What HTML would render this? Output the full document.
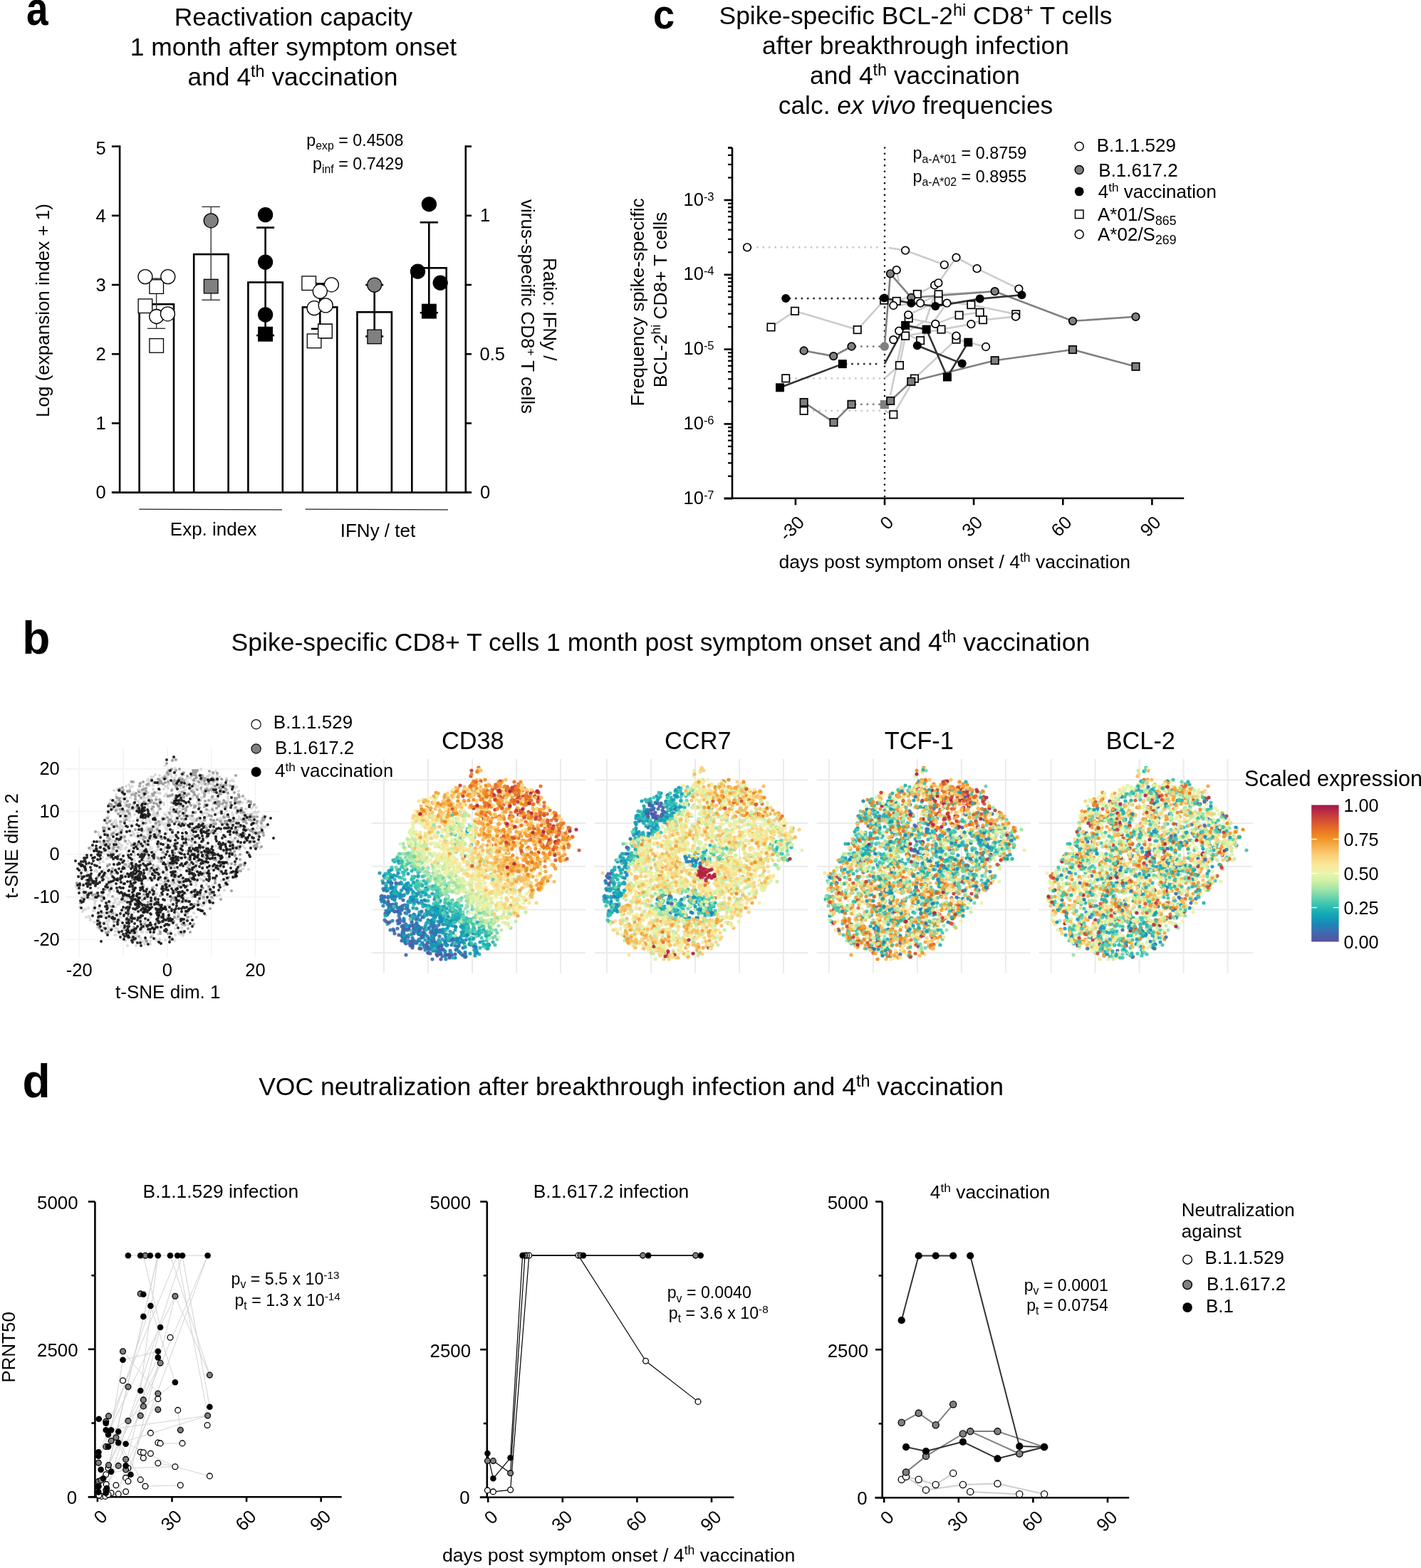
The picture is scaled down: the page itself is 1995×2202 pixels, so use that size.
<!DOCTYPE html>
<html><head><meta charset="utf-8"><title>Figure</title>
<style>
html,body{margin:0;padding:0;background:#fff;}
body{width:1995px;height:2202px;overflow:hidden;}
svg{display:block;}
text{font-family:"Liberation Sans", Arial, Helvetica, sans-serif;fill:#000;}
</style></head><body>
<svg width="1995" height="2202" viewBox="0 0 1995 2202">
<rect width="1995" height="2202" fill="#fff"/>
<text transform="translate(37 34.5) scale(0.86 1.03)" x="0" y="0" font-size="64" font-weight="bold">a</text>
<text transform="translate(31.2 917.8) scale(1.0 1.0)" x="0" y="0" font-size="64" font-weight="bold">b</text>
<text transform="translate(917 39.8) scale(0.85 0.9)" x="0" y="0" font-size="64" font-weight="bold">c</text>
<text transform="translate(31.5 1541.2) scale(1.0 1.03)" x="0" y="0" font-size="64" font-weight="bold">d</text>
<text x="412" y="35.5" font-size="35.4" text-anchor="middle">Reactivation capacity</text>
<text x="412" y="77.6" font-size="35.4" text-anchor="middle">1 month after symptom onset</text>
<text x="411" y="120.4" font-size="35.4" text-anchor="middle"><tspan>and 4</tspan><tspan font-size="23.4" dy="-12">th</tspan><tspan dy="12"> vaccination</tspan></text>
<text x="566.5" y="204.6" font-size="23.3" text-anchor="end"><tspan>p</tspan><tspan font-size="15.8" dy="5.1">exp</tspan><tspan dy="-5.1"> = 0.4508</tspan></text>
<text x="566.5" y="237.5" font-size="23.3" text-anchor="end"><tspan>p</tspan><tspan font-size="15.8" dy="5.1">inf</tspan><tspan dy="-5.1"> = 0.7429</tspan></text>
<line x1="168.1" y1="204.2" x2="168.1" y2="692.9" stroke="#000" stroke-width="2.6"/>
<line x1="156.9" y1="691.6" x2="168.1" y2="691.6" stroke="#000" stroke-width="2.6"/>
<text x="148.8" y="700.4" font-size="25.5" text-anchor="end">0</text>
<line x1="156.9" y1="594.4" x2="168.1" y2="594.4" stroke="#000" stroke-width="2.6"/>
<text x="148.8" y="603.2" font-size="25.5" text-anchor="end">1</text>
<line x1="156.9" y1="497.2" x2="168.1" y2="497.2" stroke="#000" stroke-width="2.6"/>
<text x="148.8" y="506" font-size="25.5" text-anchor="end">2</text>
<line x1="156.9" y1="400" x2="168.1" y2="400" stroke="#000" stroke-width="2.6"/>
<text x="148.8" y="408.8" font-size="25.5" text-anchor="end">3</text>
<line x1="156.9" y1="302.8" x2="168.1" y2="302.8" stroke="#000" stroke-width="2.6"/>
<text x="148.8" y="311.6" font-size="25.5" text-anchor="end">4</text>
<line x1="156.9" y1="205.6" x2="168.1" y2="205.6" stroke="#000" stroke-width="2.6"/>
<text x="148.8" y="217.1" font-size="25.5" text-anchor="end">5</text>
<line x1="156.9" y1="691.6" x2="662" y2="691.6" stroke="#000" stroke-width="2.6"/>
<line x1="653.8" y1="204.2" x2="653.8" y2="691.6" stroke="#000" stroke-width="2.6"/>
<line x1="653.8" y1="691.6" x2="662" y2="691.6" stroke="#000" stroke-width="2.6"/>
<line x1="653.8" y1="594.4" x2="662" y2="594.4" stroke="#000" stroke-width="2.6"/>
<line x1="653.8" y1="497.2" x2="662" y2="497.2" stroke="#000" stroke-width="2.6"/>
<line x1="653.8" y1="400" x2="662" y2="400" stroke="#000" stroke-width="2.6"/>
<line x1="653.8" y1="302.8" x2="662" y2="302.8" stroke="#000" stroke-width="2.6"/>
<line x1="653.8" y1="205.6" x2="662" y2="205.6" stroke="#000" stroke-width="2.6"/>
<text x="674" y="311.1" font-size="25.5">1</text>
<text x="673.5" y="506" font-size="25.5">0.5</text>
<text x="674" y="700.4" font-size="25.5">0</text>
<text transform="translate(69 436) rotate(-90)" x="0" y="0" font-size="26" text-anchor="middle">Log (expansion index + 1)</text>
<text transform="translate(762.5 434.3) rotate(90)" x="0" y="0" font-size="26" text-anchor="middle">Ratio: IFNy /</text>
<text transform="translate(731.5 430.5) rotate(90)" x="0" y="0" font-size="26" text-anchor="middle"><tspan>virus-specific CD8</tspan><tspan font-size="17.2" dy="-8.8">+</tspan><tspan dy="8.8"> T cells</tspan></text>
<rect x="195.6" y="427.2" width="48.4" height="264.4" fill="#fff" stroke="#000" stroke-width="2.6"/>
<rect x="272.2" y="357.1" width="48.4" height="334.5" fill="#fff" stroke="#000" stroke-width="2.6"/>
<rect x="348.4" y="396.5" width="48.4" height="295.1" fill="#fff" stroke="#000" stroke-width="2.6"/>
<rect x="424.9" y="431.4" width="48.4" height="260.2" fill="#fff" stroke="#000" stroke-width="2.6"/>
<rect x="501.5" y="438.3" width="48.4" height="253.3" fill="#fff" stroke="#000" stroke-width="2.6"/>
<rect x="578.3" y="376.3" width="48.4" height="315.3" fill="#fff" stroke="#000" stroke-width="2.6"/>
<line x1="219.6" y1="391.1" x2="219.6" y2="461.3" stroke="#333" stroke-width="1.4"/>
<line x1="207.1" y1="391.1" x2="232.1" y2="391.1" stroke="#333" stroke-width="1.4"/>
<line x1="207.1" y1="461.3" x2="232.1" y2="461.3" stroke="#333" stroke-width="1.4"/>
<line x1="296.2" y1="290.4" x2="296.2" y2="421.3" stroke="#333" stroke-width="1.4"/>
<line x1="283.4" y1="290.4" x2="308.9" y2="290.4" stroke="#333" stroke-width="1.4"/>
<line x1="283.4" y1="421.3" x2="308.9" y2="421.3" stroke="#333" stroke-width="1.4"/>
<line x1="372.6" y1="319.6" x2="372.6" y2="471" stroke="#000" stroke-width="2.6"/>
<line x1="360.1" y1="319.6" x2="385.1" y2="319.6" stroke="#000" stroke-width="2.6"/>
<line x1="360.1" y1="471" x2="385.1" y2="471" stroke="#000" stroke-width="2.6"/>
<line x1="449.3" y1="398.5" x2="449.3" y2="461.8" stroke="#000" stroke-width="2.6"/>
<line x1="436.8" y1="398.5" x2="461.8" y2="398.5" stroke="#000" stroke-width="2.6"/>
<line x1="436.8" y1="461.8" x2="461.8" y2="461.8" stroke="#000" stroke-width="2.6"/>
<line x1="525.7" y1="400.1" x2="525.7" y2="472.4" stroke="#000" stroke-width="2.6"/>
<line x1="513.2" y1="400.1" x2="538.2" y2="400.1" stroke="#000" stroke-width="2.6"/>
<line x1="513.2" y1="472.4" x2="538.2" y2="472.4" stroke="#000" stroke-width="2.6"/>
<line x1="602.3" y1="312.3" x2="602.3" y2="439.2" stroke="#000" stroke-width="2.6"/>
<line x1="589.7" y1="312.3" x2="614.9" y2="312.3" stroke="#000" stroke-width="2.6"/>
<line x1="589.7" y1="439.2" x2="614.9" y2="439.2" stroke="#000" stroke-width="2.6"/>
<rect x="209.9" y="392.8" width="19.6" height="19.6" fill="#fff" stroke="#000" stroke-width="1.3"/>
<rect x="194.1" y="419.9" width="19.6" height="19.6" fill="#fff" stroke="#000" stroke-width="1.3"/>
<rect x="209.9" y="475.6" width="19.6" height="19.6" fill="#fff" stroke="#000" stroke-width="1.3"/>
<circle cx="203.9" cy="388.6" r="10" fill="#fff" stroke="#000" stroke-width="1.3"/>
<circle cx="235.8" cy="388.6" r="10" fill="#fff" stroke="#000" stroke-width="1.3"/>
<circle cx="219.7" cy="444.5" r="10" fill="#fff" stroke="#000" stroke-width="1.3"/>
<circle cx="235.4" cy="440.8" r="10" fill="#fff" stroke="#000" stroke-width="1.3"/>
<circle cx="296.2" cy="309.8" r="10" fill="#808080" stroke="#000" stroke-width="1.3"/>
<rect x="286.4" y="392.3" width="19.6" height="19.6" fill="#808080" stroke="#000" stroke-width="1.3"/>
<circle cx="372.6" cy="301.6" r="10" fill="#000" stroke="#000" stroke-width="1.3"/>
<circle cx="372.6" cy="368.1" r="10" fill="#000" stroke="#000" stroke-width="1.3"/>
<circle cx="372.6" cy="441.9" r="10" fill="#000" stroke="#000" stroke-width="1.3"/>
<rect x="362.8" y="459.4" width="19.6" height="19.6" fill="#000" stroke="#000" stroke-width="1.3"/>
<rect x="423.9" y="387.9" width="19.6" height="19.6" fill="#fff" stroke="#000" stroke-width="1.3"/>
<rect x="446.7" y="455.2" width="19.6" height="19.6" fill="#fff" stroke="#000" stroke-width="1.3"/>
<rect x="431.3" y="469" width="19.6" height="19.6" fill="#fff" stroke="#000" stroke-width="1.3"/>
<circle cx="465.4" cy="399.8" r="10" fill="#fff" stroke="#000" stroke-width="1.3"/>
<circle cx="449.3" cy="409.2" r="10" fill="#fff" stroke="#000" stroke-width="1.3"/>
<circle cx="441.1" cy="432.7" r="10" fill="#fff" stroke="#000" stroke-width="1.3"/>
<circle cx="457.2" cy="428.9" r="10" fill="#fff" stroke="#000" stroke-width="1.3"/>
<rect x="446.7" y="455.2" width="19.6" height="19.6" fill="#fff" stroke="#000" stroke-width="1.3"/>
<circle cx="525.7" cy="400.1" r="10" fill="#808080" stroke="#000" stroke-width="1.3"/>
<rect x="515.9" y="463.1" width="19.6" height="19.6" fill="#808080" stroke="#000" stroke-width="1.3"/>
<circle cx="602.4" cy="286.8" r="10" fill="#000" stroke="#000" stroke-width="1.3"/>
<circle cx="586.5" cy="381.2" r="10" fill="#000" stroke="#000" stroke-width="1.3"/>
<circle cx="618.2" cy="397.2" r="10" fill="#000" stroke="#000" stroke-width="1.3"/>
<rect x="592.6" y="427.3" width="19.6" height="19.6" fill="#000" stroke="#000" stroke-width="1.3"/>
<line x1="195.2" y1="715.2" x2="396" y2="715.8" stroke="#222" stroke-width="1.3"/>
<line x1="428.6" y1="715.2" x2="629" y2="715.8" stroke="#222" stroke-width="1.3"/>
<text x="299.5" y="752.3" font-size="26" text-anchor="middle">Exp. index</text>
<text x="530.5" y="754.3" font-size="26" text-anchor="middle">IFNy / tet</text>
<text x="1285.5" y="34.2" font-size="35.4" text-anchor="middle"><tspan>Spike-specific BCL-2</tspan><tspan font-size="23.4" dy="-12">hi</tspan><tspan dy="12"> CD8</tspan><tspan font-size="23.4" dy="-12">+</tspan><tspan dy="12"> T cells</tspan></text>
<text x="1285.5" y="75.8" font-size="35.4" text-anchor="middle">after breakthrough infection</text>
<text x="1284.5" y="118.3" font-size="35.4" text-anchor="middle"><tspan>and 4</tspan><tspan font-size="23.4" dy="-12">th</tspan><tspan dy="12"> vaccination</tspan></text>
<text x="1285.5" y="159.9" font-size="35.4" text-anchor="middle"><tspan>calc. </tspan><tspan font-style="italic">ex vivo</tspan><tspan> frequencies</tspan></text>
<line x1="1028" y1="207.4" x2="1028" y2="701.1" stroke="#000" stroke-width="2.6"/>
<line x1="1022" y1="207.4" x2="1028" y2="207.4" stroke="#000" stroke-width="2.6"/>
<line x1="1016.6" y1="281" x2="1028" y2="281" stroke="#000" stroke-width="2.6"/>
<text x="959.5" y="288.6" font-size="25.5">10<tspan font-size="16.5" dy="-7">-3</tspan></text>
<line x1="1016.6" y1="385.8" x2="1028" y2="385.8" stroke="#000" stroke-width="2.6"/>
<text x="959.5" y="393.4" font-size="25.5">10<tspan font-size="16.5" dy="-7">-4</tspan></text>
<line x1="1016.6" y1="490.6" x2="1028" y2="490.6" stroke="#000" stroke-width="2.6"/>
<text x="959.5" y="498.2" font-size="25.5">10<tspan font-size="16.5" dy="-7">-5</tspan></text>
<line x1="1016.6" y1="595.4" x2="1028" y2="595.4" stroke="#000" stroke-width="2.6"/>
<text x="959.5" y="603" font-size="25.5">10<tspan font-size="16.5" dy="-7">-6</tspan></text>
<line x1="1016.6" y1="700.2" x2="1028" y2="700.2" stroke="#000" stroke-width="2.6"/>
<text x="959.5" y="707.8" font-size="25.5">10<tspan font-size="16.5" dy="-7">-7</tspan></text>
<line x1="1022" y1="249.5" x2="1028" y2="249.5" stroke="#000" stroke-width="2.2"/>
<line x1="1022" y1="231" x2="1028" y2="231" stroke="#000" stroke-width="2.2"/>
<line x1="1022" y1="217.9" x2="1028" y2="217.9" stroke="#000" stroke-width="2.2"/>
<line x1="1022" y1="207.7" x2="1028" y2="207.7" stroke="#000" stroke-width="2.2"/>
<line x1="1022" y1="354.3" x2="1028" y2="354.3" stroke="#000" stroke-width="2.2"/>
<line x1="1022" y1="335.8" x2="1028" y2="335.8" stroke="#000" stroke-width="2.2"/>
<line x1="1022" y1="322.7" x2="1028" y2="322.7" stroke="#000" stroke-width="2.2"/>
<line x1="1022" y1="312.5" x2="1028" y2="312.5" stroke="#000" stroke-width="2.2"/>
<line x1="1022" y1="304.2" x2="1028" y2="304.2" stroke="#000" stroke-width="2.2"/>
<line x1="1022" y1="297.2" x2="1028" y2="297.2" stroke="#000" stroke-width="2.2"/>
<line x1="1022" y1="291.2" x2="1028" y2="291.2" stroke="#000" stroke-width="2.2"/>
<line x1="1022" y1="285.8" x2="1028" y2="285.8" stroke="#000" stroke-width="2.2"/>
<line x1="1022" y1="459.1" x2="1028" y2="459.1" stroke="#000" stroke-width="2.2"/>
<line x1="1022" y1="440.6" x2="1028" y2="440.6" stroke="#000" stroke-width="2.2"/>
<line x1="1022" y1="427.5" x2="1028" y2="427.5" stroke="#000" stroke-width="2.2"/>
<line x1="1022" y1="417.3" x2="1028" y2="417.3" stroke="#000" stroke-width="2.2"/>
<line x1="1022" y1="409" x2="1028" y2="409" stroke="#000" stroke-width="2.2"/>
<line x1="1022" y1="402" x2="1028" y2="402" stroke="#000" stroke-width="2.2"/>
<line x1="1022" y1="396" x2="1028" y2="396" stroke="#000" stroke-width="2.2"/>
<line x1="1022" y1="390.6" x2="1028" y2="390.6" stroke="#000" stroke-width="2.2"/>
<line x1="1022" y1="563.9" x2="1028" y2="563.9" stroke="#000" stroke-width="2.2"/>
<line x1="1022" y1="545.4" x2="1028" y2="545.4" stroke="#000" stroke-width="2.2"/>
<line x1="1022" y1="532.3" x2="1028" y2="532.3" stroke="#000" stroke-width="2.2"/>
<line x1="1022" y1="522.1" x2="1028" y2="522.1" stroke="#000" stroke-width="2.2"/>
<line x1="1022" y1="513.8" x2="1028" y2="513.8" stroke="#000" stroke-width="2.2"/>
<line x1="1022" y1="506.8" x2="1028" y2="506.8" stroke="#000" stroke-width="2.2"/>
<line x1="1022" y1="500.8" x2="1028" y2="500.8" stroke="#000" stroke-width="2.2"/>
<line x1="1022" y1="495.4" x2="1028" y2="495.4" stroke="#000" stroke-width="2.2"/>
<line x1="1022" y1="668.7" x2="1028" y2="668.7" stroke="#000" stroke-width="2.2"/>
<line x1="1022" y1="650.2" x2="1028" y2="650.2" stroke="#000" stroke-width="2.2"/>
<line x1="1022" y1="637.1" x2="1028" y2="637.1" stroke="#000" stroke-width="2.2"/>
<line x1="1022" y1="626.9" x2="1028" y2="626.9" stroke="#000" stroke-width="2.2"/>
<line x1="1022" y1="618.6" x2="1028" y2="618.6" stroke="#000" stroke-width="2.2"/>
<line x1="1022" y1="611.6" x2="1028" y2="611.6" stroke="#000" stroke-width="2.2"/>
<line x1="1022" y1="605.6" x2="1028" y2="605.6" stroke="#000" stroke-width="2.2"/>
<line x1="1022" y1="600.2" x2="1028" y2="600.2" stroke="#000" stroke-width="2.2"/>
<line x1="1016.8" y1="699.8" x2="1662.2" y2="699.8" stroke="#000" stroke-width="2.6"/>
<line x1="1116.9" y1="699.8" x2="1116.9" y2="709.3" stroke="#000" stroke-width="2.6"/>
<text transform="translate(1130.9 735.3) rotate(-45)" x="0" y="0" font-size="25.5" text-anchor="end">-30</text>
<line x1="1242" y1="699.8" x2="1242" y2="709.3" stroke="#000" stroke-width="2.6"/>
<text transform="translate(1256 735.3) rotate(-45)" x="0" y="0" font-size="25.5" text-anchor="end">0</text>
<line x1="1367.1" y1="699.8" x2="1367.1" y2="709.3" stroke="#000" stroke-width="2.6"/>
<text transform="translate(1381.1 735.3) rotate(-45)" x="0" y="0" font-size="25.5" text-anchor="end">30</text>
<line x1="1492.3" y1="699.8" x2="1492.3" y2="709.3" stroke="#000" stroke-width="2.6"/>
<text transform="translate(1506.3 735.3) rotate(-45)" x="0" y="0" font-size="25.5" text-anchor="end">60</text>
<line x1="1617.4" y1="699.8" x2="1617.4" y2="709.3" stroke="#000" stroke-width="2.6"/>
<text transform="translate(1631.4 735.3) rotate(-45)" x="0" y="0" font-size="25.5" text-anchor="end">90</text>
<text x="1340.3" y="797.9" font-size="26.6" text-anchor="middle"><tspan>days post symptom onset / 4</tspan><tspan font-size="17.6" dy="-9">th</tspan><tspan dy="9"> vaccination</tspan></text>
<text transform="translate(903.5 424.3) rotate(-90)" x="0" y="0" font-size="26.5" text-anchor="middle" textLength="292.4" lengthAdjust="spacingAndGlyphs">Frequency spike-specific</text>
<text transform="translate(935.6 421) rotate(-90)" x="0" y="0" font-size="26.5" text-anchor="middle" textLength="246.4" lengthAdjust="spacingAndGlyphs"><tspan>BCL-2</tspan><tspan font-size="17.5" dy="-9">hi</tspan><tspan dy="9"> CD8+ T cells</tspan></text>
<line x1="1242" y1="207.5" x2="1242" y2="699" stroke="#000" stroke-width="2.6" stroke-dasharray="0 8.3" stroke-linecap="round"/>
<polyline points="1082.5,459.4 1116,436.8 1203.7,463.1 1241.2,421.6" fill="none" stroke="#cccccc" stroke-width="2.6" stroke-linejoin="round"/>
<polyline points="1241.2,421.6 1258.7,422.9 1287.8,413 1312.1,400.5" fill="none" stroke="#cccccc" stroke-width="2.6" stroke-linejoin="round"/>
<polyline points="1248,348 1271.1,351.7 1325.8,371.8" fill="none" stroke="#cccccc" stroke-width="2.6" stroke-linejoin="round"/>
<polyline points="1317.4,397.3 1342.5,361.6 1371.6,377.2 1430.4,405.6" fill="none" stroke="#cccccc" stroke-width="2.6" stroke-linejoin="round"/>
<polyline points="1254.3,429 1292.1,425.7 1317.6,413.4 1396,409" fill="none" stroke="#cccccc" stroke-width="2.6" stroke-linejoin="round"/>
<polyline points="1275.2,442.1 1317.6,422.4 1363.4,428.1 1426.3,441.3" fill="none" stroke="#cccccc" stroke-width="2.6" stroke-linejoin="round"/>
<polyline points="1275.7,447 1313.3,454.9 1346.6,442.6 1375.7,438.8" fill="none" stroke="#cccccc" stroke-width="2.6" stroke-linejoin="round"/>
<polyline points="1271.1,471.7 1321.5,462.6 1363.4,455.2 1380,449.2 1426,444.6" fill="none" stroke="#cccccc" stroke-width="2.6" stroke-linejoin="round"/>
<polyline points="1262.2,464.6 1292.1,478.2 1329.4,425.7" fill="none" stroke="#cccccc" stroke-width="2.6" stroke-linejoin="round"/>
<polyline points="1254.3,477.1 1300,450 1317.4,397.3" fill="none" stroke="#cccccc" stroke-width="2.6" stroke-linejoin="round"/>
<polyline points="1242,531.3 1262.9,513.1 1271.1,471.7" fill="none" stroke="#cccccc" stroke-width="2.6" stroke-linejoin="round"/>
<polyline points="1242,576.8 1254.3,582.2 1283.9,531.6 1342.5,476.6 1384.1,487" fill="none" stroke="#cccccc" stroke-width="2.6" stroke-linejoin="round"/>
<polyline points="1250,555 1266,480 1275.2,442.1" fill="none" stroke="#cccccc" stroke-width="2.6" stroke-linejoin="round"/>
<polyline points="1321.5,462.6 1342.5,471.7 1342.5,476.6" fill="none" stroke="#cccccc" stroke-width="2.6" stroke-linejoin="round"/>
<polyline points="1258.4,379.2 1262,395" fill="none" stroke="#cccccc" stroke-width="2.6" stroke-linejoin="round"/>
<line x1="1055" y1="347.3" x2="1238" y2="347.3" stroke="#cccccc" stroke-width="3" stroke-dasharray="0 8.4" stroke-linecap="round"/>
<line x1="1109" y1="531.3" x2="1238" y2="531.3" stroke="#cccccc" stroke-width="3" stroke-dasharray="0 8.4" stroke-linecap="round"/>
<line x1="1134" y1="576.8" x2="1238" y2="576.8" stroke="#cccccc" stroke-width="3" stroke-dasharray="0 8.4" stroke-linecap="round"/>
<line x1="1109" y1="418.9" x2="1236" y2="418.9" stroke="#333333" stroke-width="3" stroke-dasharray="0 8.4" stroke-linecap="round"/>
<line x1="1188" y1="511.1" x2="1236" y2="511.1" stroke="#333333" stroke-width="3" stroke-dasharray="0 8.4" stroke-linecap="round"/>
<line x1="1201" y1="486.5" x2="1236" y2="486.5" stroke="#808080" stroke-width="3" stroke-dasharray="0 8.4" stroke-linecap="round"/>
<line x1="1201" y1="567.8" x2="1236" y2="567.8" stroke="#808080" stroke-width="3" stroke-dasharray="0 8.4" stroke-linecap="round"/>
<polyline points="1128.6,492.5 1170.2,500.1 1195.5,486.5" fill="none" stroke="#808080" stroke-width="2.6" stroke-linejoin="round"/>
<polyline points="1241.8,486.5 1250,384.3 1279.3,418 1396.7,409.2 1506,450.8 1594.5,444.8" fill="none" stroke="#808080" stroke-width="2.6" stroke-linejoin="round"/>
<polyline points="1128.6,565 1170.5,593.2 1195.5,567.8" fill="none" stroke="#808080" stroke-width="2.6" stroke-linejoin="round"/>
<polyline points="1241.8,568.1 1250.2,562.9 1279.3,535.8 1396.7,506.2 1506,491 1594.5,514.8" fill="none" stroke="#808080" stroke-width="2.6" stroke-linejoin="round"/>
<polyline points="1241.5,418.6 1279.3,425.7 1313.3,430.1 1375.7,419.6 1434.5,414.2" fill="none" stroke="#333333" stroke-width="2.6" stroke-linejoin="round"/>
<polyline points="1287.8,485.3 1350.7,510.6" fill="none" stroke="#333333" stroke-width="2.6" stroke-linejoin="round"/>
<polyline points="1095,544.3 1182.8,511.1" fill="none" stroke="#333333" stroke-width="2.6" stroke-linejoin="round"/>
<polyline points="1241.8,511.1 1271.1,456.9 1300.6,462.6 1329.9,529.5 1359.3,480.7" fill="none" stroke="#333333" stroke-width="2.6" stroke-linejoin="round"/>
<rect x="1077.3" y="454.2" width="10.4" height="10.4" fill="#fff" stroke="#000" stroke-width="1.7"/>
<rect x="1110.8" y="431.6" width="10.4" height="10.4" fill="#fff" stroke="#000" stroke-width="1.7"/>
<rect x="1198.5" y="457.9" width="10.4" height="10.4" fill="#fff" stroke="#000" stroke-width="1.7"/>
<rect x="1098" y="526.1" width="10.4" height="10.4" fill="#fff" stroke="#000" stroke-width="1.7"/>
<rect x="1123.4" y="571.6" width="10.4" height="10.4" fill="#fff" stroke="#000" stroke-width="1.7"/>
<rect x="1236" y="416.4" width="10.4" height="10.4" fill="#fff" stroke="#000" stroke-width="1.7"/>
<rect x="1253.5" y="417.7" width="10.4" height="10.4" fill="#fff" stroke="#000" stroke-width="1.7"/>
<rect x="1282.6" y="407.8" width="10.4" height="10.4" fill="#fff" stroke="#000" stroke-width="1.7"/>
<rect x="1312.4" y="408.2" width="10.4" height="10.4" fill="#fff" stroke="#000" stroke-width="1.7"/>
<rect x="1312.4" y="417.2" width="10.4" height="10.4" fill="#fff" stroke="#000" stroke-width="1.7"/>
<rect x="1358.2" y="422.9" width="10.4" height="10.4" fill="#fff" stroke="#000" stroke-width="1.7"/>
<rect x="1370.5" y="433.6" width="10.4" height="10.4" fill="#fff" stroke="#000" stroke-width="1.7"/>
<rect x="1341.4" y="437.4" width="10.4" height="10.4" fill="#fff" stroke="#000" stroke-width="1.7"/>
<rect x="1421.1" y="436.1" width="10.4" height="10.4" fill="#fff" stroke="#000" stroke-width="1.7"/>
<rect x="1374.8" y="444" width="10.4" height="10.4" fill="#fff" stroke="#000" stroke-width="1.7"/>
<rect x="1270.5" y="441.8" width="10.4" height="10.4" fill="#fff" stroke="#000" stroke-width="1.7"/>
<rect x="1265.9" y="466.5" width="10.4" height="10.4" fill="#fff" stroke="#000" stroke-width="1.7"/>
<rect x="1316.3" y="457.4" width="10.4" height="10.4" fill="#fff" stroke="#000" stroke-width="1.7"/>
<rect x="1286.9" y="473" width="10.4" height="10.4" fill="#fff" stroke="#000" stroke-width="1.7"/>
<rect x="1337.3" y="471.4" width="10.4" height="10.4" fill="#fff" stroke="#000" stroke-width="1.7"/>
<rect x="1257.7" y="507.9" width="10.4" height="10.4" fill="#fff" stroke="#000" stroke-width="1.7"/>
<rect x="1278.7" y="526.4" width="10.4" height="10.4" fill="#fff" stroke="#000" stroke-width="1.7"/>
<rect x="1249.1" y="577" width="10.4" height="10.4" fill="#fff" stroke="#000" stroke-width="1.7"/>
<circle cx="1049" cy="347.3" r="5.3" fill="#fff" stroke="#000" stroke-width="1.7"/>
<circle cx="1271.1" cy="351.7" r="5.3" fill="#fff" stroke="#000" stroke-width="1.7"/>
<circle cx="1325.8" cy="371.8" r="5.3" fill="#fff" stroke="#000" stroke-width="1.7"/>
<circle cx="1342.5" cy="361.6" r="5.3" fill="#fff" stroke="#000" stroke-width="1.7"/>
<circle cx="1371.6" cy="377.2" r="5.3" fill="#fff" stroke="#000" stroke-width="1.7"/>
<circle cx="1430.4" cy="405.6" r="5.3" fill="#fff" stroke="#000" stroke-width="1.7"/>
<circle cx="1258.7" cy="379.2" r="5.3" fill="#fff" stroke="#000" stroke-width="1.7"/>
<circle cx="1312.1" cy="400.5" r="5.3" fill="#fff" stroke="#000" stroke-width="1.7"/>
<circle cx="1317.4" cy="397.3" r="5.3" fill="#fff" stroke="#000" stroke-width="1.7"/>
<circle cx="1254.3" cy="429" r="5.3" fill="#fff" stroke="#000" stroke-width="1.7"/>
<circle cx="1292.1" cy="425.7" r="5.3" fill="#fff" stroke="#000" stroke-width="1.7"/>
<circle cx="1329.4" cy="425.7" r="5.3" fill="#fff" stroke="#000" stroke-width="1.7"/>
<circle cx="1275.2" cy="442.1" r="5.3" fill="#fff" stroke="#000" stroke-width="1.7"/>
<circle cx="1313.3" cy="454.9" r="5.3" fill="#fff" stroke="#000" stroke-width="1.7"/>
<circle cx="1363.4" cy="455.2" r="5.3" fill="#fff" stroke="#000" stroke-width="1.7"/>
<circle cx="1426" cy="444.6" r="5.3" fill="#fff" stroke="#000" stroke-width="1.7"/>
<circle cx="1262.2" cy="464.6" r="5.3" fill="#fff" stroke="#000" stroke-width="1.7"/>
<circle cx="1254.3" cy="477.1" r="5.3" fill="#fff" stroke="#000" stroke-width="1.7"/>
<circle cx="1342.5" cy="471.7" r="5.3" fill="#fff" stroke="#000" stroke-width="1.7"/>
<circle cx="1384.1" cy="487" r="5.3" fill="#fff" stroke="#000" stroke-width="1.7"/>
<circle cx="1241.8" cy="486.5" r="6.2" fill="#808080"/>
<rect x="1235.7" y="562" width="12.2" height="12.2" fill="#808080"/>
<circle cx="1128.6" cy="492.5" r="5.3" fill="#808080" stroke="#000" stroke-width="1.7"/>
<circle cx="1170.2" cy="500.1" r="5.3" fill="#808080" stroke="#000" stroke-width="1.7"/>
<circle cx="1195.5" cy="486.5" r="5.3" fill="#808080" stroke="#000" stroke-width="1.7"/>
<circle cx="1250" cy="384.3" r="5.3" fill="#808080" stroke="#000" stroke-width="1.7"/>
<circle cx="1279.3" cy="418" r="5.3" fill="#808080" stroke="#000" stroke-width="1.7"/>
<circle cx="1396.7" cy="409.2" r="5.3" fill="#808080" stroke="#000" stroke-width="1.7"/>
<circle cx="1506" cy="450.8" r="5.3" fill="#808080" stroke="#000" stroke-width="1.7"/>
<circle cx="1594.5" cy="444.8" r="5.3" fill="#808080" stroke="#000" stroke-width="1.7"/>
<rect x="1123.4" y="559.8" width="10.4" height="10.4" fill="#808080" stroke="#000" stroke-width="1.7"/>
<rect x="1165.3" y="588" width="10.4" height="10.4" fill="#808080" stroke="#000" stroke-width="1.7"/>
<rect x="1190.3" y="562.6" width="10.4" height="10.4" fill="#808080" stroke="#000" stroke-width="1.7"/>
<rect x="1245" y="557.7" width="10.4" height="10.4" fill="#808080" stroke="#000" stroke-width="1.7"/>
<rect x="1274.1" y="530.6" width="10.4" height="10.4" fill="#808080" stroke="#000" stroke-width="1.7"/>
<rect x="1391.5" y="501" width="10.4" height="10.4" fill="#808080" stroke="#000" stroke-width="1.7"/>
<rect x="1500.8" y="485.8" width="10.4" height="10.4" fill="#808080" stroke="#000" stroke-width="1.7"/>
<rect x="1589.3" y="509.6" width="10.4" height="10.4" fill="#808080" stroke="#000" stroke-width="1.7"/>
<circle cx="1103.2" cy="418.9" r="6.0" fill="#000"/>
<circle cx="1241.5" cy="418.6" r="6.0" fill="#000"/>
<circle cx="1279.3" cy="425.7" r="6.0" fill="#000"/>
<circle cx="1313.3" cy="430.1" r="6.0" fill="#000"/>
<circle cx="1375.7" cy="419.6" r="6.0" fill="#000"/>
<circle cx="1434.5" cy="414.2" r="6.0" fill="#000"/>
<circle cx="1287.8" cy="485.3" r="6.0" fill="#000"/>
<circle cx="1350.7" cy="510.6" r="6.0" fill="#000"/>
<rect x="1089" y="538.3" width="12" height="12" fill="#000"/>
<rect x="1176.8" y="505.1" width="12" height="12" fill="#000"/>
<rect x="1265.1" y="450.9" width="12" height="12" fill="#000"/>
<rect x="1294.6" y="456.6" width="12" height="12" fill="#000"/>
<rect x="1323.9" y="523.5" width="12" height="12" fill="#000"/>
<rect x="1353.3" y="474.7" width="12" height="12" fill="#000"/>
<text x="1281.5" y="223.4" font-size="23.4"><tspan>p</tspan><tspan font-size="15.9" dy="5.1">a-A*01</tspan><tspan dy="-5.1"> = 0.8759</tspan></text>
<text x="1281.5" y="256.2" font-size="23.4"><tspan>p</tspan><tspan font-size="15.9" dy="5.1">a-A*02</tspan><tspan dy="-5.1"> = 0.8955</tspan></text>
<circle cx="1515.2" cy="205.5" r="6.0" fill="#fff" stroke="#000" stroke-width="1.5"/>
<circle cx="1515.2" cy="238.6" r="6.0" fill="#808080" stroke="#000" stroke-width="1.5"/>
<circle cx="1515.2" cy="268.9" r="6.4" fill="#000"/>
<rect x="1509.5" y="295.1" width="11.5" height="11.5" fill="#fff" stroke="#000" stroke-width="1.5"/>
<circle cx="1515.2" cy="329.1" r="6.0" fill="#fff" stroke="#000" stroke-width="1.5"/>
<text x="1539.7" y="213.4" font-size="26">B.1.1.529</text>
<text x="1542.3" y="247.8" font-size="26">B.1.617.2</text>
<text x="1541.8" y="277.8" font-size="26"><tspan>4</tspan><tspan font-size="17.2" dy="-8.8">th</tspan><tspan dy="8.8"> vaccination</tspan></text>
<text x="1541" y="310.1" font-size="26"><tspan>A*01/S</tspan><tspan font-size="17.7" dy="5.7">865</tspan></text>
<text x="1541" y="337.7" font-size="26"><tspan>A*02/S</tspan><tspan font-size="17.7" dy="5.7">269</tspan></text>
<text x="324.5" y="913.8" font-size="35.6"><tspan>Spike-specific CD8+ T cells 1 month post symptom onset and 4</tspan><tspan font-size="23.5" dy="-12.1">th</tspan><tspan dy="12.1"> vaccination</tspan></text>
<path d="M111.3 1049.7V1344.3M92.2 1319.5H392.1M173.1 1049.7V1344.3M92.2 1259.6H392.1M234.9 1049.7V1344.3M92.2 1199.7H392.1M296.7 1049.7V1344.3M92.2 1139.8H392.1M358.5 1049.7V1344.3M92.2 1079.9H392.1" stroke="#f3f3f3" stroke-width="1.6" fill="none"/>
<defs><filter id="bl" x="-5%" y="-5%" width="110%" height="110%"><feGaussianBlur stdDeviation="0.5"/></filter><filter id="bl2" x="-5%" y="-5%" width="110%" height="110%"><feGaussianBlur stdDeviation="0.4"/></filter></defs>
<g filter="url(#bl)">
<path d="M187 1133h0M329 1135h0M201 1227h0M133 1272h0M189 1213h0M155 1133h0M210 1096h0M288 1232h0M296 1265h0M150 1271h0M146 1167h0M213 1133h0M193 1232h0M240 1083h0M168 1312h0M235 1156h0M176 1182h0M328 1180h0M336 1215h0M320 1119h0M160 1268h0M326 1150h0M314 1186h0M228 1148h0M150 1206h0M213 1314h0M171 1111h0M260 1095h0M235 1233h0M150 1232h0M197 1165h0M249 1096h0M219 1283h0M309 1227h0M290 1264h0M265 1226h0M192 1308h0M345 1164h0M196 1274h0M156 1191h0M159 1293h0M182 1112h0M217 1161h0M196 1189h0M189 1209h0M153 1237h0M278 1184h0M229 1223h0M199 1272h0M366 1162h0M212 1118h0M270 1230h0M151 1214h0M170 1288h0M293 1113h0M194 1125h0M209 1102h0M173 1138h0M225 1210h0M265 1100h0M337 1185h0M235 1217h0M228 1094h0M273 1215h0M131 1257h0M254 1268h0M229 1284h0M218 1144h0M223 1206h0M244 1085h0M216 1207h0M358 1167h0M286 1151h0M168 1192h0M278 1104h0M191 1316h0M158 1289h0M213 1176h0M317 1232h0M313 1219h0M241 1238h0M214 1303h0M213 1161h0M270 1227h0M152 1193h0M221 1205h0M275 1220h0M241 1146h0M161 1294h0M304 1171h0M264 1161h0M209 1226h0M323 1097h0M256 1251h0M283 1225h0M304 1122h0M118 1231h0M207 1262h0M161 1182h0M294 1095h0M245 1215h0M203 1326h0M147 1226h0M336 1129h0M286 1196h0M218 1113h0M228 1283h0M169 1173h0M361 1174h0M230 1185h0M162 1287h0M170 1171h0M229 1282h0M320 1153h0M215 1302h0M171 1175h0M332 1105h0M176 1321h0M282 1210h0M236 1156h0M285 1217h0M284 1188h0M219 1157h0M202 1127h0M235 1259h0M303 1083h0M162 1166h0M298 1206h0M188 1133h0M354 1179h0M298 1106h0M292 1092h0M276 1270h0M204 1115h0M251 1207h0M141 1190h0M189 1241h0M237 1280h0M283 1090h0M181 1181h0M255 1241h0M233 1117h0M107 1242h0M213 1268h0M138 1241h0M212 1179h0M327 1231h0M156 1227h0M370 1148h0M145 1229h0M291 1103h0M236 1246h0M166 1255h0M245 1138h0M221 1322h0M243 1226h0M326 1110h0M187 1310h0M198 1245h0M203 1295h0M228 1243h0M153 1286h0M254 1234h0M341 1144h0M171 1207h0M219 1221h0M189 1183h0M198 1136h0M205 1151h0M280 1095h0M182 1307h0M266 1228h0M203 1194h0M235 1163h0M219 1161h0M192 1232h0M292 1146h0M297 1095h0M195 1159h0M214 1175h0M139 1283h0M134 1275h0M135 1222h0M152 1268h0M230 1203h0M207 1213h0M257 1106h0M254 1245h0M294 1199h0M330 1170h0M366 1163h0M311 1106h0M190 1315h0M286 1257h0M269 1260h0M309 1225h0M138 1285h0M277 1191h0M269 1168h0M318 1134h0M297 1156h0M224 1094h0M204 1126h0M209 1213h0M137 1283h0M230 1108h0M116 1233h0M272 1150h0M222 1145h0M165 1307h0M147 1184h0M232 1243h0M344 1122h0M328 1103h0M227 1247h0M298 1109h0M216 1133h0M224 1279h0M174 1254h0M267 1216h0M348 1146h0M260 1109h0M170 1193h0M208 1222h0M221 1163h0M275 1257h0M355 1133h0M254 1099h0M211 1121h0M319 1194h0M216 1141h0M317 1199h0M202 1322h0M164 1121h0M185 1290h0M140 1212h0M251 1253h0M112 1231h0M269 1104h0M352 1165h0M316 1212h0M252 1194h0M196 1194h0M242 1201h0M276 1250h0M117 1221h0M133 1264h0M234 1086h0M185 1267h0M155 1185h0M230 1128h0M183 1106h0M259 1266h0M191 1124h0M201 1110h0M179 1328h0M251 1285h0M171 1260h0M300 1097h0M248 1290h0M225 1241h0M301 1105h0M206 1165h0M344 1163h0M318 1139h0M319 1103h0M190 1288h0M178 1228h0M267 1232h0M270 1095h0M203 1322h0M173 1319h0M290 1224h0M267 1175h0M224 1207h0M180 1289h0M177 1120h0M247 1261h0M236 1210h0M191 1213h0M262 1114h0M268 1271h0M238 1157h0M280 1254h0M162 1159h0M220 1176h0M298 1153h0M153 1130h0M252 1135h0M277 1234h0M240 1266h0M270 1271h0M152 1147h0M293 1220h0M233 1242h0M251 1283h0M184 1255h0M116 1264h0M254 1096h0M163 1125h0M222 1174h0M259 1115h0M280 1098h0M131 1238h0M163 1221h0M252 1097h0M224 1095h0M273 1180h0M196 1302h0M176 1132h0M178 1277h0M360 1190h0M256 1308h0M235 1300h0M279 1148h0M175 1260h0M162 1189h0M283 1105h0M192 1223h0M291 1175h0M210 1098h0M153 1284h0M120 1253h0M265 1161h0M300 1138h0M349 1221h0M149 1154h0M165 1227h0M284 1272h0M201 1242h0M165 1187h0M199 1308h0M153 1129h0M201 1174h0M259 1202h0M313 1112h0M352 1146h0M184 1259h0M139 1229h0M235 1288h0M168 1185h0M205 1297h0M320 1233h0M204 1194h0M257 1154h0M183 1193h0M193 1170h0M267 1122h0M142 1264h0M133 1182h0M219 1149h0M168 1266h0M126 1262h0M347 1127h0M142 1306h0M195 1271h0M322 1157h0M283 1099h0M179 1138h0M214 1138h0M221 1186h0M196 1112h0M250 1243h0M251 1311h0M115 1231h0M200 1157h0M328 1228h0M250 1094h0M154 1197h0M215 1108h0M318 1131h0M288 1214h0M178 1129h0M369 1169h0M270 1186h0M292 1110h0M206 1309h0M219 1248h0M308 1141h0M299 1261h0M259 1283h0M246 1225h0M163 1178h0M289 1167h0M163 1140h0M179 1132h0M277 1191h0M301 1153h0M268 1287h0M158 1156h0M288 1190h0M262 1288h0M224 1321h0M310 1168h0M255 1303h0M300 1112h0M245 1228h0M236 1161h0M240 1297h0M250 1153h0M211 1178h0M302 1239h0M298 1091h0M162 1225h0M150 1218h0M297 1255h0M193 1267h0M222 1167h0M355 1142h0M245 1284h0M121 1288h0M245 1289h0M114 1223h0M332 1152h0M291 1107h0M151 1298h0M226 1209h0M209 1121h0M299 1244h0M125 1253h0M217 1127h0M183 1245h0M161 1226h0M164 1183h0M233 1229h0M305 1171h0M303 1188h0M224 1221h0M220 1122h0M306 1125h0M196 1128h0M190 1272h0M198 1293h0M239 1136h0M274 1223h0M242 1117h0M337 1214h0M285 1120h0M346 1176h0M195 1259h0M210 1153h0M315 1143h0M201 1121h0M344 1191h0M274 1105h0M340 1127h0M167 1270h0M351 1126h0M201 1175h0M318 1239h0M237 1141h0M272 1135h0M222 1276h0M211 1306h0M313 1156h0M237 1119h0M359 1191h0M256 1310h0M240 1179h0M166 1298h0M271 1165h0M197 1159h0M209 1175h0M331 1166h0M153 1293h0M270 1153h0M280 1100h0M183 1255h0M274 1116h0M134 1265h0M208 1118h0M138 1282h0M224 1097h0M286 1206h0M294 1098h0M224 1307h0M207 1209h0M232 1089h0M169 1177h0M272 1083h0M291 1091h0M333 1127h0M332 1142h0M204 1195h0M374 1159h0M241 1134h0M217 1276h0M195 1315h0M194 1110h0M177 1278h0M352 1149h0M166 1136h0M326 1095h0M297 1167h0M207 1199h0M284 1188h0M308 1215h0M212 1091h0M268 1107h0M215 1137h0M193 1137h0M216 1167h0M253 1238h0M318 1096h0M270 1271h0M256 1313h0M307 1242h0M246 1193h0M152 1245h0M137 1291h0M162 1293h0M213 1232h0M244 1260h0M246 1241h0M199 1309h0M219 1150h0M221 1143h0M224 1226h0M370 1170h0M333 1121h0M233 1288h0M130 1262h0M235 1104h0M222 1139h0M155 1133h0M264 1210h0M329 1130h0M155 1304h0M273 1202h0M162 1266h0M271 1109h0M166 1132h0M224 1287h0M180 1113h0M232 1104h0M334 1152h0M170 1280h0M152 1257h0M213 1232h0M237 1081h0M264 1264h0M155 1286h0M270 1238h0M321 1148h0M305 1182h0M314 1133h0M173 1115h0M112 1250h0M294 1235h0M322 1197h0M245 1253h0M344 1142h0M210 1260h0M232 1075h0M318 1205h0M270 1121h0M223 1220h0M175 1127h0M295 1170h0M153 1291h0M200 1322h0M190 1247h0M207 1300h0M248 1190h0M289 1285h0M180 1309h0M217 1318h0M291 1172h0M288 1096h0M205 1126h0M305 1090h0M293 1258h0M285 1262h0M195 1182h0M214 1195h0M112 1249h0M185 1188h0M258 1148h0M303 1176h0M351 1184h0M239 1271h0M192 1311h0M273 1096h0M314 1244h0M251 1236h0M303 1125h0M267 1092h0M223 1129h0M239 1144h0M155 1163h0M182 1148h0M199 1139h0M197 1177h0M167 1269h0M312 1150h0M251 1275h0M326 1142h0M223 1114h0M253 1112h0M272 1191h0M169 1293h0M199 1114h0M230 1193h0M224 1097h0M269 1109h0M201 1155h0M227 1150h0M145 1210h0M161 1263h0M240 1118h0M284 1113h0M159 1213h0M163 1117h0M306 1183h0M227 1296h0M210 1210h0M170 1135h0M217 1173h0M165 1190h0M358 1140h0M244 1254h0M165 1126h0M154 1253h0M172 1161h0M267 1174h0M334 1179h0M217 1178h0M220 1154h0M150 1189h0M337 1175h0M216 1310h0M186 1104h0M231 1224h0M204 1294h0M176 1127h0M266 1273h0M214 1177h0M208 1103h0M294 1219h0M214 1237h0M333 1220h0M149 1166h0M237 1101h0M213 1175h0M223 1135h0M201 1104h0M151 1139h0M352 1190h0M311 1156h0M170 1189h0M181 1271h0M208 1133h0M217 1178h0M176 1141h0M153 1155h0M248 1152h0M211 1146h0M330 1193h0M145 1197h0M189 1198h0M290 1266h0M172 1313h0M225 1129h0M272 1141h0M298 1135h0M241 1091h0M162 1160h0M199 1209h0M220 1255h0M247 1273h0M267 1270h0M138 1169h0M309 1149h0M318 1222h0M227 1288h0M255 1241h0M153 1240h0M200 1196h0M272 1272h0M216 1272h0M160 1251h0M216 1116h0M141 1300h0M214 1173h0M274 1131h0M162 1206h0M299 1217h0M180 1134h0M314 1157h0M196 1149h0M118 1256h0M145 1167h0M161 1194h0M287 1269h0M181 1138h0M216 1219h0M141 1201h0M107 1245h0M270 1201h0M200 1251h0M174 1278h0M283 1120h0M180 1214h0M169 1126h0M162 1152h0M282 1156h0M161 1223h0M116 1253h0M233 1228h0M186 1235h0M172 1143h0M224 1286h0M203 1190h0M169 1158h0M348 1144h0M185 1312h0M197 1142h0M171 1137h0M258 1159h0M308 1188h0M150 1170h0M272 1282h0M169 1141h0M156 1228h0M248 1172h0M346 1178h0M357 1165h0M255 1281h0M222 1186h0M272 1130h0M240 1087h0M180 1314h0M231 1118h0M312 1175h0M140 1302h0M306 1243h0M256 1144h0M325 1120h0M271 1140h0M206 1256h0M297 1220h0M213 1262h0M293 1111h0M360 1134h0M133 1278h0M178 1147h0M151 1311h0M111 1232h0M152 1184h0M139 1282h0M144 1204h0M120 1261h0M306 1107h0M129 1252h0M276 1119h0M371 1162h0M374 1160h0M284 1203h0M248 1247h0M232 1162h0M305 1218h0M189 1144h0M254 1275h0M196 1101h0M307 1191h0M154 1174h0M320 1121h0M250 1102h0M214 1315h0M141 1282h0M131 1279h0M188 1207h0M160 1169h0M203 1274h0M284 1101h0M160 1226h0M193 1228h0M293 1138h0M183 1136h0M193 1315h0M335 1139h0M310 1203h0M331 1233h0M203 1121h0M211 1251h0M202 1114h0M245 1262h0M241 1154h0M184 1305h0M242 1238h0M183 1158h0M127 1292h0M339 1173h0M294 1246h0M197 1121h0M123 1214h0M267 1166h0M208 1094h0M207 1247h0M250 1220h0M360 1173h0M264 1174h0M299 1262h0M234 1199h0M267 1146h0M266 1266h0M206 1181h0M147 1282h0M355 1166h0M219 1146h0M199 1290h0M132 1263h0M243 1188h0M133 1223h0M360 1168h0M232 1320h0M221 1229h0M167 1163h0M269 1256h0M240 1139h0M353 1135h0M141 1296h0M251 1308h0M286 1142h0M229 1101h0M126 1262h0M139 1173h0M202 1195h0M338 1150h0M156 1152h0M164 1294h0M304 1092h0M235 1233h0M191 1213h0M257 1307h0M155 1123h0M274 1090h0M164 1297h0M162 1196h0M174 1214h0M185 1309h0M281 1234h0M194 1170h0M203 1140h0M341 1220h0M246 1234h0M258 1088h0M223 1177h0M282 1166h0M211 1155h0M227 1155h0M160 1110h0M195 1185h0M191 1328h0M219 1119h0M284 1154h0M352 1129h0M181 1306h0M145 1288h0M273 1200h0M137 1302h0M241 1316h0M198 1274h0M289 1187h0M233 1273h0M255 1189h0M188 1173h0M265 1209h0M218 1172h0M194 1131h0M300 1122h0M151 1310h0M367 1166h0M224 1285h0M152 1270h0M289 1147h0M120 1217h0M225 1324h0M296 1251h0M231 1149h0M270 1275h0M203 1323h0M231 1234h0M151 1247h0M213 1165h0M149 1191h0M290 1142h0M196 1131h0M309 1203h0M130 1186h0M257 1238h0M176 1266h0M313 1211h0M244 1231h0M189 1238h0M184 1271h0M249 1290h0M244 1254h0M168 1169h0M302 1154h0M209 1195h0M207 1179h0M250 1253h0M158 1303h0M184 1097h0M288 1151h0M169 1180h0M264 1299h0M241 1260h0M170 1301h0M145 1287h0M213 1227h0M246 1104h0M232 1292h0M249 1212h0M149 1227h0M177 1129h0M109 1248h0M206 1322h0M214 1096h0M305 1092h0M294 1172h0M212 1125h0M165 1262h0M249 1261h0M216 1147h0M261 1138h0M212 1206h0M285 1201h0M168 1287h0M335 1111h0M165 1270h0M285 1182h0M180 1228h0M183 1217h0M188 1248h0M171 1267h0M268 1150h0M199 1159h0M300 1214h0M282 1124h0M207 1121h0M281 1153h0M163 1292h0M342 1145h0M145 1161h0M215 1091h0M161 1161h0M191 1321h0M201 1150h0M160 1186h0M162 1303h0M291 1093h0M312 1095h0M138 1293h0M133 1268h0M253 1261h0M269 1087h0M117 1241h0M140 1284h0M216 1267h0M277 1127h0M167 1126h0M328 1157h0M133 1264h0M340 1213h0M284 1163h0M220 1216h0M152 1305h0M314 1104h0M244 1185h0M254 1114h0M183 1263h0M249 1289h0M252 1263h0M187 1194h0M207 1168h0M163 1155h0M344 1152h0M259 1164h0M152 1243h0M330 1125h0M281 1157h0M294 1108h0M282 1080h0M223 1210h0M145 1222h0M258 1165h0M213 1191h0M221 1221h0M155 1203h0M211 1122h0M219 1320h0M207 1096h0M208 1260h0M353 1173h0M153 1271h0M197 1307h0M210 1210h0M226 1098h0M252 1243h0M187 1153h0M155 1165h0M122 1215h0M183 1146h0M167 1291h0M167 1190h0M208 1113h0M161 1293h0M155 1189h0M286 1168h0M120 1253h0M247 1107h0M207 1235h0M215 1134h0M327 1096h0M213 1209h0M266 1162h0M274 1134h0M285 1258h0M248 1226h0M127 1193h0M153 1244h0M147 1186h0M274 1102h0M232 1157h0M211 1288h0M229 1239h0M150 1181h0M307 1115h0M123 1253h0M220 1169h0M262 1214h0M361 1154h0M226 1292h0M201 1269h0M157 1239h0M215 1173h0M215 1311h0M329 1191h0M184 1184h0M286 1230h0M141 1174h0M299 1118h0M192 1264h0M183 1120h0M205 1325h0M187 1113h0M152 1302h0M194 1287h0M183 1215h0M251 1134h0M190 1321h0M211 1322h0M162 1127h0M258 1251h0M233 1145h0M292 1249h0M246 1246h0M195 1204h0M175 1257h0M321 1163h0M239 1083h0M196 1177h0M127 1190h0M253 1243h0M140 1254h0M305 1198h0M273 1112h0M186 1246h0M274 1256h0M120 1277h0M155 1133h0M146 1169h0M236 1271h0M160 1232h0M236 1089h0M211 1326h0M252 1290h0M160 1286h0M214 1136h0M199 1170h0M345 1179h0M125 1287h0M169 1199h0M225 1325h0M316 1157h0M276 1288h0M264 1217h0M146 1227h0M300 1087h0M289 1254h0M233 1115h0M296 1101h0M291 1219h0M293 1253h0M276 1097h0M164 1187h0M243 1066h0M263 1098h0M275 1108h0M185 1249h0M222 1193h0M261 1173h0M318 1192h0M339 1186h0M311 1100h0M187 1188h0M282 1097h0M255 1289h0M283 1158h0M303 1198h0M174 1177h0M306 1092h0M218 1088h0M218 1172h0M297 1121h0M138 1247h0M189 1267h0M122 1223h0M259 1158h0M362 1160h0M211 1167h0M220 1113h0M282 1270h0M309 1257h0M279 1208h0M234 1184h0M192 1266h0M235 1213h0M251 1287h0M200 1113h0M266 1273h0M245 1065h0M273 1154h0M347 1151h0M330 1151h0M186 1224h0M317 1200h0M183 1282h0M231 1178h0M279 1209h0M152 1194h0M152 1142h0M311 1151h0M299 1099h0M144 1256h0M190 1268h0M240 1134h0M334 1158h0M227 1156h0M345 1145h0M227 1093h0M279 1115h0M311 1237h0M173 1319h0M331 1192h0M323 1127h0M259 1297h0M280 1207h0M222 1102h0M287 1256h0M172 1141h0M166 1130h0M195 1187h0M236 1234h0M169 1125h0M316 1108h0M178 1147h0M174 1219h0M282 1190h0M308 1102h0M237 1285h0M156 1305h0M117 1278h0M122 1225h0M116 1280h0M299 1108h0M158 1195h0M163 1158h0M210 1306h0M118 1263h0M295 1254h0M157 1180h0M200 1112h0M168 1239h0M219 1159h0M160 1291h0M292 1100h0M257 1314h0M142 1225h0M294 1245h0M333 1124h0M197 1197h0M239 1175h0M162 1308h0M174 1143h0M253 1222h0M258 1254h0M163 1136h0M189 1201h0M187 1130h0M276 1097h0M236 1280h0M305 1258h0M250 1162h0M300 1154h0M201 1189h0M240 1311h0M164 1134h0M276 1082h0M146 1295h0M315 1103h0M250 1235h0M228 1152h0M159 1161h0M124 1275h0M242 1108h0M305 1096h0M218 1157h0M233 1090h0M324 1176h0M222 1304h0M200 1196h0M221 1154h0M178 1296h0M158 1283h0M263 1262h0M173 1212h0M297 1122h0M250 1248h0M184 1230h0M335 1136h0M239 1308h0M291 1159h0M252 1275h0M231 1177h0M275 1239h0M248 1180h0M238 1238h0M235 1223h0M219 1164h0M295 1193h0M165 1135h0M252 1157h0M188 1192h0M199 1194h0M296 1124h0M175 1140h0M215 1228h0M208 1121h0M159 1208h0M221 1271h0M177 1168h0M181 1305h0M217 1142h0M189 1264h0M249 1282h0M117 1249h0M271 1185h0M194 1109h0M328 1097h0M275 1271h0M245 1321h0M243 1260h0M241 1167h0M317 1126h0M245 1093h0M246 1079h0M172 1121h0M151 1243h0M208 1174h0M285 1227h0M317 1196h0M336 1147h0M145 1187h0M209 1234h0M328 1168h0M360 1142h0M193 1238h0M269 1145h0M277 1214h0M139 1274h0M225 1206h0M224 1127h0M237 1290h0M236 1107h0M271 1236h0M299 1100h0M364 1183h0M234 1219h0M209 1149h0M235 1117h0M275 1243h0M152 1238h0M214 1233h0M287 1204h0M195 1131h0M159 1270h0M188 1136h0M281 1192h0M197 1137h0M260 1299h0M210 1103h0M303 1106h0M261 1292h0M282 1098h0M188 1185h0M250 1095h0M169 1146h0M222 1160h0M193 1266h0M228 1247h0M365 1154h0M151 1171h0M122 1256h0M186 1168h0M167 1176h0M274 1151h0M212 1178h0M157 1245h0M293 1202h0M275 1196h0M188 1255h0M201 1187h0M285 1220h0M136 1224h0M142 1183h0M132 1261h0M176 1192h0M288 1266h0M147 1307h0M201 1130h0M193 1233h0M136 1295h0M172 1174h0M131 1192h0M243 1175h0M193 1236h0M223 1135h0M225 1114h0M162 1158h0M283 1235h0M230 1150h0M264 1207h0M249 1192h0M255 1291h0M204 1325h0M146 1286h0M257 1267h0M292 1131h0M198 1111h0M186 1309h0M197 1280h0M207 1206h0M156 1241h0M246 1235h0M180 1209h0M210 1188h0M363 1140h0M294 1098h0M316 1161h0M344 1181h0M148 1185h0M226 1236h0M150 1199h0M291 1191h0M286 1222h0M222 1189h0M222 1282h0M324 1181h0M242 1209h0M207 1162h0M255 1212h0M186 1158h0M345 1154h0M178 1151h0M345 1136h0M169 1161h0M222 1216h0M217 1175h0M329 1107h0M254 1295h0M323 1103h0M221 1292h0M237 1096h0M195 1216h0M163 1313h0M207 1102h0M187 1188h0M193 1188h0M204 1195h0M368 1159h0M310 1138h0M267 1187h0M185 1233h0M318 1093h0M256 1236h0M250 1262h0M253 1107h0M299 1102h0M266 1277h0M259 1099h0M241 1258h0M166 1182h0M160 1184h0M207 1258h0M200 1194h0M174 1149h0M169 1169h0M243 1232h0M154 1129h0M241 1208h0M215 1264h0M335 1150h0M334 1220h0M142 1226h0M274 1104h0M335 1119h0M306 1094h0M252 1112h0M150 1185h0M164 1125h0M162 1138h0M181 1140h0M292 1090h0M246 1272h0M254 1242h0M157 1247h0M151 1161h0M334 1161h0M189 1187h0M167 1170h0M159 1190h0M294 1109h0M225 1169h0M243 1123h0M216 1143h0M257 1144h0M346 1136h0M161 1154h0M188 1281h0M227 1154h0M240 1187h0M234 1228h0M283 1172h0M242 1200h0M207 1166h0M171 1187h0M237 1150h0M159 1197h0M192 1175h0M200 1309h0M234 1165h0M255 1103h0M213 1126h0M286 1166h0M194 1223h0M188 1314h0M304 1199h0M181 1102h0M166 1135h0M243 1133h0M294 1267h0M193 1149h0M341 1188h0M222 1312h0M159 1184h0M283 1155h0M208 1235h0M318 1181h0M222 1233h0M270 1169h0M315 1250h0M304 1143h0M262 1195h0M282 1260h0M240 1150h0M210 1192h0M152 1234h0M215 1144h0M233 1191h0M361 1163h0M284 1144h0M263 1093h0M211 1302h0M149 1242h0M292 1092h0M243 1096h0M185 1316h0M142 1187h0M314 1196h0M206 1214h0M231 1198h0M153 1203h0M336 1127h0M177 1190h0M225 1128h0M198 1110h0M309 1218h0M223 1286h0M179 1197h0M190 1129h0M121 1229h0M246 1313h0M169 1232h0M321 1237h0M327 1145h0M197 1322h0M241 1253h0M293 1264h0M142 1237h0M183 1105h0M202 1110h0M131 1275h0M230 1240h0M226 1207h0M251 1205h0M235 1118h0M150 1294h0M251 1205h0M156 1181h0M228 1197h0M290 1242h0M199 1153h0M215 1103h0M253 1192h0M179 1262h0M232 1190h0M171 1165h0M212 1264h0M238 1289h0M259 1110h0M329 1151h0M230 1130h0M268 1170h0M280 1196h0M254 1291h0M167 1297h0M195 1127h0M218 1196h0M257 1180h0M165 1108h0M203 1209h0M169 1108h0M306 1120h0M220 1304h0M156 1197h0M177 1217h0M161 1285h0M223 1186h0M247 1279h0M203 1129h0M339 1177h0M351 1183h0M126 1289h0M137 1192h0M255 1191h0M169 1166h0M214 1301h0M214 1300h0M312 1194h0M223 1274h0M340 1136h0M321 1153h0M190 1271h0M197 1318h0M285 1100h0M132 1295h0M262 1214h0M243 1187h0M186 1246h0M224 1089h0M149 1282h0M233 1251h0M199 1259h0M176 1131h0M241 1242h0M176 1121h0M255 1090h0M205 1156h0M204 1280h0M125 1236h0M191 1262h0M202 1167h0M213 1167h0M216 1235h0M173 1313h0M157 1170h0M201 1135h0M192 1311h0M169 1173h0M155 1267h0M151 1309h0M279 1175h0M294 1088h0M248 1148h0M174 1227h0M303 1096h0M170 1169h0M283 1110h0M306 1244h0M337 1185h0M208 1227h0M206 1187h0M166 1294h0M150 1303h0M173 1161h0M131 1263h0M140 1300h0M292 1143h0M320 1113h0M162 1224h0M226 1127h0M278 1126h0M243 1166h0M145 1181h0M172 1115h0M194 1262h0M264 1204h0M245 1226h0M153 1249h0M125 1262h0M177 1104h0M186 1242h0M281 1208h0M161 1289h0M267 1128h0M149 1149h0M120 1256h0M174 1276h0M198 1122h0M208 1171h0M220 1183h0M112 1274h0M261 1255h0M301 1104h0M254 1087h0M221 1168h0M179 1151h0M234 1170h0M239 1176h0M247 1089h0M284 1247h0M148 1249h0M272 1113h0M230 1158h0M218 1202h0M288 1116h0M216 1245h0M356 1188h0M144 1296h0M333 1222h0M238 1215h0M278 1131h0M188 1171h0M179 1185h0M254 1232h0M305 1098h0M204 1190h0M165 1305h0M199 1131h0M180 1214h0M263 1289h0M189 1230h0M320 1207h0M292 1160h0M282 1279h0M207 1166h0M252 1102h0M231 1143h0M257 1204h0M151 1187h0M152 1306h0M206 1155h0M308 1091h0M178 1277h0M139 1276h0M197 1224h0M122 1260h0M156 1191h0M161 1283h0M329 1233h0M254 1139h0M269 1198h0M195 1268h0M370 1146h0M264 1276h0M253 1101h0M187 1243h0M317 1236h0M165 1161h0M231 1192h0M172 1306h0M201 1121h0M308 1132h0M203 1303h0M201 1167h0M330 1121h0M172 1154h0M210 1170h0M149 1248h0M213 1254h0M246 1304h0M261 1104h0M157 1130h0M273 1085h0M279 1257h0M283 1141h0M153 1215h0M218 1156h0M265 1197h0M162 1171h0M119 1259h0M211 1234h0M271 1118h0M191 1255h0M307 1204h0M155 1285h0M243 1242h0M182 1153h0M162 1274h0M294 1158h0M216 1202h0M136 1257h0M268 1086h0M139 1289h0M197 1165h0M215 1109h0M207 1255h0M192 1268h0M322 1102h0M247 1150h0M159 1202h0M161 1313h0M234 1198h0M348 1148h0M213 1162h0M221 1182h0M186 1243h0M365 1191h0M224 1319h0M233 1089h0M186 1324h0M298 1111h0M187 1307h0M286 1263h0M254 1312h0M208 1172h0M271 1167h0M322 1131h0M164 1132h0M280 1227h0M224 1099h0M324 1157h0M163 1204h0M215 1103h0M271 1257h0M230 1249h0M286 1271h0M239 1087h0M269 1242h0M197 1233h0M342 1144h0M320 1125h0M258 1181h0M243 1232h0M182 1195h0M216 1197h0M306 1199h0M221 1204h0M182 1109h0M207 1300h0M273 1205h0M237 1281h0" stroke="#cdcdcd" stroke-width="4.2" stroke-linecap="round" fill="none" opacity="0.75"/>
<path d="M158 1136h0M341 1118h0M285 1247h0M332 1169h0M314 1147h0M320 1114h0M190 1118h0M261 1213h0M205 1111h0M323 1226h0M162 1127h0M195 1315h0M187 1257h0M158 1282h0M277 1256h0M343 1162h0M238 1142h0M267 1309h0M345 1181h0M280 1193h0M260 1157h0M277 1082h0M367 1189h0M326 1188h0M320 1213h0M322 1168h0M278 1164h0M225 1136h0M290 1163h0M210 1164h0M197 1136h0M258 1120h0M171 1166h0M178 1131h0M276 1092h0M194 1234h0M136 1192h0M242 1166h0M196 1290h0M252 1098h0M247 1082h0M343 1161h0M200 1136h0M293 1197h0M329 1113h0M308 1126h0M249 1130h0M227 1274h0M272 1096h0M297 1108h0M361 1153h0M311 1094h0M180 1309h0M195 1134h0M186 1136h0M169 1137h0M237 1213h0M205 1185h0M154 1153h0M358 1190h0M355 1156h0M139 1208h0M247 1252h0M235 1148h0M121 1236h0M207 1129h0M273 1235h0M344 1152h0M268 1131h0M250 1142h0M285 1280h0M254 1119h0M337 1200h0M241 1153h0M245 1193h0M299 1205h0M371 1150h0M280 1134h0M272 1101h0M273 1094h0M221 1142h0M241 1080h0M339 1174h0M159 1124h0M319 1146h0M237 1083h0M201 1179h0M177 1151h0M156 1227h0M297 1109h0M258 1310h0M209 1205h0M321 1232h0M269 1189h0M216 1304h0M241 1293h0M167 1201h0M200 1198h0M278 1266h0M215 1151h0M184 1173h0M290 1176h0M234 1233h0M222 1189h0M324 1154h0M186 1235h0M321 1147h0M277 1163h0M176 1214h0M146 1184h0M224 1158h0M227 1210h0M225 1258h0M187 1135h0M222 1173h0M287 1118h0M184 1293h0M271 1082h0M178 1146h0M353 1152h0M301 1095h0M324 1186h0M204 1176h0M192 1226h0M300 1128h0M219 1156h0M202 1196h0M287 1097h0M308 1129h0M227 1209h0M232 1235h0M277 1120h0M325 1213h0M361 1147h0M243 1208h0M319 1153h0M263 1133h0M211 1223h0M277 1150h0M324 1127h0M198 1120h0M197 1138h0M248 1299h0M333 1138h0M267 1233h0M309 1153h0M252 1093h0M364 1169h0M252 1155h0M292 1226h0M273 1270h0M316 1112h0M305 1086h0M131 1205h0M303 1220h0M185 1187h0M191 1114h0M257 1117h0M159 1192h0M330 1123h0M336 1119h0M183 1213h0M168 1207h0M190 1269h0M330 1226h0M175 1265h0M192 1134h0M263 1244h0M295 1276h0M334 1189h0M113 1268h0M303 1208h0M179 1139h0M244 1239h0M194 1269h0M220 1129h0M324 1104h0M330 1121h0M214 1115h0M181 1217h0M225 1311h0M325 1164h0M245 1219h0M352 1144h0M326 1192h0M269 1089h0M263 1090h0M223 1285h0M242 1215h0M159 1170h0M139 1301h0M280 1129h0M330 1214h0M332 1224h0M295 1255h0M361 1185h0M331 1089h0M222 1094h0M239 1320h0M261 1138h0M248 1264h0M125 1191h0M230 1211h0M252 1103h0M141 1287h0M350 1151h0M293 1100h0M191 1258h0M330 1201h0M333 1172h0M226 1126h0M211 1126h0M202 1126h0M337 1216h0M310 1115h0M346 1156h0M137 1232h0M203 1129h0M259 1151h0M243 1098h0M369 1169h0M293 1110h0M158 1220h0M288 1109h0M263 1223h0M204 1233h0M306 1201h0M290 1137h0M195 1112h0M233 1093h0M323 1200h0M133 1195h0M294 1145h0M263 1102h0M324 1196h0M272 1199h0M254 1191h0M272 1088h0M114 1230h0M185 1098h0M153 1281h0M200 1264h0M156 1132h0M205 1114h0M302 1104h0M186 1309h0M261 1177h0M151 1181h0M342 1141h0M163 1138h0M320 1159h0M175 1175h0M211 1220h0M215 1215h0M367 1168h0M344 1167h0M236 1098h0M287 1152h0M187 1098h0M223 1154h0M202 1114h0M286 1203h0M219 1123h0M295 1200h0M282 1166h0M242 1068h0M286 1260h0M342 1154h0M362 1170h0M268 1253h0M338 1161h0M264 1288h0M265 1206h0M146 1230h0M172 1106h0M258 1085h0M308 1115h0M265 1179h0M298 1119h0M294 1267h0M273 1257h0M333 1141h0M308 1106h0M300 1152h0M245 1096h0M352 1166h0M305 1095h0M223 1184h0M271 1251h0M146 1184h0M263 1282h0M337 1207h0M225 1097h0M235 1085h0M285 1092h0M314 1124h0M314 1103h0M313 1112h0M247 1067h0M328 1149h0M145 1163h0M227 1100h0M257 1259h0M248 1126h0M293 1124h0M223 1100h0M343 1183h0M211 1127h0M180 1231h0M315 1126h0M261 1135h0M334 1127h0M267 1106h0M282 1089h0M269 1181h0M310 1103h0M216 1099h0M258 1105h0M201 1098h0M298 1197h0M224 1170h0M182 1111h0M155 1204h0M206 1102h0M288 1101h0M193 1186h0M335 1223h0M335 1161h0M307 1132h0M280 1089h0M179 1111h0M154 1186h0M296 1151h0M248 1118h0M303 1128h0M253 1131h0M232 1246h0M130 1257h0M265 1115h0M256 1298h0M217 1113h0M231 1150h0M294 1083h0M236 1311h0M147 1249h0M269 1198h0M277 1164h0M224 1109h0M336 1192h0M361 1189h0M174 1304h0M188 1308h0M258 1119h0M200 1109h0M202 1256h0M239 1117h0M185 1318h0M223 1132h0M358 1187h0M140 1182h0M357 1130h0M310 1154h0M276 1210h0M287 1150h0M194 1265h0M139 1293h0M316 1107h0M256 1094h0M272 1206h0M115 1261h0M134 1256h0M224 1123h0M134 1168h0M157 1305h0M348 1165h0M338 1223h0M191 1271h0M220 1295h0M306 1126h0M154 1178h0M205 1107h0M229 1197h0M288 1093h0M176 1257h0M308 1191h0M274 1132h0M174 1122h0M269 1111h0M344 1162h0M296 1254h0M325 1186h0M205 1320h0M297 1146h0M196 1104h0M165 1129h0M299 1085h0M367 1156h0M320 1193h0M240 1264h0M246 1120h0M302 1240h0M182 1130h0M158 1259h0M349 1125h0M329 1196h0M357 1147h0M202 1227h0M326 1162h0M328 1224h0M302 1128h0M143 1282h0M244 1101h0M254 1095h0M206 1218h0M185 1116h0M248 1105h0M261 1266h0M370 1152h0M333 1166h0M190 1308h0M350 1172h0M245 1203h0M258 1264h0M321 1164h0M282 1169h0M317 1102h0M197 1138h0M143 1265h0M314 1213h0M119 1219h0M108 1240h0M184 1309h0M248 1137h0M230 1092h0M181 1142h0M317 1242h0M334 1181h0M273 1133h0M283 1095h0M339 1135h0M238 1216h0M188 1247h0M147 1163h0M229 1101h0M360 1189h0M281 1257h0M352 1129h0M332 1121h0M207 1199h0M202 1282h0M338 1215h0M311 1111h0M334 1171h0M287 1112h0M202 1175h0M206 1322h0M237 1156h0M291 1130h0M299 1166h0M333 1138h0M264 1304h0M157 1158h0M236 1118h0M271 1173h0M245 1198h0M367 1164h0M213 1234h0M141 1190h0M282 1188h0M292 1096h0M175 1153h0M286 1237h0M175 1220h0M152 1181h0M165 1236h0M257 1256h0M368 1152h0M148 1172h0M363 1171h0M318 1155h0M180 1286h0M213 1165h0M257 1136h0M242 1116h0M227 1178h0M194 1184h0M357 1189h0M179 1259h0M353 1167h0M190 1232h0M271 1232h0M236 1192h0M285 1201h0M349 1198h0M248 1189h0M262 1186h0M300 1157h0M284 1094h0M215 1133h0M302 1236h0M338 1141h0M241 1110h0M350 1183h0M278 1204h0M242 1154h0M245 1264h0M166 1171h0M204 1195h0M275 1085h0M325 1153h0M231 1273h0M330 1202h0M276 1152h0M174 1116h0M303 1157h0M275 1089h0M252 1080h0M318 1096h0M242 1261h0M152 1309h0M175 1153h0M189 1249h0M308 1222h0M241 1127h0M312 1129h0M293 1245h0M222 1132h0M270 1146h0M222 1205h0M244 1140h0M259 1145h0M180 1317h0M154 1214h0M288 1160h0M151 1149h0M337 1126h0M244 1254h0M330 1125h0M239 1151h0M208 1259h0M315 1148h0M336 1174h0M154 1129h0M344 1166h0M288 1198h0M173 1110h0M142 1259h0M156 1247h0M200 1208h0M221 1165h0M234 1242h0M360 1156h0M201 1146h0M190 1122h0M284 1089h0M298 1137h0M297 1260h0M195 1117h0M340 1151h0M253 1116h0M140 1304h0M176 1306h0M226 1098h0M225 1309h0M269 1222h0M279 1270h0M287 1133h0M258 1098h0M201 1246h0M174 1241h0M231 1091h0M330 1165h0M319 1145h0M325 1251h0M346 1156h0M336 1216h0M200 1136h0M270 1163h0M310 1263h0M164 1120h0M326 1184h0M288 1130h0M188 1302h0M234 1072h0M189 1116h0M179 1125h0M259 1299h0M310 1203h0M272 1113h0M273 1116h0M348 1177h0M213 1095h0M216 1173h0M279 1199h0M169 1126h0M252 1125h0M182 1295h0M279 1098h0M218 1260h0M271 1085h0M247 1154h0M317 1133h0M248 1098h0M202 1117h0M313 1128h0M266 1128h0M243 1205h0M115 1216h0M255 1239h0M369 1149h0M244 1294h0M288 1125h0M247 1231h0M262 1117h0M329 1224h0M176 1181h0M247 1117h0M354 1147h0M261 1128h0M264 1146h0M318 1109h0M344 1149h0M277 1118h0M168 1121h0M343 1215h0M316 1153h0M233 1190h0M215 1117h0M237 1152h0M156 1199h0M280 1192h0M203 1298h0M246 1102h0M226 1205h0M343 1171h0M249 1101h0M352 1126h0M332 1231h0M162 1181h0M303 1175h0M173 1138h0M310 1205h0M213 1136h0M145 1260h0M257 1244h0M290 1108h0M275 1256h0M212 1168h0M264 1219h0M324 1197h0M330 1190h0M282 1107h0M272 1298h0M266 1214h0M283 1141h0M211 1276h0M274 1141h0M304 1129h0M151 1216h0M168 1108h0M288 1095h0M166 1143h0M197 1100h0M140 1190h0M370 1173h0M245 1288h0M188 1128h0M304 1135h0M216 1223h0M305 1151h0M214 1247h0M156 1273h0M310 1108h0M247 1125h0M160 1189h0M300 1097h0M210 1166h0M213 1124h0M203 1198h0M340 1139h0M202 1108h0M330 1177h0M149 1310h0M280 1124h0M230 1276h0M356 1169h0M151 1176h0M251 1245h0M317 1185h0M195 1267h0M300 1207h0M212 1316h0M254 1187h0M296 1250h0M326 1183h0M177 1292h0M210 1210h0M318 1128h0M277 1109h0M287 1115h0M284 1091h0M208 1147h0M144 1254h0M236 1087h0M222 1219h0M164 1160h0M154 1250h0M236 1280h0M297 1095h0M342 1168h0M259 1142h0M225 1206h0M200 1145h0M204 1156h0M272 1259h0M160 1294h0M163 1131h0M352 1167h0M331 1134h0M199 1240h0M332 1171h0M289 1211h0M202 1280h0M242 1068h0M250 1238h0M198 1148h0M146 1185h0M258 1096h0M355 1182h0M250 1287h0M335 1116h0M297 1169h0M201 1198h0M274 1082h0M256 1112h0M313 1105h0M183 1242h0M232 1238h0M223 1095h0M190 1165h0M249 1247h0M299 1093h0M208 1267h0M204 1260h0M172 1232h0M203 1277h0M209 1165h0M201 1244h0M146 1303h0M254 1102h0M255 1150h0M246 1260h0M166 1190h0M345 1146h0M252 1116h0M167 1123h0M208 1101h0M150 1156h0M241 1230h0M157 1172h0M232 1099h0M181 1133h0M328 1153h0M182 1143h0M287 1226h0M156 1130h0M252 1140h0M316 1156h0M352 1167h0M252 1146h0M216 1128h0M193 1135h0M251 1197h0M170 1111h0M301 1112h0M169 1154h0M261 1279h0" stroke="#8c8c8c" stroke-width="4.2" stroke-linecap="round" fill="none" opacity="0.8"/>
<path d="M241 1226h0M248 1129h0M239 1165h0M265 1195h0M266 1227h0M279 1208h0M146 1228h0M272 1218h0M157 1224h0M165 1251h0M135 1188h0M320 1168h0M156 1306h0M242 1212h0M110 1231h0M194 1280h0M229 1251h0M192 1265h0M205 1145h0M199 1241h0M118 1205h0M255 1276h0M185 1265h0M197 1247h0M188 1240h0M282 1250h0M214 1303h0M164 1195h0M248 1124h0M179 1309h0M247 1130h0M181 1301h0M273 1193h0M209 1201h0M162 1222h0M275 1216h0M186 1232h0M184 1261h0M118 1231h0M181 1292h0M312 1204h0M150 1242h0M141 1201h0M233 1200h0M153 1164h0M240 1212h0M181 1276h0M196 1219h0M212 1265h0M254 1205h0M332 1191h0M190 1247h0M296 1095h0M318 1227h0M198 1298h0M322 1203h0M236 1237h0M263 1293h0M131 1240h0M296 1197h0M266 1107h0M279 1123h0M211 1233h0M345 1177h0M215 1256h0M229 1284h0M259 1308h0M159 1273h0M181 1258h0M203 1138h0M256 1175h0M221 1099h0M218 1151h0M326 1200h0M299 1216h0M239 1082h0M214 1202h0M330 1128h0M147 1152h0M327 1224h0M122 1201h0M227 1288h0M286 1268h0M185 1307h0M231 1204h0M292 1172h0M316 1175h0M125 1212h0M311 1142h0M332 1221h0M128 1254h0M238 1244h0M127 1231h0M207 1281h0M300 1246h0M186 1134h0M220 1278h0M141 1301h0M266 1192h0M181 1316h0M251 1096h0M248 1249h0M299 1233h0M159 1200h0M211 1174h0M270 1292h0M151 1275h0M233 1305h0M282 1140h0M181 1251h0M174 1285h0M344 1212h0M351 1203h0M202 1226h0M314 1112h0M122 1230h0M165 1236h0M222 1235h0M310 1203h0M159 1175h0M330 1231h0M236 1290h0M273 1202h0M246 1224h0M147 1172h0M327 1187h0M324 1134h0M280 1207h0M245 1157h0M274 1194h0M318 1194h0M204 1129h0M364 1175h0M211 1305h0M182 1274h0M306 1220h0M141 1176h0M218 1298h0M224 1277h0M215 1161h0M216 1255h0M148 1187h0M292 1174h0M138 1288h0M164 1247h0M229 1213h0M261 1235h0M182 1167h0M199 1166h0M150 1277h0M312 1158h0M193 1235h0M309 1202h0M198 1278h0M274 1257h0M186 1253h0M190 1227h0M188 1227h0M140 1239h0M127 1247h0M294 1265h0M196 1210h0M243 1296h0M193 1265h0M260 1213h0M179 1267h0M197 1250h0M148 1304h0M250 1118h0M271 1192h0M284 1227h0M303 1218h0M290 1131h0M204 1233h0M128 1227h0M315 1163h0M283 1208h0M266 1191h0M193 1152h0M216 1205h0M126 1232h0M302 1127h0M153 1222h0M202 1202h0M284 1219h0M197 1268h0M266 1161h0M165 1234h0M198 1140h0M191 1214h0M117 1243h0M212 1261h0M220 1243h0M231 1094h0M156 1248h0M171 1230h0M160 1186h0M140 1272h0M146 1262h0M173 1202h0M251 1255h0M142 1280h0M318 1163h0M252 1253h0M199 1138h0M304 1181h0M267 1207h0M183 1238h0M314 1194h0M158 1124h0M206 1249h0M140 1239h0M257 1178h0M293 1223h0M277 1236h0M200 1248h0M185 1285h0M223 1233h0M243 1254h0M245 1231h0M196 1228h0M327 1191h0M162 1204h0M245 1085h0M170 1253h0M165 1298h0M310 1192h0M190 1318h0M172 1296h0M195 1236h0M231 1307h0M137 1241h0M134 1260h0M248 1100h0M132 1182h0M255 1199h0M136 1182h0M198 1185h0M168 1246h0M198 1225h0M217 1172h0M258 1159h0M338 1159h0M353 1158h0M310 1164h0M210 1177h0M186 1259h0M363 1179h0M223 1323h0M158 1288h0M180 1278h0M177 1275h0M237 1286h0M203 1200h0M257 1132h0M271 1228h0M198 1146h0M239 1290h0M226 1175h0M116 1232h0M175 1255h0M122 1204h0M245 1229h0M180 1295h0M190 1270h0M254 1160h0M136 1195h0M204 1290h0M195 1182h0M181 1195h0M219 1276h0M173 1258h0M213 1096h0M293 1196h0M280 1161h0M294 1227h0M317 1099h0M193 1324h0M204 1277h0M153 1287h0M227 1278h0M177 1282h0M260 1285h0M220 1267h0M280 1253h0M309 1185h0M211 1213h0M205 1274h0M249 1218h0M280 1226h0M165 1226h0M194 1264h0M181 1204h0M303 1109h0M251 1265h0M295 1267h0M196 1261h0M262 1211h0M194 1216h0M357 1151h0M136 1216h0M236 1180h0M136 1260h0M221 1302h0M175 1115h0M277 1253h0M205 1252h0M302 1167h0M261 1169h0M256 1170h0M250 1253h0M281 1149h0M253 1198h0M220 1282h0M165 1252h0M237 1299h0M166 1292h0M208 1139h0M343 1161h0M226 1302h0M356 1156h0M320 1144h0M195 1266h0M309 1246h0M323 1167h0M142 1287h0M236 1187h0M149 1289h0M221 1185h0M254 1309h0M218 1175h0M328 1169h0M137 1293h0M342 1160h0M256 1252h0M217 1270h0M270 1221h0M268 1270h0M174 1209h0M302 1205h0M291 1167h0M204 1278h0M201 1281h0M248 1268h0M106 1209h0M135 1237h0M159 1290h0M140 1202h0M292 1192h0M152 1132h0M311 1140h0M153 1191h0M150 1282h0M141 1206h0M354 1157h0M226 1193h0M160 1233h0M250 1258h0M314 1217h0M279 1229h0M280 1187h0M201 1204h0M200 1144h0M198 1173h0M187 1196h0M186 1323h0M272 1273h0M158 1231h0M250 1208h0M201 1301h0M368 1166h0M199 1207h0M197 1236h0M282 1167h0M229 1294h0M248 1118h0M298 1205h0M204 1148h0M173 1247h0M251 1124h0M213 1219h0M254 1121h0M281 1089h0M292 1095h0M187 1259h0M240 1219h0M315 1211h0M216 1305h0M171 1308h0M242 1207h0M194 1232h0M113 1265h0M334 1139h0M207 1259h0M307 1163h0M146 1167h0M193 1235h0M130 1237h0M228 1276h0M319 1193h0M189 1185h0M117 1210h0M148 1273h0M207 1137h0M285 1178h0M297 1192h0M146 1297h0M299 1194h0M223 1108h0M191 1189h0M326 1108h0M225 1281h0M198 1201h0M114 1226h0M111 1213h0M343 1183h0M254 1293h0M341 1170h0M323 1183h0M307 1185h0M293 1194h0M299 1095h0M184 1289h0M152 1223h0M193 1255h0M255 1205h0M125 1235h0M334 1218h0M272 1227h0M179 1305h0M228 1287h0M274 1183h0M184 1288h0M211 1305h0M118 1253h0M270 1227h0M112 1214h0M140 1296h0M202 1251h0M247 1140h0M230 1212h0M222 1293h0M241 1277h0M208 1274h0M189 1290h0M198 1147h0M291 1174h0M217 1305h0M210 1253h0M300 1253h0M303 1175h0M174 1319h0M225 1232h0M269 1253h0M245 1281h0M247 1192h0M216 1204h0M151 1173h0M187 1226h0M262 1237h0M256 1188h0M321 1162h0M256 1157h0M380 1149h0M156 1201h0M197 1228h0M208 1186h0M180 1283h0M242 1195h0M219 1302h0M126 1234h0M334 1182h0M257 1262h0M191 1304h0M199 1164h0M178 1307h0M190 1217h0M299 1201h0M111 1222h0M285 1212h0M183 1270h0M324 1219h0M233 1292h0M212 1270h0M351 1147h0M213 1197h0M252 1117h0M248 1206h0M202 1222h0M199 1131h0M261 1127h0M270 1219h0M283 1169h0M164 1285h0M323 1172h0M300 1222h0M199 1302h0M206 1221h0M224 1295h0M239 1291h0M308 1210h0M237 1293h0M167 1212h0M158 1231h0M119 1217h0M300 1109h0M209 1144h0M166 1131h0M225 1127h0M254 1229h0M221 1268h0M256 1194h0M298 1198h0M276 1191h0M200 1276h0M309 1216h0M289 1196h0M301 1257h0M123 1240h0M238 1190h0M323 1168h0M279 1136h0M232 1214h0M305 1216h0M322 1199h0M233 1218h0M304 1230h0M254 1192h0M291 1171h0M190 1263h0M330 1210h0M217 1233h0M137 1254h0M200 1140h0M232 1177h0M163 1241h0M257 1216h0M182 1245h0M199 1143h0M323 1193h0M251 1128h0M169 1316h0M342 1174h0M319 1158h0M192 1158h0M123 1257h0M319 1242h0M281 1252h0M138 1282h0M117 1266h0M319 1233h0M267 1157h0M209 1299h0M218 1099h0M290 1206h0M123 1244h0M219 1276h0M187 1316h0M261 1245h0M128 1222h0M242 1319h0M200 1204h0M200 1134h0M172 1113h0M210 1275h0M149 1268h0M186 1289h0M314 1235h0M125 1237h0M300 1170h0M259 1275h0M211 1283h0M208 1181h0M350 1133h0M325 1120h0M266 1224h0M218 1262h0M242 1169h0M167 1220h0M258 1184h0M189 1310h0M249 1119h0M250 1097h0M188 1319h0M259 1114h0M251 1231h0M137 1207h0M241 1279h0M238 1202h0M243 1270h0M184 1226h0M266 1221h0M228 1256h0M201 1275h0M265 1236h0M308 1183h0M174 1219h0M262 1170h0M316 1226h0M294 1233h0M129 1213h0M200 1136h0M265 1278h0M224 1271h0M139 1287h0M187 1306h0M135 1234h0M238 1323h0M124 1242h0M258 1243h0M243 1251h0M226 1274h0M246 1185h0M233 1242h0M178 1290h0M338 1183h0M292 1211h0M184 1220h0M243 1208h0M313 1211h0M185 1264h0M234 1306h0M202 1281h0M273 1200h0M150 1272h0M332 1206h0M205 1216h0M235 1196h0M209 1278h0M303 1218h0M214 1227h0M142 1197h0M131 1209h0M134 1244h0M199 1204h0M307 1211h0M138 1258h0M127 1242h0M127 1218h0M261 1265h0M271 1213h0M168 1129h0M120 1210h0M217 1149h0M277 1191h0M200 1188h0M111 1247h0M235 1298h0M216 1200h0M246 1128h0M201 1234h0M285 1157h0M226 1325h0M138 1199h0M278 1201h0M124 1257h0M162 1235h0M109 1220h0M195 1141h0M253 1215h0M178 1313h0M294 1235h0M165 1206h0M125 1255h0M247 1173h0M125 1255h0M215 1150h0M255 1280h0M323 1152h0M289 1252h0M277 1224h0M226 1185h0M310 1206h0M244 1210h0M180 1302h0M167 1110h0M165 1203h0M240 1206h0M357 1182h0M247 1208h0M252 1258h0M255 1259h0M229 1288h0M114 1210h0M193 1231h0M201 1156h0M183 1205h0M246 1189h0M294 1216h0M203 1231h0M250 1177h0M243 1236h0M163 1186h0M318 1198h0M191 1276h0M296 1159h0M140 1218h0M248 1175h0M241 1205h0M260 1204h0M313 1227h0M211 1276h0M268 1087h0M137 1200h0M302 1144h0M196 1255h0M309 1111h0M333 1225h0M350 1201h0M274 1250h0M350 1131h0M254 1129h0M145 1253h0M179 1161h0M124 1229h0M244 1137h0M315 1212h0M255 1260h0M195 1273h0M277 1194h0M211 1296h0M247 1249h0M112 1243h0M181 1276h0M302 1200h0M285 1190h0M283 1182h0M269 1211h0M203 1115h0M192 1224h0M189 1221h0M160 1161h0M359 1170h0M195 1255h0M376 1158h0M221 1285h0M255 1280h0M194 1230h0M236 1159h0M327 1159h0M372 1147h0M310 1189h0M284 1174h0M189 1297h0M340 1173h0M189 1235h0M192 1258h0M272 1168h0M197 1203h0M172 1262h0M291 1196h0M174 1286h0M350 1173h0M316 1136h0M285 1180h0M309 1211h0M208 1142h0M183 1260h0M257 1142h0M291 1226h0M280 1217h0M163 1241h0M255 1124h0M180 1201h0M222 1182h0M258 1274h0M384 1177h0M267 1204h0M248 1272h0M217 1230h0M254 1192h0M326 1199h0M197 1305h0M233 1308h0M148 1194h0M229 1286h0M355 1164h0M265 1126h0M258 1125h0M247 1203h0M181 1257h0M274 1229h0M332 1169h0M196 1261h0M223 1286h0M223 1228h0M184 1200h0M309 1189h0M282 1093h0M246 1210h0M199 1237h0M300 1198h0M195 1223h0M189 1222h0M200 1146h0M151 1313h0M314 1217h0M342 1165h0M193 1273h0M185 1207h0M270 1178h0M185 1160h0M278 1277h0M283 1228h0M197 1324h0M195 1160h0M293 1097h0M187 1225h0M311 1202h0M295 1206h0M283 1170h0M249 1184h0M318 1192h0M112 1241h0M248 1264h0M175 1315h0M172 1220h0M259 1200h0M259 1100h0M222 1269h0M185 1294h0M126 1242h0M272 1232h0M164 1225h0M256 1178h0M164 1178h0M267 1297h0M247 1261h0M335 1156h0M189 1305h0M244 1212h0M269 1226h0M273 1206h0M132 1195h0M291 1202h0M169 1178h0M233 1277h0M152 1189h0M212 1284h0M273 1235h0M327 1232h0M337 1189h0M278 1271h0M234 1067h0M180 1307h0M133 1215h0M274 1183h0M280 1262h0M210 1144h0M238 1159h0M121 1213h0M128 1234h0M312 1186h0M301 1214h0M317 1189h0M171 1278h0M194 1266h0M195 1232h0M282 1279h0M191 1221h0M187 1263h0M275 1191h0M199 1270h0M208 1326h0M293 1237h0M197 1294h0M321 1182h0M209 1124h0M286 1210h0M245 1188h0M160 1300h0M286 1168h0M186 1290h0M249 1248h0M342 1150h0M161 1290h0M120 1253h0M262 1274h0M338 1138h0M116 1215h0M222 1263h0M134 1242h0M201 1138h0M217 1175h0M198 1227h0M201 1148h0M243 1226h0M177 1257h0M304 1164h0M221 1226h0M220 1269h0M347 1148h0M170 1169h0M305 1094h0M188 1251h0M186 1244h0M196 1235h0M172 1136h0M260 1237h0M187 1276h0M203 1182h0M259 1254h0M226 1275h0M169 1235h0M171 1254h0M194 1174h0M292 1198h0M218 1269h0M204 1317h0M203 1278h0M232 1274h0M216 1318h0M307 1250h0M222 1281h0M179 1315h0M167 1309h0M177 1160h0M220 1267h0M156 1280h0M240 1225h0M286 1162h0M203 1134h0M178 1168h0M139 1196h0M168 1254h0M219 1176h0M206 1278h0M308 1243h0M338 1172h0M169 1283h0M287 1148h0M242 1197h0M283 1197h0M299 1268h0M298 1253h0M325 1131h0M256 1257h0M175 1241h0M171 1263h0M243 1201h0M144 1231h0M302 1233h0M235 1190h0M331 1224h0M170 1247h0M290 1201h0M173 1312h0M157 1289h0M348 1176h0M190 1277h0M236 1179h0M290 1235h0M273 1252h0M152 1201h0M276 1193h0M287 1195h0M176 1231h0M218 1263h0M306 1118h0M236 1250h0M175 1122h0M284 1202h0M197 1234h0M281 1278h0M254 1291h0M115 1234h0M280 1188h0M280 1189h0M146 1192h0M289 1111h0M203 1262h0M168 1213h0M281 1254h0M273 1163h0M239 1259h0M200 1246h0M322 1152h0M181 1231h0M218 1225h0M164 1172h0M294 1195h0M197 1215h0M169 1146h0M208 1146h0M347 1197h0M173 1218h0M152 1140h0M289 1210h0M123 1245h0M264 1159h0M213 1274h0M331 1162h0M345 1166h0M145 1235h0M197 1288h0M234 1221h0M114 1216h0M186 1245h0M176 1146h0M169 1233h0M208 1214h0M109 1243h0M261 1280h0M228 1245h0M261 1150h0M156 1137h0M244 1205h0M316 1186h0M227 1271h0M295 1249h0M174 1241h0M251 1158h0M219 1276h0M224 1167h0M327 1105h0M198 1328h0M257 1274h0M192 1139h0M216 1222h0M263 1250h0M267 1238h0M130 1187h0M250 1169h0M241 1248h0M264 1235h0M235 1256h0M190 1232h0M271 1192h0M255 1213h0M286 1162h0M270 1166h0M281 1190h0M256 1266h0M213 1236h0M269 1270h0M187 1257h0M249 1108h0M277 1174h0M251 1276h0M248 1212h0M146 1181h0M211 1309h0M207 1271h0M262 1146h0M200 1286h0M185 1213h0M312 1177h0M194 1261h0M157 1203h0M196 1227h0M206 1278h0M227 1248h0M267 1122h0M313 1212h0M220 1221h0M270 1234h0M193 1256h0M201 1230h0M275 1168h0M180 1295h0M197 1250h0M229 1263h0M227 1205h0M132 1238h0M243 1210h0M195 1135h0M284 1201h0M193 1301h0M283 1245h0M114 1275h0M153 1266h0M313 1105h0M352 1191h0M185 1230h0M158 1231h0M141 1190h0M148 1245h0M260 1246h0M146 1167h0M274 1175h0M232 1233h0M267 1276h0M233 1249h0M206 1220h0M143 1232h0M317 1223h0M231 1300h0M205 1193h0M244 1128h0M201 1213h0M293 1171h0M179 1227h0M262 1223h0M229 1186h0M186 1218h0M175 1156h0M191 1234h0M239 1181h0M179 1274h0M275 1203h0M290 1210h0M249 1149h0M179 1301h0M120 1205h0M145 1249h0M209 1143h0M123 1260h0M135 1192h0M238 1274h0M234 1246h0M304 1216h0M140 1297h0M212 1299h0M229 1248h0M187 1249h0M118 1217h0M208 1292h0M283 1212h0M190 1219h0M230 1291h0M160 1133h0M313 1184h0M143 1224h0M170 1207h0M351 1182h0M261 1179h0M268 1195h0M325 1225h0M323 1188h0M193 1192h0M151 1246h0M119 1207h0M312 1211h0M230 1276h0M281 1227h0M267 1202h0M156 1238h0M135 1240h0M229 1225h0M222 1267h0M129 1237h0M130 1286h0M211 1169h0M200 1136h0M194 1289h0M175 1302h0M182 1310h0M242 1291h0M177 1311h0M223 1296h0M178 1296h0M243 1224h0M265 1277h0M203 1215h0M216 1201h0M281 1225h0M183 1267h0M276 1174h0M216 1252h0M217 1151h0M279 1158h0M232 1171h0M303 1178h0M207 1301h0M274 1259h0M211 1275h0M111 1254h0M165 1295h0M228 1294h0M206 1256h0M120 1222h0M186 1216h0M240 1311h0M173 1257h0M242 1208h0M252 1239h0M298 1198h0M144 1236h0M149 1186h0M255 1099h0M170 1239h0M214 1250h0M256 1291h0M186 1229h0M170 1224h0M193 1292h0M130 1205h0M130 1239h0M133 1204h0M232 1274h0M208 1305h0M261 1183h0M264 1199h0M167 1179h0M279 1228h0M186 1289h0M188 1307h0M232 1243h0M306 1200h0M146 1261h0M271 1141h0M180 1279h0M211 1270h0M205 1280h0M184 1241h0M182 1267h0M195 1270h0M297 1094h0M233 1298h0M206 1196h0M193 1269h0M354 1176h0M240 1293h0M127 1229h0M238 1316h0M293 1166h0M325 1163h0M331 1228h0M247 1276h0M257 1233h0M114 1214h0M332 1156h0M171 1232h0M193 1275h0M227 1254h0M180 1307h0M198 1286h0M139 1229h0M200 1129h0M291 1260h0M248 1206h0M267 1207h0M250 1303h0M241 1211h0M278 1173h0M196 1231h0M199 1200h0M283 1159h0M310 1215h0M246 1229h0M181 1297h0M191 1219h0M270 1200h0M283 1165h0M344 1145h0M340 1175h0M223 1285h0M208 1256h0M293 1230h0M291 1218h0M195 1138h0M140 1227h0M126 1241h0M200 1271h0M203 1271h0M270 1157h0M153 1239h0M245 1278h0M245 1125h0M246 1180h0M356 1177h0M314 1173h0M270 1104h0M292 1184h0M123 1236h0M266 1102h0M203 1144h0M264 1279h0M194 1200h0M311 1205h0M170 1176h0M258 1291h0M292 1205h0M244 1063h0M347 1180h0M178 1257h0M137 1298h0M250 1204h0M222 1289h0M284 1279h0M240 1096h0M214 1228h0M270 1275h0M295 1161h0M270 1301h0M175 1300h0M268 1242h0M245 1126h0M118 1263h0M328 1149h0M231 1176h0M231 1264h0M254 1246h0M305 1102h0M157 1279h0M179 1238h0M143 1253h0M298 1189h0M304 1113h0M185 1212h0M311 1224h0M182 1228h0M266 1266h0M277 1204h0M286 1161h0M138 1201h0M229 1150h0M282 1213h0M280 1177h0M232 1306h0M189 1127h0M115 1267h0M317 1240h0M277 1256h0M258 1296h0M276 1161h0M278 1196h0M143 1307h0M216 1309h0M278 1161h0M332 1230h0M190 1239h0M222 1277h0M247 1122h0M165 1214h0M256 1087h0M193 1131h0M283 1244h0M170 1230h0M237 1285h0M198 1304h0M195 1165h0M265 1266h0M147 1226h0M258 1238h0M120 1220h0M287 1283h0M294 1231h0M188 1191h0M188 1250h0M157 1278h0M288 1169h0M206 1300h0M220 1291h0M147 1194h0M173 1274h0M318 1211h0M239 1212h0M142 1322h0M133 1275h0M179 1291h0M291 1203h0M359 1192h0M172 1211h0M290 1192h0M159 1206h0M253 1253h0M300 1161h0M160 1214h0M241 1229h0M121 1241h0M145 1235h0M185 1321h0M159 1237h0M128 1201h0M224 1281h0M169 1131h0M180 1314h0M188 1186h0M203 1195h0" stroke="#000" stroke-width="4" stroke-linecap="round" fill="none" opacity="0.85"/>
</g>
<text x="83.8" y="1088.2" font-size="25.5" text-anchor="end">20</text>
<text x="83.8" y="1148.1" font-size="25.5" text-anchor="end">10</text>
<text x="83.8" y="1208" font-size="25.5" text-anchor="end">0</text>
<text x="83.8" y="1267.9" font-size="25.5" text-anchor="end">-10</text>
<text x="83.8" y="1327.8" font-size="25.5" text-anchor="end">-20</text>
<text x="111.3" y="1371.4" font-size="25.5" text-anchor="middle">-20</text>
<text x="234.9" y="1371.4" font-size="25.5" text-anchor="middle">0</text>
<text x="358.5" y="1371.4" font-size="25.5" text-anchor="middle">20</text>
<text x="235.8" y="1402.1" font-size="26" text-anchor="middle">t-SNE dim. 1</text>
<text transform="translate(24.5 1188) rotate(-90)" x="0" y="0" font-size="26" text-anchor="middle">t-SNE dim. 2</text>
<rect x="528" y="1064" width="34" height="29" fill="#fff"/>
<circle cx="359.6" cy="1017.2" r="6.6" fill="#fff" stroke="#000" stroke-width="1.2"/>
<circle cx="359.6" cy="1051.5" r="6.6" fill="#808080" stroke="#000" stroke-width="1.2"/>
<circle cx="359.6" cy="1084" r="7.0" fill="#000"/>
<text x="383.8" y="1023.4" font-size="26">B.1.1.529</text>
<text x="386" y="1058.8" font-size="26">B.1.617.2</text>
<text x="386" y="1091.3" font-size="26"><tspan>4</tspan><tspan font-size="17.2" dy="-8.8">th</tspan><tspan dy="8.8"> vaccination</tspan></text>
<path d="M539 1066V1366.6M521.7 1338.1H821.9M601 1066V1366.6M521.7 1277.4H821.9M663 1066V1366.6M521.7 1216.7H821.9M725 1066V1366.6M521.7 1156H821.9M787 1066V1366.6M521.7 1095.3H821.9" stroke="#ebebeb" stroke-width="2.0" fill="none"/>
<text x="663.8" y="1052.4" font-size="34.3" text-anchor="middle">CD38</text>
<g filter="url(#bl2)">
<path d="M561 1290h0M608 1310h0M556 1272h0M581 1304h0M578 1295h0M618 1334h0M593 1326h0M570 1298h0M585 1306h0M554 1280h0M566 1300h0M587 1308h0M612 1306h0M602 1338h0M611 1287h0M613 1330h0M579 1329h0M560 1281h0M619 1347h0M564 1321h0M579 1328h0M606 1331h0M540 1260h0M625 1324h0M639 1340h0M551 1262h0M575 1325h0M642 1318h0M553 1254h0M601 1332h0M605 1310h0M565 1316h0M602 1318h0M588 1301h0M583 1304h0M567 1307h0M589 1332h0M560 1293h0M613 1340h0" stroke="#5059a6" stroke-width="5.2" stroke-linecap="round" fill="none" opacity="0.92"/>
<path d="M596 1330h0M623 1334h0M578 1293h0M649 1341h0M644 1323h0M592 1317h0M562 1278h0M569 1282h0M543 1249h0M581 1305h0M594 1316h0M562 1283h0M623 1334h0M589 1311h0M636 1292h0M592 1303h0M607 1332h0M592 1313h0M613 1327h0M654 1343h0M552 1275h0M585 1324h0M653 1343h0M578 1265h0M586 1322h0M573 1305h0M634 1341h0M619 1339h0M647 1339h0M617 1315h0M600 1280h0M602 1304h0M609 1275h0M579 1331h0M552 1305h0M634 1296h0M608 1335h0M571 1249h0M601 1330h0M639 1328h0M542 1294h0M568 1316h0M616 1299h0M546 1224h0M583 1255h0M558 1304h0M668 1330h0M636 1323h0M576 1300h0M576 1328h0M628 1289h0M631 1321h0M590 1292h0M620 1285h0" stroke="#3c6daf" stroke-width="5.2" stroke-linecap="round" fill="none" opacity="0.92"/>
<path d="M620 1283h0M642 1322h0M577 1249h0M626 1316h0M559 1275h0M545 1249h0M643 1320h0M602 1303h0M631 1313h0M630 1341h0M540 1248h0M601 1338h0M600 1315h0M606 1296h0M627 1327h0M656 1296h0M626 1311h0M562 1255h0M580 1263h0M614 1327h0M645 1337h0M639 1323h0M595 1287h0M608 1301h0M573 1247h0M550 1257h0M588 1268h0M544 1270h0M652 1304h0M551 1261h0M615 1335h0M559 1297h0M631 1292h0M551 1232h0M575 1300h0M575 1266h0M616 1327h0M569 1315h0M578 1290h0M559 1226h0M555 1260h0M542 1279h0M599 1285h0M589 1321h0M560 1286h0M611 1281h0M549 1232h0M593 1253h0M620 1284h0M556 1252h0M599 1296h0M572 1274h0M588 1319h0M589 1308h0M595 1327h0M617 1267h0M551 1293h0M584 1264h0M567 1292h0M564 1314h0M608 1313h0M643 1282h0M548 1222h0M603 1320h0M635 1319h0M547 1239h0M621 1287h0M640 1334h0M576 1267h0M593 1324h0M548 1238h0M585 1296h0M634 1318h0M601 1292h0M573 1252h0" stroke="#1b86b7" stroke-width="5.2" stroke-linecap="round" fill="none" opacity="0.92"/>
<path d="M593 1269h0M647 1301h0M559 1258h0M586 1307h0M587 1291h0M655 1306h0M575 1244h0M635 1300h0M590 1305h0M550 1248h0M549 1254h0M563 1239h0M581 1239h0M611 1311h0M612 1273h0M624 1321h0M603 1278h0M614 1276h0M603 1273h0M648 1285h0M618 1287h0M623 1277h0M639 1324h0M684 1328h0M667 1338h0M605 1296h0M588 1251h0M580 1275h0M628 1282h0M618 1265h0M589 1281h0M640 1288h0M652 1313h0M584 1246h0M614 1307h0M612 1323h0M629 1293h0M557 1230h0M552 1260h0M654 1292h0M660 1339h0M604 1275h0M585 1276h0M618 1327h0M571 1283h0M581 1262h0M633 1344h0M622 1305h0M640 1302h0M617 1284h0M618 1285h0M625 1313h0M584 1324h0M615 1294h0M569 1243h0M598 1265h0M585 1308h0M572 1253h0M597 1251h0M549 1274h0M564 1241h0M576 1262h0M601 1275h0M666 1307h0M595 1315h0M648 1322h0M642 1320h0M618 1289h0M666 1334h0M626 1305h0M567 1246h0M609 1315h0M602 1294h0M606 1274h0M607 1255h0M652 1299h0" stroke="#139db7" stroke-width="5.2" stroke-linecap="round" fill="none" opacity="0.92"/>
<path d="M574 1245h0M546 1223h0M578 1223h0M640 1283h0M618 1265h0M648 1296h0M641 1286h0M640 1196h0M664 1306h0M623 1289h0M632 1308h0M578 1235h0M673 1303h0M618 1290h0M595 1288h0M552 1208h0M657 1312h0M590 1284h0M560 1212h0M598 1298h0M581 1270h0M667 1309h0M569 1218h0M638 1293h0M583 1221h0M571 1221h0M588 1244h0M537 1237h0M677 1309h0M541 1227h0M644 1285h0M623 1273h0M649 1303h0M547 1271h0M554 1210h0M603 1275h0M651 1304h0M613 1267h0M560 1212h0M561 1232h0M615 1281h0M604 1275h0M648 1287h0M646 1287h0M685 1332h0M582 1231h0M603 1259h0M667 1326h0M587 1225h0M677 1300h0M673 1340h0M636 1191h0M602 1259h0M613 1250h0M670 1309h0M579 1234h0M640 1282h0M660 1292h0M614 1308h0M651 1292h0M636 1274h0M568 1244h0M630 1298h0M611 1259h0M576 1266h0M631 1295h0" stroke="#1db2b4" stroke-width="5.2" stroke-linecap="round" fill="none" opacity="0.92"/>
<path d="M564 1209h0M586 1217h0M665 1298h0M621 1252h0M616 1244h0M583 1244h0M686 1328h0M567 1229h0M614 1252h0M611 1256h0M628 1266h0M663 1319h0M666 1304h0M676 1317h0M683 1321h0M621 1285h0M577 1307h0M650 1294h0M621 1253h0M682 1311h0M647 1321h0M662 1310h0M574 1201h0M614 1253h0M634 1274h0M641 1280h0M635 1264h0M639 1172h0M663 1317h0M657 1306h0M568 1235h0M622 1247h0M617 1252h0M614 1264h0M600 1238h0M591 1242h0M661 1295h0M687 1315h0M544 1298h0M648 1285h0M664 1298h0M542 1233h0M656 1265h0M602 1258h0M634 1296h0M611 1285h0M612 1259h0M624 1248h0M651 1303h0M627 1257h0M581 1233h0" stroke="#3dc4af" stroke-width="5.2" stroke-linecap="round" fill="none" opacity="0.92"/>
<path d="M645 1177h0M698 1310h0M663 1277h0M644 1272h0M632 1251h0M583 1202h0M574 1200h0M634 1266h0M606 1246h0M668 1284h0M629 1259h0M687 1301h0M589 1243h0M667 1289h0M647 1139h0M629 1172h0M573 1213h0M651 1201h0M656 1273h0M602 1237h0M652 1289h0M654 1202h0M692 1317h0M660 1310h0M676 1282h0M603 1237h0M695 1315h0M575 1188h0M618 1249h0M690 1292h0M602 1236h0M624 1252h0M596 1257h0M651 1299h0M667 1167h0M602 1156h0M646 1280h0M631 1280h0M601 1235h0M629 1264h0M684 1309h0M576 1202h0M621 1279h0M613 1247h0M695 1294h0M607 1244h0M563 1209h0M618 1236h0M622 1241h0M570 1204h0M684 1309h0M638 1183h0M661 1316h0M675 1294h0M636 1164h0M662 1186h0M617 1247h0M578 1204h0M625 1241h0M629 1261h0M556 1218h0M689 1297h0" stroke="#6ad3ad" stroke-width="5.2" stroke-linecap="round" fill="none" opacity="0.92"/>
<path d="M657 1268h0M615 1274h0M584 1208h0M624 1236h0M628 1215h0M653 1259h0M671 1272h0M624 1245h0M699 1246h0M647 1265h0M602 1226h0M641 1236h0M622 1250h0M579 1198h0M717 1303h0M698 1245h0M679 1293h0M658 1210h0M579 1190h0M659 1242h0M630 1240h0M595 1230h0M566 1185h0M589 1211h0M669 1297h0M612 1238h0M629 1251h0M677 1307h0M617 1238h0M608 1218h0M645 1247h0M576 1211h0M661 1161h0M617 1240h0M568 1206h0M684 1307h0M659 1195h0M585 1197h0M616 1208h0M647 1242h0M711 1252h0M608 1226h0M574 1198h0M613 1230h0M694 1295h0M582 1145h0M613 1235h0M598 1224h0M594 1151h0M570 1254h0M576 1203h0M660 1261h0M690 1231h0M654 1143h0M613 1229h0M666 1299h0" stroke="#9ae2a8" stroke-width="5.2" stroke-linecap="round" fill="none" opacity="0.92"/>
<path d="M641 1149h0M580 1210h0M677 1267h0M618 1245h0M713 1298h0M588 1203h0M708 1271h0M560 1199h0M626 1242h0M645 1189h0M757 1246h0M705 1271h0M698 1239h0M644 1183h0M692 1282h0M651 1237h0M619 1206h0M656 1305h0M618 1234h0M683 1259h0M700 1290h0M573 1179h0M734 1260h0M694 1284h0M650 1247h0M642 1244h0M582 1195h0M558 1202h0M644 1164h0M671 1254h0M728 1231h0M583 1182h0M575 1180h0M569 1191h0M674 1263h0M641 1181h0M594 1146h0M664 1252h0M679 1253h0M601 1229h0M673 1271h0M709 1296h0M573 1204h0M672 1222h0M685 1285h0M738 1281h0M697 1288h0M645 1192h0M670 1276h0M588 1201h0M629 1230h0M579 1177h0M670 1217h0M599 1204h0M650 1250h0M634 1231h0M641 1152h0M658 1258h0M595 1196h0M642 1265h0M661 1269h0M674 1246h0M692 1221h0M622 1217h0M713 1297h0M686 1256h0" stroke="#c0eca7" stroke-width="5.2" stroke-linecap="round" fill="none" opacity="0.92"/>
<path d="M618 1134h0M719 1282h0M657 1240h0M691 1311h0M641 1177h0M637 1243h0M597 1190h0M713 1234h0M630 1143h0M684 1259h0M671 1243h0M629 1196h0M695 1234h0M649 1180h0M680 1211h0M611 1189h0M673 1249h0M619 1230h0M696 1289h0M580 1163h0M631 1217h0M596 1202h0M607 1154h0M720 1243h0M611 1230h0M670 1233h0M684 1270h0M669 1150h0M652 1243h0M650 1155h0M691 1241h0M613 1114h0M626 1218h0M610 1165h0M593 1207h0M627 1181h0M614 1119h0M651 1151h0M723 1285h0M718 1284h0M653 1146h0M624 1165h0M652 1186h0M661 1178h0M686 1201h0M677 1135h0M673 1280h0M595 1179h0M702 1217h0M760 1223h0M633 1234h0M689 1283h0M645 1165h0M658 1214h0M672 1227h0M614 1211h0M683 1277h0M625 1220h0M641 1226h0M695 1222h0M612 1217h0M574 1186h0M602 1169h0M707 1225h0M703 1256h0M627 1211h0M703 1289h0M636 1162h0M597 1162h0M652 1183h0M693 1225h0M614 1174h0M623 1233h0M590 1154h0M682 1259h0M657 1203h0M668 1204h0M657 1242h0M639 1186h0M601 1154h0M749 1254h0M593 1123h0M631 1215h0M676 1223h0M598 1185h0M689 1273h0M646 1219h0M598 1192h0M642 1245h0M629 1136h0M705 1274h0M590 1188h0M644 1219h0M585 1189h0M681 1270h0" stroke="#def3a8" stroke-width="5.2" stroke-linecap="round" fill="none" opacity="0.92"/>
<path d="M671 1229h0M653 1227h0M684 1192h0M711 1243h0M659 1221h0M665 1230h0M633 1201h0M569 1193h0M643 1177h0M682 1251h0M631 1211h0M747 1211h0M624 1210h0M704 1267h0M658 1144h0M652 1225h0M666 1173h0M630 1213h0M676 1116h0M604 1148h0M673 1246h0M678 1260h0M643 1124h0M678 1235h0M691 1261h0M607 1155h0M665 1157h0M742 1234h0M635 1216h0M736 1233h0M626 1190h0M700 1291h0M673 1278h0M676 1134h0M692 1227h0M635 1153h0M725 1209h0M602 1143h0M591 1154h0M735 1202h0M603 1192h0M642 1212h0M639 1237h0M651 1145h0M627 1155h0M658 1230h0M763 1196h0M685 1280h0M728 1240h0M660 1231h0M746 1239h0M702 1147h0M698 1218h0M627 1159h0M695 1173h0M694 1241h0M679 1248h0M670 1256h0M727 1280h0M766 1240h0M640 1142h0M640 1223h0M747 1215h0M675 1267h0M666 1233h0M635 1216h0M624 1194h0M682 1260h0M677 1200h0M639 1184h0M738 1275h0M710 1297h0M632 1212h0M629 1155h0M670 1279h0M704 1210h0M645 1158h0M710 1272h0M718 1227h0M722 1219h0M685 1292h0M604 1209h0M644 1189h0M597 1186h0M595 1187h0M603 1198h0M644 1159h0M620 1192h0M732 1216h0M665 1168h0M654 1222h0M703 1276h0M646 1213h0M630 1184h0M682 1204h0M720 1278h0M601 1177h0M648 1200h0M631 1160h0M748 1224h0M616 1207h0M641 1178h0M669 1247h0M746 1229h0M714 1289h0M598 1127h0" stroke="#f1f0a4" stroke-width="5.2" stroke-linecap="round" fill="none" opacity="0.92"/>
<path d="M694 1212h0M599 1126h0M693 1244h0M709 1210h0M669 1229h0M622 1141h0M606 1148h0M650 1252h0M689 1252h0M709 1110h0M635 1230h0M705 1208h0M632 1142h0M626 1156h0M682 1112h0M686 1170h0M695 1251h0M591 1194h0M607 1148h0M705 1208h0M709 1244h0M731 1225h0M645 1143h0M709 1166h0M629 1192h0M597 1194h0M735 1260h0M751 1217h0M668 1134h0M712 1129h0M714 1278h0M598 1151h0M682 1246h0M737 1234h0M699 1268h0M661 1236h0M682 1209h0M751 1210h0M590 1169h0M710 1270h0M650 1203h0M726 1214h0M721 1154h0M611 1152h0M631 1137h0M731 1235h0M652 1139h0M717 1270h0M672 1248h0M637 1212h0M675 1225h0M753 1203h0M674 1136h0M670 1222h0M762 1182h0M705 1210h0M687 1181h0M711 1186h0M762 1198h0M760 1137h0M714 1248h0M674 1227h0M613 1176h0M711 1245h0M708 1280h0M606 1164h0M622 1190h0M602 1159h0M736 1240h0M727 1271h0M663 1240h0M673 1109h0M692 1175h0M678 1110h0M595 1192h0M671 1192h0M651 1152h0M695 1255h0M710 1207h0M635 1223h0M751 1119h0M615 1205h0M700 1129h0M681 1123h0M634 1237h0M633 1210h0M711 1230h0M638 1209h0M643 1161h0M771 1188h0M760 1248h0M694 1231h0M712 1157h0M604 1137h0M629 1152h0M698 1217h0M719 1235h0M590 1147h0M725 1185h0M714 1177h0M681 1117h0M675 1138h0M685 1102h0M623 1182h0M694 1283h0M609 1159h0M597 1170h0" stroke="#fbe394" stroke-width="5.2" stroke-linecap="round" fill="none" opacity="0.92"/>
<path d="M614 1149h0M676 1145h0M761 1186h0M677 1112h0M707 1139h0M686 1136h0M646 1167h0M628 1152h0M695 1209h0M616 1149h0M680 1224h0M663 1180h0M623 1176h0M688 1230h0M737 1242h0M711 1225h0M694 1207h0M655 1265h0M752 1203h0M638 1114h0M638 1194h0M748 1251h0M585 1172h0M730 1257h0M648 1145h0M681 1215h0M629 1221h0M744 1228h0M682 1208h0M684 1222h0M702 1199h0M682 1128h0M719 1190h0M675 1209h0M684 1205h0M686 1101h0M761 1157h0M726 1215h0M736 1205h0M717 1116h0M624 1117h0M647 1162h0M651 1194h0M700 1223h0M706 1218h0M734 1142h0M718 1158h0M722 1188h0M741 1244h0M672 1154h0M658 1107h0M737 1228h0M699 1190h0M623 1176h0M711 1112h0M662 1200h0M628 1128h0M690 1203h0M730 1254h0M669 1126h0M704 1169h0M703 1104h0M704 1098h0M674 1095h0M580 1156h0M659 1106h0M692 1252h0M720 1207h0M617 1132h0M597 1142h0M671 1222h0M667 1198h0M689 1144h0M672 1150h0M744 1170h0M618 1145h0M660 1188h0M640 1184h0M630 1126h0M663 1134h0M670 1225h0M702 1157h0M658 1146h0M707 1245h0M784 1186h0M641 1184h0M721 1247h0M688 1158h0M674 1197h0M653 1223h0M659 1193h0M686 1112h0M694 1284h0M697 1215h0M617 1143h0M706 1213h0M700 1134h0M684 1167h0M716 1243h0M749 1141h0" stroke="#fad27a" stroke-width="5.2" stroke-linecap="round" fill="none" opacity="0.92"/>
<path d="M724 1283h0M701 1210h0M661 1217h0M682 1222h0M721 1214h0M677 1146h0M773 1230h0M701 1219h0M627 1183h0M625 1152h0M673 1210h0M794 1180h0M700 1209h0M731 1236h0M783 1149h0M749 1250h0M705 1179h0M773 1179h0M652 1111h0M698 1203h0M738 1184h0M764 1135h0M678 1169h0M642 1131h0M738 1264h0M714 1136h0M744 1159h0M702 1121h0M719 1183h0M680 1119h0M686 1164h0M701 1208h0M666 1116h0M711 1185h0M675 1082h0M625 1159h0M697 1197h0M647 1115h0M686 1121h0M712 1220h0M582 1191h0M788 1190h0M668 1155h0M714 1158h0M736 1228h0M785 1146h0M596 1145h0M648 1134h0M675 1190h0M698 1127h0M726 1162h0M613 1132h0M757 1173h0M730 1217h0M639 1138h0M713 1190h0M657 1116h0M767 1232h0M733 1215h0M721 1112h0M747 1209h0M719 1219h0M730 1231h0M623 1204h0M754 1170h0M733 1110h0M741 1145h0M678 1179h0M723 1210h0M622 1125h0M715 1221h0M710 1113h0M629 1204h0M700 1209h0M705 1190h0M691 1162h0M675 1171h0M702 1119h0M735 1109h0M592 1141h0M757 1241h0M596 1137h0M771 1232h0M690 1212h0M628 1153h0M709 1242h0M704 1191h0M623 1143h0M732 1152h0M745 1202h0M711 1126h0M765 1201h0M711 1175h0M626 1165h0M585 1146h0M693 1214h0M675 1166h0M709 1245h0M745 1173h0M621 1151h0" stroke="#f7bb5c" stroke-width="5.2" stroke-linecap="round" fill="none" opacity="0.92"/>
<path d="M743 1203h0M703 1233h0M705 1097h0M748 1231h0M706 1180h0M718 1179h0M625 1152h0M740 1158h0M749 1170h0M780 1220h0M632 1145h0M719 1119h0M673 1154h0M727 1222h0M723 1216h0M697 1185h0M731 1143h0M629 1126h0M729 1111h0M788 1207h0M693 1178h0M682 1176h0M624 1128h0M733 1187h0M790 1202h0M740 1156h0M758 1218h0M679 1140h0M608 1128h0M747 1210h0M771 1158h0M680 1133h0M758 1227h0M728 1234h0M711 1136h0M771 1200h0M740 1191h0M610 1127h0M678 1118h0M704 1227h0M622 1147h0M722 1253h0M595 1126h0M642 1111h0M714 1198h0M756 1241h0M779 1188h0M672 1201h0M711 1198h0M686 1181h0M702 1150h0M673 1215h0M740 1219h0M724 1117h0M685 1152h0M758 1167h0M759 1209h0M747 1112h0M669 1143h0M705 1113h0M672 1156h0M764 1152h0M680 1173h0M756 1185h0M722 1212h0M793 1200h0M715 1182h0M699 1185h0M713 1116h0M720 1160h0M726 1205h0M746 1254h0M745 1258h0M793 1208h0M660 1115h0M750 1147h0M680 1162h0" stroke="#f4a33c" stroke-width="5.2" stroke-linecap="round" fill="none" opacity="0.92"/>
<path d="M754 1166h0M672 1100h0M721 1108h0M720 1163h0M765 1217h0M742 1211h0M729 1121h0M687 1175h0M708 1177h0M744 1128h0M619 1130h0M758 1139h0M727 1106h0M783 1158h0M730 1184h0M761 1168h0M763 1206h0M759 1137h0M667 1152h0M748 1160h0M689 1155h0M761 1143h0M782 1174h0M630 1142h0M739 1130h0M709 1104h0M699 1125h0M661 1109h0M601 1131h0M762 1235h0M766 1177h0M636 1119h0M739 1172h0M758 1210h0M733 1110h0M680 1144h0M771 1191h0M744 1142h0M775 1195h0M754 1136h0M768 1190h0M652 1125h0M787 1204h0M769 1237h0M716 1168h0M682 1111h0M712 1180h0M781 1190h0M654 1114h0M664 1134h0M717 1272h0M777 1215h0M728 1173h0M773 1162h0M715 1184h0M681 1095h0M698 1162h0M661 1106h0M665 1123h0M726 1153h0M759 1179h0M774 1182h0M748 1161h0M720 1147h0M677 1123h0M757 1123h0M678 1165h0M783 1164h0M773 1166h0M712 1171h0M755 1161h0M733 1145h0M798 1190h0M746 1144h0M720 1222h0M770 1160h0" stroke="#ef8920" stroke-width="5.2" stroke-linecap="round" fill="none" opacity="0.92"/>
<path d="M757 1151h0M786 1184h0M706 1120h0M754 1217h0M799 1164h0M740 1122h0M700 1167h0M756 1119h0M662 1102h0M737 1145h0M784 1172h0M747 1111h0M796 1183h0M671 1113h0M728 1101h0M764 1127h0M755 1179h0M740 1111h0M677 1120h0M697 1103h0M800 1163h0M736 1131h0M719 1146h0M763 1172h0M797 1168h0M736 1118h0M733 1111h0M788 1159h0M722 1114h0M738 1154h0M776 1194h0M687 1115h0M742 1121h0M763 1167h0M780 1142h0M700 1157h0M754 1180h0M770 1184h0M742 1190h0M759 1150h0M673 1142h0M736 1107h0M651 1111h0M704 1177h0M780 1184h0" stroke="#e56f27" stroke-width="5.2" stroke-linecap="round" fill="none" opacity="0.92"/>
<path d="M675 1097h0M772 1177h0M722 1111h0M699 1110h0M781 1175h0M781 1161h0M709 1116h0M697 1123h0M721 1111h0M772 1158h0M770 1170h0M751 1185h0M742 1140h0M778 1149h0M781 1152h0M702 1118h0M683 1140h0M687 1116h0M791 1187h0M637 1140h0M728 1171h0M603 1137h0M797 1175h0M716 1110h0M725 1110h0M729 1120h0M672 1078h0" stroke="#d75530" stroke-width="5.2" stroke-linecap="round" fill="none" opacity="0.92"/>
<path d="M668 1098h0M726 1122h0M750 1164h0M700 1104h0M791 1186h0M764 1155h0M690 1187h0M789 1170h0M762 1187h0M646 1103h0M753 1147h0M629 1162h0M731 1122h0M716 1146h0M691 1109h0M734 1118h0M702 1097h0" stroke="#c63b3d" stroke-width="5.2" stroke-linecap="round" fill="none" opacity="0.92"/>
<path d="M756 1197h0M726 1124h0M728 1144h0M745 1114h0M665 1135h0M742 1119h0M771 1161h0M679 1150h0M744 1173h0M746 1142h0M712 1105h0M651 1203h0M702 1100h0" stroke="#ad2347" stroke-width="5.2" stroke-linecap="round" fill="none" opacity="0.92"/>
<path d="M589 1312h0M609 1334h0M608 1327h0M576 1322h0M631 1340h0M559 1256h0M594 1310h0M614 1342h0M541 1283h0M580 1299h0M608 1327h0M612 1307h0M546 1270h0M650 1311h0M535 1263h0M576 1286h0M561 1296h0M621 1333h0M566 1306h0M553 1273h0M536 1258h0M618 1340h0M634 1341h0M601 1338h0M545 1296h0M545 1266h0M591 1332h0M573 1278h0M593 1314h0M553 1307h0M560 1313h0M578 1328h0M589 1307h0M606 1295h0M570 1325h0M614 1342h0" stroke="#5059a6" stroke-width="5.2" stroke-linecap="round" fill="none" opacity="0.92"/>
<path d="M584 1324h0M607 1328h0M609 1319h0M566 1306h0M607 1347h0M544 1282h0M581 1302h0M608 1313h0M605 1300h0M564 1278h0M565 1311h0M581 1311h0M542 1247h0M645 1324h0M606 1326h0M581 1258h0M565 1272h0M551 1275h0M566 1300h0M544 1284h0M566 1300h0M665 1329h0M560 1241h0M592 1316h0M562 1274h0M609 1324h0M604 1284h0M608 1320h0M593 1288h0M566 1311h0M560 1281h0M588 1304h0M540 1259h0M603 1333h0M574 1245h0M550 1240h0M632 1335h0M614 1328h0M585 1265h0M607 1319h0M615 1332h0M650 1331h0M563 1258h0M622 1308h0M625 1340h0M558 1293h0M594 1312h0M568 1318h0M540 1292h0M551 1253h0M572 1314h0M546 1277h0M570 1341h0" stroke="#3c6daf" stroke-width="5.2" stroke-linecap="round" fill="none" opacity="0.92"/>
<path d="M578 1289h0M612 1279h0M627 1290h0M624 1308h0M569 1319h0M615 1328h0M554 1264h0M621 1283h0M607 1285h0M554 1250h0M584 1266h0M567 1290h0M567 1257h0M608 1296h0M612 1277h0M618 1288h0M624 1279h0M629 1300h0M565 1309h0M583 1322h0M553 1252h0M620 1329h0M597 1312h0M586 1248h0M569 1318h0M546 1274h0M637 1318h0M568 1320h0M556 1269h0M558 1275h0M567 1311h0M619 1289h0M572 1271h0M609 1294h0M551 1270h0M549 1230h0M546 1281h0M644 1336h0M584 1298h0M650 1323h0M570 1276h0M586 1288h0M560 1279h0M650 1300h0M610 1313h0M571 1249h0M607 1292h0M640 1317h0M571 1241h0M639 1321h0M549 1246h0M589 1303h0M610 1285h0M621 1293h0M620 1329h0M559 1280h0M548 1274h0M550 1278h0M543 1285h0" stroke="#1b86b7" stroke-width="5.2" stroke-linecap="round" fill="none" opacity="0.92"/>
<path d="M538 1248h0M577 1260h0M609 1294h0M580 1254h0M687 1327h0M609 1276h0M613 1325h0M610 1326h0M685 1326h0M550 1221h0M633 1292h0M603 1282h0M611 1262h0M648 1301h0M623 1284h0M611 1272h0M533 1226h0M652 1325h0M586 1248h0M615 1277h0M542 1244h0M567 1314h0M587 1230h0M554 1252h0M627 1320h0M547 1234h0M644 1290h0M613 1281h0M602 1322h0M669 1334h0M566 1216h0M633 1338h0M619 1294h0M639 1294h0M623 1291h0M579 1261h0M625 1326h0M630 1300h0M625 1343h0M553 1260h0M607 1277h0M622 1284h0M548 1271h0M631 1296h0M597 1301h0M604 1324h0M641 1292h0M621 1284h0M632 1343h0M628 1304h0M649 1311h0M621 1319h0M573 1266h0M615 1266h0M613 1335h0M605 1329h0M606 1315h0M634 1274h0M572 1254h0M598 1256h0M574 1279h0M623 1288h0M627 1276h0M555 1247h0M553 1279h0M580 1325h0M660 1324h0M573 1321h0M653 1337h0M648 1309h0M635 1318h0" stroke="#139db7" stroke-width="5.2" stroke-linecap="round" fill="none" opacity="0.92"/>
<path d="M613 1283h0M590 1240h0M639 1324h0M567 1225h0M671 1314h0M556 1244h0M652 1297h0M593 1244h0M593 1243h0M541 1286h0M593 1269h0M645 1288h0M647 1166h0M586 1237h0M620 1273h0M655 1315h0M632 1313h0M649 1286h0M590 1223h0M591 1258h0M548 1278h0M679 1326h0M686 1326h0M554 1235h0M684 1298h0M608 1245h0M620 1276h0M591 1259h0M657 1304h0M692 1323h0M597 1253h0M599 1272h0M590 1327h0M596 1272h0M689 1310h0M585 1263h0M635 1276h0M646 1277h0M546 1234h0M607 1280h0M565 1209h0M639 1288h0M658 1294h0M678 1322h0M641 1272h0M686 1314h0M632 1278h0M665 1303h0M587 1231h0" stroke="#1db2b4" stroke-width="5.2" stroke-linecap="round" fill="none" opacity="0.92"/>
<path d="M625 1264h0M614 1249h0M579 1231h0M643 1274h0M657 1302h0M550 1218h0M661 1324h0M652 1295h0M625 1285h0M640 1279h0M669 1312h0M599 1247h0M679 1301h0M679 1329h0M564 1233h0M633 1269h0M568 1219h0M656 1294h0M638 1271h0M648 1272h0M646 1280h0M642 1333h0M639 1269h0M684 1316h0M563 1251h0M630 1273h0M570 1214h0M622 1283h0M617 1255h0M621 1248h0M654 1310h0M638 1324h0M621 1256h0M655 1289h0M558 1204h0M625 1267h0M675 1290h0M658 1309h0M650 1285h0M581 1220h0M614 1246h0M558 1222h0M619 1280h0M590 1242h0M582 1268h0M664 1298h0M644 1328h0M575 1244h0M590 1221h0" stroke="#3dc4af" stroke-width="5.2" stroke-linecap="round" fill="none" opacity="0.92"/>
<path d="M562 1205h0M656 1164h0M592 1212h0M568 1207h0M580 1286h0M679 1303h0M620 1243h0M642 1155h0M639 1230h0M587 1209h0M690 1228h0M649 1202h0M645 1294h0M661 1306h0M656 1166h0M615 1243h0M625 1245h0M588 1240h0M579 1201h0M653 1304h0M591 1203h0M683 1298h0M665 1289h0M650 1287h0M646 1189h0M650 1281h0M649 1288h0M596 1230h0M637 1252h0M653 1328h0M570 1199h0M621 1254h0M685 1284h0M679 1294h0M657 1281h0M569 1207h0M636 1252h0M679 1222h0M673 1306h0M631 1289h0M673 1296h0M628 1161h0M687 1309h0M698 1319h0M678 1306h0M682 1331h0M587 1223h0" stroke="#6ad3ad" stroke-width="5.2" stroke-linecap="round" fill="none" opacity="0.92"/>
<path d="M629 1245h0M617 1230h0M638 1180h0M630 1243h0M704 1288h0M647 1177h0M593 1251h0M601 1219h0M653 1276h0M564 1199h0M590 1206h0M582 1214h0M596 1224h0M646 1192h0M676 1282h0M615 1213h0M699 1289h0M625 1254h0M674 1259h0M676 1207h0M634 1238h0M628 1269h0M700 1300h0M616 1224h0M627 1308h0M567 1190h0M690 1284h0M639 1314h0M595 1207h0M627 1254h0M623 1240h0M614 1241h0M580 1211h0M619 1238h0M627 1288h0M586 1212h0M643 1245h0M628 1264h0M652 1143h0M663 1273h0M683 1230h0M585 1220h0M655 1265h0M629 1248h0M609 1156h0M590 1198h0M607 1214h0M614 1233h0M655 1272h0M614 1260h0M644 1263h0M608 1231h0M619 1273h0M714 1281h0" stroke="#9ae2a8" stroke-width="5.2" stroke-linecap="round" fill="none" opacity="0.92"/>
<path d="M633 1161h0M682 1285h0M639 1250h0M646 1160h0M623 1150h0M674 1241h0M581 1169h0M664 1264h0M697 1278h0M637 1230h0M630 1219h0M619 1231h0M688 1284h0M606 1162h0M721 1238h0M647 1172h0M650 1191h0M660 1253h0M628 1173h0M606 1145h0M609 1221h0M724 1294h0M592 1200h0M641 1250h0M667 1161h0M583 1218h0M598 1206h0M691 1300h0M685 1277h0M664 1212h0M590 1213h0M698 1293h0M593 1223h0M641 1182h0M601 1138h0M722 1234h0M630 1245h0M657 1257h0M611 1233h0M651 1245h0M613 1224h0M716 1274h0M625 1214h0M567 1213h0M649 1170h0M684 1275h0M691 1279h0M605 1185h0M637 1165h0M688 1317h0M689 1298h0M677 1209h0M674 1252h0M654 1253h0M670 1226h0M631 1226h0M584 1214h0M588 1206h0M725 1267h0M619 1237h0M667 1192h0M692 1297h0M632 1172h0M607 1202h0M574 1202h0M682 1264h0M657 1167h0M660 1256h0M639 1252h0M649 1199h0M616 1268h0M658 1267h0" stroke="#c0eca7" stroke-width="5.2" stroke-linecap="round" fill="none" opacity="0.92"/>
<path d="M586 1152h0M705 1274h0M644 1224h0M745 1249h0M666 1261h0M729 1264h0M675 1270h0M702 1275h0M624 1227h0M621 1168h0M703 1274h0M680 1271h0M650 1190h0M655 1227h0M576 1170h0M593 1204h0M687 1219h0M623 1199h0M609 1212h0M609 1235h0M702 1241h0M696 1288h0M681 1256h0M723 1252h0M714 1280h0M643 1232h0M696 1271h0M694 1291h0M637 1160h0M594 1147h0M631 1207h0M693 1254h0M659 1166h0M661 1260h0M709 1251h0M633 1123h0M674 1119h0M730 1257h0M676 1192h0M681 1279h0M607 1177h0M680 1261h0M583 1206h0M713 1276h0M720 1267h0M680 1308h0M687 1217h0M685 1274h0M592 1204h0M597 1195h0M614 1205h0M701 1252h0M601 1194h0M600 1152h0M681 1240h0M686 1272h0M721 1262h0M678 1265h0M663 1207h0M666 1256h0M712 1219h0M628 1225h0M625 1232h0M704 1261h0M616 1202h0M662 1238h0M636 1231h0M644 1239h0M669 1265h0M638 1205h0M621 1205h0M628 1211h0M617 1204h0M662 1264h0M621 1165h0M740 1228h0M644 1218h0M703 1274h0M611 1121h0M636 1244h0M706 1189h0M627 1217h0M673 1243h0M577 1165h0M700 1277h0M696 1259h0M632 1207h0M711 1297h0M659 1209h0M599 1171h0M584 1146h0M669 1246h0" stroke="#def3a8" stroke-width="5.2" stroke-linecap="round" fill="none" opacity="0.92"/>
<path d="M689 1230h0M664 1172h0M710 1268h0M617 1226h0M642 1219h0M598 1188h0M663 1164h0M610 1184h0M648 1238h0M695 1245h0M669 1169h0M644 1222h0M637 1222h0M745 1216h0M670 1218h0M662 1251h0M695 1249h0M664 1227h0M590 1176h0M672 1225h0M620 1240h0M626 1163h0M654 1192h0M695 1138h0M701 1288h0M674 1243h0M664 1178h0M654 1226h0M672 1257h0M648 1138h0M754 1209h0M638 1170h0M708 1145h0M760 1241h0M713 1204h0M627 1225h0M617 1202h0M679 1253h0M626 1163h0M729 1271h0M644 1221h0M672 1271h0M600 1178h0M645 1194h0M648 1171h0M600 1122h0M676 1223h0M627 1147h0M604 1157h0M627 1226h0M609 1154h0M597 1158h0M660 1264h0M678 1237h0M686 1135h0M674 1251h0M655 1172h0M628 1205h0M693 1227h0M685 1255h0M635 1196h0M669 1277h0M629 1173h0M668 1282h0M713 1218h0M648 1233h0M697 1228h0M587 1178h0M677 1243h0M643 1190h0M727 1182h0M702 1273h0M706 1295h0M700 1250h0M719 1237h0M689 1189h0M721 1255h0M739 1255h0M594 1187h0M645 1192h0M687 1271h0M617 1218h0M631 1150h0M670 1214h0M712 1214h0M579 1165h0M659 1194h0M676 1197h0M647 1181h0M725 1278h0M662 1236h0M599 1191h0M698 1180h0M635 1179h0M684 1253h0M655 1222h0M669 1226h0M676 1113h0M675 1249h0M589 1170h0M655 1171h0M665 1167h0M662 1181h0M723 1285h0M710 1278h0M605 1207h0M693 1296h0M645 1168h0M685 1262h0M722 1282h0M654 1224h0M594 1160h0M631 1145h0M634 1213h0M685 1250h0M629 1215h0M629 1183h0M707 1275h0M671 1260h0M715 1301h0M644 1214h0M649 1221h0M616 1203h0" stroke="#f1f0a4" stroke-width="5.2" stroke-linecap="round" fill="none" opacity="0.92"/>
<path d="M752 1243h0M737 1245h0M741 1221h0M704 1108h0M698 1244h0M714 1286h0M597 1153h0M590 1182h0M587 1192h0M702 1210h0M701 1253h0M686 1122h0M660 1261h0M673 1100h0M726 1170h0M632 1192h0M754 1230h0M705 1166h0M729 1154h0M580 1146h0M632 1211h0M647 1165h0M775 1143h0M737 1158h0M717 1184h0M728 1128h0M689 1185h0M727 1262h0M732 1205h0M673 1236h0M654 1210h0M709 1204h0M583 1149h0M594 1148h0M699 1256h0M721 1276h0M700 1244h0M694 1223h0M693 1196h0M737 1227h0M707 1152h0M645 1250h0M721 1140h0M689 1262h0M753 1136h0M743 1252h0M728 1187h0M759 1250h0M681 1147h0M610 1174h0M783 1182h0M671 1205h0M697 1274h0M663 1250h0M626 1221h0M588 1125h0M644 1217h0M683 1206h0M724 1272h0M627 1175h0M702 1268h0M635 1185h0M641 1207h0M650 1199h0M690 1231h0M683 1209h0M728 1134h0M703 1246h0M742 1234h0M627 1187h0M651 1210h0M767 1203h0M648 1128h0M638 1161h0M622 1200h0M740 1202h0M701 1171h0M668 1150h0M597 1141h0M775 1165h0M724 1272h0M723 1263h0M629 1206h0M736 1261h0M664 1196h0M718 1253h0M636 1137h0M746 1213h0M604 1163h0M676 1229h0M774 1170h0M740 1194h0M698 1252h0M602 1165h0M689 1264h0M660 1250h0M690 1240h0M662 1245h0M587 1149h0M751 1205h0M661 1206h0M710 1244h0M743 1268h0M661 1208h0M710 1123h0M660 1207h0M687 1126h0M633 1173h0M679 1263h0M773 1162h0M607 1167h0M678 1221h0M698 1293h0M736 1221h0M594 1207h0M663 1215h0M592 1148h0M652 1114h0" stroke="#fbe394" stroke-width="5.2" stroke-linecap="round" fill="none" opacity="0.92"/>
<path d="M583 1149h0M700 1235h0M637 1118h0M741 1236h0M649 1222h0M669 1163h0M614 1150h0M757 1129h0M790 1170h0M614 1152h0M727 1223h0M783 1195h0M755 1204h0M708 1224h0M725 1110h0M714 1275h0M747 1151h0M718 1193h0M611 1122h0M586 1140h0M721 1240h0M705 1253h0M748 1119h0M591 1141h0M792 1195h0M762 1154h0M733 1102h0M708 1270h0M759 1244h0M664 1197h0M700 1151h0M787 1208h0M714 1223h0M580 1149h0M622 1126h0M683 1137h0M584 1148h0M720 1189h0M633 1142h0M721 1211h0M796 1184h0M664 1114h0M697 1271h0M779 1163h0M736 1121h0M726 1151h0M695 1288h0M750 1216h0M608 1150h0M661 1245h0M599 1153h0M628 1150h0M621 1203h0M763 1241h0M666 1220h0M722 1250h0M671 1225h0M766 1166h0M623 1157h0M777 1182h0M718 1163h0M725 1268h0M677 1229h0M674 1206h0M730 1145h0M688 1221h0M730 1160h0M762 1243h0M673 1221h0M631 1131h0M788 1187h0M676 1154h0M611 1162h0M636 1129h0M767 1151h0M745 1153h0M719 1243h0M660 1173h0M675 1220h0M664 1105h0M688 1174h0M663 1230h0M699 1250h0M745 1217h0M708 1226h0M711 1207h0M598 1186h0M605 1177h0M650 1222h0M735 1133h0M716 1214h0M708 1206h0M600 1137h0M689 1166h0M753 1268h0M715 1239h0M671 1227h0M745 1240h0M686 1160h0M659 1215h0M656 1214h0M680 1257h0M689 1200h0M692 1216h0M733 1167h0M671 1204h0M698 1120h0M784 1205h0M756 1165h0M740 1241h0M758 1250h0M711 1261h0M699 1184h0M679 1214h0M729 1127h0M702 1222h0" stroke="#fad27a" stroke-width="5.2" stroke-linecap="round" fill="none" opacity="0.92"/>
<path d="M717 1249h0M633 1127h0M748 1135h0M640 1134h0M670 1182h0M720 1189h0M744 1192h0M789 1191h0M710 1227h0M661 1133h0M787 1207h0M669 1095h0M747 1162h0M592 1137h0M781 1182h0M619 1140h0M719 1241h0M615 1152h0M680 1151h0M739 1209h0M778 1238h0M678 1110h0M731 1125h0M620 1150h0M691 1105h0M699 1182h0M731 1222h0M636 1133h0M803 1175h0M781 1166h0M631 1145h0M762 1137h0M763 1155h0M689 1193h0M755 1159h0M750 1178h0M723 1236h0M629 1120h0M752 1188h0M677 1168h0M705 1208h0M719 1188h0M644 1131h0M686 1175h0M676 1189h0M659 1134h0M634 1117h0M607 1127h0M678 1112h0M731 1144h0M745 1123h0M702 1217h0M624 1147h0M593 1145h0M795 1173h0M678 1194h0M705 1143h0M682 1130h0M710 1095h0M742 1230h0M635 1111h0M611 1136h0M761 1154h0M773 1196h0M765 1206h0M703 1208h0M766 1157h0M766 1154h0M670 1171h0M687 1161h0M671 1218h0M601 1126h0M669 1184h0M789 1173h0M617 1138h0M750 1169h0M623 1133h0M704 1213h0M679 1174h0M653 1130h0M698 1182h0M607 1141h0M701 1132h0M702 1192h0M719 1227h0M738 1235h0M692 1236h0M726 1215h0M709 1213h0M597 1182h0M604 1147h0M683 1105h0M676 1164h0M731 1112h0M738 1232h0M680 1118h0M705 1221h0M708 1193h0M689 1120h0M621 1147h0M636 1117h0" stroke="#f7bb5c" stroke-width="5.2" stroke-linecap="round" fill="none" opacity="0.92"/>
<path d="M638 1112h0M689 1111h0M688 1173h0M766 1202h0M656 1110h0M724 1214h0M758 1144h0M756 1241h0M725 1124h0M599 1192h0M738 1219h0M726 1125h0M688 1125h0M697 1206h0M685 1148h0M720 1126h0M729 1169h0M629 1137h0M720 1209h0M779 1168h0M639 1142h0M726 1222h0M718 1153h0M735 1180h0M751 1214h0M730 1119h0M651 1124h0M755 1124h0M676 1156h0M615 1114h0M714 1220h0M723 1217h0M765 1191h0M761 1238h0M689 1143h0M673 1111h0M742 1174h0M597 1142h0M748 1174h0M786 1182h0M725 1238h0M799 1178h0M764 1177h0M735 1208h0M712 1117h0M725 1168h0M745 1244h0M628 1153h0M695 1163h0M766 1200h0M702 1105h0M715 1166h0M717 1204h0M738 1223h0M612 1113h0M736 1208h0M710 1140h0M643 1107h0M672 1117h0M779 1218h0M743 1230h0M723 1223h0M685 1195h0M746 1171h0M746 1206h0M749 1199h0M714 1227h0M752 1143h0M703 1100h0M733 1180h0M720 1215h0M715 1165h0M717 1176h0M718 1218h0M717 1127h0M681 1131h0M709 1209h0M703 1167h0M744 1203h0M629 1146h0M745 1178h0M742 1229h0M680 1141h0M764 1135h0M742 1144h0M672 1144h0M797 1166h0M609 1118h0M696 1212h0M708 1209h0M738 1222h0M625 1116h0M597 1124h0M675 1141h0M628 1145h0M671 1183h0M599 1131h0M626 1138h0M668 1111h0M761 1188h0M627 1147h0M681 1156h0M686 1197h0" stroke="#f4a33c" stroke-width="5.2" stroke-linecap="round" fill="none" opacity="0.92"/>
<path d="M748 1130h0M755 1205h0M725 1110h0M752 1113h0M760 1239h0M700 1112h0M712 1106h0M756 1248h0M740 1174h0M696 1147h0M658 1124h0M715 1134h0M700 1098h0M701 1196h0M707 1165h0M691 1149h0M680 1171h0M719 1123h0M671 1133h0M774 1193h0M780 1142h0M700 1099h0M799 1187h0M721 1126h0M702 1219h0M723 1187h0M740 1166h0M670 1084h0M593 1142h0M669 1107h0M653 1113h0M655 1115h0M639 1143h0M710 1105h0M701 1146h0M721 1126h0M708 1105h0M739 1220h0M765 1209h0M657 1117h0M702 1148h0M778 1141h0M709 1169h0M710 1174h0M713 1207h0M738 1206h0M768 1189h0M675 1123h0M788 1205h0M615 1128h0M589 1143h0M716 1128h0M661 1131h0M711 1175h0M791 1176h0M763 1174h0M770 1166h0M727 1124h0M767 1189h0M752 1192h0M769 1168h0M715 1149h0M592 1136h0M690 1133h0M790 1179h0M696 1186h0M728 1224h0M754 1200h0M682 1103h0M732 1129h0M643 1125h0M787 1209h0M667 1103h0" stroke="#ef8920" stroke-width="5.2" stroke-linecap="round" fill="none" opacity="0.92"/>
<path d="M750 1185h0M722 1129h0M710 1156h0M792 1191h0M784 1172h0M770 1160h0M758 1186h0M682 1115h0M728 1112h0M746 1147h0M685 1133h0M772 1178h0M759 1104h0M762 1189h0M753 1213h0M733 1199h0M633 1130h0M769 1186h0M733 1107h0M684 1110h0M730 1170h0M716 1109h0M696 1102h0M778 1190h0M755 1111h0M758 1208h0M668 1098h0M711 1109h0M704 1112h0M691 1113h0M602 1132h0M719 1176h0M764 1191h0M794 1170h0M774 1152h0M680 1127h0M774 1152h0M746 1124h0M674 1118h0M738 1123h0M783 1192h0M749 1129h0M764 1132h0M741 1121h0M798 1162h0M727 1109h0M723 1175h0M774 1163h0M728 1177h0" stroke="#e56f27" stroke-width="5.2" stroke-linecap="round" fill="none" opacity="0.92"/>
<path d="M796 1206h0M733 1198h0M768 1143h0M774 1172h0M758 1146h0M661 1090h0M713 1229h0M736 1148h0M663 1216h0M728 1138h0M813 1194h0M721 1111h0M724 1140h0M769 1152h0M769 1155h0M761 1173h0M780 1183h0" stroke="#d75530" stroke-width="5.2" stroke-linecap="round" fill="none" opacity="0.92"/>
<path d="M693 1116h0M768 1190h0M665 1098h0M746 1179h0M701 1112h0M662 1082h0M756 1113h0M695 1137h0M728 1118h0M722 1124h0M751 1118h0M776 1164h0" stroke="#c63b3d" stroke-width="5.2" stroke-linecap="round" fill="none" opacity="0.92"/>
<path d="M773 1197h0M701 1110h0M751 1174h0M754 1111h0M721 1116h0M763 1168h0M723 1161h0M780 1182h0M777 1160h0M712 1111h0M695 1179h0M771 1182h0M755 1121h0" stroke="#ad2347" stroke-width="5.2" stroke-linecap="round" fill="none" opacity="0.92"/>
<path d="M618 1335h0M631 1345h0M567 1301h0M566 1303h0M569 1305h0M558 1280h0M599 1327h0M627 1341h0M644 1328h0M556 1240h0M617 1329h0M631 1342h0M595 1309h0M588 1311h0M580 1320h0M547 1295h0M566 1264h0M588 1309h0M579 1327h0M574 1304h0M578 1322h0" stroke="#5059a6" stroke-width="5.2" stroke-linecap="round" fill="none" opacity="0.92"/>
<path d="M586 1300h0M641 1333h0M620 1327h0M604 1339h0M562 1293h0M564 1301h0M613 1309h0M574 1280h0M561 1282h0M618 1306h0M548 1271h0M651 1342h0M621 1343h0M653 1339h0M553 1271h0M570 1305h0M578 1300h0M573 1316h0M581 1309h0M635 1319h0M540 1267h0M607 1323h0M538 1240h0M600 1332h0M539 1250h0M569 1300h0M616 1337h0M554 1311h0M614 1325h0M605 1308h0M554 1280h0M565 1276h0M539 1265h0M572 1306h0M592 1280h0M596 1305h0M545 1259h0M568 1302h0M580 1324h0M547 1237h0M581 1289h0M568 1271h0M653 1344h0M612 1312h0M608 1304h0M611 1300h0M562 1260h0M543 1251h0M568 1322h0M537 1261h0M579 1264h0M610 1328h0M578 1312h0M584 1291h0M632 1298h0M608 1325h0M571 1272h0M622 1279h0M554 1258h0M546 1281h0M585 1297h0M567 1294h0M600 1324h0M564 1275h0M615 1326h0M607 1309h0" stroke="#3c6daf" stroke-width="5.2" stroke-linecap="round" fill="none" opacity="0.92"/>
<path d="M622 1298h0M588 1285h0M587 1311h0M642 1321h0M535 1259h0M565 1258h0M646 1317h0M592 1265h0M544 1250h0M545 1261h0M545 1238h0M599 1278h0M613 1303h0M608 1307h0M618 1336h0M659 1326h0M596 1264h0M605 1293h0M567 1247h0M543 1249h0M569 1324h0M632 1295h0M634 1327h0M548 1306h0M579 1317h0M654 1320h0M567 1319h0M583 1304h0M540 1267h0M539 1230h0M617 1309h0M665 1311h0M597 1334h0M670 1338h0M639 1301h0M613 1337h0M626 1292h0M536 1266h0M551 1246h0M643 1329h0M621 1291h0M639 1345h0M614 1308h0M549 1242h0M668 1330h0M586 1301h0M618 1295h0M609 1323h0M626 1347h0M584 1258h0M615 1275h0M581 1284h0M550 1278h0M628 1327h0M538 1272h0M656 1313h0M558 1256h0M608 1297h0M625 1336h0M582 1285h0M588 1312h0M598 1247h0M626 1322h0M549 1259h0M587 1255h0" stroke="#1b86b7" stroke-width="5.2" stroke-linecap="round" fill="none" opacity="0.92"/>
<path d="M616 1258h0M635 1280h0M553 1229h0M593 1253h0M573 1247h0M567 1257h0M613 1285h0M597 1271h0M565 1258h0M649 1320h0M622 1287h0M665 1318h0M653 1330h0M651 1303h0M632 1296h0M564 1250h0M627 1328h0M644 1324h0M558 1254h0M540 1232h0M573 1227h0M609 1289h0M610 1263h0M647 1294h0M667 1342h0M630 1299h0M562 1261h0M648 1314h0M611 1288h0M597 1320h0M591 1310h0M571 1300h0M573 1240h0M612 1328h0M616 1265h0M611 1278h0M639 1306h0M629 1287h0M585 1257h0M661 1327h0M617 1323h0M608 1326h0M607 1334h0M574 1313h0M656 1168h0M606 1314h0M599 1281h0M617 1282h0M579 1260h0M580 1255h0M559 1209h0M625 1298h0M616 1320h0M621 1274h0M559 1256h0M570 1243h0M659 1319h0M636 1310h0M580 1252h0M577 1260h0M651 1304h0M639 1293h0M621 1310h0M615 1325h0M581 1267h0M651 1307h0M571 1271h0M674 1323h0M600 1249h0" stroke="#139db7" stroke-width="5.2" stroke-linecap="round" fill="none" opacity="0.92"/>
<path d="M545 1248h0M624 1292h0M598 1306h0M657 1303h0M555 1249h0M657 1300h0M617 1258h0M594 1273h0M610 1292h0M626 1296h0M614 1271h0M602 1272h0M596 1284h0M647 1294h0M673 1307h0M542 1241h0M682 1327h0M629 1320h0M684 1332h0M601 1265h0M652 1305h0M545 1227h0M653 1299h0M580 1240h0M630 1269h0M670 1295h0M618 1323h0M628 1294h0M618 1281h0M602 1296h0M553 1254h0M595 1237h0M548 1228h0M590 1253h0M580 1288h0M547 1235h0M577 1244h0M624 1273h0M636 1278h0M620 1282h0M679 1306h0M636 1345h0M659 1291h0M636 1277h0M625 1306h0M614 1263h0M616 1273h0M635 1289h0M682 1314h0M673 1312h0M631 1316h0M556 1255h0M651 1314h0M674 1331h0M682 1309h0M598 1241h0M561 1221h0M633 1298h0M668 1311h0M541 1232h0M566 1218h0M623 1286h0M615 1261h0M636 1285h0M608 1333h0" stroke="#1db2b4" stroke-width="5.2" stroke-linecap="round" fill="none" opacity="0.92"/>
<path d="M585 1241h0M620 1250h0M695 1327h0M655 1292h0M656 1301h0M609 1269h0M664 1308h0M584 1245h0M626 1262h0M635 1145h0M625 1268h0M604 1231h0M676 1308h0M633 1315h0M564 1212h0M558 1222h0M589 1242h0M569 1223h0M619 1275h0M638 1278h0M655 1306h0M565 1225h0M612 1243h0M662 1325h0M637 1296h0M661 1291h0M553 1273h0M616 1266h0M564 1217h0M583 1220h0M624 1278h0M555 1207h0M623 1249h0M543 1232h0M626 1244h0M665 1303h0M615 1268h0M614 1262h0M654 1293h0M682 1310h0M665 1308h0M609 1248h0M586 1248h0M597 1249h0M639 1295h0M642 1268h0M598 1250h0M623 1285h0M581 1256h0M610 1245h0M593 1231h0M613 1261h0M575 1211h0" stroke="#3dc4af" stroke-width="5.2" stroke-linecap="round" fill="none" opacity="0.92"/>
<path d="M620 1250h0M575 1201h0M648 1261h0M595 1218h0M667 1308h0M561 1199h0M601 1276h0M688 1303h0M696 1306h0M690 1306h0M622 1282h0M668 1315h0M622 1233h0M632 1165h0M635 1277h0M576 1291h0M608 1249h0M687 1293h0M582 1203h0M593 1220h0M611 1234h0M588 1249h0M692 1235h0M675 1279h0M580 1206h0M666 1176h0M673 1282h0M647 1176h0M660 1292h0M651 1148h0M646 1173h0M612 1247h0M580 1218h0M604 1248h0M573 1209h0M618 1250h0M578 1216h0M678 1280h0M543 1233h0M619 1252h0M658 1294h0M644 1270h0M602 1245h0M573 1198h0M635 1182h0M634 1171h0M638 1186h0M618 1257h0M650 1295h0M635 1273h0" stroke="#6ad3ad" stroke-width="5.2" stroke-linecap="round" fill="none" opacity="0.92"/>
<path d="M663 1250h0M625 1181h0M569 1218h0M647 1173h0M575 1188h0M576 1204h0M599 1224h0M636 1239h0M650 1205h0M675 1279h0M590 1221h0M698 1289h0M623 1254h0M591 1238h0M639 1240h0M680 1283h0M678 1276h0M641 1249h0M632 1250h0M673 1299h0M692 1306h0M578 1206h0M653 1143h0M676 1291h0M620 1174h0M693 1296h0M619 1230h0M567 1199h0M646 1188h0M641 1244h0M677 1279h0M680 1281h0M649 1238h0M620 1241h0M615 1169h0M609 1159h0M635 1252h0M575 1203h0M578 1198h0M655 1172h0M680 1294h0M625 1251h0M656 1262h0M716 1284h0M621 1250h0M577 1201h0M637 1159h0M657 1266h0M584 1216h0M631 1232h0M681 1209h0M604 1235h0M675 1297h0M614 1264h0M584 1186h0M691 1307h0M659 1159h0M583 1208h0M587 1219h0M600 1228h0M625 1251h0" stroke="#9ae2a8" stroke-width="5.2" stroke-linecap="round" fill="none" opacity="0.92"/>
<path d="M627 1259h0M604 1199h0M683 1294h0M581 1180h0M596 1209h0M622 1251h0M669 1256h0M589 1199h0M656 1261h0M682 1263h0M650 1161h0M645 1157h0M707 1284h0M661 1260h0M639 1195h0M679 1271h0M635 1227h0M632 1212h0M581 1208h0M654 1142h0M649 1159h0M574 1183h0M583 1179h0M642 1254h0M641 1191h0M644 1236h0M608 1231h0M578 1186h0M682 1293h0M588 1186h0M634 1198h0M671 1269h0M602 1231h0M616 1189h0M659 1165h0M576 1208h0M595 1186h0M684 1277h0M631 1249h0M572 1178h0M588 1203h0M634 1236h0M676 1290h0M630 1192h0M622 1221h0M628 1162h0M580 1198h0M704 1306h0M694 1291h0M673 1205h0M678 1266h0M649 1244h0M664 1267h0M671 1278h0M649 1182h0M667 1277h0M592 1189h0M642 1250h0M647 1294h0M691 1268h0M641 1254h0M624 1245h0M687 1318h0M574 1184h0M653 1185h0M666 1292h0M689 1196h0M586 1201h0M653 1144h0M568 1207h0M579 1193h0M644 1253h0M597 1189h0M693 1294h0M722 1248h0M636 1188h0" stroke="#c0eca7" stroke-width="5.2" stroke-linecap="round" fill="none" opacity="0.92"/>
<path d="M574 1183h0M637 1218h0M666 1158h0M624 1206h0M651 1223h0M599 1183h0M684 1269h0M575 1168h0M598 1210h0M679 1273h0M643 1167h0M634 1181h0M651 1251h0M716 1231h0M591 1156h0M673 1246h0M650 1183h0M652 1238h0M624 1144h0M587 1186h0M625 1176h0M637 1191h0M677 1286h0M628 1160h0M643 1153h0M678 1225h0M668 1236h0M673 1271h0M613 1205h0M653 1249h0M638 1227h0M636 1203h0M670 1212h0M576 1182h0M581 1171h0M640 1162h0M617 1215h0M628 1213h0M642 1190h0M660 1194h0M715 1287h0M636 1198h0M671 1288h0M692 1191h0M686 1260h0M697 1215h0M630 1212h0M562 1185h0M659 1251h0M672 1272h0M605 1146h0M611 1222h0M687 1282h0M638 1227h0M636 1158h0M687 1292h0M612 1200h0M686 1268h0M665 1172h0M641 1251h0M615 1242h0M591 1195h0M706 1289h0M580 1158h0M629 1164h0M668 1242h0M591 1152h0M587 1177h0M628 1213h0M713 1245h0M662 1260h0M653 1223h0M699 1253h0M623 1147h0M616 1152h0M638 1119h0M707 1288h0M614 1185h0M650 1234h0M648 1239h0M623 1151h0M594 1199h0M683 1257h0M732 1233h0M635 1182h0M669 1270h0M700 1316h0M644 1240h0M669 1260h0M735 1262h0M638 1227h0M650 1236h0M712 1181h0M658 1174h0M659 1282h0M667 1229h0M700 1275h0M631 1212h0" stroke="#def3a8" stroke-width="5.2" stroke-linecap="round" fill="none" opacity="0.92"/>
<path d="M669 1244h0M713 1265h0M708 1225h0M653 1152h0M761 1207h0M641 1193h0M673 1232h0M658 1202h0M664 1172h0M609 1198h0M617 1199h0M658 1220h0M650 1159h0M726 1173h0M644 1149h0M679 1271h0M652 1175h0M648 1192h0M626 1201h0M626 1136h0M712 1290h0M629 1190h0M621 1186h0M649 1203h0M722 1245h0M727 1278h0M613 1204h0M723 1285h0M725 1273h0M603 1131h0M759 1231h0M723 1273h0M756 1186h0M770 1176h0M670 1224h0M623 1198h0M742 1262h0M625 1194h0M651 1170h0M642 1214h0M579 1155h0M781 1207h0M698 1236h0M636 1149h0M645 1195h0M701 1274h0M573 1184h0M683 1299h0M628 1221h0M676 1265h0M621 1246h0M625 1137h0M636 1109h0M584 1168h0M651 1149h0M583 1139h0M631 1156h0M623 1202h0M751 1168h0M705 1242h0M678 1271h0M668 1223h0M597 1197h0M680 1276h0M589 1178h0M629 1166h0M768 1230h0M664 1176h0M643 1151h0M713 1196h0M693 1142h0M584 1175h0M583 1149h0M642 1152h0M597 1216h0M714 1255h0M703 1200h0M643 1149h0M709 1224h0M759 1219h0M591 1175h0M735 1268h0M606 1184h0M593 1151h0M701 1270h0M579 1188h0M723 1267h0M658 1166h0M596 1178h0M632 1212h0M671 1249h0M661 1267h0M603 1172h0M587 1214h0M621 1209h0M671 1111h0M584 1198h0M627 1169h0M599 1181h0M767 1194h0M735 1217h0M669 1228h0M634 1204h0M592 1177h0M605 1120h0M623 1155h0M636 1188h0M666 1232h0M616 1187h0M678 1256h0M593 1177h0M618 1181h0M677 1264h0M646 1172h0M637 1182h0M610 1170h0M675 1278h0M577 1173h0M697 1260h0M671 1249h0M610 1124h0M597 1147h0" stroke="#f1f0a4" stroke-width="5.2" stroke-linecap="round" fill="none" opacity="0.92"/>
<path d="M667 1182h0M695 1244h0M749 1184h0M610 1128h0M698 1248h0M601 1155h0M664 1254h0M663 1234h0M631 1154h0M727 1251h0M720 1190h0M642 1192h0M652 1110h0M605 1167h0M659 1110h0M627 1154h0M695 1192h0M706 1251h0M661 1246h0M636 1155h0M772 1208h0M658 1228h0M717 1124h0M651 1130h0M645 1190h0M696 1191h0M666 1206h0M628 1156h0M600 1159h0M599 1129h0M694 1239h0M693 1131h0M722 1264h0M645 1129h0M788 1185h0M789 1206h0M622 1186h0M643 1167h0M738 1220h0M772 1179h0M610 1146h0M595 1142h0M590 1172h0M651 1227h0M700 1185h0M708 1235h0M648 1186h0M722 1271h0M711 1288h0M655 1194h0M671 1244h0M720 1116h0M734 1275h0M647 1193h0M591 1150h0M582 1145h0M697 1161h0M705 1232h0M597 1162h0M697 1239h0M650 1176h0M640 1195h0M764 1233h0M628 1152h0M626 1127h0M683 1229h0M707 1113h0M586 1207h0M671 1139h0M705 1134h0M695 1219h0M671 1241h0M679 1222h0M641 1140h0M706 1142h0M649 1185h0M785 1193h0M718 1228h0M686 1221h0M682 1155h0M609 1149h0M610 1212h0" stroke="#fbe394" stroke-width="5.2" stroke-linecap="round" fill="none" opacity="0.92"/>
<path d="M769 1134h0M706 1201h0M701 1232h0M703 1237h0M714 1213h0M639 1190h0M740 1109h0M657 1230h0M633 1167h0M712 1245h0M695 1178h0M698 1119h0M745 1229h0M655 1227h0M690 1130h0M581 1146h0M709 1114h0M790 1163h0M683 1216h0M780 1162h0M611 1210h0M792 1185h0M637 1137h0M754 1180h0M766 1231h0M664 1204h0M668 1196h0M759 1183h0M652 1112h0M650 1110h0M725 1184h0M798 1186h0M663 1119h0M727 1211h0M733 1106h0M690 1254h0M603 1143h0M642 1193h0M728 1125h0M730 1274h0M738 1165h0M686 1233h0M651 1115h0M747 1260h0M597 1174h0M684 1160h0M700 1157h0M628 1114h0M788 1151h0M606 1163h0M734 1123h0M669 1171h0M696 1182h0M674 1202h0M720 1228h0M738 1170h0M699 1230h0M705 1208h0M712 1170h0M795 1182h0M733 1108h0M798 1168h0M773 1168h0M701 1149h0M709 1275h0M749 1179h0M795 1180h0M671 1081h0M672 1230h0M697 1243h0M731 1215h0M735 1108h0M726 1137h0M673 1080h0M664 1209h0M739 1167h0M656 1109h0M600 1157h0M688 1254h0M628 1128h0M761 1140h0M670 1124h0M699 1202h0M701 1179h0M654 1114h0M686 1114h0M584 1153h0M713 1237h0M774 1172h0M620 1155h0M590 1175h0M678 1186h0M606 1168h0M738 1221h0M746 1109h0M711 1262h0M630 1133h0M694 1144h0M703 1220h0M693 1163h0M643 1133h0M668 1166h0M677 1117h0M626 1125h0M758 1207h0M718 1260h0M685 1197h0M683 1208h0M749 1169h0M758 1193h0M707 1191h0M709 1225h0M673 1141h0M712 1264h0M775 1197h0M733 1114h0M710 1230h0M761 1247h0M625 1182h0M753 1174h0M644 1144h0" stroke="#fad27a" stroke-width="5.2" stroke-linecap="round" fill="none" opacity="0.92"/>
<path d="M774 1194h0M714 1167h0M728 1233h0M646 1129h0M760 1120h0M758 1248h0M734 1237h0M722 1282h0M682 1134h0M679 1134h0M587 1140h0M713 1236h0M639 1137h0M695 1224h0M685 1195h0M746 1156h0M711 1120h0M732 1237h0M716 1207h0M752 1120h0M751 1183h0M747 1257h0M698 1169h0M594 1152h0M707 1247h0M640 1106h0M766 1233h0M711 1184h0M735 1218h0M660 1119h0M748 1175h0M716 1168h0M630 1130h0M627 1130h0M591 1132h0M734 1200h0M727 1218h0M753 1236h0M729 1169h0M685 1211h0M733 1233h0M733 1247h0M741 1128h0M711 1173h0M689 1151h0M644 1115h0M704 1135h0M733 1235h0M617 1161h0M670 1186h0M749 1137h0M737 1200h0M681 1232h0M748 1210h0M724 1175h0M743 1120h0M756 1175h0M746 1259h0M719 1213h0M711 1205h0M701 1223h0M676 1206h0M778 1200h0M706 1221h0M667 1191h0M603 1169h0M765 1142h0M772 1183h0M716 1212h0M708 1204h0M775 1214h0M625 1154h0M650 1206h0M752 1198h0M754 1200h0M665 1111h0M635 1117h0M695 1204h0M596 1124h0M758 1167h0M616 1144h0M652 1105h0M695 1224h0M695 1144h0M675 1105h0M682 1250h0M706 1178h0M716 1186h0M643 1119h0M718 1209h0" stroke="#f7bb5c" stroke-width="5.2" stroke-linecap="round" fill="none" opacity="0.92"/>
<path d="M764 1233h0M675 1146h0M746 1245h0M649 1115h0M680 1114h0M692 1178h0M736 1142h0M679 1111h0M712 1205h0M673 1173h0M678 1158h0M718 1147h0M605 1135h0M755 1207h0M781 1169h0M739 1181h0M625 1154h0M737 1170h0M680 1109h0M712 1114h0M738 1202h0M684 1187h0M741 1173h0M621 1153h0M674 1210h0M687 1168h0M623 1128h0M700 1216h0M713 1194h0M751 1200h0M731 1193h0M726 1135h0M700 1157h0M718 1213h0M590 1176h0M766 1224h0M663 1100h0M714 1107h0M668 1103h0M803 1176h0M687 1130h0M676 1134h0M630 1130h0M706 1181h0M628 1125h0M687 1103h0M710 1182h0M781 1145h0M674 1144h0M785 1199h0M624 1120h0M758 1213h0M696 1166h0M749 1181h0M745 1118h0M754 1216h0M739 1127h0M760 1185h0M737 1206h0M728 1215h0M698 1195h0M746 1209h0M703 1124h0M713 1109h0M732 1174h0M631 1199h0M714 1178h0M615 1146h0M727 1286h0M730 1250h0M744 1164h0M714 1178h0M707 1216h0M700 1101h0M762 1237h0M721 1188h0M763 1178h0M675 1133h0M711 1188h0M754 1243h0M769 1205h0M742 1213h0M731 1192h0M753 1214h0M643 1119h0M728 1113h0M708 1140h0M759 1246h0M705 1125h0M761 1239h0M707 1147h0M784 1199h0M758 1137h0M720 1220h0" stroke="#f4a33c" stroke-width="5.2" stroke-linecap="round" fill="none" opacity="0.92"/>
<path d="M743 1163h0M676 1140h0M773 1180h0M795 1179h0M750 1220h0M733 1188h0M731 1098h0M739 1220h0M632 1131h0M708 1150h0M700 1117h0M743 1180h0M752 1171h0M716 1113h0M680 1113h0M753 1143h0M719 1192h0M767 1175h0M641 1111h0M734 1141h0M697 1105h0M723 1113h0M660 1104h0M691 1118h0M665 1097h0M742 1149h0M746 1222h0M698 1136h0M772 1200h0M772 1184h0M697 1124h0M731 1191h0M684 1173h0M787 1156h0M763 1198h0M736 1130h0M756 1165h0M747 1250h0M695 1122h0M718 1223h0M741 1228h0M713 1173h0M741 1228h0M689 1154h0M738 1127h0M779 1147h0M625 1154h0M685 1158h0M687 1141h0M702 1128h0M711 1186h0M728 1103h0M756 1249h0M786 1206h0M775 1168h0M713 1218h0M760 1241h0M759 1141h0M765 1163h0M663 1133h0M772 1198h0M662 1087h0M703 1184h0M641 1111h0M745 1149h0M717 1141h0M641 1142h0M741 1200h0M779 1199h0M720 1107h0M765 1143h0M683 1115h0M779 1199h0M740 1211h0M630 1124h0M715 1131h0M664 1103h0M768 1191h0M698 1174h0M720 1201h0M700 1129h0M739 1222h0M723 1177h0M670 1083h0M682 1117h0M595 1139h0M757 1169h0" stroke="#ef8920" stroke-width="5.2" stroke-linecap="round" fill="none" opacity="0.92"/>
<path d="M668 1098h0M747 1211h0M773 1168h0M772 1138h0M749 1163h0M741 1128h0M798 1186h0M702 1132h0M760 1159h0M728 1110h0M695 1107h0M652 1112h0M676 1142h0M763 1143h0M738 1119h0M722 1098h0M667 1133h0M786 1163h0M682 1145h0M758 1141h0M722 1124h0M804 1175h0M714 1185h0M739 1115h0M782 1184h0M728 1115h0M707 1130h0M744 1124h0M743 1119h0M727 1116h0M791 1156h0M720 1106h0M683 1119h0M746 1197h0M732 1159h0M712 1160h0M718 1124h0M725 1109h0M721 1183h0M713 1107h0M684 1128h0M696 1102h0M681 1132h0M661 1104h0M735 1216h0" stroke="#e56f27" stroke-width="5.2" stroke-linecap="round" fill="none" opacity="0.92"/>
<path d="M732 1138h0M764 1145h0M755 1126h0M777 1162h0M687 1131h0M705 1135h0M785 1167h0M731 1141h0M635 1136h0M719 1109h0M780 1145h0M784 1180h0M777 1193h0M758 1182h0M780 1208h0M707 1174h0M732 1195h0M723 1104h0M721 1177h0M736 1148h0" stroke="#d75530" stroke-width="5.2" stroke-linecap="round" fill="none" opacity="0.92"/>
<path d="M771 1179h0M695 1123h0M752 1150h0M719 1106h0M779 1201h0M711 1183h0M650 1118h0M725 1138h0M694 1117h0M727 1126h0" stroke="#c63b3d" stroke-width="5.2" stroke-linecap="round" fill="none" opacity="0.92"/>
<path d="M590 1143h0M743 1128h0M800 1167h0M748 1169h0M722 1213h0M716 1111h0M809 1165h0M670 1131h0M712 1218h0M734 1136h0M716 1132h0M712 1157h0" stroke="#ad2347" stroke-width="5.2" stroke-linecap="round" fill="none" opacity="0.92"/>
</g>
<path d="M852 1066V1366.6M834.7 1338.1H1134.9M914 1066V1366.6M834.7 1277.4H1134.9M976 1066V1366.6M834.7 1216.7H1134.9M1038 1066V1366.6M834.7 1156H1134.9M1100 1066V1366.6M834.7 1095.3H1134.9" stroke="#ebebeb" stroke-width="2.0" fill="none"/>
<text x="979.8" y="1052.4" font-size="34.3" text-anchor="middle">CCR7</text>
<g filter="url(#bl2)">
<path d="M931 1134h0M921 1128h0M915 1143h0M909 1145h0M926 1132h0M855 1233h0M910 1142h0M905 1141h0" stroke="#5059a6" stroke-width="5.2" stroke-linecap="round" fill="none" opacity="0.92"/>
<path d="M927 1149h0M928 1274h0M935 1141h0M919 1148h0M917 1148h0M920 1148h0M914 1131h0M941 1282h0M850 1237h0M854 1227h0M882 1191h0M916 1137h0M930 1132h0M983 1276h0M909 1137h0M931 1145h0M917 1137h0M930 1143h0" stroke="#3c6daf" stroke-width="5.2" stroke-linecap="round" fill="none" opacity="0.92"/>
<path d="M872 1258h0M877 1209h0M869 1272h0M954 1286h0M862 1254h0M938 1152h0M880 1229h0M966 1259h0M925 1273h0M927 1276h0M920 1154h0M920 1155h0M997 1270h0M980 1289h0M971 1210h0M998 1280h0M887 1201h0M963 1203h0M937 1117h0M924 1152h0M855 1279h0M860 1271h0M867 1210h0M893 1156h0M970 1203h0M861 1222h0M859 1224h0M883 1204h0M889 1203h0M964 1203h0M940 1257h0M942 1261h0M934 1151h0M911 1127h0M869 1218h0" stroke="#1b86b7" stroke-width="5.2" stroke-linecap="round" fill="none" opacity="0.92"/>
<path d="M912 1126h0M943 1143h0M863 1248h0M929 1149h0M945 1145h0M876 1239h0M945 1142h0M968 1265h0M853 1248h0M887 1200h0M893 1163h0M856 1249h0M1011 1203h0M943 1142h0M873 1212h0M904 1154h0M949 1119h0M960 1115h0M954 1280h0M865 1260h0M872 1226h0M868 1260h0M1002 1283h0M865 1275h0M967 1202h0M955 1111h0M987 1263h0M941 1128h0M907 1146h0M919 1164h0M986 1271h0M935 1125h0M942 1264h0M877 1241h0M998 1285h0M887 1198h0M903 1154h0M936 1143h0M973 1261h0M866 1254h0M942 1136h0M922 1159h0" stroke="#139db7" stroke-width="5.2" stroke-linecap="round" fill="none" opacity="0.92"/>
<path d="M859 1223h0M953 1283h0M938 1152h0M858 1249h0M990 1267h0M882 1193h0M942 1126h0M984 1272h0M942 1259h0M937 1128h0M956 1124h0M898 1172h0M875 1255h0M926 1114h0M931 1265h0M923 1165h0M911 1151h0M927 1119h0M857 1270h0M864 1232h0M948 1264h0M961 1134h0M971 1214h0M871 1202h0M908 1126h0M853 1260h0M862 1232h0M915 1169h0M874 1232h0M942 1155h0M961 1287h0M961 1285h0M915 1159h0M930 1267h0M862 1274h0M889 1202h0M892 1177h0M980 1198h0M876 1209h0M907 1151h0M943 1126h0M860 1239h0M953 1282h0M1111 1190h0M906 1123h0M1002 1273h0M903 1147h0M861 1238h0M1106 1208h0M910 1170h0" stroke="#1db2b4" stroke-width="5.2" stroke-linecap="round" fill="none" opacity="0.92"/>
<path d="M970 1268h0M941 1152h0M1008 1209h0M873 1199h0M867 1280h0M961 1285h0M1018 1208h0M955 1131h0M1097 1172h0M865 1208h0M986 1278h0M1015 1199h0M992 1293h0M892 1190h0M953 1288h0M863 1257h0M903 1169h0M927 1253h0M864 1261h0M947 1274h0M944 1137h0M986 1280h0M870 1230h0M965 1289h0M935 1147h0M957 1285h0M936 1273h0M1104 1187h0M869 1252h0M959 1287h0M983 1279h0M959 1280h0M886 1204h0M934 1279h0M855 1294h0M971 1258h0M974 1269h0M937 1248h0M941 1289h0M987 1197h0M898 1146h0" stroke="#3dc4af" stroke-width="5.2" stroke-linecap="round" fill="none" opacity="0.92"/>
<path d="M933 1283h0M931 1265h0M963 1252h0M943 1213h0M951 1114h0M916 1273h0M969 1296h0M932 1130h0M964 1237h0M940 1155h0M940 1159h0M1084 1191h0M938 1159h0M923 1127h0M944 1292h0M969 1273h0M1003 1187h0M967 1292h0M967 1114h0M896 1182h0M888 1180h0M916 1275h0M887 1186h0M881 1206h0M989 1282h0M888 1188h0M873 1212h0M975 1200h0M915 1156h0M944 1280h0M1087 1182h0M910 1162h0M969 1265h0M1010 1288h0M895 1145h0M956 1282h0M995 1259h0M963 1250h0M1084 1188h0M914 1154h0M955 1265h0M934 1287h0M964 1111h0M1093 1184h0" stroke="#6ad3ad" stroke-width="5.2" stroke-linecap="round" fill="none" opacity="0.92"/>
<path d="M957 1272h0M947 1266h0M1086 1179h0M981 1284h0M939 1242h0M991 1260h0M934 1285h0M1018 1271h0M948 1153h0M960 1139h0M988 1209h0M997 1205h0M1088 1195h0M889 1211h0M927 1264h0M990 1200h0M1090 1215h0M928 1281h0M950 1140h0M916 1259h0M1106 1200h0M864 1262h0M1013 1209h0M1018 1190h0M1089 1194h0M970 1242h0M971 1146h0M964 1292h0M988 1294h0M949 1274h0M919 1274h0M920 1255h0M1007 1284h0" stroke="#9ae2a8" stroke-width="5.2" stroke-linecap="round" fill="none" opacity="0.92"/>
<path d="M906 1269h0M1006 1244h0M958 1177h0M1099 1184h0M972 1221h0M1053 1158h0M990 1146h0M1062 1170h0M1093 1220h0M976 1277h0M1014 1219h0M1032 1119h0M1022 1110h0M976 1180h0M948 1230h0M1036 1216h0M1018 1208h0M1010 1185h0M1044 1143h0M1008 1234h0M943 1341h0M941 1215h0M924 1189h0M1009 1289h0M979 1304h0M944 1217h0M936 1289h0M945 1308h0M1021 1177h0M1000 1301h0M1022 1244h0M924 1230h0M1043 1257h0M1040 1106h0M1043 1184h0M1022 1166h0M980 1152h0M1061 1160h0M890 1307h0M952 1324h0M907 1316h0M1103 1202h0M980 1338h0M993 1119h0M1095 1174h0M1010 1123h0M957 1183h0M970 1312h0M935 1250h0M1005 1282h0M995 1208h0M939 1218h0M1075 1235h0M1011 1245h0M908 1287h0M995 1128h0M1014 1208h0M1032 1190h0M1027 1278h0M975 1310h0M993 1133h0M943 1240h0M980 1309h0M886 1213h0M964 1201h0M973 1231h0M879 1185h0M995 1209h0M1071 1227h0M1055 1140h0M1015 1147h0M993 1144h0M1023 1270h0M1049 1205h0M927 1307h0M896 1221h0M942 1293h0M915 1237h0M1101 1190h0M958 1165h0M877 1321h0M985 1248h0M1005 1317h0M970 1306h0M947 1341h0M1039 1162h0M1054 1244h0M990 1120h0M988 1267h0M1024 1198h0M1094 1190h0M930 1315h0M1049 1131h0M921 1218h0M958 1247h0M1053 1219h0M913 1238h0M1057 1173h0M904 1242h0M998 1152h0M1021 1280h0M933 1284h0M885 1274h0M982 1126h0M945 1212h0M937 1252h0M898 1197h0M909 1257h0M908 1327h0M977 1298h0M985 1156h0M974 1106h0M993 1173h0M929 1208h0M987 1095h0M1069 1185h0M1035 1212h0M1005 1175h0M1044 1122h0M1023 1113h0M972 1106h0M1023 1207h0M936 1233h0M1013 1129h0M926 1250h0M957 1189h0M1000 1115h0M908 1187h0M1024 1230h0M1028 1182h0M941 1153h0M1062 1254h0M948 1319h0M914 1275h0M959 1213h0M1045 1152h0M1020 1245h0M995 1204h0M880 1246h0M1034 1247h0M1001 1158h0M878 1316h0M955 1245h0M1072 1150h0M1027 1177h0M924 1259h0M901 1301h0M1019 1213h0M936 1182h0M933 1285h0" stroke="#c0eca7" stroke-width="5.2" stroke-linecap="round" fill="none" opacity="0.92"/>
<path d="M1070 1151h0M1074 1186h0M891 1223h0M960 1301h0M1018 1097h0M1020 1139h0M985 1100h0M997 1192h0M959 1167h0M968 1306h0M934 1252h0M894 1239h0M939 1156h0M962 1180h0M993 1211h0M927 1252h0M1018 1179h0M914 1338h0M932 1230h0M1021 1271h0M989 1116h0M965 1111h0M919 1296h0M976 1319h0M916 1278h0M1094 1175h0M1033 1243h0M960 1265h0M1071 1139h0M1051 1184h0M1077 1135h0M1044 1225h0M931 1290h0M936 1277h0M915 1226h0M900 1308h0M1071 1218h0M1048 1260h0M1052 1130h0M974 1109h0M1064 1217h0M1013 1104h0M1038 1209h0M932 1206h0M894 1270h0M964 1151h0M905 1303h0M1074 1157h0M908 1230h0M995 1246h0M996 1259h0M1013 1290h0M937 1165h0M882 1218h0M1010 1197h0M951 1293h0M892 1329h0M965 1186h0M999 1201h0M1034 1154h0M1077 1155h0M983 1256h0M925 1238h0M1015 1217h0M1082 1237h0M1079 1240h0M1031 1158h0M899 1322h0M917 1275h0M1035 1188h0M987 1136h0M1077 1127h0M1027 1198h0M984 1254h0M881 1235h0M1069 1241h0M1025 1180h0M1092 1188h0M985 1201h0M924 1281h0M927 1211h0M996 1277h0M1018 1210h0M930 1238h0M971 1107h0M930 1252h0M938 1220h0M913 1280h0M1050 1228h0M948 1216h0M935 1305h0M952 1340h0M1075 1187h0M1046 1215h0M977 1134h0M865 1305h0M916 1237h0M906 1253h0M1008 1315h0M1076 1172h0M1110 1168h0M953 1302h0M1020 1225h0M1071 1167h0M972 1195h0M1043 1254h0M1072 1209h0M915 1236h0M935 1190h0M982 1143h0M1041 1171h0M992 1253h0M914 1229h0M1077 1152h0M1016 1256h0M1017 1210h0M880 1292h0M915 1258h0M965 1183h0M888 1325h0M997 1309h0M948 1223h0M927 1174h0M1004 1162h0M1110 1175h0M1055 1121h0M988 1171h0M1015 1119h0M1048 1109h0M947 1237h0M946 1210h0M942 1230h0M881 1316h0M1012 1185h0M956 1161h0M871 1304h0M976 1134h0M1007 1231h0M981 1330h0M892 1234h0M997 1309h0M1029 1110h0M949 1323h0M927 1308h0M955 1320h0M942 1152h0M1033 1160h0M967 1143h0M1083 1184h0M961 1200h0M944 1160h0M1033 1222h0M939 1165h0M926 1229h0M891 1204h0M1049 1107h0M1059 1254h0M1006 1214h0M997 1167h0M999 1256h0M929 1207h0M954 1178h0M1059 1229h0M1029 1243h0M886 1252h0M1002 1297h0" stroke="#def3a8" stroke-width="5.2" stroke-linecap="round" fill="none" opacity="0.92"/>
<path d="M874 1290h0M989 1145h0M887 1245h0M1037 1283h0M954 1149h0M936 1334h0M1056 1203h0M890 1249h0M990 1112h0M1022 1210h0M921 1310h0M1061 1231h0M970 1240h0M872 1275h0M999 1136h0M893 1210h0M1085 1177h0M1024 1243h0M1035 1111h0M948 1300h0M899 1217h0M891 1293h0M915 1303h0M946 1201h0M997 1259h0M953 1196h0M986 1154h0M962 1341h0M944 1313h0M894 1304h0M1002 1252h0M940 1183h0M931 1245h0M1026 1298h0M1033 1163h0M936 1176h0M1040 1222h0M1107 1180h0M1053 1122h0M1050 1242h0M942 1196h0M896 1244h0M1062 1250h0M957 1323h0M901 1203h0M937 1210h0M971 1144h0M924 1256h0M1042 1121h0M919 1246h0M986 1249h0M937 1245h0M924 1311h0M995 1112h0M1050 1145h0M940 1327h0M1012 1246h0M999 1170h0M904 1194h0M991 1169h0M931 1287h0M1096 1158h0M1074 1168h0M958 1143h0M1046 1187h0M961 1145h0M994 1215h0M1094 1161h0M908 1288h0M1002 1155h0M1074 1143h0M1053 1156h0M982 1150h0M901 1251h0M1055 1234h0M942 1221h0M939 1190h0M1109 1183h0M965 1243h0M954 1236h0M1022 1104h0M963 1155h0M903 1284h0M911 1298h0M892 1198h0M995 1311h0M1084 1158h0M1048 1202h0M916 1192h0M952 1237h0M971 1230h0M942 1172h0M902 1281h0M1079 1177h0M1076 1196h0M940 1181h0M972 1242h0M1024 1185h0M1031 1284h0M1039 1215h0M1064 1185h0M1041 1234h0M902 1211h0M886 1179h0M1057 1142h0M928 1335h0M897 1246h0M991 1118h0M990 1135h0M901 1244h0M992 1248h0M888 1266h0M963 1247h0M965 1125h0M929 1327h0M1027 1158h0M946 1234h0M955 1244h0M1100 1204h0M1049 1228h0M964 1194h0M952 1172h0M1013 1223h0M942 1251h0M965 1139h0M919 1331h0M966 1343h0M990 1309h0M950 1212h0M1029 1168h0M973 1310h0M953 1142h0M953 1223h0M995 1111h0M873 1286h0M1070 1173h0M931 1327h0M985 1154h0M1043 1217h0M952 1138h0M1075 1198h0M979 1233h0M954 1226h0M970 1116h0M1102 1170h0M1008 1222h0M938 1324h0M946 1344h0M922 1275h0M964 1304h0M930 1240h0M1000 1116h0M1060 1209h0M959 1103h0M952 1184h0M1051 1275h0M931 1285h0M1086 1162h0M902 1308h0M1003 1292h0M936 1204h0M977 1252h0M917 1275h0M857 1298h0M994 1095h0M882 1243h0M1049 1240h0M914 1330h0M898 1308h0M976 1240h0M1036 1210h0M958 1158h0M1059 1142h0M986 1109h0M949 1191h0M910 1251h0M917 1209h0M984 1192h0M1008 1255h0M1006 1225h0M921 1226h0M990 1123h0M1029 1146h0M952 1328h0M958 1192h0M1070 1123h0M928 1205h0M1051 1154h0M921 1313h0M994 1123h0M1007 1295h0M889 1262h0M1076 1167h0M926 1235h0M991 1165h0M916 1198h0M1096 1164h0M929 1299h0M981 1204h0M912 1204h0M933 1192h0M935 1241h0M985 1150h0M1084 1232h0M952 1186h0M947 1231h0M1073 1248h0M1022 1242h0M1017 1191h0M883 1254h0M1015 1157h0M955 1318h0M931 1289h0M944 1215h0M889 1328h0M943 1184h0M954 1184h0M1058 1202h0M949 1164h0M964 1303h0M1005 1221h0M1032 1235h0M1055 1190h0M975 1186h0M986 1142h0M930 1247h0M1061 1224h0M889 1266h0M1018 1274h0M903 1188h0M998 1102h0M902 1332h0M898 1189h0M914 1292h0M994 1270h0M979 1299h0" stroke="#f1f0a4" stroke-width="5.2" stroke-linecap="round" fill="none" opacity="0.92"/>
<path d="M1007 1212h0M909 1330h0M1067 1166h0M1014 1210h0M1016 1233h0M1019 1180h0M1004 1311h0M900 1291h0M954 1177h0M988 1097h0M950 1243h0M910 1190h0M956 1320h0M1086 1230h0M1034 1108h0M995 1251h0M944 1211h0M1044 1236h0M1024 1225h0M1060 1211h0M975 1102h0M979 1173h0M958 1189h0M1000 1175h0M951 1194h0M882 1282h0M1070 1246h0M986 1303h0M1057 1159h0M978 1157h0M978 1135h0M1032 1183h0M1022 1116h0M910 1194h0M1049 1233h0M984 1113h0M992 1140h0M1057 1228h0M1005 1227h0M893 1275h0M1060 1210h0M999 1164h0M969 1305h0M952 1323h0M981 1134h0M1104 1186h0M960 1321h0M999 1101h0M1052 1172h0M1041 1240h0M1050 1234h0M1012 1268h0M1059 1239h0M1011 1218h0M999 1121h0M884 1221h0M1030 1116h0M1007 1241h0M1081 1190h0M1007 1284h0M888 1300h0M873 1281h0M882 1315h0M1044 1235h0M926 1327h0M967 1343h0M892 1328h0M988 1190h0M891 1265h0M1030 1270h0M886 1305h0M957 1164h0M1060 1215h0M912 1285h0M1041 1231h0M1000 1181h0M884 1283h0M962 1303h0M935 1247h0M894 1262h0M1080 1232h0M925 1217h0M986 1215h0M926 1176h0M1024 1245h0M926 1267h0M1032 1219h0M931 1249h0M1003 1203h0M1041 1173h0M1023 1297h0M897 1324h0M964 1299h0M864 1293h0M1046 1111h0M990 1300h0M897 1264h0M1023 1272h0M978 1123h0M960 1242h0M991 1110h0M908 1192h0M1035 1219h0M942 1204h0M1024 1252h0M1005 1252h0M1035 1114h0M1033 1207h0M926 1247h0M931 1236h0M911 1224h0M1025 1171h0M1003 1212h0M916 1320h0M983 1309h0M967 1222h0M924 1285h0M954 1152h0M953 1184h0M1025 1157h0M908 1196h0M1013 1157h0M889 1300h0M974 1316h0M911 1185h0M918 1310h0M1024 1175h0M914 1177h0M915 1294h0M1042 1120h0M889 1267h0M972 1193h0M1038 1185h0M1039 1205h0M938 1241h0M1010 1215h0M994 1117h0M944 1321h0M1058 1258h0M1017 1177h0M944 1295h0M988 1138h0M903 1292h0M988 1166h0M982 1247h0M1022 1245h0M1058 1173h0" stroke="#fbe394" stroke-width="5.2" stroke-linecap="round" fill="none" opacity="0.92"/>
<path d="M1069 1197h0M974 1217h0M1031 1179h0M966 1227h0M1019 1120h0M899 1307h0M1034 1214h0M961 1296h0M1011 1310h0M956 1177h0M1078 1217h0M931 1334h0M1013 1209h0M945 1251h0M1007 1207h0M1013 1167h0M1017 1267h0M896 1202h0M1055 1211h0M1012 1110h0M1042 1111h0M937 1321h0M898 1306h0M989 1317h0M977 1306h0M1008 1251h0M986 1246h0M1057 1128h0M894 1305h0M891 1235h0M902 1243h0M939 1311h0M1051 1264h0M942 1192h0M997 1328h0M879 1300h0M989 1134h0M1004 1241h0M934 1253h0M1063 1164h0M1085 1158h0M925 1306h0M964 1145h0M1083 1170h0M906 1207h0M886 1247h0M924 1287h0M1036 1285h0M1046 1110h0M974 1236h0M901 1268h0M988 1082h0M1064 1210h0M1084 1200h0M965 1304h0M1053 1191h0M1039 1214h0M895 1191h0M925 1323h0M1040 1280h0M1017 1227h0M932 1347h0M898 1324h0M1035 1253h0M895 1195h0M1041 1101h0M898 1276h0M1068 1179h0M1084 1161h0M902 1321h0M1010 1103h0M1075 1182h0M990 1307h0M1024 1186h0M1026 1190h0M996 1140h0M937 1194h0M995 1260h0M1012 1190h0M1030 1272h0M954 1181h0M912 1296h0M901 1319h0M1017 1169h0M1046 1110h0M991 1179h0M1011 1162h0M921 1335h0M895 1231h0M1040 1271h0M940 1211h0M900 1225h0M1016 1289h0M986 1340h0M942 1162h0M1025 1105h0M1039 1153h0M949 1162h0M914 1235h0M1031 1227h0M1072 1179h0M1061 1161h0M1051 1281h0M901 1201h0M910 1186h0M957 1159h0M1086 1166h0M978 1168h0M973 1188h0M1068 1161h0M908 1315h0M1026 1116h0M925 1259h0M1067 1180h0M953 1334h0M1033 1278h0M1078 1201h0M922 1315h0M881 1244h0M966 1223h0M911 1192h0M985 1078h0M1026 1297h0M999 1112h0M957 1219h0M1007 1283h0M880 1307h0M947 1318h0M973 1115h0M873 1293h0M1083 1160h0M926 1340h0" stroke="#fad27a" stroke-width="5.2" stroke-linecap="round" fill="none" opacity="0.92"/>
<path d="M955 1322h0M1032 1282h0M897 1208h0M937 1236h0M1067 1217h0M981 1098h0M888 1244h0M1026 1234h0M978 1230h0M1112 1164h0M984 1243h0M1069 1119h0M1039 1124h0M999 1328h0M941 1266h0M1065 1203h0M913 1315h0M1041 1144h0M1101 1207h0M1006 1178h0M909 1202h0M1061 1251h0M995 1176h0M1076 1206h0M1011 1239h0M936 1334h0M948 1216h0M1060 1111h0M893 1263h0M1012 1125h0M1030 1303h0M958 1337h0M949 1292h0M1025 1129h0M921 1301h0M931 1234h0M979 1116h0M965 1313h0M1071 1210h0M1055 1119h0M1008 1173h0M1047 1260h0M1091 1149h0M1025 1220h0M872 1297h0M982 1297h0M960 1162h0M908 1179h0M1094 1152h0M891 1290h0M1073 1223h0M976 1317h0M1066 1203h0M999 1181h0M960 1339h0M915 1304h0M1015 1150h0M1073 1137h0M974 1161h0M892 1331h0M936 1176h0M1034 1112h0M974 1295h0M1043 1231h0M938 1313h0M1028 1184h0M1067 1170h0M998 1332h0M1018 1113h0M947 1296h0M1066 1147h0M884 1249h0M980 1326h0M911 1265h0M980 1167h0M885 1253h0M915 1259h0M964 1152h0M1033 1147h0M920 1244h0M1070 1241h0M1002 1144h0M1045 1216h0M1057 1170h0M1093 1142h0M1016 1276h0M973 1292h0M961 1322h0M1097 1186h0M939 1305h0M987 1246h0M1038 1110h0M935 1217h0M959 1219h0M943 1298h0M915 1318h0M906 1324h0M1047 1118h0M894 1233h0M898 1296h0M1063 1147h0M1027 1289h0M1062 1141h0" stroke="#f7bb5c" stroke-width="5.2" stroke-linecap="round" fill="none" opacity="0.92"/>
<path d="M978 1298h0M891 1295h0M929 1244h0M986 1210h0M906 1326h0M883 1298h0M965 1225h0M905 1317h0M996 1321h0M1027 1136h0M1015 1121h0M963 1294h0M875 1283h0M918 1296h0M1013 1291h0M902 1311h0M927 1327h0M955 1212h0M915 1338h0M1024 1136h0M974 1178h0M1067 1136h0M981 1155h0M905 1313h0M1019 1218h0M1053 1111h0M1113 1163h0M1027 1248h0M992 1150h0M1032 1146h0M1037 1117h0M1024 1112h0M997 1307h0M930 1284h0M1000 1315h0M928 1294h0M1060 1112h0M1017 1098h0M1022 1296h0M1028 1221h0M998 1292h0M947 1296h0M1064 1119h0M1008 1294h0M951 1209h0M1004 1109h0M951 1183h0M979 1334h0M914 1332h0M1024 1126h0M1059 1144h0M1011 1217h0M1013 1134h0M993 1162h0M965 1299h0" stroke="#f4a33c" stroke-width="5.2" stroke-linecap="round" fill="none" opacity="0.92"/>
<path d="M939 1316h0M903 1305h0M1096 1149h0M875 1278h0M1058 1114h0M1072 1137h0M1034 1111h0M966 1146h0M926 1330h0M932 1339h0M1054 1145h0M926 1230h0M896 1255h0M1046 1145h0M979 1307h0M1015 1100h0M896 1304h0" stroke="#ef8920" stroke-width="5.2" stroke-linecap="round" fill="none" opacity="0.92"/>
<path d="M1004 1261h0M1098 1146h0M1011 1127h0M1015 1118h0M1049 1118h0M1016 1104h0M1101 1159h0M877 1314h0M1015 1097h0" stroke="#e56f27" stroke-width="5.2" stroke-linecap="round" fill="none" opacity="0.92"/>
<path d="M1039 1122h0M1047 1142h0" stroke="#d75530" stroke-width="5.2" stroke-linecap="round" fill="none" opacity="0.92"/>
<path d="M984 1229h0M993 1224h0M1001 1230h0M997 1222h0M987 1227h0M985 1222h0M984 1222h0M983 1217h0" stroke="#c63b3d" stroke-width="5.2" stroke-linecap="round" fill="none" opacity="0.92"/>
<path d="M982 1229h0M995 1222h0M991 1235h0M983 1233h0M920 1332h0M973 1339h0M985 1227h0M988 1225h0M983 1222h0M983 1225h0M1003 1231h0M989 1223h0" stroke="#ad2347" stroke-width="5.2" stroke-linecap="round" fill="none" opacity="0.92"/>
<path d="M919 1145h0M906 1142h0M921 1150h0M880 1190h0M914 1138h0M928 1128h0M910 1141h0M930 1138h0M920 1141h0" stroke="#5059a6" stroke-width="5.2" stroke-linecap="round" fill="none" opacity="0.92"/>
<path d="M905 1137h0M932 1140h0M967 1210h0M910 1142h0M924 1136h0M915 1132h0M976 1207h0M913 1137h0M928 1266h0M859 1234h0M917 1147h0M912 1131h0M866 1279h0M912 1171h0" stroke="#3c6daf" stroke-width="5.2" stroke-linecap="round" fill="none" opacity="0.92"/>
<path d="M899 1152h0M950 1118h0M1001 1284h0M899 1140h0M919 1162h0M904 1141h0M877 1233h0M893 1149h0M944 1145h0M896 1149h0M946 1130h0M866 1252h0M920 1127h0M976 1216h0M977 1212h0M994 1279h0M849 1258h0M933 1276h0M978 1289h0M866 1260h0M998 1274h0M964 1210h0M861 1271h0M880 1213h0M983 1214h0M892 1165h0M962 1288h0M858 1266h0M934 1256h0M968 1289h0M998 1284h0M970 1281h0M948 1276h0M974 1206h0M974 1208h0M972 1215h0M924 1121h0M973 1207h0M910 1124h0M932 1280h0M939 1138h0M957 1263h0M972 1209h0" stroke="#1b86b7" stroke-width="5.2" stroke-linecap="round" fill="none" opacity="0.92"/>
<path d="M875 1205h0M851 1248h0M953 1134h0M927 1152h0M910 1153h0M894 1169h0M880 1225h0M869 1244h0M867 1250h0M928 1152h0M942 1137h0M949 1133h0M881 1219h0M989 1282h0M935 1126h0M855 1244h0M946 1142h0M933 1273h0M928 1114h0M940 1147h0M907 1147h0M859 1274h0M864 1275h0M912 1153h0M973 1264h0M901 1125h0M879 1216h0M946 1123h0M906 1145h0M991 1194h0M944 1131h0M991 1265h0M936 1133h0M917 1163h0M883 1199h0M871 1204h0M976 1273h0M915 1165h0M922 1118h0M907 1160h0M938 1116h0M878 1209h0M992 1263h0M941 1145h0M940 1147h0M984 1260h0M905 1148h0" stroke="#139db7" stroke-width="5.2" stroke-linecap="round" fill="none" opacity="0.92"/>
<path d="M951 1112h0M863 1218h0M979 1261h0M927 1150h0M977 1264h0M867 1264h0M1094 1182h0M924 1122h0M903 1176h0M857 1282h0M872 1256h0M877 1199h0M889 1170h0M863 1221h0M933 1150h0M854 1286h0M928 1277h0M854 1283h0M897 1148h0M859 1270h0M913 1122h0M942 1120h0M917 1157h0M998 1277h0M947 1117h0M873 1241h0M974 1260h0M867 1235h0M1090 1182h0M866 1273h0M937 1147h0M948 1111h0M864 1270h0M996 1209h0M902 1143h0M853 1259h0M989 1197h0M949 1137h0M914 1126h0M942 1146h0M966 1130h0M905 1136h0M938 1267h0M959 1277h0M902 1170h0M900 1149h0M963 1285h0M862 1246h0M947 1274h0M944 1145h0M920 1167h0M864 1253h0M863 1278h0M856 1285h0M954 1272h0M934 1147h0M956 1125h0M949 1117h0M976 1215h0M897 1146h0" stroke="#1db2b4" stroke-width="5.2" stroke-linecap="round" fill="none" opacity="0.92"/>
<path d="M946 1127h0M956 1274h0M936 1150h0M881 1207h0M988 1270h0M973 1261h0M1010 1206h0M893 1146h0M924 1262h0M958 1288h0M987 1259h0M907 1148h0M989 1207h0M1082 1186h0M951 1271h0M985 1271h0M867 1252h0M1078 1191h0M860 1234h0M961 1272h0M966 1113h0M922 1154h0M848 1263h0M968 1115h0M952 1143h0M857 1284h0M869 1269h0M952 1269h0M876 1251h0M1096 1182h0M925 1113h0M982 1277h0M981 1282h0M956 1107h0M952 1294h0M924 1162h0M949 1129h0M1091 1190h0M963 1287h0M863 1240h0M862 1230h0M1016 1208h0M859 1281h0M913 1152h0M999 1272h0M997 1275h0M1004 1279h0M982 1265h0M968 1265h0M882 1207h0M922 1156h0M871 1222h0M1002 1200h0M868 1247h0M890 1165h0M861 1274h0M853 1292h0M887 1202h0M859 1277h0M932 1273h0M971 1267h0M999 1197h0" stroke="#3dc4af" stroke-width="5.2" stroke-linecap="round" fill="none" opacity="0.92"/>
<path d="M896 1149h0M938 1264h0M927 1249h0M1079 1202h0M969 1110h0M995 1285h0M922 1276h0M965 1295h0M1081 1190h0M1031 1193h0M966 1276h0M1105 1195h0M925 1277h0M936 1284h0M924 1272h0M969 1294h0M855 1247h0M964 1124h0M957 1131h0M941 1269h0M910 1158h0M941 1150h0M861 1278h0M941 1153h0M926 1281h0M999 1135h0M976 1250h0M996 1206h0M987 1206h0M1003 1284h0M896 1206h0M1101 1205h0M1002 1189h0M940 1288h0M1000 1271h0M944 1150h0M1080 1189h0M990 1209h0M1015 1192h0M927 1260h0M986 1296h0M973 1256h0M945 1278h0M929 1268h0" stroke="#6ad3ad" stroke-width="5.2" stroke-linecap="round" fill="none" opacity="0.92"/>
<path d="M926 1283h0M940 1290h0M952 1250h0M1105 1191h0M1100 1207h0M953 1279h0M993 1271h0M973 1253h0M937 1279h0M1040 1262h0M1085 1178h0M940 1225h0M938 1254h0M1009 1271h0M1006 1196h0M1093 1182h0M1018 1208h0M1020 1152h0M958 1250h0M1002 1262h0M984 1205h0M943 1273h0M1010 1228h0M1086 1196h0M920 1277h0M912 1272h0M962 1170h0M979 1256h0M982 1184h0M941 1264h0M918 1207h0M993 1257h0M1000 1126h0M984 1204h0M980 1192h0M1021 1193h0M965 1114h0" stroke="#9ae2a8" stroke-width="5.2" stroke-linecap="round" fill="none" opacity="0.92"/>
<path d="M1018 1274h0M922 1319h0M1050 1245h0M925 1279h0M1001 1173h0M1033 1189h0M1038 1124h0M911 1188h0M1040 1223h0M1021 1224h0M1083 1160h0M1015 1275h0M1009 1147h0M934 1283h0M1010 1278h0M957 1222h0M932 1231h0M1028 1134h0M1014 1196h0M1020 1165h0M1018 1166h0M903 1206h0M894 1302h0M1091 1238h0M998 1148h0M1075 1154h0M931 1288h0M955 1155h0M1014 1288h0M1050 1158h0M900 1209h0M922 1221h0M1041 1128h0M906 1269h0M1087 1193h0M1067 1209h0M1112 1187h0M996 1137h0M1064 1214h0M1068 1124h0M977 1114h0M880 1314h0M1036 1217h0M1002 1143h0M899 1248h0M986 1111h0M950 1160h0M1039 1151h0M1008 1288h0M1004 1300h0M904 1258h0M1014 1146h0M972 1134h0M1112 1178h0M979 1220h0M940 1308h0M970 1117h0M1079 1166h0M883 1214h0M948 1196h0M989 1192h0M1009 1102h0M1092 1218h0M1015 1268h0M920 1177h0M1056 1230h0M1023 1174h0M1051 1206h0M1080 1151h0M1068 1111h0M1032 1243h0M904 1259h0M1071 1208h0M1041 1134h0M1033 1267h0M1055 1234h0M901 1304h0M940 1187h0M887 1245h0M1032 1237h0M910 1195h0M935 1284h0M981 1150h0M1062 1199h0M1052 1255h0M907 1187h0M1024 1207h0M1088 1165h0M945 1335h0M1031 1218h0M1031 1253h0M1038 1278h0M975 1236h0M950 1165h0M929 1202h0M1028 1149h0M934 1284h0M1057 1203h0M912 1191h0M1087 1152h0M1055 1229h0M1011 1252h0M1055 1144h0M886 1266h0M953 1317h0M884 1241h0M876 1258h0M1021 1209h0M894 1220h0M1035 1282h0M923 1285h0M1082 1155h0M936 1288h0M971 1294h0M933 1329h0M1044 1112h0M977 1298h0M986 1243h0M902 1307h0M1013 1277h0M921 1231h0M993 1118h0M1018 1221h0M1071 1250h0M1020 1275h0M978 1303h0M907 1207h0M961 1309h0M900 1231h0" stroke="#c0eca7" stroke-width="5.2" stroke-linecap="round" fill="none" opacity="0.92"/>
<path d="M1030 1249h0M946 1161h0M969 1164h0M920 1328h0M903 1240h0M930 1226h0M1006 1116h0M1017 1108h0M983 1182h0M955 1219h0M1027 1286h0M926 1325h0M921 1327h0M943 1243h0M900 1192h0M1096 1195h0M1068 1204h0M974 1133h0M1015 1210h0M879 1306h0M893 1286h0M1071 1186h0M1027 1275h0M1060 1162h0M934 1168h0M920 1347h0M1018 1253h0M1008 1249h0M963 1190h0M1013 1098h0M1039 1170h0M933 1243h0M963 1191h0M906 1204h0M1008 1138h0M941 1173h0M991 1110h0M1059 1147h0M1046 1102h0M952 1230h0M998 1133h0M906 1243h0M977 1178h0M909 1224h0M1037 1294h0M1002 1185h0M961 1138h0M907 1310h0M986 1236h0M1073 1241h0M1012 1182h0M894 1311h0M958 1294h0M1094 1166h0M1092 1168h0M1012 1289h0M1087 1172h0M960 1166h0M896 1322h0M1031 1153h0M974 1090h0M921 1327h0M1027 1280h0M925 1307h0M933 1329h0M989 1156h0M963 1311h0M958 1324h0M1027 1220h0M1063 1178h0M968 1315h0M938 1245h0M1036 1236h0M1090 1160h0M999 1175h0M989 1189h0M1038 1238h0M1056 1252h0M1076 1241h0M959 1280h0M1058 1244h0M1035 1250h0M1010 1274h0M1058 1123h0M957 1217h0M954 1182h0M930 1255h0M921 1320h0M1022 1169h0M873 1281h0M948 1185h0M954 1207h0M1055 1230h0M938 1326h0M1081 1189h0M1026 1276h0M1126 1194h0M956 1190h0M931 1340h0M1024 1109h0M1074 1154h0M926 1224h0M977 1105h0M1019 1295h0M993 1308h0M916 1333h0M905 1204h0M1080 1203h0M1024 1175h0M975 1082h0M1104 1176h0M976 1230h0M927 1241h0M893 1211h0M983 1171h0M963 1281h0M858 1296h0M911 1186h0M944 1296h0M918 1177h0M942 1206h0M1000 1161h0M1077 1191h0M956 1245h0M941 1225h0M1063 1169h0M938 1232h0M1002 1298h0M1017 1213h0M1011 1182h0M987 1252h0M967 1253h0M942 1248h0M997 1253h0M989 1113h0M975 1181h0M1036 1285h0M934 1165h0M1053 1228h0M1023 1278h0M1006 1296h0M1051 1222h0M1005 1236h0M911 1256h0M873 1313h0M901 1206h0M1019 1189h0M1051 1232h0M872 1280h0M984 1183h0M1011 1120h0M885 1314h0M1093 1183h0M1069 1165h0M991 1306h0M1077 1132h0M1024 1297h0M942 1215h0M942 1183h0M1049 1221h0M1087 1163h0M900 1223h0M1041 1177h0M957 1214h0M962 1221h0" stroke="#def3a8" stroke-width="5.2" stroke-linecap="round" fill="none" opacity="0.92"/>
<path d="M1054 1221h0M893 1254h0M951 1180h0M1037 1214h0M959 1160h0M1054 1236h0M1073 1239h0M1102 1191h0M1023 1156h0M912 1192h0M1017 1288h0M1053 1174h0M1008 1245h0M937 1227h0M984 1314h0M999 1122h0M920 1285h0M982 1095h0M938 1285h0M906 1251h0M995 1115h0M1058 1216h0M912 1247h0M1046 1198h0M880 1257h0M986 1100h0M1034 1238h0M992 1301h0M1004 1149h0M939 1163h0M967 1192h0M960 1165h0M936 1199h0M1042 1169h0M946 1269h0M967 1226h0M985 1257h0M962 1202h0M959 1192h0M1044 1222h0M942 1300h0M1027 1223h0M1013 1099h0M1033 1209h0M899 1248h0M1075 1189h0M994 1256h0M952 1142h0M899 1237h0M1076 1155h0M1048 1180h0M1033 1189h0M1013 1244h0M980 1161h0M1068 1159h0M910 1312h0M957 1221h0M928 1243h0M896 1218h0M961 1171h0M919 1326h0M1007 1223h0M945 1313h0M1026 1229h0M940 1320h0M1063 1216h0M957 1290h0M882 1318h0M901 1240h0M944 1207h0M950 1318h0M1099 1182h0M889 1286h0M1041 1187h0M879 1300h0M934 1203h0M1048 1208h0M955 1333h0M1021 1105h0M991 1112h0M934 1333h0M1072 1250h0M923 1174h0M1006 1254h0M1008 1163h0M939 1221h0M982 1334h0M1030 1204h0M966 1304h0M1031 1163h0M997 1298h0M917 1284h0M1043 1170h0M1029 1109h0M1015 1148h0M987 1119h0M1091 1141h0M906 1288h0M932 1294h0M943 1245h0M1043 1160h0M1018 1143h0M961 1233h0M1101 1187h0M996 1298h0M1058 1153h0M963 1199h0M970 1304h0M1029 1128h0M1016 1246h0M936 1240h0M1084 1182h0M1013 1250h0M1017 1112h0M1059 1171h0M927 1205h0M1001 1174h0M961 1128h0M1058 1217h0M1021 1226h0M932 1238h0M1083 1166h0M1029 1274h0M1016 1100h0M899 1212h0M951 1324h0M910 1253h0M957 1336h0M1034 1262h0M909 1272h0M963 1222h0M910 1301h0M1030 1176h0M977 1196h0M1069 1113h0M1025 1219h0M1059 1213h0M909 1230h0M950 1252h0M954 1292h0M1002 1310h0M1107 1170h0M949 1231h0M1002 1166h0M1066 1268h0M957 1239h0M1058 1178h0M1028 1239h0M963 1300h0M992 1294h0M1087 1170h0M934 1205h0M1041 1118h0M993 1141h0M941 1211h0M923 1313h0M1002 1264h0M898 1265h0M1110 1166h0M930 1204h0M988 1249h0M975 1245h0M1059 1124h0M1009 1212h0M987 1118h0M957 1218h0M998 1262h0M1016 1274h0M885 1254h0M920 1280h0M1009 1186h0M986 1306h0M902 1303h0M1046 1167h0M866 1307h0M910 1182h0M952 1288h0M940 1276h0M1096 1192h0M996 1105h0M946 1173h0M998 1250h0M1041 1224h0M968 1272h0M1038 1267h0M1067 1200h0M895 1268h0M1086 1162h0M1005 1297h0M981 1111h0M1074 1188h0M893 1325h0M1111 1162h0M1036 1175h0M888 1244h0M1028 1301h0M1089 1164h0M962 1199h0M927 1342h0M903 1221h0M1100 1209h0M1042 1127h0" stroke="#f1f0a4" stroke-width="5.2" stroke-linecap="round" fill="none" opacity="0.92"/>
<path d="M942 1245h0M1065 1243h0M1002 1111h0M1086 1197h0M1063 1185h0M970 1302h0M1058 1249h0M1011 1244h0M1057 1192h0M1042 1264h0M1013 1112h0M1103 1170h0M1023 1227h0M987 1241h0M1069 1248h0M923 1326h0M960 1177h0M982 1169h0M1060 1151h0M1059 1179h0M975 1251h0M1034 1240h0M944 1340h0M1032 1241h0M993 1151h0M1052 1209h0M960 1172h0M998 1326h0M906 1244h0M921 1296h0M1000 1219h0M921 1313h0M1064 1174h0M895 1214h0M1021 1270h0M987 1243h0M1072 1244h0M916 1282h0M984 1133h0M878 1311h0M1009 1288h0M1116 1175h0M1034 1116h0M928 1213h0M1075 1137h0M1015 1219h0M1076 1168h0M930 1202h0M1036 1252h0M1109 1184h0M992 1253h0M1053 1166h0M1042 1271h0M913 1178h0M958 1194h0M962 1286h0M982 1107h0M940 1226h0M894 1258h0M1055 1174h0M974 1245h0M1061 1174h0M874 1296h0M892 1201h0M1025 1117h0M1052 1220h0M972 1166h0M1079 1200h0M992 1326h0M1015 1105h0M935 1283h0M968 1172h0M997 1110h0M1006 1227h0M932 1289h0M1038 1268h0M1011 1293h0M1037 1272h0M942 1173h0M1108 1173h0M921 1245h0M904 1203h0M1001 1221h0M1075 1243h0M995 1130h0M885 1271h0M952 1314h0M1026 1207h0M993 1261h0M989 1154h0M1025 1111h0M970 1257h0M964 1245h0M1040 1182h0M981 1098h0M1015 1273h0M1036 1223h0M1078 1206h0M959 1189h0M951 1161h0M1059 1206h0M1076 1174h0M1027 1227h0M1079 1157h0M958 1192h0M1046 1180h0M903 1327h0M1049 1261h0M1028 1165h0M1025 1214h0M1065 1192h0M965 1143h0M1017 1261h0M994 1131h0M899 1288h0M1016 1167h0M898 1263h0M934 1254h0M948 1179h0M941 1304h0M1053 1194h0M1008 1137h0M962 1311h0M968 1222h0M985 1144h0M1003 1240h0M1032 1227h0M999 1160h0M975 1264h0M968 1171h0M1064 1205h0M1023 1244h0M935 1308h0M958 1168h0M927 1233h0M1022 1213h0M927 1246h0M1005 1216h0M887 1279h0M1082 1152h0M988 1141h0M1074 1173h0M940 1217h0M932 1237h0M1000 1309h0M995 1264h0M1053 1241h0M957 1328h0M883 1341h0M1015 1222h0M929 1203h0" stroke="#fbe394" stroke-width="5.2" stroke-linecap="round" fill="none" opacity="0.92"/>
<path d="M897 1324h0M1061 1135h0M1023 1268h0M905 1212h0M1068 1205h0M890 1260h0M1000 1327h0M962 1222h0M982 1163h0M1065 1113h0M1071 1144h0M974 1324h0M1025 1106h0M952 1324h0M1097 1172h0M976 1164h0M1014 1253h0M1038 1110h0M1014 1110h0M889 1322h0M978 1098h0M943 1219h0M1039 1125h0M965 1297h0M1016 1274h0M950 1222h0M982 1312h0M945 1192h0M1067 1230h0M1042 1154h0M945 1211h0M922 1212h0M993 1171h0M1033 1126h0M1044 1125h0M905 1200h0M1045 1205h0M922 1235h0M1015 1241h0M1013 1151h0M1100 1208h0M846 1226h0M927 1342h0M1036 1161h0M1066 1213h0M1012 1256h0M1046 1199h0M893 1299h0M1036 1187h0M1034 1211h0M956 1232h0M939 1163h0M969 1166h0M1010 1271h0M983 1084h0M900 1230h0M947 1238h0M1050 1227h0M1049 1121h0M878 1272h0M903 1223h0M1066 1136h0M1077 1177h0M1038 1168h0M871 1275h0M997 1316h0M1078 1209h0M915 1322h0M999 1326h0M905 1316h0M903 1213h0M1028 1166h0M987 1251h0M941 1205h0M1015 1217h0M906 1223h0M1051 1223h0M934 1248h0M1035 1234h0M1026 1218h0M940 1175h0M1023 1140h0M985 1117h0M879 1311h0M892 1261h0M900 1178h0M908 1207h0M1005 1323h0M1034 1111h0M1000 1217h0M998 1195h0M974 1131h0M935 1200h0M1012 1250h0M914 1338h0M1033 1215h0M1036 1263h0M938 1214h0M918 1185h0M883 1276h0M1082 1168h0M1001 1317h0M992 1174h0M873 1279h0M945 1343h0M927 1328h0M951 1205h0M973 1250h0M1058 1240h0M1003 1133h0M920 1292h0M920 1319h0M1087 1152h0M978 1167h0M928 1332h0M949 1252h0M1103 1179h0M926 1335h0M919 1315h0M886 1278h0M871 1293h0M967 1224h0M969 1214h0M1039 1215h0M944 1226h0M934 1293h0M989 1164h0M949 1244h0M903 1242h0M1097 1205h0M1011 1319h0M1009 1259h0M945 1207h0M919 1295h0M999 1314h0M883 1325h0M1024 1261h0M966 1337h0M1027 1281h0M982 1246h0" stroke="#fad27a" stroke-width="5.2" stroke-linecap="round" fill="none" opacity="0.92"/>
<path d="M891 1289h0M977 1172h0M922 1294h0M892 1231h0M957 1224h0M1069 1241h0M922 1334h0M903 1182h0M928 1328h0M923 1184h0M1051 1219h0M950 1230h0M971 1124h0M897 1266h0M880 1290h0M914 1219h0M992 1303h0M1061 1119h0M977 1227h0M933 1240h0M1088 1143h0M992 1329h0M1030 1184h0M1032 1123h0M951 1170h0M1072 1104h0M965 1325h0M1026 1204h0M1022 1204h0M878 1309h0M974 1306h0M1043 1119h0M1002 1193h0M1034 1276h0M1007 1291h0M1074 1238h0M911 1206h0M1065 1188h0M1032 1188h0M1034 1140h0M879 1300h0M1013 1300h0M929 1224h0M994 1147h0M978 1329h0M1022 1251h0M880 1311h0M922 1324h0M936 1157h0M1049 1208h0M946 1338h0M1043 1257h0M936 1291h0M922 1294h0M988 1123h0M973 1173h0M967 1310h0M943 1300h0M924 1233h0M1014 1252h0M914 1194h0M1014 1171h0M1079 1154h0M1040 1124h0M1037 1272h0M897 1298h0M963 1323h0M1032 1176h0M972 1194h0M960 1181h0M1048 1133h0M1029 1214h0M1102 1173h0M1022 1209h0M1068 1121h0M1011 1180h0M898 1220h0M904 1332h0M1014 1132h0M884 1249h0M988 1290h0M1035 1124h0M971 1309h0M952 1321h0M903 1198h0M920 1214h0M1023 1123h0M906 1314h0M891 1328h0M991 1322h0M944 1289h0M995 1103h0M941 1161h0M1011 1293h0M970 1167h0M952 1252h0M886 1321h0M1064 1118h0M994 1156h0M992 1214h0" stroke="#f7bb5c" stroke-width="5.2" stroke-linecap="round" fill="none" opacity="0.92"/>
<path d="M930 1230h0M1013 1235h0M1035 1129h0M1038 1110h0M937 1308h0M882 1319h0M961 1238h0M946 1292h0M977 1197h0M877 1278h0M961 1301h0M1081 1143h0M1093 1142h0M1067 1111h0M1039 1222h0M1034 1126h0M1014 1112h0M1092 1163h0M990 1168h0M1023 1105h0M881 1320h0M1034 1126h0M1049 1148h0M1044 1144h0M879 1306h0M1046 1107h0M875 1274h0M1041 1138h0M998 1255h0M1043 1145h0M940 1254h0M938 1343h0M1004 1113h0M1053 1202h0M994 1240h0M930 1218h0M1021 1206h0M966 1328h0M975 1238h0M934 1319h0M993 1127h0M963 1331h0M1056 1268h0M1051 1235h0M897 1214h0M947 1213h0M907 1312h0M881 1318h0M945 1172h0M920 1202h0M1045 1129h0M1054 1121h0M973 1324h0M1002 1120h0M1040 1109h0M1012 1184h0M980 1103h0M948 1318h0" stroke="#f4a33c" stroke-width="5.2" stroke-linecap="round" fill="none" opacity="0.92"/>
<path d="M968 1227h0M918 1300h0M1004 1105h0M1021 1145h0M1071 1146h0M1023 1095h0M1034 1255h0M1037 1140h0M917 1324h0M1062 1129h0" stroke="#ef8920" stroke-width="5.2" stroke-linecap="round" fill="none" opacity="0.92"/>
<path d="M902 1312h0M1070 1129h0M954 1250h0M1008 1179h0M990 1243h0M1077 1135h0M1051 1123h0" stroke="#e56f27" stroke-width="5.2" stroke-linecap="round" fill="none" opacity="0.92"/>
<path d="M1061 1130h0M1001 1125h0M1030 1127h0" stroke="#d75530" stroke-width="5.2" stroke-linecap="round" fill="none" opacity="0.92"/>
<path d="M1041 1112h0M989 1223h0M991 1237h0M990 1229h0M986 1221h0M1065 1143h0M996 1230h0M984 1227h0M982 1226h0" stroke="#c63b3d" stroke-width="5.2" stroke-linecap="round" fill="none" opacity="0.92"/>
<path d="M1002 1230h0M1109 1206h0M983 1218h0M985 1225h0M1003 1228h0M984 1225h0M1003 1231h0M988 1220h0M947 1341h0M984 1218h0M989 1229h0M983 1226h0M918 1329h0M938 1340h0M992 1222h0M991 1221h0M995 1331h0" stroke="#ad2347" stroke-width="5.2" stroke-linecap="round" fill="none" opacity="0.92"/>
<path d="M923 1128h0M858 1238h0M855 1241h0M858 1227h0M853 1232h0M943 1269h0M916 1143h0M912 1129h0M918 1146h0M923 1146h0M948 1136h0M908 1142h0M856 1232h0M922 1149h0M910 1147h0" stroke="#5059a6" stroke-width="5.2" stroke-linecap="round" fill="none" opacity="0.92"/>
<path d="M940 1259h0M888 1201h0M918 1135h0M916 1131h0M866 1271h0M852 1230h0M880 1199h0M885 1178h0M928 1146h0M850 1261h0M856 1233h0M929 1144h0M854 1232h0M862 1259h0" stroke="#3c6daf" stroke-width="5.2" stroke-linecap="round" fill="none" opacity="0.92"/>
<path d="M938 1268h0M992 1273h0M963 1205h0M974 1260h0M856 1249h0M962 1203h0M948 1277h0M983 1212h0M851 1240h0M955 1254h0M894 1171h0M979 1206h0M923 1263h0M913 1159h0M852 1250h0M991 1271h0M1000 1282h0M977 1209h0M989 1206h0M904 1152h0M984 1278h0M910 1162h0M936 1147h0M897 1153h0M872 1209h0M963 1206h0M869 1255h0M936 1155h0M972 1282h0M879 1218h0M949 1285h0M908 1139h0" stroke="#1b86b7" stroke-width="5.2" stroke-linecap="round" fill="none" opacity="0.92"/>
<path d="M868 1249h0M945 1131h0M848 1259h0M857 1250h0M858 1261h0M894 1146h0M877 1212h0M950 1137h0M907 1152h0M953 1106h0M934 1153h0M871 1254h0M951 1278h0M904 1132h0M892 1155h0M910 1174h0M957 1115h0M919 1163h0M895 1203h0M878 1225h0M949 1109h0M867 1280h0M897 1168h0M866 1273h0M993 1276h0M877 1217h0M858 1259h0M949 1278h0M922 1159h0M893 1158h0M875 1260h0M862 1242h0M904 1175h0M941 1128h0M895 1145h0M977 1267h0M886 1209h0M975 1260h0M980 1277h0M929 1152h0M951 1119h0M903 1175h0M928 1275h0M948 1117h0M934 1274h0M872 1256h0M863 1278h0M956 1133h0M957 1270h0M982 1270h0M871 1256h0M874 1221h0M943 1124h0M867 1258h0M928 1261h0M890 1173h0M923 1124h0" stroke="#139db7" stroke-width="5.2" stroke-linecap="round" fill="none" opacity="0.92"/>
<path d="M903 1143h0M929 1258h0M858 1248h0M914 1155h0M997 1269h0M948 1280h0M866 1229h0M939 1262h0M889 1204h0M918 1167h0M939 1136h0M874 1199h0M954 1111h0M871 1222h0M904 1156h0M997 1187h0M937 1144h0M990 1286h0M932 1275h0M877 1250h0M936 1128h0M853 1267h0M986 1271h0M853 1267h0M940 1130h0M866 1254h0M943 1130h0M941 1125h0M896 1139h0M861 1228h0M852 1265h0M849 1266h0M902 1178h0M903 1172h0M860 1237h0M897 1175h0M896 1149h0M916 1169h0M1090 1193h0M906 1151h0M856 1251h0M933 1155h0M1004 1268h0M991 1280h0M936 1151h0M890 1201h0M943 1133h0M955 1268h0M881 1207h0M927 1264h0M892 1193h0M859 1281h0" stroke="#1db2b4" stroke-width="5.2" stroke-linecap="round" fill="none" opacity="0.92"/>
<path d="M887 1183h0M930 1258h0M969 1261h0M900 1140h0M952 1137h0M940 1154h0M988 1279h0M943 1130h0M965 1112h0M966 1249h0M964 1115h0M869 1240h0M941 1114h0M938 1137h0M987 1202h0M860 1235h0M889 1208h0M1098 1199h0M1085 1179h0M997 1277h0M937 1120h0M990 1279h0M928 1169h0M888 1203h0M986 1205h0M963 1118h0M913 1157h0M986 1282h0M904 1150h0M949 1277h0M938 1251h0M967 1114h0M929 1273h0M939 1127h0M919 1168h0M954 1111h0M916 1172h0M939 1125h0M851 1272h0M956 1119h0M909 1124h0M998 1197h0M996 1208h0M982 1260h0M936 1285h0M1020 1191h0M886 1198h0M918 1120h0M1097 1199h0M990 1264h0M931 1257h0M956 1119h0" stroke="#3dc4af" stroke-width="5.2" stroke-linecap="round" fill="none" opacity="0.92"/>
<path d="M976 1250h0M882 1218h0M1087 1194h0M888 1168h0M959 1129h0M968 1292h0M922 1269h0M888 1188h0M995 1263h0M915 1272h0M961 1261h0M972 1110h0M861 1271h0M1105 1185h0M1111 1186h0M993 1283h0M1026 1194h0M1009 1191h0M999 1260h0M875 1185h0M1108 1182h0M864 1246h0M1097 1180h0M893 1198h0M1099 1206h0M927 1262h0M938 1154h0M941 1152h0M948 1289h0M1008 1204h0M950 1159h0M970 1266h0M1092 1199h0M954 1140h0M965 1105h0M957 1253h0M897 1186h0M1088 1197h0" stroke="#6ad3ad" stroke-width="5.2" stroke-linecap="round" fill="none" opacity="0.92"/>
<path d="M933 1250h0M894 1180h0M977 1254h0M926 1285h0M964 1251h0M949 1155h0M965 1112h0M991 1276h0M1092 1201h0M1085 1184h0M891 1206h0M989 1291h0M886 1184h0M891 1186h0M989 1265h0M1035 1264h0M1005 1191h0M1102 1206h0M980 1133h0M951 1227h0M942 1287h0M999 1268h0M868 1207h0M893 1206h0M1016 1200h0M936 1249h0M928 1268h0M973 1292h0M980 1191h0M1014 1270h0M930 1282h0M1012 1202h0M1021 1204h0M1088 1214h0M960 1294h0M931 1250h0M1093 1208h0M887 1184h0M932 1252h0M1006 1163h0M954 1142h0M1092 1199h0M905 1177h0M935 1279h0M936 1286h0" stroke="#9ae2a8" stroke-width="5.2" stroke-linecap="round" fill="none" opacity="0.92"/>
<path d="M989 1140h0M988 1146h0M1008 1327h0M937 1292h0M900 1311h0M1074 1207h0M1027 1167h0M931 1335h0M1016 1237h0M1005 1178h0M969 1301h0M1040 1251h0M917 1339h0M906 1253h0M959 1317h0M1068 1126h0M1033 1190h0M970 1230h0M991 1158h0M933 1250h0M875 1293h0M1113 1167h0M1021 1150h0M1090 1162h0M908 1218h0M887 1280h0M961 1192h0M993 1113h0M918 1293h0M1035 1245h0M1051 1202h0M935 1282h0M992 1271h0M1060 1257h0M945 1212h0M1038 1184h0M981 1236h0M1004 1118h0M1044 1193h0M1008 1107h0M896 1179h0M1003 1254h0M1040 1218h0M954 1191h0M978 1311h0M998 1211h0M903 1176h0M1046 1247h0M931 1281h0M941 1156h0M1002 1151h0M1076 1143h0M1062 1137h0M1050 1200h0M980 1342h0M984 1269h0M975 1325h0M926 1337h0M964 1149h0M929 1189h0M985 1272h0M906 1220h0M890 1244h0M944 1249h0M905 1280h0M929 1266h0M1037 1175h0M942 1166h0M1032 1109h0M1051 1127h0M881 1302h0M1092 1147h0M1035 1124h0M886 1240h0M933 1241h0M1032 1213h0M929 1265h0M924 1278h0M1021 1235h0M1022 1275h0M891 1198h0M898 1257h0M933 1282h0M937 1278h0M978 1172h0M1108 1180h0M1024 1205h0M1017 1306h0M988 1279h0M1016 1124h0M921 1304h0M879 1264h0M921 1326h0M979 1176h0M1041 1115h0M969 1109h0M1091 1200h0M942 1164h0M972 1291h0M944 1199h0M960 1176h0M919 1314h0M1038 1138h0M993 1294h0M1029 1212h0M892 1260h0M1010 1161h0M922 1248h0M1012 1253h0M955 1250h0M897 1258h0M1020 1113h0M1058 1149h0M974 1267h0M972 1319h0M986 1312h0M988 1133h0M1045 1233h0M948 1182h0M949 1310h0M1002 1196h0M897 1216h0M990 1117h0M1020 1174h0M952 1295h0M957 1240h0M1062 1169h0M1041 1113h0M921 1325h0M951 1227h0M1026 1107h0M1098 1193h0M1033 1201h0M1013 1129h0M972 1159h0M963 1295h0M911 1247h0M988 1278h0M877 1275h0M948 1273h0M888 1211h0M1066 1174h0M957 1144h0M1048 1216h0" stroke="#c0eca7" stroke-width="5.2" stroke-linecap="round" fill="none" opacity="0.92"/>
<path d="M980 1182h0M898 1241h0M899 1300h0M938 1181h0M1084 1179h0M1086 1180h0M1011 1248h0M911 1306h0M935 1251h0M1041 1233h0M992 1111h0M960 1173h0M1071 1248h0M907 1273h0M912 1224h0M971 1220h0M963 1159h0M879 1303h0M877 1301h0M1008 1178h0M958 1157h0M874 1282h0M989 1308h0M998 1195h0M926 1303h0M903 1221h0M1011 1289h0M1022 1114h0M1061 1169h0M1025 1290h0M1093 1162h0M980 1308h0M934 1186h0M960 1294h0M914 1276h0M966 1339h0M1098 1167h0M1038 1273h0M892 1317h0M935 1287h0M900 1186h0M995 1327h0M1069 1186h0M950 1191h0M1011 1169h0M973 1104h0M894 1208h0M891 1300h0M941 1160h0M997 1332h0M1024 1184h0M945 1165h0M912 1327h0M887 1183h0M889 1291h0M1040 1211h0M894 1309h0M948 1319h0M1029 1111h0M1044 1141h0M938 1194h0M964 1130h0M997 1173h0M1047 1200h0M958 1190h0M1094 1207h0M1011 1236h0M922 1289h0M1014 1274h0M1031 1213h0M1046 1233h0M1079 1224h0M968 1306h0M941 1213h0M955 1190h0M973 1194h0M957 1236h0M921 1231h0M910 1334h0M960 1294h0M981 1103h0M949 1198h0M1046 1235h0M930 1161h0M983 1186h0M958 1129h0M1101 1185h0M918 1308h0M1010 1215h0M950 1296h0M875 1261h0M1012 1230h0M972 1165h0M908 1186h0M904 1310h0M1086 1168h0M1071 1141h0M962 1238h0M925 1328h0M1014 1149h0M1027 1185h0M948 1252h0M998 1158h0M1000 1292h0M956 1329h0M1050 1206h0M1041 1215h0M1024 1186h0M1059 1209h0M910 1216h0M925 1312h0M1041 1103h0M1035 1271h0M1014 1223h0M968 1194h0M1026 1109h0M927 1308h0M1045 1174h0M1001 1254h0M1033 1116h0M920 1334h0M959 1173h0M925 1247h0M1073 1241h0M922 1323h0M962 1182h0M1078 1163h0M905 1189h0M976 1133h0M1010 1239h0M927 1263h0M934 1250h0M971 1166h0M938 1298h0M954 1254h0M1104 1156h0M1067 1200h0M909 1178h0M1000 1318h0M1016 1184h0M1025 1218h0M984 1249h0M996 1257h0M1034 1188h0M899 1207h0M1067 1243h0M1082 1205h0M1078 1143h0M910 1249h0M1045 1195h0M1071 1167h0M934 1310h0M928 1325h0M1038 1109h0M1072 1246h0M910 1189h0M915 1245h0M1018 1125h0M986 1141h0M1025 1264h0M1029 1132h0M983 1083h0M948 1182h0M997 1128h0M880 1294h0M995 1155h0M913 1324h0M1071 1137h0M987 1323h0M1025 1157h0M1074 1247h0M1009 1102h0M900 1219h0M1040 1126h0M928 1326h0M1070 1169h0M920 1309h0" stroke="#def3a8" stroke-width="5.2" stroke-linecap="round" fill="none" opacity="0.92"/>
<path d="M1026 1265h0M1077 1233h0M954 1333h0M933 1327h0M966 1152h0M970 1303h0M912 1183h0M944 1154h0M962 1115h0M955 1321h0M1027 1213h0M971 1202h0M1053 1109h0M1065 1150h0M922 1198h0M905 1265h0M948 1145h0M880 1257h0M1035 1282h0M992 1134h0M1025 1245h0M965 1110h0M1026 1236h0M957 1149h0M992 1271h0M1058 1229h0M956 1167h0M1065 1171h0M917 1231h0M912 1278h0M947 1181h0M1008 1192h0M921 1307h0M1003 1130h0M1019 1251h0M936 1254h0M904 1238h0M1103 1163h0M1024 1120h0M1080 1175h0M964 1342h0M1054 1128h0M946 1315h0M924 1210h0M1050 1170h0M993 1109h0M945 1295h0M1001 1303h0M1009 1306h0M1029 1207h0M1003 1306h0M986 1246h0M952 1195h0M935 1233h0M963 1183h0M1047 1141h0M978 1318h0M966 1330h0M1067 1180h0M883 1305h0M1072 1231h0M1036 1273h0M1054 1173h0M981 1196h0M1072 1183h0M945 1296h0M1036 1113h0M1073 1159h0M971 1228h0M882 1305h0M956 1153h0M942 1320h0M1111 1186h0M976 1119h0M945 1250h0M978 1097h0M1061 1175h0M893 1240h0M1029 1168h0M986 1299h0M1100 1156h0M957 1328h0M1049 1130h0M958 1195h0M953 1162h0M1013 1157h0M1043 1274h0M1051 1165h0M921 1249h0M1060 1250h0M1031 1223h0M997 1160h0M1013 1157h0M1101 1151h0M882 1300h0M930 1329h0M982 1171h0M984 1288h0M1009 1182h0M943 1212h0M932 1230h0M1051 1170h0M915 1231h0M1000 1103h0M1023 1182h0M936 1202h0M1018 1208h0M1025 1170h0M987 1144h0M959 1188h0M944 1342h0M956 1167h0M924 1288h0M954 1244h0M901 1203h0M937 1273h0M964 1227h0M896 1220h0M977 1176h0M1059 1259h0M1013 1185h0M1093 1145h0M925 1200h0M1067 1216h0M1052 1127h0M1015 1128h0M934 1291h0M901 1249h0M1011 1195h0M1010 1243h0M1052 1115h0M1069 1249h0M1019 1289h0M983 1131h0M1024 1288h0M1088 1168h0M1026 1218h0M956 1149h0M1020 1130h0M991 1266h0M1022 1224h0M978 1303h0M892 1327h0M1056 1119h0M1043 1250h0M1078 1142h0M1072 1141h0M1085 1183h0M1026 1245h0M1014 1179h0M966 1223h0M938 1306h0M927 1185h0M1029 1284h0M1027 1178h0M1085 1198h0M1065 1198h0M963 1234h0M945 1212h0M1020 1216h0M907 1199h0M894 1284h0M899 1248h0M1007 1144h0M1030 1141h0M984 1139h0M1024 1188h0M900 1214h0M996 1119h0M1059 1197h0M971 1294h0M1045 1159h0M944 1316h0M981 1166h0M984 1111h0M923 1328h0M984 1241h0M966 1144h0M969 1313h0M897 1198h0M911 1241h0M921 1297h0M1053 1211h0M946 1298h0M1071 1193h0M911 1250h0M895 1285h0M1008 1224h0M894 1256h0M962 1185h0M1052 1222h0M901 1312h0M979 1232h0M1036 1177h0M995 1250h0M1034 1177h0M906 1177h0M1049 1148h0M951 1186h0M913 1249h0M1019 1178h0M995 1117h0M994 1132h0M974 1104h0M913 1228h0M1010 1260h0" stroke="#f1f0a4" stroke-width="5.2" stroke-linecap="round" fill="none" opacity="0.92"/>
<path d="M982 1244h0M996 1294h0M937 1206h0M1019 1201h0M1108 1179h0M1063 1220h0M1014 1232h0M902 1199h0M944 1345h0M952 1190h0M1025 1205h0M878 1258h0M880 1301h0M1020 1284h0M1062 1163h0M965 1175h0M1059 1156h0M972 1326h0M996 1216h0M952 1240h0M1052 1181h0M942 1190h0M909 1284h0M1029 1231h0M1045 1237h0M981 1315h0M1079 1231h0M938 1176h0M1015 1132h0M967 1142h0M1079 1233h0M962 1159h0M1000 1168h0M914 1265h0M957 1324h0M965 1305h0M1064 1200h0M926 1205h0M951 1227h0M1066 1236h0M949 1149h0M930 1215h0M913 1332h0M941 1294h0M976 1100h0M1051 1119h0M1047 1123h0M908 1237h0M1007 1239h0M927 1325h0M947 1198h0M1033 1228h0M935 1186h0M944 1156h0M1026 1173h0M893 1288h0M961 1314h0M1064 1168h0M1018 1242h0M910 1197h0M1099 1163h0M947 1236h0M1081 1230h0M1056 1120h0M1062 1181h0M1117 1175h0M908 1309h0M1069 1175h0M952 1306h0M961 1186h0M1000 1141h0M1062 1179h0M941 1162h0M904 1195h0M930 1323h0M1044 1215h0M992 1306h0M924 1300h0M962 1244h0M901 1309h0M1048 1268h0M981 1242h0M1027 1178h0M919 1184h0M964 1148h0M900 1177h0M983 1124h0M1040 1286h0M941 1213h0M899 1301h0M1057 1164h0M931 1295h0M1040 1116h0M893 1255h0M1020 1288h0M1036 1267h0M1071 1182h0M1087 1172h0M991 1186h0M978 1111h0M961 1239h0M1059 1109h0M966 1185h0M1054 1200h0M892 1264h0M893 1252h0M1025 1160h0M890 1260h0M964 1314h0M1044 1192h0M1066 1214h0M1071 1207h0M1031 1260h0M940 1169h0M917 1235h0M1080 1194h0M947 1204h0M977 1103h0M1025 1181h0M1020 1147h0M1031 1228h0M1004 1307h0M898 1297h0M884 1271h0M947 1171h0M896 1208h0M931 1181h0M959 1172h0M938 1182h0M1033 1220h0M984 1249h0M923 1212h0M921 1333h0" stroke="#fbe394" stroke-width="5.2" stroke-linecap="round" fill="none" opacity="0.92"/>
<path d="M1082 1134h0M1008 1244h0M1021 1225h0M1056 1163h0M935 1298h0M979 1158h0M1059 1245h0M976 1234h0M964 1223h0M909 1209h0M954 1193h0M982 1256h0M993 1114h0M970 1300h0M977 1172h0M977 1308h0M986 1173h0M886 1247h0M939 1296h0M927 1271h0M946 1167h0M1086 1168h0M955 1192h0M963 1161h0M911 1210h0M926 1309h0M1011 1119h0M1094 1169h0M910 1271h0M931 1336h0M1000 1131h0M909 1264h0M1032 1192h0M938 1154h0M880 1247h0M1035 1213h0M947 1327h0M926 1204h0M1036 1285h0M861 1306h0M974 1246h0M965 1238h0M1065 1120h0M977 1204h0M1085 1208h0M964 1303h0M1083 1176h0M948 1227h0M882 1223h0M1020 1247h0M954 1249h0M940 1328h0M1030 1124h0M896 1304h0M1055 1149h0M1059 1222h0M940 1341h0M1046 1106h0M1055 1262h0M964 1170h0M1044 1191h0M886 1227h0M1122 1165h0M949 1203h0M1005 1306h0M955 1193h0M889 1182h0M955 1214h0M1042 1169h0M1054 1128h0M1069 1165h0M1028 1287h0M915 1296h0M989 1142h0M1024 1173h0M933 1174h0M996 1299h0M1000 1293h0M952 1301h0M995 1293h0M929 1337h0M925 1243h0M867 1311h0M1035 1098h0M1054 1228h0M1019 1181h0M939 1292h0M1051 1220h0M910 1320h0M924 1222h0M1061 1210h0M1071 1213h0M924 1234h0M1009 1166h0M1111 1168h0M1058 1118h0M938 1154h0M894 1289h0M1026 1196h0M949 1158h0M989 1290h0M935 1221h0M954 1251h0M955 1152h0M928 1242h0M984 1081h0M1095 1184h0M986 1080h0M1052 1167h0M949 1345h0M1019 1221h0M939 1244h0M984 1244h0M1072 1219h0M960 1193h0M887 1313h0M912 1281h0M893 1218h0M995 1310h0M999 1114h0M953 1195h0M1026 1237h0M939 1347h0M887 1304h0M891 1216h0M937 1245h0M1051 1221h0M1075 1237h0M1076 1178h0M1016 1220h0M1018 1134h0M934 1209h0M899 1201h0M1008 1219h0M952 1293h0M1013 1316h0M994 1209h0M988 1297h0M1048 1217h0M981 1311h0M1021 1140h0M1048 1262h0M963 1236h0M1019 1142h0M1022 1225h0M971 1174h0M991 1256h0M1023 1230h0M906 1231h0M923 1170h0M1029 1186h0M1013 1275h0M1031 1209h0M938 1251h0M900 1255h0" stroke="#fad27a" stroke-width="5.2" stroke-linecap="round" fill="none" opacity="0.92"/>
<path d="M917 1199h0M901 1285h0M1008 1123h0M1046 1188h0M1045 1138h0M1077 1145h0M1052 1220h0M897 1245h0M923 1292h0M1047 1237h0M930 1199h0M1031 1147h0M1039 1173h0M949 1239h0M1008 1224h0M931 1306h0M968 1227h0M878 1258h0M1029 1113h0M939 1201h0M1040 1278h0M902 1242h0M962 1320h0M1064 1183h0M963 1110h0M871 1280h0M1048 1218h0M1013 1216h0M1011 1136h0M936 1198h0M1041 1110h0M920 1323h0M983 1295h0M1039 1135h0M966 1143h0M1027 1107h0M1060 1260h0M1008 1122h0M983 1338h0M941 1221h0M1116 1176h0M934 1246h0M1000 1130h0M1006 1131h0M878 1276h0M1094 1145h0M974 1291h0M972 1251h0M1054 1228h0M1046 1108h0M1002 1154h0M909 1305h0M884 1300h0M893 1324h0M995 1145h0M956 1151h0M974 1327h0M893 1320h0M943 1192h0M860 1295h0M952 1345h0M1027 1255h0M966 1344h0M1005 1235h0M1039 1137h0M1057 1124h0M967 1293h0M969 1168h0M917 1248h0M978 1308h0M881 1322h0M963 1176h0M892 1188h0M969 1262h0M1077 1233h0M975 1087h0M995 1314h0M1024 1262h0M1013 1101h0M883 1243h0M979 1292h0M941 1327h0M1033 1107h0M944 1232h0M891 1312h0M996 1115h0M912 1181h0M1047 1136h0M1034 1183h0M945 1298h0M1036 1104h0M891 1322h0M1028 1131h0M884 1272h0M1081 1191h0M894 1267h0M1008 1144h0M949 1188h0M1011 1174h0M988 1105h0M1074 1239h0M964 1307h0M929 1187h0M1046 1114h0M923 1245h0M950 1182h0M1035 1248h0M944 1212h0" stroke="#f7bb5c" stroke-width="5.2" stroke-linecap="round" fill="none" opacity="0.92"/>
<path d="M1062 1184h0M981 1098h0M950 1218h0M1056 1128h0M1013 1117h0M1056 1180h0M1085 1138h0M1068 1207h0M1066 1143h0M882 1324h0M1025 1114h0M986 1307h0M1010 1105h0M880 1319h0M1032 1106h0M987 1210h0M973 1119h0M886 1316h0M966 1299h0M1085 1200h0M1024 1183h0M1076 1198h0M989 1134h0M1006 1296h0M943 1299h0M885 1306h0M903 1253h0M993 1281h0M901 1311h0M1006 1142h0M1073 1185h0M881 1271h0M1007 1291h0M968 1172h0M1074 1140h0M1047 1275h0M981 1330h0M1018 1232h0M929 1320h0M1033 1106h0M1055 1213h0M964 1304h0M987 1331h0M1031 1124h0M995 1309h0M897 1291h0M1007 1117h0M1006 1294h0M939 1322h0M949 1188h0" stroke="#f4a33c" stroke-width="5.2" stroke-linecap="round" fill="none" opacity="0.92"/>
<path d="M1049 1142h0M1073 1120h0M1044 1098h0M1060 1211h0M1010 1124h0M1017 1135h0M901 1186h0M926 1261h0" stroke="#ef8920" stroke-width="5.2" stroke-linecap="round" fill="none" opacity="0.92"/>
<path d="M995 1134h0M930 1309h0M931 1323h0" stroke="#e56f27" stroke-width="5.2" stroke-linecap="round" fill="none" opacity="0.92"/>
<path d="M1018 1135h0M1041 1125h0M1048 1108h0" stroke="#d75530" stroke-width="5.2" stroke-linecap="round" fill="none" opacity="0.92"/>
<path d="M986 1232h0M981 1223h0M992 1222h0M980 1229h0" stroke="#c63b3d" stroke-width="5.2" stroke-linecap="round" fill="none" opacity="0.92"/>
<path d="M934 1343h0M967 1320h0M991 1225h0M983 1224h0M999 1233h0M994 1232h0M985 1230h0M996 1229h0M938 1336h0M982 1228h0M999 1221h0" stroke="#ad2347" stroke-width="5.2" stroke-linecap="round" fill="none" opacity="0.92"/>
</g>
<path d="M1163.9 1066V1366.6M1146.6 1338.1H1446.8M1225.9 1066V1366.6M1146.6 1277.4H1446.8M1287.9 1066V1366.6M1146.6 1216.7H1446.8M1349.9 1066V1366.6M1146.6 1156H1446.8M1411.9 1066V1366.6M1146.6 1095.3H1446.8" stroke="#ebebeb" stroke-width="2.0" fill="none"/>
<text x="1290.3" y="1052.4" font-size="34.3" text-anchor="middle">TCF-1</text>
<g filter="url(#bl2)">
<path d="M1318 1212h0M1202 1249h0M1318 1244h0M1250 1152h0M1231 1148h0M1292 1098h0M1397 1177h0M1280 1306h0M1346 1214h0M1319 1209h0M1301 1267h0M1203 1293h0M1305 1224h0M1205 1304h0M1314 1252h0M1256 1211h0M1298 1210h0M1260 1230h0M1419 1180h0M1254 1126h0M1231 1246h0M1239 1276h0M1221 1202h0M1333 1177h0M1280 1296h0M1271 1265h0M1216 1194h0M1273 1145h0M1306 1215h0M1243 1290h0M1409 1172h0M1222 1194h0M1260 1216h0M1251 1190h0M1214 1311h0M1304 1140h0M1275 1155h0M1247 1250h0M1260 1153h0M1253 1282h0M1244 1206h0M1216 1154h0M1252 1155h0M1254 1172h0M1383 1210h0M1213 1211h0M1215 1169h0M1361 1205h0M1319 1284h0M1272 1162h0M1327 1217h0M1372 1215h0M1382 1173h0M1404 1188h0M1199 1186h0M1248 1176h0M1271 1103h0M1332 1225h0M1402 1215h0M1353 1173h0M1196 1274h0M1294 1126h0M1379 1170h0M1303 1179h0M1329 1210h0M1347 1212h0M1261 1162h0M1226 1235h0M1222 1162h0M1281 1265h0M1254 1264h0M1296 1192h0M1310 1285h0M1239 1174h0M1167 1294h0M1207 1145h0M1293 1204h0M1336 1230h0M1247 1241h0M1260 1319h0M1282 1146h0M1271 1213h0M1267 1265h0M1276 1292h0M1263 1183h0M1300 1294h0M1247 1217h0M1318 1214h0M1309 1167h0M1241 1207h0M1234 1159h0M1246 1151h0M1222 1170h0" stroke="#1db2b4" stroke-width="5.2" stroke-linecap="round" fill="none" opacity="0.92"/>
<path d="M1379 1166h0M1326 1210h0M1373 1231h0M1265 1283h0M1374 1170h0M1268 1320h0M1258 1201h0M1274 1341h0M1296 1243h0M1203 1295h0M1243 1245h0M1256 1251h0M1336 1225h0M1333 1271h0M1251 1242h0M1382 1246h0M1370 1114h0M1330 1208h0M1210 1172h0M1246 1285h0M1232 1155h0M1292 1152h0M1368 1159h0M1290 1135h0M1309 1328h0M1292 1338h0M1230 1296h0M1297 1278h0M1223 1298h0M1239 1119h0M1236 1287h0M1198 1213h0M1367 1140h0M1209 1246h0M1275 1203h0M1249 1117h0M1213 1244h0M1413 1190h0M1356 1235h0M1254 1251h0M1247 1147h0M1203 1265h0M1342 1270h0M1297 1227h0M1272 1339h0M1327 1118h0M1258 1344h0M1193 1206h0M1363 1275h0M1253 1128h0M1240 1281h0M1398 1162h0M1226 1236h0M1176 1293h0M1305 1173h0M1254 1162h0M1335 1113h0M1227 1258h0M1320 1255h0M1336 1252h0M1260 1223h0M1248 1233h0M1240 1205h0M1319 1295h0M1222 1186h0M1173 1222h0M1188 1209h0M1241 1299h0M1253 1153h0M1279 1222h0M1385 1248h0M1358 1145h0M1204 1234h0M1261 1323h0M1357 1152h0M1285 1261h0M1193 1244h0M1367 1190h0M1201 1267h0M1271 1219h0M1373 1224h0M1232 1255h0M1276 1111h0M1255 1321h0M1201 1266h0M1309 1102h0M1294 1247h0" stroke="#f1f0a4" stroke-width="5.2" stroke-linecap="round" fill="none" opacity="0.92"/>
<path d="M1199 1245h0M1233 1310h0M1209 1208h0M1278 1227h0M1316 1311h0M1319 1207h0M1217 1317h0M1255 1213h0M1318 1178h0M1373 1251h0M1236 1230h0M1215 1284h0M1227 1338h0M1300 1209h0M1339 1278h0M1336 1185h0M1217 1303h0M1308 1259h0M1325 1290h0M1213 1268h0M1235 1127h0M1329 1227h0M1220 1126h0M1301 1120h0M1406 1190h0M1344 1219h0M1266 1181h0M1245 1284h0M1335 1297h0M1328 1104h0M1240 1294h0M1271 1287h0M1353 1171h0M1167 1233h0M1189 1241h0M1201 1202h0M1307 1259h0M1224 1204h0M1334 1242h0M1243 1289h0M1201 1300h0M1307 1204h0M1299 1246h0M1317 1221h0M1299 1197h0M1345 1222h0M1242 1143h0M1208 1304h0M1305 1162h0M1198 1252h0" stroke="#fbe394" stroke-width="5.2" stroke-linecap="round" fill="none" opacity="0.92"/>
<path d="M1344 1119h0M1250 1152h0M1307 1112h0M1311 1175h0M1175 1257h0M1239 1253h0M1232 1332h0M1360 1131h0M1242 1240h0M1346 1112h0M1322 1288h0M1270 1192h0M1382 1123h0M1314 1144h0M1316 1109h0M1380 1161h0M1325 1157h0M1359 1118h0M1319 1284h0M1330 1274h0M1325 1134h0" stroke="#c63b3d" stroke-width="5.2" stroke-linecap="round" fill="none" opacity="0.92"/>
<path d="M1367 1203h0M1243 1265h0M1253 1152h0M1326 1219h0M1265 1196h0M1194 1193h0M1269 1272h0M1165 1248h0M1367 1211h0M1244 1230h0M1377 1203h0M1263 1114h0M1303 1169h0M1242 1287h0M1202 1235h0M1334 1166h0M1187 1283h0M1254 1221h0M1421 1183h0M1387 1235h0M1276 1145h0M1223 1151h0M1255 1240h0M1386 1157h0M1300 1082h0M1252 1159h0M1208 1221h0M1311 1201h0M1256 1137h0M1254 1293h0M1315 1187h0M1185 1281h0M1293 1155h0M1412 1204h0M1162 1237h0M1198 1305h0M1381 1241h0M1336 1198h0M1264 1138h0M1279 1114h0M1200 1180h0M1250 1324h0M1299 1263h0M1234 1275h0M1307 1260h0M1287 1200h0M1210 1197h0M1221 1257h0M1297 1156h0M1292 1326h0M1271 1280h0M1381 1185h0M1192 1292h0M1399 1182h0M1222 1251h0M1297 1222h0M1189 1314h0M1318 1225h0M1228 1198h0M1269 1159h0M1193 1316h0M1285 1188h0M1319 1231h0M1237 1259h0M1315 1231h0M1178 1254h0M1370 1202h0M1254 1152h0M1314 1273h0M1256 1160h0M1267 1245h0M1322 1215h0M1306 1117h0M1254 1261h0" stroke="#6ad3ad" stroke-width="5.2" stroke-linecap="round" fill="none" opacity="0.92"/>
<path d="M1272 1301h0M1282 1240h0M1251 1316h0M1184 1275h0M1297 1100h0M1411 1184h0M1189 1209h0M1273 1296h0M1275 1252h0M1424 1164h0M1256 1313h0M1174 1254h0M1257 1142h0M1253 1215h0M1236 1189h0M1282 1144h0M1296 1272h0M1236 1311h0M1321 1289h0M1353 1144h0M1249 1321h0M1369 1128h0M1308 1321h0M1254 1192h0M1264 1324h0M1227 1226h0M1314 1155h0M1301 1134h0M1324 1125h0M1238 1114h0M1342 1303h0M1304 1293h0M1214 1281h0M1310 1280h0M1276 1151h0M1305 1133h0M1347 1285h0M1285 1231h0M1259 1274h0M1266 1280h0M1342 1116h0M1403 1149h0M1227 1237h0M1352 1280h0M1339 1158h0M1180 1260h0M1410 1146h0M1244 1347h0M1288 1317h0M1204 1328h0M1231 1331h0M1300 1190h0M1343 1158h0M1297 1248h0M1211 1322h0M1300 1225h0M1282 1306h0M1214 1321h0M1311 1181h0M1273 1303h0M1425 1163h0M1172 1271h0M1362 1228h0M1282 1116h0M1385 1137h0M1194 1191h0M1201 1211h0M1227 1275h0M1299 1227h0M1298 1215h0M1336 1245h0M1302 1200h0M1225 1238h0M1241 1284h0M1250 1313h0M1262 1140h0M1315 1292h0M1305 1095h0M1273 1285h0M1358 1111h0M1228 1259h0M1252 1211h0M1228 1137h0M1209 1264h0M1198 1204h0M1303 1110h0M1347 1114h0M1242 1132h0M1325 1129h0M1222 1142h0M1366 1121h0M1215 1154h0M1275 1250h0M1183 1304h0M1266 1152h0M1195 1254h0M1337 1157h0M1226 1275h0M1265 1334h0M1192 1246h0M1226 1177h0M1279 1143h0M1276 1303h0M1312 1158h0M1354 1120h0M1189 1316h0M1242 1247h0M1311 1112h0M1351 1205h0M1300 1138h0M1215 1292h0M1238 1340h0M1277 1299h0" stroke="#f7bb5c" stroke-width="5.2" stroke-linecap="round" fill="none" opacity="0.92"/>
<path d="M1203 1223h0M1344 1282h0M1270 1177h0M1286 1217h0M1247 1141h0M1309 1192h0M1200 1244h0M1181 1272h0M1323 1310h0M1397 1230h0M1338 1234h0M1266 1286h0M1338 1298h0M1243 1334h0M1205 1239h0M1351 1124h0M1251 1156h0M1372 1211h0M1287 1102h0M1278 1259h0M1277 1225h0M1288 1319h0M1228 1278h0M1406 1175h0M1263 1194h0M1252 1327h0M1290 1304h0M1298 1246h0M1307 1176h0M1205 1305h0M1323 1203h0M1316 1261h0M1267 1131h0M1202 1307h0M1327 1121h0M1187 1255h0M1367 1234h0M1269 1183h0M1266 1236h0M1307 1311h0M1360 1202h0M1264 1323h0M1235 1165h0M1325 1208h0M1283 1210h0M1337 1129h0M1233 1301h0M1198 1247h0M1353 1240h0M1277 1313h0M1343 1284h0M1307 1246h0M1198 1201h0M1371 1239h0M1193 1218h0M1323 1218h0M1396 1191h0M1238 1330h0M1250 1159h0M1322 1197h0M1400 1195h0M1365 1191h0M1207 1191h0M1183 1297h0M1255 1292h0M1220 1179h0M1194 1315h0M1202 1290h0M1258 1234h0M1264 1172h0M1270 1165h0M1272 1134h0M1325 1223h0M1279 1343h0M1347 1253h0M1341 1168h0M1378 1203h0M1338 1198h0M1330 1210h0M1355 1217h0M1208 1182h0M1387 1198h0M1291 1233h0M1233 1218h0M1320 1222h0M1392 1232h0M1239 1264h0M1238 1176h0M1365 1219h0M1369 1173h0M1186 1232h0M1333 1280h0M1224 1296h0M1315 1203h0M1243 1285h0M1242 1267h0M1207 1231h0M1210 1308h0M1348 1210h0M1241 1208h0M1227 1156h0M1317 1175h0M1284 1106h0M1229 1209h0M1317 1252h0M1302 1123h0M1363 1154h0M1401 1194h0M1213 1201h0M1217 1141h0M1204 1177h0M1219 1187h0M1244 1192h0M1223 1224h0M1357 1216h0M1219 1151h0M1396 1232h0M1324 1185h0M1268 1161h0M1396 1188h0M1243 1145h0M1265 1184h0M1201 1203h0M1291 1307h0M1341 1110h0M1423 1190h0M1286 1269h0M1226 1332h0M1301 1223h0M1222 1185h0M1390 1201h0M1230 1310h0M1371 1144h0M1261 1164h0M1323 1217h0M1346 1247h0M1287 1186h0M1209 1146h0M1205 1233h0M1215 1188h0M1266 1178h0M1370 1173h0M1306 1270h0M1314 1297h0" stroke="#3dc4af" stroke-width="5.2" stroke-linecap="round" fill="none" opacity="0.92"/>
<path d="M1349 1283h0M1240 1274h0M1224 1126h0M1249 1236h0M1307 1222h0M1184 1258h0M1215 1305h0M1404 1220h0M1308 1259h0M1257 1145h0M1307 1251h0M1246 1252h0M1352 1222h0M1356 1236h0M1249 1210h0M1398 1179h0M1225 1315h0M1194 1282h0M1248 1277h0M1275 1294h0M1219 1316h0M1344 1183h0M1248 1334h0M1277 1243h0M1316 1241h0M1276 1237h0M1327 1199h0M1237 1306h0M1293 1134h0M1309 1205h0M1395 1170h0M1324 1268h0M1376 1210h0M1277 1304h0M1263 1293h0M1393 1190h0M1200 1300h0M1406 1152h0M1331 1218h0M1177 1275h0M1183 1202h0M1210 1276h0M1388 1127h0M1296 1254h0M1185 1286h0M1387 1182h0M1242 1238h0M1174 1232h0M1338 1190h0M1276 1304h0M1289 1134h0M1301 1282h0M1200 1188h0M1238 1267h0M1312 1315h0M1329 1169h0M1275 1299h0M1227 1159h0M1294 1143h0M1323 1162h0M1286 1106h0M1226 1330h0M1292 1167h0M1340 1221h0M1197 1253h0M1347 1219h0M1310 1292h0M1276 1152h0M1345 1147h0M1233 1226h0M1345 1207h0M1268 1282h0M1388 1167h0M1320 1294h0M1282 1203h0M1228 1320h0M1259 1231h0M1295 1225h0M1220 1196h0M1238 1308h0M1338 1116h0M1291 1334h0M1266 1184h0M1249 1248h0M1331 1213h0M1418 1208h0M1405 1184h0" stroke="#def3a8" stroke-width="5.2" stroke-linecap="round" fill="none" opacity="0.92"/>
<path d="M1301 1145h0M1302 1112h0M1331 1120h0M1170 1249h0M1347 1111h0M1365 1158h0M1347 1216h0M1408 1149h0M1192 1229h0M1330 1179h0M1253 1266h0M1226 1338h0M1303 1260h0M1268 1124h0M1352 1106h0M1408 1158h0M1270 1143h0M1251 1311h0M1365 1156h0M1213 1251h0M1325 1291h0M1360 1260h0M1364 1130h0M1205 1263h0M1226 1131h0M1325 1104h0M1251 1218h0M1228 1192h0M1292 1289h0M1261 1292h0M1391 1177h0M1387 1196h0M1261 1119h0M1311 1101h0M1358 1110h0M1376 1185h0M1307 1209h0M1169 1270h0M1239 1307h0M1303 1118h0M1346 1154h0M1295 1256h0M1221 1145h0M1167 1279h0M1278 1343h0M1229 1275h0M1166 1227h0M1259 1341h0M1267 1111h0M1352 1101h0M1269 1164h0M1395 1161h0M1206 1262h0M1260 1216h0M1304 1150h0M1312 1116h0M1218 1253h0M1320 1315h0M1422 1168h0M1416 1187h0M1286 1295h0M1335 1112h0M1310 1152h0M1213 1319h0M1248 1204h0M1194 1243h0M1288 1240h0M1261 1191h0M1174 1274h0M1325 1209h0M1238 1230h0M1300 1171h0M1221 1137h0M1405 1142h0M1248 1143h0M1218 1123h0M1267 1320h0M1261 1274h0M1297 1078h0M1215 1147h0M1361 1107h0M1192 1307h0M1334 1245h0M1395 1160h0" stroke="#ef8920" stroke-width="5.2" stroke-linecap="round" fill="none" opacity="0.92"/>
<path d="M1381 1197h0M1328 1233h0M1293 1229h0M1175 1248h0M1241 1149h0M1218 1326h0M1274 1180h0M1301 1116h0M1413 1207h0M1254 1259h0M1310 1170h0M1248 1289h0M1312 1301h0M1244 1130h0M1334 1244h0M1214 1243h0M1373 1160h0M1290 1157h0M1414 1202h0M1369 1228h0M1227 1143h0M1267 1212h0M1283 1230h0M1344 1190h0M1272 1321h0M1191 1185h0M1198 1179h0M1320 1173h0M1285 1178h0M1379 1136h0M1298 1280h0M1200 1266h0M1223 1285h0M1366 1244h0M1179 1210h0M1227 1169h0M1216 1242h0M1372 1209h0M1243 1249h0M1219 1146h0M1259 1296h0M1352 1271h0M1196 1249h0M1247 1125h0M1334 1272h0M1351 1153h0M1418 1200h0M1204 1156h0M1220 1192h0M1200 1325h0M1309 1309h0M1238 1235h0M1292 1198h0M1382 1241h0M1303 1165h0M1290 1168h0M1315 1212h0M1288 1134h0M1276 1203h0M1228 1137h0M1253 1289h0M1370 1258h0M1329 1177h0M1373 1141h0" stroke="#139db7" stroke-width="5.2" stroke-linecap="round" fill="none" opacity="0.92"/>
<path d="M1221 1330h0M1311 1136h0M1346 1108h0M1267 1177h0M1333 1110h0M1345 1163h0M1364 1122h0M1298 1249h0M1273 1285h0M1286 1109h0M1372 1210h0M1350 1209h0M1218 1207h0M1336 1136h0M1285 1339h0M1267 1244h0M1314 1283h0M1391 1240h0M1244 1339h0M1243 1327h0M1308 1140h0M1344 1146h0M1358 1215h0M1177 1305h0M1184 1212h0M1329 1098h0M1303 1253h0M1227 1259h0M1316 1162h0M1246 1279h0M1327 1119h0M1296 1222h0M1332 1245h0M1336 1126h0M1218 1324h0M1327 1097h0M1340 1243h0" stroke="#d75530" stroke-width="5.2" stroke-linecap="round" fill="none" opacity="0.92"/>
<path d="M1239 1149h0M1218 1269h0M1267 1322h0M1332 1139h0M1379 1217h0M1188 1239h0M1322 1185h0M1325 1167h0M1311 1328h0M1305 1211h0M1212 1203h0M1259 1266h0M1291 1173h0M1362 1145h0M1301 1317h0M1228 1273h0M1232 1154h0M1220 1288h0M1386 1143h0M1185 1212h0M1246 1253h0M1308 1222h0M1286 1310h0M1292 1309h0M1220 1230h0M1286 1236h0M1396 1200h0M1368 1142h0M1176 1261h0M1279 1292h0M1394 1237h0M1359 1142h0M1302 1309h0M1285 1310h0M1265 1142h0M1302 1307h0M1283 1107h0M1242 1252h0M1266 1226h0M1339 1248h0M1387 1187h0M1237 1217h0M1249 1194h0M1204 1331h0M1383 1167h0M1384 1209h0M1169 1298h0M1378 1147h0M1226 1229h0M1389 1152h0M1298 1340h0M1413 1159h0M1356 1122h0M1254 1204h0M1312 1115h0M1408 1164h0M1236 1285h0M1374 1254h0M1293 1330h0M1309 1309h0M1286 1316h0M1344 1235h0M1337 1297h0M1318 1283h0" stroke="#fad27a" stroke-width="5.2" stroke-linecap="round" fill="none" opacity="0.92"/>
<path d="M1330 1208h0M1361 1233h0M1353 1231h0M1414 1170h0M1286 1161h0M1269 1189h0M1284 1193h0M1326 1100h0" stroke="#5059a6" stroke-width="5.2" stroke-linecap="round" fill="none" opacity="0.92"/>
<path d="M1245 1283h0M1331 1180h0M1271 1167h0M1261 1243h0M1260 1300h0M1222 1190h0M1288 1277h0M1290 1230h0M1248 1176h0M1329 1267h0M1185 1199h0M1277 1111h0M1324 1246h0M1406 1161h0M1323 1239h0M1317 1227h0M1203 1198h0M1311 1164h0M1281 1305h0M1252 1181h0M1383 1227h0M1249 1165h0M1277 1186h0M1274 1247h0M1237 1238h0M1241 1327h0M1276 1194h0M1189 1321h0M1207 1195h0M1279 1202h0M1294 1222h0M1322 1103h0M1239 1211h0M1297 1154h0M1308 1277h0M1312 1181h0M1242 1315h0M1309 1307h0M1355 1231h0M1229 1275h0M1295 1279h0M1232 1335h0M1328 1256h0M1276 1183h0M1259 1296h0M1233 1313h0M1259 1237h0M1258 1210h0M1171 1224h0M1208 1255h0M1255 1126h0M1379 1180h0M1227 1294h0M1252 1257h0M1238 1229h0M1339 1177h0M1236 1259h0M1173 1238h0M1226 1292h0M1290 1299h0" stroke="#9ae2a8" stroke-width="5.2" stroke-linecap="round" fill="none" opacity="0.92"/>
<path d="M1282 1268h0M1252 1183h0M1313 1230h0M1374 1250h0M1195 1298h0M1204 1163h0M1345 1243h0M1232 1148h0M1388 1206h0M1383 1218h0M1264 1237h0M1319 1241h0M1277 1139h0M1282 1214h0M1351 1162h0M1297 1201h0M1247 1305h0M1264 1340h0M1181 1252h0M1212 1225h0M1270 1158h0M1343 1227h0M1384 1179h0M1199 1198h0M1295 1217h0M1327 1276h0M1172 1239h0M1246 1287h0M1231 1274h0M1269 1219h0" stroke="#3c6daf" stroke-width="5.2" stroke-linecap="round" fill="none" opacity="0.92"/>
<path d="M1295 1229h0M1243 1134h0M1212 1291h0M1211 1217h0M1227 1303h0M1290 1298h0M1241 1244h0M1362 1242h0M1254 1196h0M1208 1244h0M1255 1341h0M1208 1202h0M1199 1200h0M1229 1148h0M1270 1189h0M1256 1217h0M1288 1306h0M1249 1128h0M1168 1249h0M1355 1184h0M1386 1168h0M1356 1225h0M1383 1137h0M1309 1270h0M1333 1116h0M1294 1150h0M1407 1174h0M1334 1104h0M1376 1217h0M1375 1164h0M1239 1327h0M1243 1265h0M1270 1337h0M1362 1234h0M1327 1147h0M1311 1121h0M1337 1220h0M1304 1248h0M1294 1297h0M1281 1273h0M1181 1230h0M1217 1313h0M1361 1228h0M1238 1327h0M1347 1188h0M1265 1223h0M1380 1179h0M1336 1186h0M1324 1190h0M1355 1254h0M1230 1164h0M1273 1287h0M1366 1145h0M1297 1271h0M1176 1262h0M1335 1207h0M1363 1281h0M1376 1119h0M1295 1276h0M1201 1262h0M1232 1244h0M1398 1166h0M1340 1182h0M1369 1170h0M1226 1154h0M1256 1215h0M1409 1186h0M1251 1305h0M1336 1175h0M1227 1318h0M1298 1142h0M1350 1185h0M1250 1241h0M1370 1254h0M1256 1295h0M1300 1166h0M1209 1189h0M1371 1229h0" stroke="#c0eca7" stroke-width="5.2" stroke-linecap="round" fill="none" opacity="0.92"/>
<path d="M1382 1151h0M1386 1186h0M1334 1210h0M1205 1210h0M1269 1323h0M1236 1256h0M1179 1280h0M1363 1184h0M1363 1264h0M1307 1208h0M1276 1201h0M1304 1144h0M1176 1232h0M1246 1247h0M1250 1220h0M1227 1304h0M1263 1184h0M1284 1195h0M1257 1212h0M1249 1252h0M1298 1109h0M1337 1171h0M1263 1209h0M1195 1204h0M1283 1258h0M1327 1157h0M1265 1282h0M1395 1184h0M1273 1200h0M1222 1127h0" stroke="#1b86b7" stroke-width="5.2" stroke-linecap="round" fill="none" opacity="0.92"/>
<path d="M1186 1290h0M1171 1223h0M1248 1334h0M1211 1307h0M1266 1177h0M1300 1097h0M1336 1243h0M1284 1221h0M1351 1122h0M1298 1154h0M1288 1180h0M1390 1217h0M1325 1209h0M1280 1265h0M1320 1234h0M1239 1252h0M1354 1121h0M1249 1245h0M1354 1111h0M1187 1278h0M1230 1296h0M1320 1251h0M1257 1308h0M1302 1235h0M1389 1135h0M1355 1257h0M1298 1303h0M1330 1271h0M1358 1187h0M1191 1300h0M1212 1308h0M1177 1208h0M1305 1119h0M1322 1123h0M1255 1142h0M1282 1312h0M1296 1113h0M1317 1282h0M1395 1158h0M1307 1128h0M1272 1139h0M1204 1190h0M1206 1270h0M1284 1242h0M1265 1288h0M1290 1116h0M1364 1172h0M1351 1215h0M1367 1119h0M1353 1234h0M1271 1115h0M1359 1260h0M1351 1214h0M1196 1221h0M1235 1152h0M1389 1155h0M1237 1323h0M1260 1264h0M1277 1125h0M1385 1223h0M1184 1226h0M1210 1324h0M1261 1212h0M1317 1317h0M1299 1136h0M1307 1111h0M1269 1285h0M1337 1180h0M1236 1281h0M1300 1267h0M1165 1260h0M1196 1283h0M1248 1273h0M1225 1280h0M1270 1247h0M1228 1237h0M1349 1117h0M1388 1172h0M1265 1302h0M1340 1184h0M1214 1308h0M1254 1155h0M1209 1324h0M1372 1112h0M1247 1190h0M1310 1332h0M1361 1240h0M1329 1113h0M1289 1298h0M1223 1265h0M1302 1300h0M1289 1123h0M1373 1161h0M1330 1190h0M1264 1328h0M1422 1175h0M1238 1247h0M1360 1109h0M1254 1230h0M1243 1236h0M1282 1242h0M1263 1186h0M1329 1191h0M1220 1315h0M1273 1322h0M1267 1318h0M1201 1328h0M1255 1184h0M1345 1278h0M1350 1110h0M1278 1223h0M1223 1192h0M1384 1150h0M1255 1298h0M1254 1136h0M1248 1182h0M1311 1256h0M1214 1332h0M1210 1296h0M1259 1318h0M1285 1115h0M1375 1147h0M1185 1293h0M1339 1289h0M1181 1218h0" stroke="#f4a33c" stroke-width="5.2" stroke-linecap="round" fill="none" opacity="0.92"/>
<path d="M1330 1097h0M1255 1143h0M1355 1143h0M1381 1119h0M1383 1139h0M1372 1111h0M1346 1111h0M1233 1128h0M1323 1245h0M1277 1289h0M1238 1132h0M1327 1150h0M1289 1252h0M1361 1118h0M1358 1110h0M1328 1289h0M1256 1280h0M1341 1146h0M1296 1150h0M1295 1309h0M1233 1315h0M1251 1165h0M1203 1204h0M1245 1285h0" stroke="#ad2347" stroke-width="5.2" stroke-linecap="round" fill="none" opacity="0.92"/>
<path d="M1266 1149h0M1343 1179h0M1302 1146h0M1323 1110h0M1293 1284h0M1236 1273h0M1210 1306h0M1339 1136h0M1295 1233h0M1205 1275h0M1397 1158h0M1220 1287h0M1415 1186h0M1243 1234h0M1278 1146h0M1335 1270h0M1240 1335h0M1204 1329h0M1302 1135h0M1176 1260h0M1322 1127h0M1193 1235h0M1365 1111h0M1342 1272h0M1220 1327h0M1334 1296h0M1371 1142h0M1299 1095h0M1337 1105h0M1271 1242h0M1238 1250h0M1306 1123h0M1285 1292h0M1345 1160h0M1213 1301h0" stroke="#e56f27" stroke-width="5.2" stroke-linecap="round" fill="none" opacity="0.92"/>
<path d="M1239 1249h0M1312 1327h0M1194 1319h0M1408 1195h0M1206 1169h0M1411 1207h0M1326 1110h0M1372 1151h0M1285 1261h0M1358 1198h0M1320 1249h0M1256 1340h0M1184 1256h0M1201 1170h0M1175 1221h0M1243 1288h0M1221 1224h0M1228 1282h0M1349 1294h0M1399 1193h0M1274 1202h0M1333 1145h0M1270 1192h0M1256 1145h0M1387 1137h0M1348 1252h0M1237 1307h0M1325 1244h0M1326 1112h0M1240 1114h0M1269 1221h0M1179 1252h0M1270 1194h0M1320 1288h0M1310 1277h0M1368 1252h0M1181 1269h0M1235 1174h0M1285 1264h0M1227 1322h0M1327 1105h0M1369 1123h0M1229 1284h0M1299 1206h0M1218 1145h0M1347 1234h0M1355 1145h0M1315 1284h0M1250 1326h0M1301 1154h0M1403 1190h0M1240 1128h0M1178 1260h0M1238 1241h0M1341 1274h0M1263 1324h0M1344 1176h0M1337 1219h0M1229 1163h0M1329 1213h0M1378 1268h0M1308 1230h0M1323 1182h0M1398 1170h0M1210 1220h0M1194 1207h0M1271 1277h0M1365 1228h0M1230 1329h0M1363 1222h0M1328 1274h0M1285 1207h0M1199 1279h0M1296 1204h0M1244 1280h0M1245 1329h0M1203 1328h0M1331 1189h0M1307 1103h0M1197 1314h0M1353 1177h0M1304 1214h0" stroke="#f1f0a4" stroke-width="5.2" stroke-linecap="round" fill="none" opacity="0.92"/>
<path d="M1238 1283h0M1421 1206h0M1380 1205h0M1375 1185h0M1263 1180h0M1349 1214h0M1264 1250h0M1222 1153h0M1212 1192h0M1193 1207h0M1381 1248h0M1365 1174h0M1313 1284h0M1305 1151h0M1346 1238h0M1304 1301h0M1330 1166h0M1354 1169h0M1314 1185h0M1254 1137h0M1385 1241h0M1247 1126h0M1258 1130h0M1348 1187h0M1314 1193h0M1177 1252h0M1300 1156h0M1318 1196h0M1377 1188h0M1211 1248h0M1405 1182h0M1329 1208h0M1194 1318h0M1159 1263h0M1264 1143h0M1224 1153h0M1353 1187h0M1191 1300h0M1424 1178h0M1246 1333h0M1306 1147h0M1185 1241h0M1309 1298h0M1361 1208h0M1226 1138h0M1420 1173h0M1387 1243h0M1197 1271h0M1232 1177h0M1212 1178h0M1344 1243h0M1282 1257h0M1217 1204h0M1314 1189h0M1390 1206h0M1226 1194h0M1247 1284h0M1205 1211h0M1328 1208h0M1339 1227h0M1395 1166h0M1335 1207h0M1250 1214h0M1230 1177h0M1311 1272h0M1303 1265h0M1268 1245h0M1225 1137h0M1242 1138h0M1350 1278h0M1266 1292h0M1211 1288h0M1280 1289h0M1254 1146h0M1278 1130h0M1217 1136h0M1301 1229h0M1295 1226h0M1259 1179h0M1365 1194h0M1232 1141h0M1282 1281h0M1246 1319h0M1285 1250h0M1240 1266h0M1290 1167h0M1212 1149h0M1188 1258h0M1335 1278h0M1275 1285h0M1298 1306h0M1256 1226h0M1209 1214h0M1259 1213h0M1407 1192h0M1184 1280h0M1192 1318h0M1298 1243h0M1202 1165h0M1292 1192h0M1253 1161h0M1405 1183h0M1303 1306h0M1195 1325h0M1348 1175h0M1217 1148h0M1208 1146h0M1294 1246h0M1326 1222h0" stroke="#1db2b4" stroke-width="5.2" stroke-linecap="round" fill="none" opacity="0.92"/>
<path d="M1254 1245h0M1268 1274h0M1329 1108h0M1213 1312h0M1415 1170h0M1224 1192h0M1280 1227h0M1231 1145h0M1245 1150h0M1316 1105h0M1239 1342h0M1299 1259h0M1272 1166h0M1324 1256h0M1245 1273h0M1252 1226h0M1267 1333h0M1333 1105h0M1304 1326h0M1247 1283h0M1234 1324h0M1310 1255h0M1341 1109h0M1363 1206h0M1413 1205h0M1312 1161h0M1340 1165h0M1381 1113h0M1253 1225h0M1305 1127h0M1334 1244h0M1256 1145h0M1280 1272h0M1350 1267h0M1303 1322h0M1293 1111h0M1232 1202h0M1254 1215h0M1382 1250h0M1200 1244h0M1376 1118h0" stroke="#fad27a" stroke-width="5.2" stroke-linecap="round" fill="none" opacity="0.92"/>
<path d="M1325 1235h0M1202 1260h0M1239 1150h0M1417 1191h0M1409 1172h0M1363 1219h0M1201 1322h0M1269 1222h0M1371 1179h0M1344 1241h0M1245 1243h0M1275 1191h0M1296 1225h0M1272 1165h0M1376 1174h0M1207 1214h0M1310 1133h0M1189 1233h0M1270 1288h0M1339 1223h0M1360 1180h0M1266 1250h0M1258 1142h0M1365 1166h0M1375 1216h0M1206 1258h0M1325 1300h0M1314 1262h0M1252 1308h0M1389 1209h0M1294 1334h0M1318 1227h0M1254 1173h0M1355 1257h0M1244 1294h0M1268 1107h0M1298 1221h0M1338 1207h0M1382 1208h0M1310 1274h0M1392 1203h0M1271 1189h0M1247 1200h0M1173 1271h0M1391 1154h0M1222 1141h0M1400 1165h0M1209 1298h0M1221 1272h0M1254 1206h0M1250 1232h0M1328 1167h0M1253 1211h0M1347 1285h0M1247 1308h0M1284 1215h0M1363 1235h0M1347 1282h0M1281 1214h0M1197 1254h0M1180 1247h0M1353 1224h0M1253 1145h0M1173 1274h0M1330 1221h0M1282 1167h0M1284 1209h0M1168 1285h0M1266 1272h0M1257 1278h0M1198 1321h0M1340 1301h0M1261 1117h0M1292 1103h0" stroke="#9ae2a8" stroke-width="5.2" stroke-linecap="round" fill="none" opacity="0.92"/>
<path d="M1187 1205h0M1335 1227h0M1393 1190h0M1283 1124h0M1289 1227h0M1231 1162h0M1364 1209h0M1215 1206h0M1305 1171h0M1230 1300h0M1258 1292h0M1165 1286h0M1357 1205h0M1250 1254h0M1326 1219h0M1245 1329h0M1338 1229h0M1229 1157h0M1262 1160h0M1234 1154h0M1286 1245h0M1370 1244h0M1311 1135h0M1363 1223h0M1294 1277h0M1293 1282h0M1368 1230h0M1308 1298h0M1393 1189h0M1207 1206h0M1275 1199h0M1300 1220h0M1367 1234h0M1250 1343h0M1312 1217h0M1325 1250h0M1316 1113h0M1221 1195h0M1336 1175h0M1324 1250h0M1219 1187h0M1346 1262h0M1222 1301h0M1272 1181h0M1230 1185h0M1287 1238h0M1254 1248h0M1300 1290h0M1287 1264h0M1376 1205h0M1231 1280h0M1223 1256h0M1252 1276h0M1323 1293h0M1385 1188h0M1252 1147h0M1246 1147h0M1290 1303h0" stroke="#139db7" stroke-width="5.2" stroke-linecap="round" fill="none" opacity="0.92"/>
<path d="M1281 1110h0M1366 1236h0M1382 1129h0M1191 1306h0M1254 1219h0M1322 1206h0M1206 1302h0M1386 1154h0M1361 1158h0M1353 1128h0M1235 1272h0M1338 1280h0M1346 1126h0M1259 1117h0M1358 1107h0M1251 1221h0M1249 1147h0M1403 1141h0M1252 1175h0M1248 1240h0M1289 1105h0M1367 1144h0M1315 1133h0M1399 1152h0M1296 1183h0M1336 1297h0M1357 1129h0" stroke="#d75530" stroke-width="5.2" stroke-linecap="round" fill="none" opacity="0.92"/>
<path d="M1250 1264h0M1264 1324h0M1296 1314h0M1332 1165h0M1296 1133h0M1393 1143h0M1399 1172h0M1346 1211h0M1319 1223h0M1320 1163h0M1338 1276h0M1228 1333h0M1341 1214h0M1309 1284h0M1344 1227h0M1171 1234h0M1287 1181h0M1219 1160h0M1178 1307h0M1301 1164h0M1381 1165h0M1333 1193h0" stroke="#3c6daf" stroke-width="5.2" stroke-linecap="round" fill="none" opacity="0.92"/>
<path d="M1295 1182h0M1350 1124h0M1311 1122h0M1372 1162h0M1351 1125h0M1313 1125h0M1307 1115h0M1279 1192h0M1219 1310h0M1279 1210h0M1347 1161h0M1319 1291h0M1252 1320h0M1309 1316h0M1391 1200h0M1299 1251h0M1309 1110h0M1174 1230h0M1170 1296h0M1352 1124h0M1261 1137h0M1360 1133h0M1414 1173h0M1320 1137h0M1389 1135h0M1335 1123h0M1356 1112h0M1171 1277h0" stroke="#ad2347" stroke-width="5.2" stroke-linecap="round" fill="none" opacity="0.92"/>
<path d="M1281 1164h0M1313 1111h0M1217 1212h0M1362 1245h0M1237 1279h0M1347 1129h0M1383 1144h0M1238 1325h0M1286 1324h0M1335 1156h0M1288 1164h0M1179 1264h0M1249 1227h0M1205 1286h0M1246 1283h0M1232 1285h0M1294 1095h0M1262 1230h0M1178 1250h0M1244 1231h0M1208 1266h0M1353 1112h0M1240 1152h0M1275 1190h0M1285 1253h0M1218 1244h0M1237 1277h0M1251 1163h0M1233 1313h0M1304 1329h0M1264 1230h0M1258 1269h0M1344 1123h0M1273 1138h0M1273 1301h0M1405 1142h0M1325 1099h0M1301 1282h0M1190 1309h0M1307 1137h0M1346 1126h0M1388 1155h0M1242 1202h0M1209 1148h0M1380 1159h0M1222 1312h0M1269 1324h0M1354 1271h0M1316 1300h0M1280 1115h0M1335 1105h0M1410 1182h0M1173 1278h0M1271 1280h0M1291 1220h0M1183 1275h0M1287 1216h0M1255 1273h0M1244 1289h0M1350 1268h0M1233 1320h0M1327 1148h0M1233 1245h0M1321 1102h0M1204 1261h0M1337 1111h0M1392 1151h0M1255 1300h0M1214 1143h0M1328 1246h0M1336 1109h0M1329 1112h0M1326 1252h0M1231 1277h0M1346 1255h0M1388 1174h0M1328 1100h0M1215 1327h0M1361 1261h0M1377 1192h0M1288 1207h0M1169 1266h0M1246 1256h0M1277 1143h0M1340 1149h0M1246 1284h0M1185 1279h0M1274 1311h0M1250 1267h0M1326 1132h0M1301 1113h0M1196 1249h0M1370 1240h0M1210 1265h0M1422 1166h0M1315 1240h0M1300 1249h0M1232 1292h0M1287 1245h0M1371 1124h0M1283 1309h0M1275 1331h0M1183 1293h0M1305 1257h0M1321 1186h0M1250 1116h0M1363 1123h0M1264 1288h0M1394 1152h0M1235 1285h0M1394 1155h0M1248 1288h0M1261 1244h0M1373 1129h0M1398 1162h0M1298 1296h0M1303 1221h0M1307 1264h0M1285 1324h0M1352 1109h0M1332 1275h0M1215 1221h0M1195 1341h0M1212 1223h0M1260 1318h0" stroke="#f4a33c" stroke-width="5.2" stroke-linecap="round" fill="none" opacity="0.92"/>
<path d="M1203 1289h0M1313 1173h0M1300 1270h0M1277 1297h0M1236 1122h0M1324 1098h0M1205 1146h0M1212 1209h0M1356 1125h0M1325 1151h0M1343 1153h0M1380 1124h0M1339 1220h0M1361 1121h0M1350 1238h0M1179 1235h0M1353 1138h0M1237 1113h0M1330 1143h0M1220 1207h0M1370 1153h0M1353 1134h0M1365 1202h0M1391 1157h0M1364 1255h0M1314 1166h0M1312 1126h0M1219 1312h0M1296 1260h0" stroke="#c63b3d" stroke-width="5.2" stroke-linecap="round" fill="none" opacity="0.92"/>
<path d="M1163 1248h0M1373 1135h0M1330 1274h0M1365 1221h0M1274 1222h0M1345 1189h0M1255 1243h0M1215 1182h0M1192 1225h0M1234 1326h0M1294 1169h0M1343 1193h0M1244 1140h0M1256 1192h0M1169 1282h0M1216 1141h0M1309 1326h0M1417 1195h0M1253 1173h0M1345 1126h0M1384 1244h0M1279 1226h0M1297 1257h0M1217 1200h0M1218 1269h0M1397 1178h0M1345 1209h0M1406 1166h0M1338 1204h0M1346 1116h0M1264 1142h0M1276 1124h0M1289 1114h0M1322 1271h0M1240 1243h0M1295 1084h0M1208 1218h0M1231 1326h0M1390 1191h0M1294 1107h0M1213 1240h0M1191 1300h0M1169 1284h0M1325 1146h0M1192 1320h0M1388 1241h0M1361 1148h0M1347 1250h0M1282 1117h0M1195 1214h0M1326 1217h0M1259 1196h0M1299 1119h0M1338 1218h0M1335 1140h0M1297 1117h0M1355 1160h0M1306 1279h0M1335 1174h0M1335 1095h0M1345 1267h0M1396 1182h0M1371 1171h0M1211 1212h0M1171 1281h0M1349 1272h0M1224 1272h0M1269 1336h0M1306 1240h0M1275 1323h0M1287 1236h0M1328 1261h0M1229 1324h0M1314 1310h0M1261 1231h0M1299 1252h0M1399 1152h0M1367 1229h0M1352 1118h0M1234 1156h0M1311 1160h0M1234 1118h0M1261 1252h0M1333 1209h0M1415 1179h0M1238 1335h0M1231 1315h0M1310 1262h0M1236 1121h0M1238 1246h0M1222 1124h0M1214 1303h0M1213 1206h0M1251 1138h0M1176 1253h0M1269 1263h0M1244 1273h0M1241 1268h0M1339 1281h0M1273 1309h0M1277 1114h0M1283 1267h0" stroke="#f7bb5c" stroke-width="5.2" stroke-linecap="round" fill="none" opacity="0.92"/>
<path d="M1211 1152h0M1391 1202h0M1377 1113h0M1380 1241h0M1369 1192h0M1414 1191h0M1223 1188h0M1299 1241h0M1327 1210h0M1272 1177h0M1383 1186h0M1218 1251h0M1226 1219h0M1330 1253h0M1298 1100h0M1379 1230h0M1316 1149h0M1354 1154h0M1267 1155h0M1248 1199h0M1333 1270h0M1189 1278h0M1248 1284h0M1240 1213h0M1351 1222h0M1208 1322h0M1378 1213h0M1301 1207h0M1224 1122h0M1351 1151h0M1269 1290h0M1190 1272h0M1171 1274h0M1176 1275h0M1402 1160h0M1262 1318h0M1222 1158h0M1301 1189h0M1253 1153h0M1191 1306h0M1188 1251h0M1296 1205h0M1308 1206h0M1402 1182h0M1342 1163h0M1302 1229h0M1303 1194h0M1334 1169h0M1313 1221h0M1322 1228h0M1266 1207h0M1367 1230h0M1161 1258h0M1319 1179h0M1243 1340h0M1352 1182h0M1289 1289h0M1345 1111h0M1165 1259h0M1416 1176h0M1370 1206h0M1243 1238h0M1374 1199h0M1223 1186h0M1347 1263h0M1392 1189h0M1295 1214h0M1337 1214h0M1309 1275h0M1204 1165h0M1294 1184h0M1306 1131h0M1241 1202h0M1183 1204h0M1370 1178h0M1279 1253h0M1216 1332h0M1279 1222h0M1227 1165h0M1198 1266h0M1269 1218h0M1215 1198h0M1317 1236h0M1279 1224h0M1314 1200h0M1190 1209h0M1184 1313h0M1229 1147h0M1244 1237h0M1289 1298h0M1224 1131h0M1178 1279h0M1232 1167h0M1305 1118h0M1254 1183h0M1224 1171h0M1401 1164h0M1324 1184h0M1269 1214h0M1274 1221h0" stroke="#3dc4af" stroke-width="5.2" stroke-linecap="round" fill="none" opacity="0.92"/>
<path d="M1258 1127h0M1252 1290h0M1319 1245h0M1217 1137h0M1406 1182h0M1257 1211h0M1352 1262h0M1379 1209h0M1334 1204h0M1387 1189h0M1252 1225h0M1376 1214h0M1273 1171h0M1404 1163h0M1301 1168h0M1303 1112h0M1356 1144h0M1296 1225h0M1288 1212h0M1280 1172h0M1212 1125h0M1217 1223h0M1264 1314h0M1235 1162h0M1245 1276h0M1252 1254h0M1331 1295h0M1175 1240h0M1296 1218h0M1284 1194h0M1289 1196h0M1389 1191h0M1302 1209h0M1340 1239h0M1246 1205h0M1296 1227h0M1232 1319h0M1232 1214h0M1182 1222h0M1317 1216h0M1321 1259h0M1285 1256h0M1360 1221h0M1239 1342h0" stroke="#1b86b7" stroke-width="5.2" stroke-linecap="round" fill="none" opacity="0.92"/>
<path d="M1342 1184h0M1289 1197h0M1355 1119h0M1263 1271h0M1289 1329h0M1391 1166h0M1262 1161h0M1291 1256h0M1257 1172h0M1336 1261h0" stroke="#5059a6" stroke-width="5.2" stroke-linecap="round" fill="none" opacity="0.92"/>
<path d="M1258 1161h0M1288 1172h0M1234 1294h0M1350 1110h0M1262 1118h0M1307 1285h0M1234 1276h0M1249 1308h0M1175 1218h0M1339 1286h0M1277 1295h0M1395 1160h0M1339 1275h0M1328 1274h0M1224 1247h0M1215 1176h0M1351 1170h0M1312 1219h0M1234 1221h0M1298 1236h0M1324 1182h0M1205 1149h0M1379 1111h0M1208 1149h0M1281 1294h0M1205 1299h0M1394 1186h0M1171 1270h0M1292 1161h0M1375 1178h0M1280 1315h0M1297 1271h0M1347 1236h0M1301 1223h0M1259 1238h0M1332 1152h0M1233 1150h0M1216 1258h0M1311 1175h0M1284 1134h0M1217 1316h0M1342 1204h0M1248 1157h0M1242 1255h0M1191 1311h0M1327 1268h0M1260 1185h0M1234 1294h0M1255 1131h0M1261 1129h0M1268 1190h0M1327 1273h0M1238 1224h0M1199 1245h0M1286 1131h0M1273 1128h0M1252 1288h0M1275 1222h0M1274 1170h0M1375 1169h0M1278 1328h0M1195 1199h0M1294 1265h0M1327 1192h0M1297 1144h0M1196 1241h0M1240 1332h0M1286 1208h0M1206 1220h0M1174 1246h0M1304 1222h0M1334 1213h0M1300 1141h0M1283 1294h0M1258 1173h0M1215 1242h0M1214 1307h0M1165 1292h0M1364 1241h0M1231 1295h0M1412 1209h0" stroke="#c0eca7" stroke-width="5.2" stroke-linecap="round" fill="none" opacity="0.92"/>
<path d="M1208 1324h0M1335 1268h0M1232 1328h0M1215 1240h0M1318 1116h0M1269 1224h0M1323 1244h0M1336 1106h0M1286 1133h0M1289 1264h0M1240 1328h0M1327 1275h0M1322 1278h0M1245 1168h0M1192 1290h0M1287 1251h0M1232 1347h0M1192 1257h0M1320 1138h0M1303 1110h0M1358 1102h0M1315 1228h0M1234 1235h0M1263 1170h0M1190 1311h0M1356 1222h0M1270 1294h0M1306 1256h0M1424 1187h0M1286 1306h0M1383 1146h0M1167 1247h0M1167 1244h0M1233 1327h0M1346 1276h0M1192 1314h0M1348 1217h0M1257 1313h0M1298 1111h0M1269 1131h0M1367 1174h0M1378 1136h0M1186 1296h0M1318 1254h0M1349 1272h0M1258 1338h0M1254 1245h0M1301 1192h0M1264 1294h0M1273 1233h0M1300 1123h0M1380 1111h0M1301 1243h0M1216 1259h0M1285 1173h0M1236 1136h0M1236 1233h0M1386 1154h0M1213 1304h0M1239 1205h0M1287 1082h0M1293 1150h0M1270 1192h0M1227 1132h0M1255 1296h0M1242 1218h0M1226 1126h0M1195 1276h0M1342 1127h0M1253 1264h0M1262 1165h0M1314 1298h0M1257 1343h0M1253 1304h0M1309 1253h0M1260 1276h0M1235 1313h0M1242 1204h0M1265 1317h0M1308 1105h0M1304 1263h0M1246 1293h0M1256 1289h0M1389 1132h0M1423 1162h0M1274 1199h0M1307 1331h0M1306 1156h0" stroke="#ef8920" stroke-width="5.2" stroke-linecap="round" fill="none" opacity="0.92"/>
<path d="M1208 1149h0M1373 1130h0M1265 1134h0M1282 1302h0M1267 1219h0M1291 1261h0M1234 1334h0M1248 1150h0M1329 1288h0M1272 1238h0M1321 1147h0M1350 1110h0M1181 1244h0M1290 1098h0M1250 1285h0M1262 1222h0M1305 1271h0M1304 1303h0M1211 1140h0M1326 1196h0M1189 1199h0M1403 1238h0M1400 1143h0M1234 1212h0M1326 1288h0M1299 1243h0M1289 1178h0M1248 1279h0M1412 1208h0M1206 1311h0M1277 1325h0M1193 1219h0M1404 1168h0M1240 1277h0M1166 1283h0M1358 1199h0M1285 1090h0M1421 1184h0M1280 1166h0M1249 1245h0M1254 1120h0M1223 1206h0M1274 1286h0M1272 1272h0M1344 1188h0M1270 1250h0M1215 1223h0M1201 1286h0M1204 1201h0M1360 1208h0M1241 1224h0M1350 1168h0M1303 1237h0M1238 1281h0M1215 1213h0M1334 1251h0M1340 1166h0M1253 1205h0M1269 1217h0M1190 1216h0M1258 1123h0M1218 1288h0M1404 1218h0M1185 1281h0M1438 1194h0M1251 1187h0M1348 1223h0M1398 1196h0M1275 1287h0M1344 1237h0M1288 1230h0M1333 1226h0M1312 1271h0M1192 1213h0M1342 1176h0M1343 1218h0M1301 1197h0M1274 1288h0M1371 1213h0M1262 1252h0M1210 1263h0M1369 1203h0M1304 1174h0M1224 1191h0M1246 1254h0M1323 1180h0M1263 1205h0M1275 1300h0M1280 1265h0M1323 1252h0M1294 1226h0M1321 1212h0M1299 1118h0M1318 1296h0M1218 1314h0M1259 1274h0M1239 1233h0M1351 1215h0M1358 1167h0M1222 1182h0M1385 1173h0M1251 1217h0M1207 1268h0M1317 1297h0M1205 1325h0M1366 1121h0M1314 1120h0M1264 1252h0M1398 1163h0" stroke="#def3a8" stroke-width="5.2" stroke-linecap="round" fill="none" opacity="0.92"/>
<path d="M1342 1249h0M1376 1243h0M1398 1197h0M1242 1226h0M1205 1254h0M1354 1264h0M1233 1327h0M1333 1224h0M1373 1119h0M1278 1276h0M1245 1240h0M1218 1204h0M1233 1296h0M1218 1243h0M1321 1288h0M1254 1300h0M1158 1226h0M1428 1175h0M1324 1289h0M1211 1237h0M1344 1189h0M1275 1311h0M1211 1230h0M1252 1147h0M1172 1234h0M1346 1140h0M1284 1166h0M1322 1274h0M1192 1190h0M1187 1274h0M1355 1170h0M1216 1203h0M1307 1130h0M1248 1291h0M1260 1111h0M1176 1270h0M1315 1231h0M1258 1341h0M1292 1098h0M1317 1323h0M1312 1174h0M1275 1281h0M1358 1180h0M1222 1253h0M1257 1335h0M1316 1279h0M1349 1140h0M1288 1273h0M1304 1294h0M1313 1264h0M1214 1170h0M1286 1206h0M1198 1278h0M1363 1232h0M1325 1277h0M1257 1207h0M1233 1231h0M1175 1278h0M1212 1231h0M1354 1127h0" stroke="#fbe394" stroke-width="5.2" stroke-linecap="round" fill="none" opacity="0.92"/>
<path d="M1242 1230h0M1234 1319h0M1294 1163h0M1239 1152h0M1352 1223h0M1380 1204h0M1234 1184h0M1326 1253h0M1264 1279h0M1370 1216h0M1294 1312h0M1295 1218h0M1346 1240h0M1272 1172h0M1310 1148h0M1371 1147h0M1261 1133h0M1384 1104h0M1211 1248h0M1219 1148h0M1388 1168h0M1321 1271h0M1218 1142h0M1386 1238h0M1361 1227h0M1219 1147h0M1373 1174h0M1256 1207h0M1253 1150h0M1246 1203h0M1388 1177h0M1364 1220h0M1384 1250h0M1264 1269h0M1408 1182h0M1288 1250h0M1192 1311h0M1277 1304h0M1266 1182h0M1246 1248h0M1412 1187h0M1279 1310h0M1308 1209h0M1282 1304h0M1341 1128h0M1276 1245h0M1305 1308h0M1309 1195h0M1275 1210h0M1370 1217h0M1377 1143h0M1295 1171h0M1345 1215h0M1256 1150h0M1343 1253h0M1333 1206h0M1248 1133h0M1394 1168h0M1334 1209h0M1419 1170h0M1269 1239h0M1239 1328h0M1305 1141h0M1246 1165h0M1368 1268h0M1230 1207h0M1270 1168h0M1310 1250h0M1239 1260h0M1312 1309h0M1323 1319h0M1199 1202h0M1311 1314h0M1269 1328h0M1219 1207h0M1287 1215h0M1311 1197h0M1241 1203h0" stroke="#6ad3ad" stroke-width="5.2" stroke-linecap="round" fill="none" opacity="0.92"/>
<path d="M1263 1112h0M1314 1230h0M1204 1231h0M1271 1160h0M1370 1249h0M1385 1239h0M1325 1112h0M1340 1134h0M1236 1262h0M1327 1241h0M1268 1232h0M1304 1253h0M1251 1163h0M1225 1178h0M1314 1143h0M1278 1113h0M1252 1269h0M1221 1142h0M1232 1127h0M1337 1117h0M1286 1260h0M1311 1326h0M1323 1293h0M1178 1273h0M1305 1261h0M1326 1171h0M1226 1338h0M1224 1152h0M1221 1230h0M1313 1317h0M1380 1121h0M1347 1124h0M1280 1171h0M1264 1321h0M1250 1340h0M1379 1200h0M1323 1120h0M1409 1205h0M1268 1125h0M1277 1337h0" stroke="#e56f27" stroke-width="5.2" stroke-linecap="round" fill="none" opacity="0.92"/>
<path d="M1308 1294h0M1211 1300h0M1262 1218h0M1304 1111h0M1234 1269h0M1298 1173h0M1235 1292h0M1192 1301h0M1212 1140h0M1223 1210h0M1377 1171h0M1277 1175h0M1280 1227h0M1273 1192h0M1308 1216h0M1168 1249h0M1189 1212h0M1259 1327h0M1315 1306h0M1247 1282h0M1277 1339h0M1214 1242h0M1309 1187h0M1262 1137h0M1192 1319h0M1323 1169h0M1283 1228h0M1252 1328h0M1208 1304h0M1338 1194h0M1294 1295h0M1406 1207h0M1264 1162h0M1253 1294h0M1288 1100h0M1339 1107h0M1366 1128h0M1197 1184h0M1340 1287h0M1225 1159h0M1269 1115h0M1295 1338h0M1309 1160h0M1224 1129h0M1295 1186h0M1296 1288h0M1270 1129h0M1347 1098h0M1299 1144h0M1197 1306h0M1169 1259h0M1307 1145h0M1264 1306h0M1379 1216h0M1244 1282h0M1364 1127h0M1302 1266h0M1298 1282h0M1168 1232h0M1174 1242h0M1224 1281h0M1290 1308h0M1352 1116h0M1222 1162h0M1266 1254h0M1416 1156h0M1231 1168h0M1317 1163h0M1282 1266h0M1266 1142h0M1330 1134h0M1320 1219h0M1345 1107h0M1383 1207h0M1266 1268h0M1310 1197h0M1209 1291h0M1320 1144h0M1192 1294h0M1240 1261h0M1299 1278h0M1324 1275h0M1296 1249h0" stroke="#ef8920" stroke-width="5.2" stroke-linecap="round" fill="none" opacity="0.92"/>
<path d="M1294 1244h0M1245 1327h0M1249 1292h0M1420 1179h0M1289 1254h0M1326 1232h0M1180 1249h0M1289 1172h0M1251 1262h0M1201 1204h0M1281 1261h0M1303 1134h0M1274 1159h0M1284 1110h0M1304 1273h0M1275 1205h0M1423 1186h0M1313 1303h0M1238 1204h0M1212 1186h0M1395 1176h0M1277 1112h0M1206 1208h0M1332 1247h0M1244 1275h0M1206 1309h0M1367 1262h0M1356 1141h0M1216 1132h0M1270 1190h0M1309 1211h0M1253 1156h0M1269 1236h0M1235 1263h0M1181 1240h0M1307 1293h0M1347 1264h0M1248 1202h0M1397 1179h0M1161 1266h0M1196 1300h0M1213 1203h0M1189 1217h0M1259 1236h0M1429 1175h0M1255 1192h0M1247 1221h0M1222 1216h0M1297 1230h0M1331 1289h0M1295 1131h0M1289 1209h0M1256 1199h0M1360 1268h0M1275 1148h0M1280 1168h0M1390 1142h0M1368 1164h0M1207 1145h0M1307 1310h0M1296 1278h0M1274 1182h0M1204 1260h0M1399 1172h0M1251 1127h0M1296 1249h0M1228 1172h0M1267 1133h0M1205 1252h0M1325 1316h0M1308 1208h0M1255 1124h0M1333 1140h0M1217 1177h0M1230 1120h0M1298 1141h0M1386 1239h0M1295 1083h0M1316 1307h0M1210 1297h0M1225 1249h0M1331 1178h0M1260 1273h0M1212 1219h0M1200 1211h0M1292 1229h0M1174 1259h0M1212 1255h0M1235 1124h0" stroke="#def3a8" stroke-width="5.2" stroke-linecap="round" fill="none" opacity="0.92"/>
<path d="M1212 1311h0M1235 1128h0M1375 1220h0M1361 1142h0M1289 1308h0M1234 1198h0M1273 1261h0M1238 1309h0M1344 1192h0M1172 1271h0M1235 1210h0M1347 1245h0M1183 1222h0M1247 1287h0M1391 1231h0M1276 1303h0M1371 1257h0M1385 1159h0M1219 1152h0M1423 1186h0M1170 1227h0M1397 1184h0M1255 1130h0M1321 1191h0M1352 1218h0M1269 1195h0M1206 1171h0M1267 1190h0M1372 1260h0M1372 1250h0M1413 1151h0M1237 1243h0M1330 1181h0M1287 1325h0M1253 1125h0M1179 1280h0M1208 1139h0M1192 1199h0M1193 1302h0M1404 1147h0M1374 1181h0M1208 1220h0M1289 1176h0M1234 1159h0M1339 1185h0M1241 1265h0M1203 1198h0M1405 1145h0M1180 1207h0M1353 1215h0M1209 1175h0M1291 1176h0M1268 1149h0M1313 1254h0M1213 1309h0M1216 1152h0M1231 1184h0M1205 1255h0M1275 1176h0M1209 1258h0M1241 1320h0M1273 1239h0M1248 1151h0M1370 1149h0M1284 1319h0M1291 1292h0M1299 1331h0M1357 1195h0M1163 1272h0M1209 1198h0M1183 1256h0M1383 1193h0M1320 1224h0M1275 1236h0M1409 1199h0M1259 1171h0M1218 1177h0M1302 1264h0M1347 1248h0M1261 1188h0" stroke="#6ad3ad" stroke-width="5.2" stroke-linecap="round" fill="none" opacity="0.92"/>
<path d="M1374 1184h0M1389 1233h0M1282 1303h0M1339 1167h0M1266 1193h0M1352 1233h0M1298 1232h0M1372 1211h0M1241 1199h0M1251 1296h0M1239 1271h0M1397 1168h0M1347 1282h0M1275 1161h0M1261 1239h0M1370 1229h0M1258 1181h0M1243 1306h0M1380 1207h0M1276 1342h0M1271 1294h0M1226 1276h0M1321 1306h0M1228 1131h0M1277 1238h0M1278 1330h0M1366 1173h0M1275 1110h0M1257 1212h0M1194 1223h0M1252 1160h0M1268 1153h0M1312 1168h0M1224 1327h0M1257 1250h0M1359 1218h0M1165 1267h0M1352 1211h0M1340 1168h0M1252 1130h0M1228 1143h0M1378 1236h0M1343 1213h0M1243 1281h0M1233 1249h0M1343 1223h0M1301 1265h0M1358 1235h0M1220 1237h0M1294 1171h0M1261 1109h0M1296 1269h0M1324 1230h0M1335 1182h0M1337 1170h0M1241 1189h0M1215 1253h0M1205 1288h0M1273 1314h0M1284 1165h0M1284 1251h0M1293 1223h0M1358 1108h0M1217 1280h0M1215 1172h0M1263 1227h0M1344 1213h0M1268 1151h0M1200 1203h0M1290 1172h0M1327 1128h0M1364 1115h0M1328 1200h0M1304 1306h0M1338 1218h0M1364 1167h0M1337 1109h0M1334 1224h0M1225 1157h0M1331 1221h0M1296 1244h0M1358 1275h0M1253 1213h0M1231 1314h0M1383 1141h0M1305 1294h0M1241 1282h0M1168 1251h0M1287 1260h0M1193 1322h0M1248 1147h0M1162 1261h0M1383 1182h0M1184 1209h0M1283 1166h0M1253 1152h0M1240 1275h0M1363 1221h0M1332 1216h0M1199 1184h0M1202 1201h0M1175 1278h0M1336 1188h0M1253 1327h0M1294 1270h0M1203 1312h0M1268 1119h0M1221 1124h0M1229 1235h0M1240 1325h0M1258 1298h0M1277 1105h0M1293 1311h0M1257 1298h0M1222 1189h0M1198 1198h0M1334 1225h0M1261 1188h0M1274 1185h0M1400 1197h0M1348 1177h0M1343 1228h0M1284 1282h0M1263 1186h0M1235 1170h0M1202 1173h0M1343 1209h0M1235 1212h0" stroke="#3dc4af" stroke-width="5.2" stroke-linecap="round" fill="none" opacity="0.92"/>
<path d="M1266 1333h0M1398 1180h0M1223 1306h0M1247 1251h0M1256 1154h0M1256 1345h0M1271 1129h0M1280 1292h0M1281 1301h0M1258 1167h0M1283 1220h0M1337 1245h0M1368 1180h0M1199 1280h0M1170 1238h0M1214 1221h0M1330 1251h0M1284 1326h0M1392 1175h0M1405 1162h0M1298 1246h0M1410 1167h0M1275 1183h0M1397 1208h0M1299 1210h0M1263 1278h0M1248 1198h0M1255 1269h0M1269 1328h0M1266 1214h0M1234 1289h0M1326 1274h0M1290 1311h0M1242 1215h0M1300 1291h0M1280 1306h0M1301 1142h0M1245 1174h0M1308 1299h0M1293 1103h0M1253 1221h0M1264 1301h0M1261 1198h0M1329 1135h0M1242 1329h0M1311 1260h0M1363 1220h0M1256 1249h0M1373 1210h0M1221 1305h0M1241 1266h0M1398 1168h0M1261 1278h0M1325 1185h0M1254 1287h0M1301 1290h0M1268 1329h0M1336 1205h0M1237 1312h0M1191 1264h0M1400 1168h0M1369 1124h0M1274 1244h0M1240 1268h0M1253 1128h0M1232 1334h0M1272 1193h0M1341 1212h0M1324 1202h0M1332 1288h0M1250 1298h0M1328 1184h0M1332 1113h0M1195 1243h0M1286 1267h0M1357 1233h0M1293 1166h0M1367 1213h0M1378 1214h0M1281 1313h0M1264 1295h0M1404 1199h0M1209 1186h0M1247 1279h0M1179 1258h0M1283 1174h0M1303 1256h0M1261 1285h0M1275 1295h0M1238 1261h0M1352 1126h0" stroke="#f1f0a4" stroke-width="5.2" stroke-linecap="round" fill="none" opacity="0.92"/>
<path d="M1241 1258h0M1170 1248h0M1323 1248h0M1288 1234h0M1221 1209h0M1294 1256h0M1267 1321h0M1357 1138h0M1260 1280h0M1339 1213h0M1263 1190h0M1365 1109h0M1229 1339h0M1383 1248h0M1242 1258h0M1271 1317h0M1267 1192h0M1343 1147h0M1191 1303h0M1323 1119h0M1332 1284h0M1224 1278h0M1276 1251h0M1300 1279h0M1222 1271h0M1243 1336h0M1286 1260h0M1251 1201h0M1221 1264h0M1264 1240h0M1258 1315h0M1341 1231h0M1216 1156h0M1264 1195h0M1194 1305h0M1322 1105h0M1289 1204h0M1348 1273h0M1301 1286h0M1344 1106h0M1303 1276h0M1274 1159h0M1288 1119h0M1293 1236h0M1198 1183h0M1371 1222h0M1341 1111h0M1208 1179h0M1242 1309h0M1276 1170h0M1298 1299h0M1263 1227h0M1243 1323h0M1361 1130h0M1351 1135h0M1325 1157h0M1388 1143h0M1320 1122h0M1363 1119h0M1325 1157h0M1428 1176h0M1312 1130h0M1255 1130h0M1318 1131h0M1239 1325h0M1317 1191h0M1366 1228h0M1276 1149h0M1164 1265h0M1256 1342h0M1330 1242h0M1303 1271h0M1221 1197h0M1410 1199h0M1383 1213h0M1321 1166h0M1260 1136h0M1393 1230h0M1205 1324h0M1176 1246h0M1245 1241h0M1171 1237h0M1237 1328h0M1219 1309h0M1381 1175h0M1213 1311h0M1209 1257h0M1311 1141h0M1172 1295h0M1353 1103h0M1381 1249h0M1360 1108h0M1350 1137h0M1235 1300h0M1261 1345h0M1239 1308h0M1275 1118h0M1251 1244h0M1216 1175h0M1199 1313h0M1211 1301h0M1236 1247h0M1218 1151h0M1326 1270h0M1234 1323h0M1338 1245h0M1390 1163h0M1233 1248h0M1288 1133h0M1263 1119h0M1250 1306h0M1204 1188h0M1215 1175h0M1303 1186h0M1203 1216h0M1307 1314h0M1260 1117h0M1336 1262h0M1211 1248h0M1297 1312h0M1379 1243h0M1283 1294h0M1357 1159h0M1202 1260h0M1302 1117h0M1256 1232h0M1359 1136h0M1239 1264h0M1223 1250h0M1248 1285h0M1332 1191h0M1347 1104h0M1263 1227h0M1203 1322h0M1337 1107h0M1196 1272h0M1213 1312h0M1307 1250h0M1361 1148h0M1299 1323h0M1251 1322h0M1321 1102h0M1306 1132h0M1378 1174h0" stroke="#f4a33c" stroke-width="5.2" stroke-linecap="round" fill="none" opacity="0.92"/>
<path d="M1349 1175h0M1280 1194h0M1208 1208h0M1382 1169h0" stroke="#5059a6" stroke-width="5.2" stroke-linecap="round" fill="none" opacity="0.92"/>
<path d="M1206 1180h0M1283 1202h0M1368 1128h0M1333 1150h0M1189 1301h0M1334 1114h0M1378 1143h0M1417 1185h0M1257 1296h0M1165 1267h0M1404 1201h0M1322 1124h0M1315 1254h0M1353 1125h0M1322 1215h0M1198 1240h0M1371 1259h0M1286 1327h0M1205 1320h0M1346 1271h0M1328 1124h0M1356 1215h0M1400 1214h0M1322 1239h0M1271 1294h0M1243 1250h0M1325 1101h0M1204 1264h0M1251 1125h0M1364 1222h0M1383 1137h0M1337 1157h0M1386 1247h0" stroke="#d75530" stroke-width="5.2" stroke-linecap="round" fill="none" opacity="0.92"/>
<path d="M1386 1207h0M1352 1251h0M1380 1126h0M1397 1138h0M1323 1289h0M1216 1238h0M1336 1120h0M1337 1290h0M1293 1315h0M1198 1316h0M1232 1323h0M1178 1254h0M1230 1308h0M1362 1127h0M1347 1124h0M1326 1149h0M1318 1142h0M1339 1255h0M1278 1344h0M1285 1292h0M1368 1119h0M1295 1124h0M1341 1284h0M1371 1109h0M1405 1208h0M1345 1106h0M1234 1328h0M1350 1109h0M1340 1131h0M1331 1142h0M1358 1114h0M1307 1155h0M1234 1149h0" stroke="#c63b3d" stroke-width="5.2" stroke-linecap="round" fill="none" opacity="0.92"/>
<path d="M1333 1225h0M1368 1163h0M1396 1179h0M1291 1158h0M1276 1223h0M1328 1237h0M1245 1250h0M1230 1135h0M1250 1154h0M1194 1324h0M1266 1111h0M1363 1202h0M1357 1237h0M1348 1285h0M1274 1320h0M1359 1141h0M1290 1318h0M1265 1106h0M1257 1165h0M1260 1319h0M1358 1106h0M1353 1110h0M1320 1107h0M1387 1198h0M1291 1206h0M1231 1163h0M1164 1250h0M1194 1300h0M1241 1337h0M1363 1170h0M1256 1156h0M1173 1228h0M1172 1235h0M1201 1208h0M1309 1277h0M1202 1244h0M1314 1154h0M1249 1273h0M1220 1142h0M1409 1180h0M1213 1249h0M1266 1251h0M1232 1326h0M1406 1184h0M1298 1080h0M1254 1164h0M1284 1291h0M1198 1209h0M1348 1267h0M1245 1155h0M1308 1229h0M1319 1144h0M1337 1160h0M1276 1304h0M1374 1169h0M1227 1245h0M1258 1204h0M1289 1103h0M1319 1117h0M1300 1105h0M1341 1132h0M1171 1281h0M1309 1128h0M1191 1218h0M1222 1247h0M1225 1228h0" stroke="#fad27a" stroke-width="5.2" stroke-linecap="round" fill="none" opacity="0.92"/>
<path d="M1319 1244h0M1247 1298h0M1215 1143h0M1320 1327h0M1399 1194h0M1224 1183h0M1357 1188h0M1200 1168h0M1214 1199h0M1337 1205h0M1356 1098h0M1190 1258h0M1307 1263h0M1206 1146h0M1312 1131h0M1366 1128h0M1245 1186h0M1305 1109h0M1305 1283h0M1350 1273h0M1167 1241h0M1381 1186h0M1350 1184h0M1303 1225h0M1391 1233h0M1266 1249h0M1295 1224h0M1290 1097h0M1238 1205h0M1198 1227h0M1359 1200h0M1317 1306h0M1266 1193h0M1201 1182h0M1252 1213h0M1310 1233h0M1233 1231h0M1253 1114h0M1242 1161h0M1190 1225h0M1413 1185h0M1292 1133h0M1238 1337h0M1261 1296h0M1247 1186h0M1330 1208h0M1187 1185h0M1250 1292h0M1178 1273h0M1376 1168h0M1366 1228h0M1305 1276h0M1230 1146h0M1249 1120h0M1411 1163h0M1214 1178h0M1305 1281h0M1383 1141h0M1261 1158h0M1236 1278h0M1312 1292h0M1237 1200h0M1311 1268h0M1385 1185h0M1371 1209h0M1216 1195h0M1296 1081h0M1336 1288h0M1411 1206h0M1301 1206h0M1248 1249h0M1290 1303h0M1386 1140h0M1292 1191h0M1339 1178h0M1240 1146h0M1216 1150h0M1212 1177h0M1397 1183h0M1333 1204h0M1250 1154h0M1316 1268h0M1397 1198h0M1275 1206h0M1257 1212h0M1219 1199h0M1167 1233h0M1300 1133h0M1261 1159h0M1264 1293h0M1252 1169h0M1383 1167h0M1241 1144h0M1392 1194h0M1294 1260h0M1359 1262h0M1393 1191h0M1248 1155h0M1323 1174h0M1260 1182h0M1271 1172h0M1240 1326h0M1341 1186h0M1250 1251h0" stroke="#1db2b4" stroke-width="5.2" stroke-linecap="round" fill="none" opacity="0.92"/>
<path d="M1309 1269h0M1303 1158h0M1277 1112h0M1225 1332h0M1285 1194h0M1374 1179h0M1362 1206h0M1292 1277h0M1343 1260h0M1306 1209h0M1300 1297h0M1284 1159h0" stroke="#3c6daf" stroke-width="5.2" stroke-linecap="round" fill="none" opacity="0.92"/>
<path d="M1394 1134h0M1199 1183h0M1250 1181h0M1249 1206h0M1364 1220h0M1160 1259h0M1219 1273h0M1345 1190h0M1224 1224h0M1260 1145h0M1277 1110h0M1169 1250h0M1170 1261h0M1220 1218h0M1238 1285h0M1229 1231h0M1364 1181h0M1254 1190h0M1247 1233h0M1298 1307h0M1304 1271h0M1383 1231h0M1262 1191h0M1285 1104h0M1203 1300h0M1246 1153h0M1260 1277h0M1183 1254h0M1163 1230h0M1397 1200h0M1336 1183h0M1434 1165h0M1261 1203h0M1203 1206h0M1267 1254h0M1204 1155h0M1278 1143h0M1215 1176h0M1381 1165h0M1213 1186h0M1301 1134h0M1362 1200h0M1320 1182h0M1259 1198h0M1345 1228h0M1420 1182h0M1423 1168h0M1274 1238h0M1338 1196h0M1333 1235h0M1267 1152h0M1329 1306h0M1403 1200h0M1187 1260h0M1384 1219h0M1279 1293h0M1272 1176h0M1293 1330h0M1271 1173h0M1402 1193h0M1279 1114h0M1265 1195h0M1246 1250h0M1339 1178h0M1290 1111h0M1303 1280h0M1260 1182h0M1261 1310h0M1246 1209h0M1256 1316h0M1224 1181h0M1166 1232h0M1269 1253h0M1337 1181h0M1206 1256h0M1410 1193h0M1346 1177h0M1248 1286h0M1243 1181h0M1218 1231h0M1189 1275h0M1222 1147h0M1256 1212h0" stroke="#9ae2a8" stroke-width="5.2" stroke-linecap="round" fill="none" opacity="0.92"/>
<path d="M1293 1098h0M1194 1218h0M1278 1152h0M1209 1245h0M1198 1247h0M1359 1237h0M1325 1117h0M1230 1167h0M1200 1201h0M1268 1167h0M1238 1303h0M1190 1258h0M1340 1113h0M1305 1113h0M1373 1169h0M1292 1308h0M1257 1295h0M1204 1317h0M1249 1176h0M1384 1183h0M1194 1305h0M1254 1320h0M1309 1332h0M1268 1324h0M1341 1124h0M1367 1149h0M1201 1291h0M1252 1341h0M1276 1130h0M1278 1249h0M1412 1156h0M1323 1236h0M1261 1149h0M1363 1165h0M1357 1247h0M1222 1334h0M1314 1151h0M1374 1137h0M1179 1311h0M1250 1137h0M1291 1342h0M1255 1299h0M1255 1212h0M1312 1103h0M1406 1145h0M1286 1291h0M1236 1288h0M1265 1244h0M1236 1222h0M1197 1178h0M1344 1109h0M1336 1186h0M1204 1158h0M1345 1116h0M1350 1138h0M1326 1179h0M1267 1250h0M1241 1152h0M1239 1263h0M1239 1185h0M1281 1262h0M1260 1289h0M1312 1318h0M1245 1274h0M1184 1256h0M1337 1218h0M1342 1141h0M1296 1139h0M1209 1216h0M1276 1314h0M1296 1241h0M1390 1143h0M1356 1192h0M1269 1270h0M1332 1174h0M1222 1249h0M1343 1124h0M1304 1222h0M1307 1309h0M1365 1211h0M1266 1140h0M1330 1125h0M1196 1271h0M1243 1257h0M1231 1309h0M1322 1260h0" stroke="#f7bb5c" stroke-width="5.2" stroke-linecap="round" fill="none" opacity="0.92"/>
<path d="M1229 1199h0M1371 1245h0M1271 1173h0M1341 1207h0M1286 1246h0M1279 1142h0M1336 1184h0M1183 1280h0M1277 1305h0M1285 1119h0M1325 1216h0M1165 1232h0M1354 1169h0M1390 1224h0M1271 1188h0M1302 1279h0M1250 1154h0M1420 1180h0M1317 1235h0M1241 1323h0M1233 1304h0M1241 1273h0M1266 1111h0M1244 1252h0M1328 1220h0M1314 1196h0M1193 1207h0M1384 1246h0M1275 1307h0M1250 1182h0M1344 1220h0" stroke="#1b86b7" stroke-width="5.2" stroke-linecap="round" fill="none" opacity="0.92"/>
<path d="M1385 1120h0M1377 1150h0M1316 1118h0M1272 1294h0M1220 1186h0M1312 1282h0M1310 1158h0M1204 1327h0M1322 1161h0M1324 1253h0M1287 1087h0M1278 1185h0M1278 1144h0M1353 1113h0M1325 1129h0M1332 1147h0" stroke="#ad2347" stroke-width="5.2" stroke-linecap="round" fill="none" opacity="0.92"/>
<path d="M1338 1265h0M1245 1250h0M1320 1123h0M1389 1145h0M1257 1131h0M1192 1257h0M1351 1173h0M1337 1236h0M1264 1137h0M1415 1163h0M1230 1293h0M1192 1247h0M1336 1114h0M1274 1203h0M1173 1306h0M1278 1299h0M1376 1200h0M1204 1240h0M1312 1293h0M1246 1246h0M1318 1296h0M1299 1202h0M1209 1168h0M1306 1232h0M1297 1272h0M1276 1227h0M1206 1289h0M1260 1252h0M1193 1271h0M1264 1345h0M1280 1109h0M1298 1205h0M1330 1232h0M1278 1223h0M1251 1347h0M1389 1233h0M1199 1304h0M1275 1234h0M1366 1200h0M1296 1111h0M1360 1217h0M1346 1183h0M1206 1267h0M1337 1264h0M1291 1232h0M1220 1139h0M1286 1104h0M1268 1119h0" stroke="#fbe394" stroke-width="5.2" stroke-linecap="round" fill="none" opacity="0.92"/>
<path d="M1292 1182h0M1243 1335h0M1282 1300h0M1217 1265h0M1282 1230h0M1250 1268h0M1319 1178h0M1252 1154h0M1320 1224h0M1301 1308h0M1320 1192h0M1233 1307h0M1248 1254h0M1251 1136h0M1362 1170h0M1352 1278h0M1377 1120h0M1378 1180h0M1376 1183h0M1348 1113h0M1226 1265h0M1373 1175h0M1356 1193h0M1250 1194h0M1295 1212h0M1266 1191h0M1358 1233h0M1335 1173h0M1222 1174h0M1319 1239h0M1414 1206h0M1226 1231h0M1235 1146h0M1236 1234h0M1249 1278h0M1208 1149h0M1323 1195h0M1300 1279h0M1280 1172h0M1239 1262h0M1352 1286h0M1355 1250h0M1384 1241h0M1289 1267h0M1250 1251h0M1217 1189h0M1379 1200h0M1249 1245h0M1320 1204h0M1387 1237h0M1346 1188h0M1388 1178h0M1308 1119h0M1211 1201h0M1371 1197h0M1186 1221h0M1345 1201h0M1311 1221h0M1235 1245h0M1359 1216h0M1233 1333h0" stroke="#139db7" stroke-width="5.2" stroke-linecap="round" fill="none" opacity="0.92"/>
<path d="M1288 1250h0M1317 1178h0M1200 1188h0M1307 1134h0M1187 1293h0M1425 1167h0M1227 1272h0M1186 1282h0M1371 1156h0M1315 1130h0M1330 1135h0M1347 1213h0M1246 1343h0M1249 1144h0M1261 1155h0M1279 1320h0M1307 1327h0M1298 1271h0M1356 1191h0M1227 1296h0M1276 1115h0M1359 1123h0M1187 1261h0M1268 1167h0M1222 1320h0M1216 1310h0M1368 1120h0M1370 1118h0M1253 1162h0M1353 1115h0M1332 1130h0M1228 1169h0M1293 1242h0M1229 1248h0M1209 1153h0M1377 1198h0M1221 1178h0M1308 1257h0M1181 1255h0M1308 1115h0M1223 1241h0M1250 1336h0M1204 1193h0M1207 1285h0M1262 1182h0M1307 1117h0" stroke="#e56f27" stroke-width="5.2" stroke-linecap="round" fill="none" opacity="0.92"/>
<path d="M1210 1241h0M1252 1259h0M1213 1285h0M1301 1140h0M1300 1146h0M1331 1201h0M1226 1155h0M1274 1115h0M1305 1114h0M1178 1229h0M1218 1253h0M1269 1149h0M1402 1162h0M1269 1157h0M1304 1271h0M1374 1163h0M1310 1195h0M1406 1169h0M1186 1199h0M1221 1284h0M1178 1271h0M1293 1196h0M1327 1132h0M1260 1227h0M1189 1250h0M1248 1128h0M1323 1136h0M1309 1173h0M1163 1240h0M1355 1274h0M1203 1186h0M1207 1203h0M1244 1230h0M1190 1276h0M1338 1173h0M1218 1220h0M1254 1166h0M1240 1169h0M1334 1275h0M1273 1186h0M1246 1291h0M1240 1242h0M1204 1198h0M1322 1243h0M1326 1223h0M1205 1206h0M1319 1291h0M1356 1174h0M1261 1277h0M1243 1295h0M1205 1218h0M1311 1114h0M1338 1237h0M1206 1284h0M1255 1133h0M1211 1207h0M1212 1214h0M1404 1199h0M1394 1205h0M1246 1310h0M1269 1240h0M1233 1297h0M1233 1325h0M1294 1228h0M1240 1187h0M1335 1230h0M1318 1294h0M1225 1324h0M1269 1144h0" stroke="#c0eca7" stroke-width="5.2" stroke-linecap="round" fill="none" opacity="0.92"/>
</g>
<path d="M1475.6 1066V1366.6M1458.3 1338.1H1758.5M1537.6 1066V1366.6M1458.3 1277.4H1758.5M1599.6 1066V1366.6M1458.3 1216.7H1758.5M1661.6 1066V1366.6M1458.3 1156H1758.5M1723.6 1066V1366.6M1458.3 1095.3H1758.5" stroke="#ebebeb" stroke-width="2.0" fill="none"/>
<text x="1601.3" y="1052.4" font-size="34.3" text-anchor="middle">BCL-2</text>
<g filter="url(#bl2)">
<path d="M1498 1290h0M1661 1283h0M1590 1227h0M1516 1210h0M1573 1243h0M1581 1272h0M1564 1183h0M1599 1180h0M1571 1230h0M1659 1216h0M1720 1149h0M1642 1179h0M1600 1306h0M1568 1308h0M1693 1246h0M1563 1311h0M1655 1183h0M1604 1338h0M1526 1311h0M1555 1206h0M1623 1164h0M1549 1306h0M1576 1323h0M1622 1280h0M1502 1185h0M1524 1268h0M1505 1218h0M1634 1218h0M1574 1293h0M1589 1186h0M1605 1297h0M1566 1251h0M1594 1306h0M1693 1241h0M1555 1327h0M1624 1181h0M1647 1186h0M1476 1260h0M1622 1181h0M1699 1198h0M1539 1275h0M1558 1190h0M1639 1256h0M1539 1156h0M1654 1227h0M1668 1122h0M1486 1274h0M1532 1192h0M1688 1119h0M1671 1109h0M1571 1237h0M1540 1198h0M1607 1309h0M1506 1204h0M1548 1285h0M1572 1319h0M1621 1309h0M1618 1204h0M1565 1289h0M1599 1186h0M1568 1160h0M1595 1193h0M1567 1295h0M1636 1134h0M1503 1307h0M1578 1178h0M1605 1247h0M1571 1318h0M1687 1147h0M1707 1160h0" stroke="#1db2b4" stroke-width="5.2" stroke-linecap="round" fill="none" opacity="0.92"/>
<path d="M1630 1212h0M1697 1186h0M1631 1209h0M1486 1248h0M1663 1122h0M1601 1298h0M1736 1164h0M1625 1230h0M1555 1334h0M1634 1185h0M1667 1143h0M1591 1265h0M1524 1203h0M1548 1273h0M1567 1213h0M1499 1278h0M1561 1321h0M1528 1194h0M1581 1143h0M1685 1160h0M1674 1264h0M1576 1324h0M1645 1116h0M1616 1140h0M1539 1192h0M1648 1136h0M1707 1191h0M1646 1270h0M1632 1173h0M1592 1273h0M1630 1284h0M1586 1247h0M1533 1145h0M1479 1279h0M1573 1212h0M1478 1227h0M1577 1142h0M1505 1235h0M1697 1137h0M1632 1222h0M1561 1194h0M1489 1305h0M1512 1188h0M1536 1296h0M1714 1215h0M1521 1197h0M1611 1095h0M1566 1204h0M1544 1226h0M1627 1162h0M1636 1129h0M1678 1121h0M1604 1204h0M1535 1204h0M1608 1150h0M1697 1248h0M1692 1161h0M1490 1254h0M1682 1202h0M1513 1267h0M1563 1165h0M1566 1261h0" stroke="#ef8920" stroke-width="5.2" stroke-linecap="round" fill="none" opacity="0.92"/>
<path d="M1579 1322h0M1614 1112h0M1501 1209h0M1493 1272h0M1602 1230h0M1554 1245h0M1702 1217h0M1566 1341h0M1542 1296h0M1656 1243h0M1592 1296h0M1668 1225h0M1543 1155h0M1579 1131h0M1635 1239h0M1719 1174h0M1637 1291h0M1593 1312h0M1586 1155h0M1636 1104h0M1515 1198h0M1576 1237h0M1525 1281h0M1649 1129h0M1588 1151h0M1695 1227h0M1679 1119h0M1525 1211h0M1480 1270h0M1589 1304h0M1634 1197h0M1518 1191h0M1697 1223h0M1570 1234h0M1570 1341h0M1497 1286h0M1613 1120h0M1583 1339h0M1560 1273h0M1585 1303h0M1673 1228h0M1510 1186h0M1609 1215h0M1530 1253h0M1498 1232h0M1596 1195h0M1533 1257h0M1506 1243h0M1524 1225h0M1647 1113h0M1620 1309h0M1606 1276h0M1566 1230h0M1495 1304h0M1576 1282h0M1653 1110h0M1644 1245h0M1579 1265h0M1627 1231h0M1603 1334h0M1702 1201h0M1545 1315h0M1635 1217h0M1628 1221h0M1564 1257h0M1539 1318h0M1567 1321h0" stroke="#139db7" stroke-width="5.2" stroke-linecap="round" fill="none" opacity="0.92"/>
<path d="M1598 1217h0M1628 1311h0M1623 1136h0M1587 1252h0M1568 1313h0M1645 1110h0M1650 1298h0M1664 1222h0M1565 1266h0M1538 1338h0M1588 1225h0M1560 1245h0M1541 1148h0M1725 1207h0M1522 1306h0M1620 1321h0M1673 1233h0M1557 1253h0M1686 1164h0M1539 1143h0M1550 1327h0M1534 1151h0M1529 1207h0M1699 1196h0M1573 1119h0M1510 1201h0M1620 1259h0M1673 1205h0M1488 1260h0M1501 1321h0M1590 1343h0M1654 1270h0M1535 1285h0M1555 1339h0M1667 1217h0M1536 1280h0M1651 1248h0M1576 1340h0M1655 1146h0M1624 1116h0M1562 1313h0M1690 1170h0M1641 1098h0M1600 1240h0M1613 1300h0M1610 1109h0M1622 1292h0M1622 1285h0M1572 1223h0M1575 1328h0M1518 1145h0M1570 1210h0M1552 1299h0M1651 1182h0M1635 1185h0M1597 1188h0M1578 1152h0M1648 1157h0M1587 1203h0M1575 1183h0M1612 1294h0M1537 1177h0M1585 1200h0M1657 1222h0M1567 1298h0M1630 1284h0M1643 1213h0M1527 1188h0M1550 1340h0M1625 1297h0" stroke="#6ad3ad" stroke-width="5.2" stroke-linecap="round" fill="none" opacity="0.92"/>
<path d="M1593 1268h0M1655 1282h0M1640 1233h0M1630 1244h0M1645 1210h0M1545 1310h0M1560 1236h0M1618 1222h0M1655 1179h0M1496 1275h0M1643 1120h0M1582 1167h0M1596 1221h0M1534 1190h0M1579 1320h0M1599 1277h0M1607 1243h0M1731 1180h0M1674 1242h0M1569 1142h0M1693 1119h0M1564 1215h0M1520 1202h0M1550 1252h0M1590 1259h0M1709 1179h0M1645 1271h0M1529 1317h0M1605 1284h0M1537 1315h0M1540 1278h0M1575 1114h0M1630 1178h0M1551 1276h0M1635 1246h0M1610 1246h0M1618 1176h0M1479 1249h0M1580 1124h0M1585 1285h0M1544 1148h0M1675 1184h0M1557 1285h0M1695 1137h0M1555 1290h0M1514 1307h0M1616 1119h0M1559 1334h0M1544 1128h0M1588 1237h0M1579 1212h0M1564 1155h0M1622 1101h0M1602 1116h0M1659 1285h0M1619 1246h0M1560 1165h0M1551 1253h0M1562 1159h0M1570 1274h0M1578 1280h0M1546 1127h0M1715 1149h0M1567 1292h0M1658 1154h0M1616 1248h0M1610 1280h0M1539 1237h0M1512 1300h0M1718 1152h0M1495 1226h0M1492 1260h0M1588 1194h0M1558 1147h0M1671 1142h0M1519 1195h0M1611 1190h0M1531 1126h0M1510 1305h0M1579 1111h0M1677 1111h0M1633 1103h0M1551 1211h0M1611 1267h0M1486 1232h0M1538 1304h0M1639 1118h0M1672 1131h0M1505 1191h0M1512 1211h0M1598 1161h0M1601 1134h0M1539 1169h0M1681 1173h0M1528 1242h0M1598 1295h0M1621 1152h0M1644 1280h0M1674 1275h0M1627 1203h0M1521 1324h0M1532 1327h0M1635 1162h0M1539 1259h0M1508 1249h0M1609 1271h0M1538 1330h0M1646 1296h0M1566 1162h0M1583 1242h0M1609 1222h0M1500 1314h0M1632 1255h0M1629 1252h0M1646 1207h0M1675 1281h0M1634 1288h0M1642 1190h0M1653 1146h0M1675 1154h0M1512 1262h0M1527 1154h0M1484 1222h0M1581 1159h0M1606 1217h0M1647 1230h0M1681 1170h0M1587 1250h0M1686 1254h0M1639 1276h0M1507 1254h0M1513 1203h0M1735 1190h0M1721 1186h0M1538 1332h0M1590 1143h0M1538 1294h0M1662 1185h0M1515 1204h0M1566 1136h0M1484 1238h0M1521 1189h0M1596 1115h0M1497 1293h0M1717 1184h0M1509 1252h0" stroke="#f1f0a4" stroke-width="5.2" stroke-linecap="round" fill="none" opacity="0.92"/>
<path d="M1604 1098h0M1657 1108h0M1622 1170h0M1666 1257h0M1666 1184h0M1565 1282h0M1618 1311h0M1593 1305h0M1656 1190h0M1637 1290h0M1723 1204h0M1614 1309h0M1649 1180h0M1609 1201h0M1553 1208h0M1583 1280h0M1558 1125h0M1512 1202h0M1544 1313h0M1610 1197h0M1696 1150h0M1513 1266h0M1651 1289h0M1618 1270h0" stroke="#3c6daf" stroke-width="5.2" stroke-linecap="round" fill="none" opacity="0.92"/>
<path d="M1533 1330h0M1521 1208h0M1576 1283h0M1562 1316h0M1564 1152h0M1635 1310h0M1685 1170h0M1716 1220h0M1648 1225h0M1662 1124h0M1684 1211h0M1641 1267h0M1566 1126h0M1571 1266h0M1516 1163h0M1718 1175h0M1568 1217h0M1615 1260h0M1585 1145h0M1559 1277h0M1498 1283h0M1578 1236h0M1562 1218h0M1618 1128h0M1566 1172h0M1583 1321h0M1548 1287h0M1665 1240h0M1590 1146h0M1674 1234h0M1598 1236h0M1612 1082h0M1688 1210h0M1552 1335h0M1622 1201h0M1640 1227h0M1591 1343h0M1715 1188h0M1639 1150h0M1618 1260h0M1676 1219h0M1700 1172h0M1598 1200h0M1666 1231h0M1665 1173h0M1524 1319h0M1696 1209h0M1627 1292h0M1560 1252h0M1683 1112h0M1539 1159h0M1641 1210h0M1682 1142h0M1646 1272h0M1628 1175h0M1652 1221h0M1593 1265h0M1501 1241h0M1550 1230h0M1533 1142h0M1626 1144h0M1709 1166h0M1531 1151h0M1648 1171h0M1627 1212h0M1646 1242h0M1555 1145h0M1538 1154h0M1612 1223h0M1648 1175h0M1529 1324h0M1685 1224h0M1673 1107h0M1641 1177h0M1517 1233h0M1621 1102h0M1527 1292h0M1630 1283h0M1533 1170h0" stroke="#f4a33c" stroke-width="5.2" stroke-linecap="round" fill="none" opacity="0.92"/>
<path d="M1607 1229h0M1582 1177h0M1621 1192h0M1572 1300h0M1585 1296h0M1613 1267h0M1650 1234h0M1566 1143h0M1553 1149h0M1570 1201h0M1620 1259h0M1609 1154h0M1657 1163h0M1581 1323h0M1548 1256h0M1609 1249h0M1600 1319h0M1564 1327h0M1522 1172h0M1610 1303h0M1639 1121h0M1532 1288h0M1621 1328h0M1524 1308h0M1695 1218h0M1558 1250h0M1604 1289h0M1634 1245h0M1594 1230h0M1595 1210h0M1539 1338h0M1518 1270h0M1563 1181h0M1603 1309h0M1597 1231h0M1664 1234h0M1564 1159h0M1583 1115h0M1623 1121h0M1614 1135h0M1597 1339h0M1672 1228h0M1706 1237h0M1629 1317h0M1662 1162h0M1664 1101h0M1522 1276h0M1700 1127h0M1650 1198h0M1608 1254h0M1678 1244h0M1614 1307h0M1484 1271h0M1572 1216h0M1570 1344h0M1699 1187h0M1611 1227h0M1661 1117h0M1557 1284h0M1555 1249h0M1601 1252h0M1542 1164h0M1640 1169h0M1607 1279h0M1665 1171h0M1571 1296h0M1700 1152h0M1617 1173h0M1610 1340h0M1601 1123h0M1696 1179h0M1511 1325h0M1588 1152h0M1659 1114h0M1553 1132h0M1529 1141h0M1580 1161h0M1708 1188h0M1641 1191h0M1599 1134h0M1639 1157h0M1597 1292h0M1573 1323h0M1576 1334h0M1563 1305h0M1609 1078h0M1543 1274h0M1611 1138h0M1553 1207h0M1522 1296h0M1588 1299h0" stroke="#3dc4af" stroke-width="5.2" stroke-linecap="round" fill="none" opacity="0.92"/>
<path d="M1642 1097h0M1611 1097h0M1659 1111h0M1658 1214h0M1526 1305h0M1616 1224h0M1576 1196h0M1517 1304h0M1626 1252h0M1567 1211h0M1520 1244h0M1506 1298h0M1673 1145h0M1561 1128h0M1624 1301h0M1614 1235h0M1699 1206h0M1526 1243h0M1534 1194h0M1525 1251h0M1566 1142h0M1517 1263h0M1517 1275h0M1616 1293h0M1637 1208h0M1544 1301h0M1531 1230h0M1677 1191h0M1663 1214h0M1525 1244h0M1627 1187h0M1572 1264h0M1496 1281h0M1668 1235h0M1608 1227h0M1634 1127h0M1547 1281h0M1594 1116h0M1518 1262h0M1537 1238h0M1632 1315h0M1728 1187h0M1647 1297h0M1508 1274h0M1667 1254h0M1568 1212h0M1538 1236h0M1673 1118h0M1640 1104h0M1621 1332h0M1537 1229h0M1567 1280h0M1693 1185h0M1649 1105h0M1663 1153h0M1658 1219h0M1510 1198h0M1479 1294h0M1533 1186h0M1632 1294h0M1619 1259h0M1534 1224h0M1574 1209h0M1590 1222h0M1583 1213h0M1579 1318h0M1513 1300h0M1617 1117h0M1580 1219h0M1645 1245h0" stroke="#fad27a" stroke-width="5.2" stroke-linecap="round" fill="none" opacity="0.92"/>
<path d="M1560 1334h0M1643 1180h0M1644 1139h0M1723 1184h0M1543 1148h0M1512 1244h0M1579 1177h0M1486 1254h0M1562 1152h0M1609 1210h0M1676 1122h0M1631 1207h0M1529 1326h0M1561 1210h0M1688 1203h0M1589 1111h0M1566 1259h0M1602 1304h0M1632 1251h0M1506 1282h0M1559 1289h0M1517 1305h0M1695 1139h0M1604 1152h0M1650 1136h0M1606 1233h0M1587 1294h0M1621 1270h0M1539 1226h0M1499 1255h0M1489 1208h0M1606 1150h0M1541 1296h0M1566 1221h0M1562 1190h0M1633 1123h0M1613 1134h0M1607 1113h0M1635 1125h0M1684 1210h0M1662 1209h0M1672 1202h0M1572 1292h0M1584 1139h0M1707 1170h0M1727 1186h0M1554 1234h0M1577 1288h0M1510 1213h0M1487 1257h0M1683 1239h0M1678 1140h0M1526 1169h0M1680 1142h0M1551 1307h0M1520 1221h0M1508 1221h0M1614 1118h0M1547 1152h0M1700 1155h0M1725 1190h0M1549 1327h0M1625 1283h0M1581 1165h0M1659 1253h0M1597 1310h0M1659 1188h0M1611 1136h0M1665 1231h0M1606 1222h0M1609 1154h0M1558 1247h0M1737 1163h0M1554 1252h0M1562 1220h0M1544 1218h0M1562 1324h0M1548 1217h0M1540 1237h0M1683 1209h0M1496 1212h0M1553 1284h0M1552 1281h0M1574 1140h0M1585 1287h0M1552 1294h0M1587 1299h0M1677 1145h0M1608 1156h0M1603 1167h0M1540 1137h0M1503 1292h0M1573 1162h0M1538 1235h0M1516 1156h0M1710 1182h0M1509 1253h0M1534 1251h0M1595 1106h0M1656 1207h0M1614 1123h0M1558 1279h0M1570 1296h0M1611 1171h0M1614 1165h0M1505 1316h0M1708 1232h0M1520 1255h0M1594 1146h0M1560 1143h0M1650 1116h0M1567 1215h0M1597 1269h0M1656 1278h0M1683 1144h0M1573 1164h0M1662 1110h0M1590 1223h0M1558 1217h0M1527 1147h0M1554 1247h0M1623 1112h0M1670 1118h0M1562 1241h0M1525 1301h0M1638 1100h0M1630 1214h0M1622 1256h0M1617 1162h0M1685 1141h0M1534 1127h0M1602 1299h0" stroke="#c0eca7" stroke-width="5.2" stroke-linecap="round" fill="none" opacity="0.92"/>
<path d="M1638 1210h0M1577 1177h0M1709 1230h0M1552 1244h0M1636 1209h0M1613 1116h0M1663 1106h0M1602 1157h0M1733 1183h0M1515 1190h0M1617 1133h0M1515 1328h0M1565 1264h0M1549 1247h0M1566 1152h0M1557 1151h0" stroke="#d75530" stroke-width="5.2" stroke-linecap="round" fill="none" opacity="0.92"/>
<path d="M1577 1149h0M1557 1283h0M1691 1166h0M1594 1240h0M1562 1152h0M1524 1291h0M1708 1177h0M1538 1303h0M1578 1286h0M1515 1295h0M1560 1176h0M1586 1180h0M1504 1229h0M1476 1248h0M1594 1144h0M1548 1311h0M1666 1111h0M1664 1144h0M1491 1280h0M1544 1154h0M1618 1215h0M1721 1172h0M1676 1156h0M1679 1234h0M1672 1260h0M1535 1298h0M1629 1282h0M1619 1208h0M1655 1284h0M1663 1215h0M1587 1203h0M1597 1178h0M1566 1293h0M1590 1292h0M1529 1313h0M1521 1324h0M1522 1322h0M1683 1215h0M1707 1161h0M1508 1283h0M1582 1247h0M1553 1240h0M1648 1245h0M1647 1112h0M1493 1252h0M1565 1128h0M1555 1285h0M1605 1126h0M1531 1146h0M1559 1204h0M1617 1095h0M1673 1240h0M1606 1143h0M1663 1271h0M1534 1265h0M1564 1211h0M1538 1258h0M1588 1183h0M1657 1147h0M1550 1250h0M1607 1222h0M1532 1137h0M1594 1242h0M1575 1186h0M1630 1231h0M1585 1322h0M1588 1292h0M1548 1259h0M1572 1274h0M1582 1219h0M1609 1142h0M1663 1205h0M1560 1182h0M1526 1332h0" stroke="#f7bb5c" stroke-width="5.2" stroke-linecap="round" fill="none" opacity="0.92"/>
<path d="M1575 1194h0M1685 1251h0M1626 1155h0M1628 1241h0M1695 1210h0M1494 1202h0M1575 1138h0M1520 1182h0M1620 1140h0M1734 1168h0M1550 1267h0M1566 1155h0M1629 1225h0M1581 1192h0M1624 1115h0M1550 1235h0M1602 1168h0M1531 1315h0M1548 1259h0M1683 1229h0" stroke="#e56f27" stroke-width="5.2" stroke-linecap="round" fill="none" opacity="0.92"/>
<path d="M1592 1306h0M1635 1203h0M1554 1287h0M1531 1316h0M1598 1109h0M1620 1222h0M1567 1240h0M1589 1313h0M1616 1144h0M1549 1330h0M1591 1202h0M1653 1168h0M1691 1179h0M1512 1180h0M1624 1315h0M1601 1298h0M1544 1335h0M1598 1106h0M1582 1158h0M1694 1123h0M1564 1153h0M1532 1196h0M1540 1137h0M1534 1185h0M1626 1273h0M1666 1120h0M1639 1097h0M1620 1167h0" stroke="#1b86b7" stroke-width="5.2" stroke-linecap="round" fill="none" opacity="0.92"/>
<path d="M1544 1332h0M1589 1289h0M1651 1158h0M1614 1200h0M1555 1236h0" stroke="#5059a6" stroke-width="5.2" stroke-linecap="round" fill="none" opacity="0.92"/>
<path d="M1554 1134h0M1693 1197h0M1605 1229h0M1482 1249h0M1613 1146h0M1515 1293h0M1548 1189h0M1635 1110h0M1563 1242h0M1623 1175h0M1675 1130h0M1609 1278h0M1680 1228h0M1497 1212h0M1654 1303h0M1588 1145h0M1531 1287h0M1621 1205h0M1703 1177h0M1598 1310h0M1676 1172h0M1487 1261h0M1568 1137h0M1549 1323h0M1487 1232h0M1581 1164h0M1698 1182h0M1620 1277h0M1554 1238h0M1726 1170h0M1611 1263h0M1636 1190h0M1505 1206h0M1525 1308h0M1488 1293h0M1690 1147h0M1522 1308h0M1660 1210h0M1640 1289h0M1531 1187h0M1694 1241h0M1571 1231h0M1607 1225h0M1669 1145h0M1550 1308h0M1579 1320h0M1558 1287h0M1578 1184h0M1504 1246h0M1657 1160h0M1682 1254h0M1519 1304h0" stroke="#9ae2a8" stroke-width="5.2" stroke-linecap="round" fill="none" opacity="0.92"/>
<path d="M1616 1211h0M1540 1273h0M1681 1128h0M1642 1208h0M1619 1209h0M1495 1297h0M1506 1315h0M1575 1172h0M1488 1275h0M1642 1210h0M1602 1233h0M1491 1210h0M1614 1179h0M1559 1241h0M1567 1126h0M1538 1275h0M1603 1307h0M1636 1157h0M1513 1328h0M1538 1292h0" stroke="#ad2347" stroke-width="5.2" stroke-linecap="round" fill="none" opacity="0.92"/>
<path d="M1569 1145h0M1644 1177h0M1718 1161h0M1670 1110h0M1663 1280h0M1638 1217h0M1722 1146h0M1641 1113h0M1615 1110h0M1618 1123h0M1542 1310h0M1681 1173h0" stroke="#c63b3d" stroke-width="5.2" stroke-linecap="round" fill="none" opacity="0.92"/>
<path d="M1552 1274h0M1685 1231h0M1554 1265h0M1558 1141h0M1648 1243h0M1676 1158h0M1523 1217h0M1557 1252h0M1667 1236h0M1636 1167h0M1517 1239h0M1632 1234h0M1510 1200h0M1556 1230h0M1633 1289h0M1602 1173h0M1496 1199h0M1556 1130h0M1645 1244h0M1514 1235h0M1697 1168h0M1646 1166h0M1680 1159h0M1698 1143h0M1550 1114h0M1709 1158h0M1582 1337h0M1605 1134h0M1651 1278h0M1551 1119h0M1510 1247h0M1647 1185h0M1636 1268h0M1509 1179h0M1690 1136h0M1631 1241h0M1561 1117h0M1704 1190h0M1584 1162h0M1605 1155h0M1553 1327h0M1579 1244h0M1589 1139h0M1643 1218h0M1703 1240h0M1655 1158h0M1594 1214h0M1526 1321h0M1581 1285h0M1693 1173h0M1718 1190h0M1649 1190h0M1588 1304h0M1670 1215h0M1644 1225h0M1710 1162h0M1651 1184h0M1670 1110h0M1582 1287h0M1510 1204h0M1659 1212h0M1487 1262h0M1534 1162h0M1479 1233h0M1608 1192h0M1636 1209h0M1700 1167h0M1639 1119h0M1543 1244h0M1556 1192h0M1540 1320h0M1669 1152h0M1597 1261h0M1561 1248h0M1707 1184h0M1504 1244h0M1534 1192h0M1588 1111h0M1521 1146h0M1556 1285h0M1612 1166h0M1730 1208h0M1546 1159h0" stroke="#fbe394" stroke-width="5.2" stroke-linecap="round" fill="none" opacity="0.92"/>
<path d="M1551 1149h0M1694 1151h0M1613 1145h0M1511 1245h0M1529 1269h0M1483 1223h0M1679 1203h0M1514 1223h0M1535 1126h0M1514 1249h0M1584 1301h0M1495 1258h0M1609 1100h0M1522 1307h0M1691 1217h0M1638 1219h0M1655 1119h0M1586 1341h0M1506 1193h0M1619 1251h0M1499 1239h0M1568 1251h0M1642 1208h0M1566 1196h0M1563 1156h0M1623 1328h0M1686 1250h0M1598 1102h0M1678 1211h0M1666 1121h0M1543 1246h0M1608 1272h0M1619 1112h0M1582 1189h0M1612 1317h0M1532 1202h0M1682 1114h0M1583 1265h0M1701 1135h0M1548 1230h0M1615 1169h0M1720 1158h0M1627 1261h0M1641 1271h0M1670 1187h0M1565 1192h0M1602 1135h0M1502 1300h0M1726 1202h0M1572 1216h0M1581 1183h0M1683 1111h0M1589 1243h0M1646 1104h0M1657 1111h0M1628 1227h0M1527 1284h0M1688 1217h0M1538 1131h0M1572 1153h0M1554 1265h0M1707 1158h0M1527 1154h0M1699 1235h0M1639 1199h0M1547 1165h0M1612 1209h0M1596 1242h0M1528 1303h0M1698 1157h0M1587 1201h0M1688 1185h0M1638 1147h0M1708 1200h0M1521 1246h0M1711 1195h0M1671 1260h0M1515 1329h0M1653 1116h0M1649 1220h0M1607 1256h0M1493 1230h0M1511 1266h0M1549 1238h0M1532 1179h0M1588 1125h0M1514 1290h0M1556 1347h0M1584 1134h0M1637 1223h0M1600 1317h0M1474 1237h0M1542 1331h0M1515 1265h0M1609 1248h0M1540 1275h0M1612 1225h0M1690 1203h0M1577 1223h0M1619 1111h0M1549 1132h0M1648 1198h0M1591 1114h0M1595 1107h0M1554 1315h0M1577 1226h0M1703 1232h0M1559 1305h0M1616 1150h0M1546 1275h0M1516 1331h0M1551 1264h0M1550 1176h0M1559 1176h0M1658 1112h0M1613 1282h0M1653 1272h0M1656 1219h0M1577 1302h0M1620 1307h0M1578 1181h0M1583 1103h0M1575 1184h0M1695 1167h0M1541 1275h0M1481 1298h0M1585 1285h0M1554 1267h0M1615 1253h0M1670 1111h0M1519 1231h0M1604 1326h0M1521 1264h0M1572 1191h0M1725 1159h0M1730 1200h0M1539 1259h0M1684 1161h0M1540 1209h0M1648 1252h0M1551 1174h0M1559 1233h0M1552 1205h0M1733 1175h0M1713 1194h0M1581 1189h0M1631 1295h0M1525 1201h0M1579 1282h0M1516 1177h0M1594 1203h0M1603 1198h0M1719 1164h0M1500 1209h0M1669 1216h0M1483 1224h0M1628 1109h0M1717 1142h0M1577 1184h0M1595 1258h0M1484 1239h0M1605 1330h0M1515 1234h0M1530 1123h0M1555 1289h0M1598 1316h0M1690 1180h0M1567 1184h0M1648 1126h0M1611 1246h0M1587 1303h0M1658 1247h0M1624 1158h0M1656 1235h0M1679 1190h0M1501 1316h0M1649 1297h0M1579 1245h0M1544 1255h0M1550 1229h0M1651 1177h0M1634 1215h0M1554 1143h0M1682 1258h0M1642 1274h0M1652 1243h0M1492 1218h0" stroke="#def3a8" stroke-width="5.2" stroke-linecap="round" fill="none" opacity="0.92"/>
<path d="M1688 1243h0M1529 1212h0M1641 1274h0M1593 1302h0M1567 1243h0M1622 1122h0M1574 1230h0M1610 1100h0M1665 1154h0M1513 1170h0M1549 1277h0M1487 1221h0M1632 1138h0M1616 1329h0M1565 1173h0M1543 1145h0M1533 1224h0M1522 1248h0M1732 1184h0M1601 1114h0M1677 1166h0M1574 1271h0M1523 1230h0M1537 1178h0M1644 1152h0M1700 1241h0M1578 1333h0M1543 1127h0M1649 1117h0M1668 1144h0M1502 1216h0M1570 1123h0M1503 1311h0M1612 1123h0M1692 1111h0M1681 1153h0M1725 1205h0M1580 1190h0M1664 1134h0M1548 1233h0M1601 1105h0M1476 1259h0M1600 1230h0M1650 1227h0M1705 1168h0M1626 1298h0M1581 1239h0M1558 1205h0M1664 1118h0M1598 1264h0M1726 1179h0M1597 1207h0M1526 1242h0M1568 1289h0M1669 1129h0M1607 1260h0M1687 1118h0M1507 1341h0" stroke="#9ae2a8" stroke-width="5.2" stroke-linecap="round" fill="none" opacity="0.92"/>
<path d="M1523 1152h0M1565 1245h0M1474 1248h0M1570 1161h0M1710 1197h0M1549 1279h0M1514 1260h0M1663 1223h0M1597 1133h0M1692 1248h0M1706 1160h0M1674 1219h0M1606 1169h0M1650 1275h0M1490 1250h0M1690 1230h0M1529 1244h0M1601 1178h0M1501 1233h0M1609 1257h0M1628 1105h0M1691 1111h0M1520 1218h0M1608 1271h0M1631 1291h0M1564 1147h0M1581 1250h0M1506 1318h0M1481 1284h0M1736 1178h0M1672 1148h0M1565 1153h0M1701 1209h0M1524 1125h0M1665 1138h0M1564 1175h0M1645 1169h0M1561 1326h0M1527 1259h0M1587 1287h0M1587 1210h0M1626 1189h0M1677 1202h0M1658 1255h0M1531 1187h0M1562 1214h0M1673 1261h0M1653 1176h0M1725 1173h0M1606 1265h0M1594 1281h0M1572 1276h0M1688 1205h0M1679 1268h0M1509 1278h0M1622 1262h0M1548 1121h0M1490 1307h0M1501 1209h0M1612 1141h0M1697 1173h0M1615 1263h0M1558 1293h0M1484 1274h0M1628 1297h0M1564 1161h0M1623 1309h0M1581 1263h0M1589 1114h0M1520 1146h0M1615 1214h0M1572 1318h0" stroke="#fad27a" stroke-width="5.2" stroke-linecap="round" fill="none" opacity="0.92"/>
<path d="M1637 1235h0M1527 1182h0M1639 1210h0M1573 1222h0M1605 1312h0M1736 1187h0M1691 1159h0M1530 1288h0M1619 1130h0M1619 1209h0M1657 1111h0M1621 1195h0M1624 1174h0M1569 1335h0M1567 1296h0M1521 1298h0M1533 1272h0M1648 1214h0M1682 1213h0M1533 1230h0M1578 1292h0M1638 1132h0M1553 1204h0M1622 1160h0M1568 1145h0M1531 1312h0M1685 1129h0M1709 1162h0M1562 1138h0M1644 1275h0M1550 1342h0M1636 1184h0" stroke="#3c6daf" stroke-width="5.2" stroke-linecap="round" fill="none" opacity="0.92"/>
<path d="M1733 1206h0M1546 1294h0M1563 1290h0M1703 1202h0M1576 1250h0M1678 1236h0M1586 1222h0M1661 1124h0M1535 1188h0M1560 1150h0M1729 1191h0M1601 1264h0M1584 1238h0M1638 1253h0M1602 1098h0M1607 1218h0M1617 1271h0M1624 1284h0M1641 1253h0M1590 1276h0M1616 1151h0M1675 1209h0M1729 1195h0M1563 1163h0M1519 1214h0M1523 1209h0M1545 1235h0M1708 1178h0M1705 1143h0M1633 1288h0M1591 1210h0M1649 1204h0M1662 1222h0M1667 1119h0M1613 1207h0M1656 1189h0M1650 1280h0M1616 1253h0M1634 1271h0M1659 1236h0M1566 1120h0M1535 1206h0M1541 1157h0M1641 1208h0M1533 1142h0M1536 1153h0M1637 1300h0M1565 1150h0M1513 1286h0M1503 1300h0M1583 1280h0M1553 1224h0M1608 1205h0M1623 1135h0M1703 1166h0M1599 1250h0M1491 1235h0M1652 1166h0M1605 1334h0M1554 1255h0M1653 1109h0M1606 1277h0M1639 1148h0M1538 1138h0M1610 1206h0M1732 1173h0M1650 1218h0M1544 1245h0M1566 1245h0M1577 1207h0M1567 1131h0M1724 1187h0M1694 1208h0M1641 1112h0M1598 1082h0M1543 1277h0M1644 1226h0M1538 1338h0M1688 1143h0M1483 1281h0M1533 1253h0M1623 1272h0M1661 1140h0M1507 1276h0M1540 1163h0M1681 1203h0M1566 1146h0M1613 1229h0M1565 1304h0M1585 1311h0M1506 1207h0M1711 1152h0M1591 1171h0M1559 1308h0M1580 1218h0M1527 1198h0M1486 1246h0M1663 1215h0M1525 1303h0M1643 1189h0M1495 1280h0M1519 1268h0M1516 1325h0M1678 1121h0M1556 1273h0M1651 1281h0M1585 1309h0M1724 1209h0" stroke="#c0eca7" stroke-width="5.2" stroke-linecap="round" fill="none" opacity="0.92"/>
<path d="M1520 1149h0M1550 1283h0M1593 1164h0M1646 1268h0M1517 1254h0M1665 1264h0M1726 1191h0M1612 1270h0M1546 1326h0M1662 1110h0M1566 1219h0M1619 1115h0M1655 1193h0M1544 1347h0M1652 1134h0M1480 1282h0M1527 1141h0M1560 1284h0M1637 1099h0M1517 1149h0M1645 1204h0M1658 1116h0M1618 1256h0M1711 1172h0M1522 1237h0M1694 1146h0M1478 1283h0M1659 1252h0M1534 1312h0M1665 1271h0M1607 1084h0M1698 1238h0M1663 1151h0M1626 1262h0M1613 1189h0M1571 1117h0M1558 1203h0M1595 1166h0M1539 1322h0M1503 1190h0M1600 1212h0M1591 1172h0M1545 1324h0M1654 1204h0M1667 1170h0M1570 1338h0M1626 1284h0M1610 1221h0M1543 1177h0M1705 1189h0M1704 1151h0M1642 1295h0M1525 1304h0M1486 1240h0M1647 1207h0M1482 1296h0M1534 1186h0M1575 1324h0M1703 1189h0M1624 1161h0M1573 1137h0M1687 1169h0M1730 1170h0M1573 1231h0M1626 1166h0M1635 1182h0M1611 1252h0M1606 1226h0M1632 1212h0M1541 1329h0M1543 1280h0M1561 1116h0M1521 1214h0M1547 1285h0M1661 1267h0M1668 1112h0M1675 1232h0M1555 1237h0M1603 1192h0M1637 1277h0M1632 1259h0M1545 1231h0M1618 1264h0M1480 1285h0M1664 1109h0M1617 1156h0" stroke="#fbe394" stroke-width="5.2" stroke-linecap="round" fill="none" opacity="0.92"/>
<path d="M1653 1249h0M1550 1249h0M1691 1205h0M1554 1226h0M1661 1110h0M1552 1328h0M1558 1283h0M1548 1122h0M1557 1240h0M1582 1192h0M1565 1300h0M1650 1223h0M1739 1175h0M1658 1126h0M1520 1322h0M1699 1168h0M1604 1161h0M1633 1271h0M1656 1188h0M1501 1272h0M1564 1269h0M1658 1140h0M1665 1187h0M1672 1208h0M1599 1216h0M1567 1273h0M1548 1113h0M1674 1206h0M1587 1199h0M1704 1203h0M1559 1284h0M1669 1180h0M1624 1271h0M1542 1177h0M1586 1323h0M1541 1185h0M1588 1143h0M1626 1310h0M1552 1202h0M1615 1174h0M1607 1226h0M1507 1249h0M1611 1290h0M1596 1215h0M1544 1214h0M1582 1168h0M1675 1222h0M1562 1340h0M1633 1186h0M1550 1246h0M1556 1280h0M1635 1319h0M1569 1207h0M1676 1241h0M1487 1278h0M1666 1127h0" stroke="#ef8920" stroke-width="5.2" stroke-linecap="round" fill="none" opacity="0.92"/>
<path d="M1525 1312h0M1642 1143h0M1533 1195h0M1682 1206h0M1535 1272h0M1639 1192h0M1525 1170h0M1567 1226h0" stroke="#5059a6" stroke-width="5.2" stroke-linecap="round" fill="none" opacity="0.92"/>
<path d="M1684 1130h0M1546 1319h0M1687 1185h0M1619 1285h0M1583 1160h0M1486 1218h0M1506 1319h0M1598 1324h0M1544 1327h0M1551 1152h0M1546 1184h0M1561 1227h0M1512 1322h0M1597 1261h0M1625 1125h0M1529 1137h0M1669 1198h0M1615 1303h0M1663 1170h0M1495 1256h0M1698 1154h0M1545 1212h0M1530 1243h0M1667 1125h0M1668 1205h0M1698 1137h0M1598 1306h0M1672 1180h0M1689 1213h0M1670 1199h0M1636 1244h0M1557 1329h0M1638 1112h0M1490 1252h0M1688 1188h0M1613 1168h0M1568 1207h0M1533 1158h0M1621 1316h0M1681 1244h0M1564 1308h0M1703 1200h0M1634 1274h0M1529 1316h0M1620 1110h0M1589 1304h0M1675 1223h0M1571 1196h0M1528 1203h0M1575 1294h0M1667 1160h0M1680 1230h0M1647 1095h0M1519 1206h0M1590 1310h0M1750 1194h0M1560 1240h0M1601 1289h0M1660 1223h0M1510 1245h0M1485 1230h0M1640 1208h0M1707 1166h0M1581 1336h0M1621 1275h0M1655 1218h0M1596 1194h0M1701 1191h0M1671 1133h0M1481 1266h0M1653 1214h0M1640 1261h0M1646 1209h0M1497 1279h0M1568 1343h0M1587 1300h0M1710 1152h0M1677 1194h0M1635 1252h0M1700 1135h0M1522 1265h0M1587 1331h0M1616 1222h0M1534 1256h0M1511 1279h0M1601 1298h0M1645 1193h0M1581 1328h0M1531 1207h0M1710 1163h0M1623 1197h0" stroke="#3dc4af" stroke-width="5.2" stroke-linecap="round" fill="none" opacity="0.92"/>
<path d="M1626 1230h0M1674 1245h0M1545 1276h0M1635 1244h0M1697 1239h0M1551 1150h0M1546 1334h0M1682 1216h0M1621 1326h0M1627 1149h0M1527 1206h0M1544 1296h0M1569 1211h0M1545 1313h0M1554 1288h0M1670 1102h0M1695 1244h0M1586 1202h0M1697 1241h0M1564 1225h0M1638 1219h0M1531 1148h0M1570 1130h0M1588 1124h0M1563 1163h0M1613 1223h0M1573 1160h0M1679 1174h0M1546 1154h0M1684 1174h0M1576 1143h0M1679 1252h0M1575 1269h0M1504 1311h0M1630 1227h0M1560 1157h0M1620 1298h0M1572 1185h0M1560 1291h0M1524 1178h0M1613 1154h0M1594 1257h0M1567 1300h0M1652 1128h0M1664 1182h0M1624 1217h0M1702 1206h0M1648 1175h0M1559 1200h0M1618 1240h0M1515 1165h0M1606 1184h0M1565 1225h0M1625 1317h0M1591 1289h0M1690 1268h0M1600 1273h0M1635 1180h0M1529 1136h0M1678 1229h0M1558 1319h0M1602 1167h0M1518 1220h0M1640 1274h0M1624 1126h0M1496 1313h0M1706 1155h0M1620 1105h0M1515 1328h0M1564 1145h0M1504 1318h0M1610 1243h0M1605 1111h0M1693 1165h0M1626 1120h0M1580 1125h0M1586 1221h0" stroke="#1db2b4" stroke-width="5.2" stroke-linecap="round" fill="none" opacity="0.92"/>
<path d="M1520 1324h0M1543 1328h0M1527 1240h0M1623 1327h0M1606 1163h0M1695 1144h0M1692 1241h0M1694 1129h0M1611 1241h0M1640 1288h0M1518 1169h0M1575 1324h0M1588 1295h0M1639 1275h0M1638 1110h0M1683 1151h0M1557 1168h0M1530 1251h0M1520 1266h0M1717 1182h0M1504 1257h0M1658 1240h0M1631 1249h0M1655 1241h0M1587 1190h0M1658 1238h0M1583 1172h0M1638 1196h0M1642 1166h0M1517 1146h0M1579 1155h0M1615 1110h0M1657 1126h0M1610 1243h0M1545 1221h0M1560 1279h0M1626 1228h0M1500 1278h0M1660 1294h0M1626 1185h0M1548 1262h0M1530 1310h0M1724 1208h0M1582 1288h0M1470 1226h0M1504 1219h0M1657 1209h0M1716 1168h0M1502 1309h0M1699 1155h0M1554 1202h0M1478 1247h0M1521 1148h0M1478 1244h0M1660 1217h0M1551 1243h0M1592 1315h0M1543 1326h0M1702 1191h0M1626 1143h0M1564 1320h0M1673 1121h0M1522 1248h0M1530 1147h0M1526 1223h0M1483 1274h0M1621 1277h0M1644 1105h0M1661 1168h0M1659 1250h0M1550 1281h0M1616 1326h0M1669 1107h0M1681 1123h0M1635 1293h0M1561 1147h0M1715 1141h0M1509 1271h0M1516 1261h0M1679 1230h0M1557 1276h0M1631 1179h0M1487 1270h0M1551 1128h0M1570 1341h0M1563 1254h0M1707 1182h0M1617 1308h0M1539 1333h0M1490 1260h0M1598 1131h0M1703 1157h0M1534 1141h0M1522 1212h0M1553 1218h0M1504 1213h0M1586 1170h0M1628 1279h0M1614 1265h0M1656 1176h0M1693 1113h0M1574 1252h0M1598 1236h0M1536 1191h0M1494 1204h0M1571 1179h0M1544 1141h0M1632 1137h0M1621 1253h0M1617 1141h0M1678 1144h0M1546 1156h0M1609 1144h0M1655 1227h0M1483 1234h0M1683 1124h0M1546 1118h0M1598 1206h0M1598 1208h0M1542 1207h0M1630 1296h0M1658 1282h0M1530 1314h0M1551 1233h0M1509 1254h0M1609 1306h0M1669 1167h0M1563 1276h0M1592 1272h0M1572 1244h0M1563 1217h0M1608 1183h0M1489 1279h0M1635 1120h0M1543 1202h0M1617 1118h0M1642 1221h0M1596 1209h0M1623 1314h0M1568 1278h0M1483 1277h0M1512 1244h0M1586 1199h0M1553 1268h0M1529 1148h0M1524 1231h0M1581 1214h0M1638 1222h0M1553 1203h0" stroke="#f1f0a4" stroke-width="5.2" stroke-linecap="round" fill="none" opacity="0.92"/>
<path d="M1581 1224h0M1561 1308h0M1646 1227h0M1504 1225h0M1502 1306h0M1677 1174h0M1631 1245h0M1608 1314h0M1555 1231h0M1567 1340h0M1600 1227h0M1623 1219h0M1584 1165h0M1617 1171h0M1666 1169h0M1711 1193h0M1565 1137h0M1489 1252h0M1504 1314h0M1581 1221h0M1485 1278h0M1601 1329h0M1608 1225h0M1489 1273h0M1614 1194h0M1629 1323h0M1538 1194h0M1727 1176h0M1550 1241h0M1581 1192h0M1689 1192h0M1584 1181h0M1536 1137h0M1640 1213h0M1621 1284h0M1592 1265h0M1544 1319h0M1499 1258h0M1587 1285h0M1549 1335h0M1674 1235h0M1571 1274h0M1494 1222h0M1629 1216h0M1524 1206h0M1717 1183h0M1700 1132h0M1507 1325h0M1576 1252h0" stroke="#139db7" stroke-width="5.2" stroke-linecap="round" fill="none" opacity="0.92"/>
<path d="M1684 1162h0M1633 1206h0M1528 1200h0M1559 1126h0M1619 1137h0M1581 1324h0M1631 1163h0M1638 1217h0M1620 1206h0M1698 1243h0M1715 1218h0M1650 1276h0M1604 1098h0M1563 1187h0M1682 1217h0M1568 1150h0M1692 1121h0M1614 1209h0M1597 1250h0M1531 1160h0" stroke="#c63b3d" stroke-width="5.2" stroke-linecap="round" fill="none" opacity="0.92"/>
<path d="M1682 1249h0M1594 1124h0M1716 1163h0M1700 1177h0M1564 1205h0M1639 1268h0M1620 1298h0M1548 1136h0M1638 1252h0M1517 1211h0M1664 1124h0M1659 1263h0M1652 1165h0M1603 1256h0M1538 1126h0M1591 1222h0M1625 1264h0M1616 1127h0M1576 1317h0M1675 1123h0M1536 1131h0M1557 1147h0" stroke="#d75530" stroke-width="5.2" stroke-linecap="round" fill="none" opacity="0.92"/>
<path d="M1593 1110h0M1606 1095h0M1576 1279h0M1555 1140h0M1542 1162h0M1526 1176h0M1556 1243h0M1622 1148h0M1638 1288h0M1570 1292h0M1540 1282h0M1664 1262h0M1691 1124h0M1673 1227h0M1683 1171h0M1558 1254h0M1551 1266h0M1524 1149h0M1611 1118h0M1534 1124h0M1608 1204h0M1610 1296h0M1566 1215h0M1536 1171h0M1602 1303h0M1599 1215h0M1713 1164h0M1604 1103h0" stroke="#e56f27" stroke-width="5.2" stroke-linecap="round" fill="none" opacity="0.92"/>
<path d="M1625 1173h0M1574 1118h0M1661 1214h0M1657 1189h0M1535 1192h0M1600 1164h0M1581 1222h0M1537 1219h0M1665 1112h0M1616 1301h0M1608 1225h0M1644 1165h0M1518 1302h0M1569 1269h0M1656 1123h0M1691 1209h0M1645 1145h0M1573 1133h0M1658 1276h0M1549 1307h0M1483 1270h0M1568 1313h0M1650 1229h0M1590 1113h0M1597 1245h0M1488 1275h0M1713 1160h0M1574 1318h0M1504 1320h0M1696 1250h0M1497 1241h0M1506 1214h0M1634 1228h0M1613 1243h0M1562 1343h0M1574 1161h0M1638 1171h0M1703 1154h0M1655 1253h0M1649 1219h0M1645 1206h0M1564 1264h0M1589 1328h0M1507 1199h0M1546 1313h0M1595 1309h0M1543 1315h0M1576 1288h0M1665 1224h0M1514 1165h0M1721 1205h0M1694 1250h0M1597 1256h0M1596 1324h0" stroke="#6ad3ad" stroke-width="5.2" stroke-linecap="round" fill="none" opacity="0.92"/>
<path d="M1600 1172h0M1677 1221h0M1723 1207h0M1491 1264h0M1584 1177h0M1704 1190h0M1588 1297h0M1673 1158h0M1585 1301h0M1660 1187h0M1622 1326h0M1613 1229h0M1554 1340h0M1639 1246h0M1647 1109h0M1563 1288h0M1660 1272h0M1657 1215h0M1657 1262h0M1618 1131h0M1522 1263h0M1527 1332h0M1626 1133h0M1598 1245h0M1647 1278h0M1576 1321h0M1534 1182h0M1615 1322h0M1615 1221h0M1543 1295h0M1735 1162h0M1619 1331h0" stroke="#1b86b7" stroke-width="5.2" stroke-linecap="round" fill="none" opacity="0.92"/>
<path d="M1641 1108h0M1607 1182h0M1688 1113h0M1524 1192h0M1692 1204h0M1640 1274h0M1636 1098h0M1568 1192h0M1501 1199h0M1665 1128h0M1585 1138h0M1502 1311h0M1547 1272h0M1589 1325h0M1552 1213h0M1698 1189h0M1635 1289h0M1659 1161h0M1635 1256h0M1593 1294h0M1687 1214h0M1597 1090h0M1545 1327h0M1658 1211h0M1651 1220h0M1592 1166h0M1484 1234h0M1580 1131h0M1525 1240h0M1658 1126h0M1558 1333h0M1602 1220h0M1618 1147h0M1503 1306h0M1611 1251h0M1580 1217h0M1556 1289h0M1529 1223h0M1544 1320h0M1673 1208h0M1566 1173h0M1659 1234h0M1604 1282h0M1666 1145h0M1497 1281h0M1585 1233h0M1646 1174h0M1547 1162h0M1656 1243h0M1596 1173h0M1587 1245h0M1710 1196h0M1622 1274h0M1628 1113h0M1584 1128h0M1635 1250h0M1607 1171h0M1587 1281h0M1538 1132h0M1536 1152h0M1526 1327h0M1607 1218h0M1554 1138h0M1562 1232h0M1523 1288h0M1557 1284h0M1590 1130h0M1620 1230h0M1616 1294h0M1566 1248h0M1582 1277h0M1659 1124h0M1659 1285h0M1558 1165h0M1572 1252h0M1677 1228h0M1495 1293h0M1591 1224h0M1560 1288h0M1595 1294h0M1526 1307h0M1568 1172h0M1635 1293h0M1648 1261h0M1659 1175h0M1573 1117h0" stroke="#f7bb5c" stroke-width="5.2" stroke-linecap="round" fill="none" opacity="0.92"/>
<path d="M1625 1111h0M1515 1231h0M1658 1129h0M1580 1274h0M1727 1170h0M1533 1153h0M1645 1224h0M1505 1207h0M1648 1106h0M1720 1172h0M1544 1285h0M1663 1125h0M1523 1140h0M1551 1152h0M1596 1253h0M1529 1204h0M1687 1174h0M1654 1184h0M1591 1226h0M1530 1269h0M1716 1142h0M1637 1151h0M1667 1222h0M1696 1104h0M1582 1294h0M1550 1342h0M1611 1259h0M1552 1277h0M1686 1178h0M1630 1223h0M1536 1122h0M1584 1272h0M1544 1150h0M1528 1258h0M1637 1146h0M1596 1134h0M1516 1201h0M1493 1269h0M1615 1112h0M1615 1237h0M1598 1260h0M1594 1117h0M1645 1251h0M1661 1268h0M1540 1284h0M1557 1248h0M1530 1145h0M1667 1257h0M1613 1192h0M1624 1221h0M1546 1294h0M1715 1190h0M1594 1304h0M1611 1220h0M1639 1273h0M1582 1189h0M1605 1150h0M1675 1255h0M1484 1271h0M1652 1274h0M1639 1100h0M1606 1214h0M1585 1288h0M1558 1256h0M1681 1178h0M1591 1253h0M1561 1267h0M1539 1165h0M1613 1113h0M1682 1240h0M1544 1292h0M1509 1266h0M1645 1209h0M1647 1123h0M1592 1214h0M1570 1173h0M1613 1164h0M1691 1200h0M1543 1167h0M1509 1314h0M1578 1272h0M1672 1221h0M1510 1321h0M1595 1267h0" stroke="#f4a33c" stroke-width="5.2" stroke-linecap="round" fill="none" opacity="0.92"/>
<path d="M1554 1230h0M1574 1112h0M1514 1289h0M1499 1205h0M1570 1127h0M1685 1135h0M1562 1264h0M1577 1134h0M1575 1180h0M1630 1116h0M1579 1219h0M1651 1286h0M1680 1192h0M1603 1261h0M1637 1112h0M1646 1156h0M1632 1147h0M1517 1286h0M1695 1186h0M1634 1278h0M1493 1244h0M1561 1285h0M1536 1247h0M1504 1290h0M1683 1179h0M1599 1251h0M1684 1119h0M1714 1238h0M1591 1192h0M1712 1143h0M1560 1199h0M1683 1147h0M1542 1300h0M1645 1270h0M1576 1230h0M1621 1133h0M1601 1197h0M1557 1150h0M1477 1286h0M1639 1241h0M1607 1133h0M1610 1236h0M1574 1170h0M1636 1182h0M1518 1311h0M1613 1282h0M1717 1166h0M1575 1142h0M1562 1254h0M1567 1145h0M1584 1166h0M1519 1149h0M1655 1153h0M1577 1250h0M1626 1193h0M1706 1186h0M1557 1273h0M1580 1232h0M1612 1156h0M1587 1311h0M1551 1114h0M1530 1142h0M1582 1194h0M1585 1171h0M1630 1196h0M1610 1111h0M1717 1182h0M1586 1286h0M1606 1107h0M1563 1226h0M1632 1288h0M1687 1216h0M1518 1258h0M1581 1290h0M1471 1263h0M1592 1115h0M1503 1300h0M1623 1175h0M1647 1105h0M1722 1182h0M1690 1136h0M1661 1238h0M1498 1296h0M1675 1220h0M1547 1174h0M1596 1264h0M1494 1275h0M1629 1254h0M1499 1251h0M1720 1182h0M1563 1221h0M1526 1213h0M1558 1283h0M1499 1274h0M1713 1182h0M1654 1163h0M1578 1182h0M1621 1255h0M1610 1119h0M1661 1272h0M1555 1294h0M1647 1140h0M1580 1107h0M1633 1102h0M1618 1279h0M1576 1314h0M1650 1207h0M1572 1111h0M1617 1261h0M1472 1258h0M1532 1207h0M1648 1111h0M1627 1231h0M1526 1143h0M1657 1267h0M1698 1154h0M1679 1234h0M1550 1224h0M1656 1237h0M1528 1204h0M1555 1238h0M1699 1174h0M1686 1199h0M1566 1206h0M1587 1222h0M1534 1301h0M1600 1207h0M1601 1196h0M1579 1245h0M1654 1127h0M1662 1278h0M1560 1133h0M1574 1165h0M1541 1324h0M1599 1238h0M1651 1149h0M1639 1167h0M1550 1328h0M1651 1239h0M1710 1170h0M1521 1220h0M1607 1227h0M1565 1211h0M1734 1166h0M1627 1240h0M1611 1249h0M1599 1181h0M1507 1241h0M1552 1332h0M1646 1244h0M1629 1236h0M1617 1257h0M1645 1213h0M1626 1200h0M1705 1152h0M1570 1213h0M1719 1192h0M1492 1247h0M1557 1329h0M1551 1260h0M1477 1292h0M1619 1103h0M1487 1253h0M1697 1188h0M1564 1147h0M1511 1202h0M1615 1306h0M1647 1297h0M1594 1167h0M1566 1183h0M1589 1337h0M1527 1221h0M1524 1223h0M1665 1177h0M1606 1246h0" stroke="#def3a8" stroke-width="5.2" stroke-linecap="round" fill="none" opacity="0.92"/>
<path d="M1549 1325h0M1719 1195h0M1586 1191h0M1592 1227h0M1517 1299h0M1569 1142h0M1561 1245h0M1571 1238h0M1628 1300h0M1639 1105h0M1608 1117h0M1573 1129h0M1637 1250h0M1551 1205h0M1712 1165h0M1613 1197h0M1574 1205h0M1541 1147h0M1621 1250h0M1651 1301h0" stroke="#ad2347" stroke-width="5.2" stroke-linecap="round" fill="none" opacity="0.92"/>
<path d="M1679 1163h0M1620 1294h0M1683 1245h0M1577 1193h0M1575 1190h0M1593 1300h0M1520 1245h0M1562 1262h0M1562 1268h0M1587 1161h0M1689 1171h0M1611 1279h0M1502 1258h0M1503 1247h0M1590 1330h0M1633 1105h0M1523 1186h0M1683 1257h0M1571 1227h0M1662 1184h0M1555 1275h0M1501 1250h0M1510 1183h0M1635 1136h0M1518 1309h0M1689 1236h0M1578 1214h0M1573 1149h0M1545 1231h0M1647 1173h0M1632 1122h0M1675 1119h0M1524 1186h0M1624 1130h0M1567 1130h0M1659 1264h0M1521 1168h0M1549 1337h0M1502 1276h0M1649 1170h0M1717 1145h0M1608 1272h0M1619 1145h0M1488 1246h0M1697 1185h0M1686 1179h0M1674 1206h0M1648 1186h0M1640 1124h0M1662 1137h0M1502 1264h0M1644 1130h0M1552 1268h0M1552 1146h0M1528 1150h0M1667 1250h0M1696 1241h0M1529 1189h0M1600 1133h0M1562 1154h0M1633 1239h0M1552 1273h0M1660 1267h0M1496 1209h0M1615 1186h0M1553 1320h0M1533 1178h0M1608 1249h0M1620 1257h0M1594 1266h0M1572 1182h0M1523 1201h0M1579 1133h0M1669 1159h0M1695 1207h0M1475 1272h0M1504 1207h0M1560 1285h0M1641 1125h0M1508 1272h0M1603 1232h0M1552 1187h0M1482 1281h0M1721 1199h0M1570 1171h0M1503 1294h0M1554 1257h0M1573 1182h0M1663 1126h0M1689 1174h0M1607 1249h0" stroke="#f7bb5c" stroke-width="5.2" stroke-linecap="round" fill="none" opacity="0.92"/>
<path d="M1716 1201h0M1582 1129h0M1650 1218h0" stroke="#5059a6" stroke-width="5.2" stroke-linecap="round" fill="none" opacity="0.92"/>
<path d="M1540 1199h0M1605 1256h0M1530 1253h0M1580 1149h0M1681 1229h0M1497 1282h0M1550 1303h0M1541 1135h0M1595 1326h0M1674 1170h0M1617 1109h0M1533 1284h0M1652 1207h0M1604 1315h0M1573 1137h0M1578 1249h0M1653 1124h0M1513 1291h0M1602 1311h0M1565 1294h0M1652 1287h0M1655 1223h0M1613 1265h0M1582 1188h0M1528 1310h0M1566 1166h0M1623 1282h0M1650 1196h0M1484 1295h0M1658 1271h0M1643 1289h0M1712 1168h0M1547 1300h0M1664 1115h0M1565 1128h0M1622 1114h0M1583 1294h0M1596 1319h0M1612 1133h0M1520 1216h0M1541 1235h0M1581 1240h0M1587 1295h0M1524 1219h0" stroke="#139db7" stroke-width="5.2" stroke-linecap="round" fill="none" opacity="0.92"/>
<path d="M1706 1134h0M1606 1244h0M1631 1244h0M1685 1184h0M1612 1140h0M1482 1248h0M1599 1234h0M1638 1232h0M1640 1237h0M1568 1345h0M1701 1145h0M1491 1249h0M1582 1129h0M1594 1202h0M1502 1258h0M1683 1211h0M1547 1292h0M1551 1271h0M1619 1134h0M1654 1147h0M1662 1173h0M1588 1110h0M1585 1261h0M1587 1205h0M1541 1231h0M1632 1224h0M1536 1278h0M1570 1181h0M1555 1306h0M1592 1227h0M1517 1146h0M1642 1251h0M1642 1135h0M1684 1169h0M1484 1271h0M1480 1249h0M1506 1324h0M1729 1185h0M1538 1276h0M1577 1111h0M1653 1231h0M1674 1202h0M1586 1183h0M1690 1180h0M1702 1231h0M1660 1273h0M1693 1186h0M1587 1110h0M1515 1300h0M1506 1223h0M1577 1106h0M1647 1184h0M1604 1236h0M1560 1128h0M1510 1316h0M1652 1168h0M1573 1203h0M1579 1254h0M1576 1162h0M1537 1332h0M1654 1213h0M1526 1176h0M1702 1224h0M1565 1156h0M1693 1165h0M1509 1184h0M1533 1334h0M1537 1159h0M1545 1249h0M1493 1240h0M1620 1160h0M1636 1157h0M1489 1254h0M1619 1293h0M1506 1300h0M1605 1171h0M1630 1296h0M1571 1198h0M1725 1185h0M1599 1325h0M1604 1133h0M1573 1296h0M1538 1231h0M1559 1186h0M1562 1292h0M1732 1182h0M1513 1208h0M1614 1271h0M1722 1199h0M1709 1179h0M1620 1277h0M1561 1120h0M1670 1108h0M1625 1154h0M1656 1109h0M1501 1217h0M1571 1236h0M1505 1302h0M1532 1142h0M1527 1172h0M1709 1168h0M1483 1237h0M1572 1278h0M1546 1159h0M1548 1278h0M1584 1186h0M1565 1287h0M1558 1291h0M1732 1180h0M1552 1242h0M1629 1235h0M1608 1230h0M1676 1115h0M1610 1080h0M1516 1158h0M1715 1200h0M1585 1244h0M1595 1291h0M1625 1254h0M1568 1199h0M1591 1293h0M1583 1176h0M1544 1334h0M1528 1152h0M1584 1193h0M1583 1173h0M1518 1145h0M1553 1282h0M1516 1260h0M1650 1245h0M1505 1322h0M1510 1304h0M1521 1258h0M1552 1275h0M1543 1168h0M1586 1234h0M1683 1109h0M1636 1101h0M1631 1144h0M1516 1252h0M1614 1117h0M1606 1270h0M1576 1293h0M1592 1313h0M1533 1124h0M1578 1268h0M1495 1256h0M1622 1197h0M1553 1144h0M1552 1325h0M1645 1140h0M1510 1198h0M1558 1279h0M1542 1120h0M1628 1307h0M1547 1245h0M1573 1285h0M1582 1172h0M1617 1132h0M1537 1228h0" stroke="#f1f0a4" stroke-width="5.2" stroke-linecap="round" fill="none" opacity="0.92"/>
<path d="M1603 1158h0M1561 1292h0M1546 1128h0M1635 1248h0M1697 1207h0M1600 1254h0M1533 1209h0M1669 1188h0M1651 1213h0M1610 1173h0M1568 1131h0M1671 1237h0M1579 1192h0M1736 1167h0M1581 1157h0M1645 1114h0M1649 1290h0M1735 1186h0M1576 1195h0M1610 1307h0M1478 1241h0M1504 1319h0M1573 1191h0M1696 1183h0M1580 1153h0M1683 1222h0M1664 1110h0M1543 1323h0M1563 1130h0M1668 1191h0M1590 1249h0M1671 1200h0M1673 1130h0M1554 1215h0M1665 1125h0M1612 1291h0M1650 1107h0M1579 1190h0M1580 1236h0M1538 1296h0M1613 1142h0M1725 1151h0M1630 1131h0M1572 1109h0M1565 1125h0M1484 1228h0M1595 1165h0M1580 1167h0M1617 1276h0M1541 1146h0M1568 1249h0M1694 1213h0M1509 1178h0M1560 1273h0M1651 1185h0M1656 1213h0M1556 1282h0M1720 1180h0M1638 1128h0M1683 1209h0M1516 1206h0M1607 1131h0M1630 1291h0M1580 1149h0M1695 1219h0M1668 1174h0M1605 1242h0M1542 1184h0M1587 1148h0M1599 1260h0M1664 1116h0M1578 1250h0M1551 1185h0M1701 1233h0M1561 1245h0M1615 1280h0M1573 1159h0M1629 1163h0M1677 1200h0M1516 1264h0M1706 1205h0M1594 1294h0M1567 1316h0M1520 1198h0M1536 1181h0M1567 1124h0M1478 1232h0M1521 1186h0M1631 1224h0M1705 1191h0M1660 1177h0M1596 1159h0M1530 1177h0M1501 1275h0M1531 1139h0M1550 1261h0M1562 1251h0" stroke="#fbe394" stroke-width="5.2" stroke-linecap="round" fill="none" opacity="0.92"/>
<path d="M1600 1308h0M1536 1224h0M1637 1117h0M1615 1134h0M1643 1284h0M1563 1136h0M1540 1131h0M1564 1160h0M1572 1277h0M1550 1205h0M1476 1232h0M1607 1186h0M1630 1239h0M1726 1206h0M1678 1228h0M1562 1154h0M1573 1158h0M1567 1192h0M1665 1103h0M1592 1194h0M1701 1163h0M1587 1206h0M1496 1256h0M1590 1185h0M1659 1104h0M1586 1185h0M1670 1114h0M1636 1275h0" stroke="#e56f27" stroke-width="5.2" stroke-linecap="round" fill="none" opacity="0.92"/>
<path d="M1691 1126h0M1588 1251h0M1692 1207h0M1621 1332h0M1516 1240h0M1709 1184h0M1581 1328h0M1576 1306h0M1651 1255h0M1590 1344h0M1566 1164h0M1672 1268h0M1575 1119h0M1580 1270h0M1644 1174h0M1637 1316h0M1655 1260h0M1612 1105h0M1621 1128h0" stroke="#3c6daf" stroke-width="5.2" stroke-linecap="round" fill="none" opacity="0.92"/>
<path d="M1558 1298h0M1669 1138h0M1695 1248h0M1524 1140h0M1589 1238h0M1601 1318h0M1659 1113h0M1530 1152h0M1607 1224h0M1494 1254h0M1650 1194h0M1668 1193h0M1566 1269h0M1588 1170h0M1745 1165h0M1723 1156h0M1515 1206h0M1592 1306h0M1536 1129h0M1685 1137h0M1518 1203h0M1632 1182h0M1675 1170h0M1553 1189h0M1547 1146h0M1735 1168h0M1646 1275h0M1579 1329h0M1676 1127h0M1600 1209h0M1649 1109h0M1713 1193h0M1586 1176h0M1577 1195h0M1473 1261h0M1562 1127h0M1569 1212h0M1653 1141h0M1590 1144h0M1533 1249h0M1671 1217h0M1587 1236h0M1648 1181h0M1503 1218h0" stroke="#ef8920" stroke-width="5.2" stroke-linecap="round" fill="none" opacity="0.92"/>
<path d="M1604 1182h0M1701 1233h0M1526 1143h0M1524 1285h0M1522 1300h0M1599 1250h0M1710 1194h0M1650 1167h0M1591 1292h0M1664 1251h0M1649 1205h0M1546 1198h0M1582 1317h0M1592 1261h0M1563 1296h0M1658 1282h0M1556 1250h0M1504 1301h0M1501 1301h0M1709 1138h0M1713 1162h0M1535 1210h0M1481 1261h0M1573 1239h0M1634 1119h0M1686 1163h0M1622 1195h0M1683 1156h0M1627 1130h0M1526 1221h0M1554 1336h0M1624 1131h0M1527 1238h0M1562 1201h0M1675 1181h0M1570 1315h0M1568 1295h0M1550 1204h0M1633 1306h0M1616 1283h0M1660 1285h0M1485 1306h0M1620 1187h0M1559 1287h0M1613 1286h0M1656 1106h0M1518 1208h0M1591 1142h0M1566 1320h0M1610 1210h0M1679 1149h0M1637 1216h0M1481 1227h0M1590 1299h0M1670 1106h0M1668 1141h0M1589 1112h0M1575 1227h0M1582 1190h0M1699 1198h0M1475 1240h0M1578 1191h0M1634 1236h0M1600 1100h0M1596 1194h0M1622 1233h0M1625 1151h0M1515 1186h0M1475 1250h0M1671 1123h0M1640 1135h0M1673 1200h0M1623 1103h0M1611 1144h0M1597 1291h0M1618 1232h0M1596 1251h0M1674 1220h0M1532 1186h0M1514 1244h0M1473 1266h0M1529 1280h0M1532 1305h0M1632 1166h0M1572 1136h0M1705 1230h0M1679 1120h0M1617 1281h0M1682 1118h0M1588 1227h0M1553 1265h0M1644 1235h0M1612 1290h0M1549 1200h0M1691 1216h0M1521 1175h0M1549 1312h0M1692 1249h0M1603 1176h0M1676 1167h0M1592 1109h0M1480 1232h0M1527 1175h0M1596 1292h0M1698 1140h0M1540 1169h0M1616 1294h0M1555 1295h0M1652 1212h0M1541 1248h0M1510 1209h0M1590 1223h0M1559 1147h0M1552 1152h0M1516 1188h0M1695 1182h0M1558 1250h0M1623 1318h0M1572 1117h0M1557 1274h0M1578 1111h0M1644 1216h0M1518 1284h0M1523 1248h0M1514 1201h0M1567 1133h0M1598 1267h0M1657 1106h0M1640 1220h0M1523 1207h0M1607 1139h0M1648 1188h0M1523 1214h0M1572 1310h0M1683 1197h0M1649 1160h0M1679 1213h0M1611 1331h0M1668 1195h0M1689 1214h0M1612 1297h0M1545 1297h0M1677 1211h0M1588 1105h0M1545 1325h0M1575 1227h0M1601 1103h0M1632 1144h0M1573 1188h0M1595 1174h0M1653 1132h0M1643 1147h0M1657 1177h0M1536 1324h0M1610 1323h0M1614 1264h0M1619 1117h0M1563 1322h0M1611 1278h0M1633 1102h0M1562 1182h0M1659 1248h0M1573 1188h0M1604 1229h0M1581 1144h0M1485 1259h0M1547 1212h0M1523 1255h0" stroke="#def3a8" stroke-width="5.2" stroke-linecap="round" fill="none" opacity="0.92"/>
<path d="M1561 1181h0M1571 1280h0M1529 1265h0M1499 1293h0M1564 1154h0M1534 1271h0M1726 1163h0M1689 1143h0M1668 1237h0M1588 1303h0M1678 1173h0M1597 1104h0M1564 1328h0M1734 1186h0M1600 1119h0M1588 1305h0M1567 1130h0M1621 1173h0M1664 1218h0M1515 1155h0M1546 1289h0M1636 1157h0M1670 1235h0M1557 1246h0M1608 1288h0M1549 1243h0M1542 1308h0M1509 1306h0M1533 1197h0M1547 1222h0M1674 1127h0M1509 1240h0M1571 1252h0M1515 1198h0M1640 1306h0M1607 1244h0M1551 1262h0M1525 1309h0M1657 1116h0M1664 1286h0M1548 1247h0M1680 1164h0M1545 1323h0M1634 1161h0M1653 1284h0M1572 1289h0M1644 1113h0M1657 1107h0M1702 1143h0M1694 1167h0M1569 1298h0M1656 1201h0M1572 1182h0M1619 1155h0" stroke="#9ae2a8" stroke-width="5.2" stroke-linecap="round" fill="none" opacity="0.92"/>
<path d="M1697 1120h0M1472 1259h0M1680 1180h0M1481 1250h0M1512 1201h0M1528 1156h0M1559 1233h0M1572 1155h0M1568 1212h0M1628 1118h0M1688 1200h0M1586 1238h0M1636 1185h0M1521 1257h0M1689 1198h0M1568 1232h0M1587 1307h0M1596 1282h0" stroke="#ad2347" stroke-width="5.2" stroke-linecap="round" fill="none" opacity="0.92"/>
<path d="M1574 1218h0M1523 1311h0M1609 1232h0M1490 1229h0M1554 1258h0M1549 1285h0M1604 1308h0M1615 1271h0M1575 1278h0M1679 1262h0M1553 1309h0M1590 1143h0M1501 1225h0M1650 1173h0M1484 1235h0M1692 1175h0M1717 1145h0M1665 1215h0M1545 1304h0M1615 1306h0M1610 1205h0M1603 1191h0M1670 1275h0M1609 1312h0M1588 1304h0M1658 1183h0M1722 1193h0M1637 1129h0M1567 1212h0" stroke="#1b86b7" stroke-width="5.2" stroke-linecap="round" fill="none" opacity="0.92"/>
<path d="M1557 1250h0M1590 1152h0M1534 1306h0M1559 1251h0M1568 1154h0M1676 1109h0M1675 1220h0M1569 1167h0M1595 1220h0M1645 1150h0M1542 1167h0M1550 1309h0M1580 1167h0M1635 1289h0M1598 1260h0M1617 1113h0M1532 1264h0M1557 1186h0M1625 1303h0M1627 1306h0M1586 1320h0M1709 1208h0M1569 1296h0M1615 1225h0M1538 1265h0M1535 1327h0M1597 1119h0M1610 1271h0M1564 1341h0M1559 1198h0M1588 1130h0M1527 1132h0M1540 1143h0M1578 1193h0M1663 1135h0M1517 1171h0M1666 1274h0M1674 1165h0M1564 1213h0M1587 1115h0M1531 1237h0M1623 1260h0M1657 1228h0M1499 1261h0M1504 1199h0M1642 1208h0M1476 1265h0M1722 1163h0M1575 1227h0M1621 1158h0M1598 1327h0M1565 1162h0M1612 1279h0M1668 1215h0M1722 1206h0M1718 1184h0M1613 1206h0M1587 1118h0M1499 1260h0M1486 1242h0M1516 1327h0M1510 1313h0M1662 1138h0M1709 1183h0M1608 1278h0M1604 1277h0M1592 1262h0M1563 1347h0M1527 1175h0M1595 1166h0M1564 1152h0M1578 1254h0M1728 1156h0M1691 1200h0M1648 1218h0M1717 1208h0M1510 1184h0M1507 1243h0M1641 1134h0M1626 1196h0M1607 1111h0M1563 1125h0M1616 1222h0M1576 1295h0M1620 1115h0M1534 1241h0M1671 1136h0M1695 1193h0M1606 1260h0M1581 1253h0M1533 1189h0M1517 1267h0M1619 1250h0M1508 1271h0M1551 1261h0M1673 1148h0M1554 1181h0M1547 1170h0M1693 1169h0M1656 1220h0M1655 1209h0" stroke="#c0eca7" stroke-width="5.2" stroke-linecap="round" fill="none" opacity="0.92"/>
<path d="M1522 1241h0M1517 1180h0M1642 1201h0M1687 1220h0M1578 1321h0M1673 1142h0M1571 1145h0M1619 1263h0M1616 1271h0M1615 1273h0M1481 1238h0M1648 1120h0M1547 1210h0M1662 1273h0M1601 1204h0M1595 1228h0M1702 1233h0M1568 1250h0M1671 1218h0M1653 1111h0M1476 1267h0M1634 1124h0M1632 1191h0M1555 1323h0M1581 1195h0M1602 1206h0M1565 1221h0M1565 1114h0M1554 1161h0M1562 1137h0M1519 1139h0M1489 1273h0M1481 1259h0M1517 1324h0M1686 1181h0M1695 1141h0M1557 1241h0M1741 1175h0M1531 1309h0M1525 1311h0M1638 1149h0M1516 1320h0M1577 1251h0M1516 1198h0M1671 1108h0M1639 1200h0M1560 1249h0M1536 1157h0M1605 1330h0M1524 1177h0M1523 1301h0M1572 1277h0M1516 1218h0M1636 1202h0M1600 1267h0M1545 1248h0M1635 1253h0M1533 1162h0M1517 1255h0M1551 1263h0M1520 1153h0M1650 1237h0M1557 1155h0M1628 1268h0M1585 1239h0M1632 1204h0M1716 1199h0M1690 1243h0M1607 1241h0M1716 1199h0M1662 1109h0M1539 1245h0M1570 1204h0M1651 1131h0M1649 1107h0M1560 1155h0M1615 1256h0M1647 1230h0M1574 1186h0M1697 1247h0M1512 1211h0M1546 1124h0" stroke="#f4a33c" stroke-width="5.2" stroke-linecap="round" fill="none" opacity="0.92"/>
<path d="M1563 1259h0M1552 1258h0M1578 1333h0M1505 1218h0M1526 1199h0M1583 1173h0M1668 1098h0M1512 1188h0M1656 1190h0M1594 1230h0M1504 1257h0M1649 1245h0M1539 1272h0M1575 1137h0M1589 1175h0M1632 1192h0M1545 1307h0M1619 1216h0M1703 1175h0M1571 1327h0M1589 1339h0M1609 1246h0M1722 1167h0M1490 1271h0M1506 1305h0M1619 1327h0M1604 1196h0M1624 1168h0M1580 1324h0M1602 1097h0M1632 1107h0M1562 1194h0M1606 1295h0M1610 1299h0M1638 1274h0M1665 1169h0M1547 1263h0M1684 1250h0M1740 1176h0M1552 1337h0M1551 1325h0M1642 1181h0M1647 1182h0M1584 1314h0M1567 1342h0M1642 1242h0M1577 1244h0M1547 1234h0M1553 1266h0M1525 1178h0M1659 1124h0M1600 1176h0M1682 1259h0M1580 1151h0M1602 1172h0M1553 1323h0M1638 1223h0M1645 1224h0M1563 1244h0M1592 1168h0M1564 1213h0M1542 1314h0M1479 1251h0M1644 1204h0M1712 1214h0M1591 1114h0M1554 1250h0M1675 1221h0M1618 1314h0M1560 1151h0M1540 1172h0M1487 1278h0M1577 1142h0M1631 1219h0M1668 1192h0M1557 1310h0M1497 1221h0M1704 1194h0M1620 1208h0M1686 1169h0M1562 1336h0M1551 1264h0M1577 1140h0M1516 1193h0M1644 1191h0M1606 1228h0M1648 1264h0M1676 1222h0M1698 1239h0M1654 1228h0M1606 1083h0M1643 1178h0M1598 1104h0M1671 1216h0" stroke="#1db2b4" stroke-width="5.2" stroke-linecap="round" fill="none" opacity="0.92"/>
<path d="M1612 1146h0M1708 1179h0M1710 1180h0M1561 1206h0M1537 1155h0M1536 1183h0M1629 1178h0M1621 1269h0M1510 1247h0M1586 1159h0M1648 1114h0M1586 1203h0M1658 1213h0M1495 1222h0M1559 1282h0M1597 1246h0M1707 1176h0M1635 1169h0M1614 1276h0M1663 1211h0M1685 1175h0M1520 1179h0M1627 1254h0M1717 1207h0M1670 1233h0M1699 1143h0M1583 1294h0M1604 1103h0M1612 1134h0M1491 1311h0M1634 1215h0M1490 1280h0M1685 1210h0M1525 1203h0M1630 1142h0M1505 1271h0M1519 1149h0M1525 1249h0M1647 1205h0M1680 1119h0M1606 1124h0M1702 1142h0M1695 1141h0M1638 1270h0M1586 1182h0M1638 1179h0M1711 1172h0M1709 1198h0M1599 1087h0M1640 1184h0M1531 1199h0M1648 1262h0M1699 1237h0M1619 1119h0M1604 1166h0M1514 1260h0M1564 1169h0M1521 1291h0M1665 1113h0M1535 1250h0M1634 1174h0M1622 1221h0M1629 1294h0M1536 1249h0M1529 1231h0M1546 1149h0" stroke="#fad27a" stroke-width="5.2" stroke-linecap="round" fill="none" opacity="0.92"/>
<path d="M1631 1123h0M1594 1303h0M1545 1269h0M1541 1339h0M1531 1273h0M1526 1242h0M1688 1183h0M1494 1280h0M1475 1230h0M1647 1183h0M1608 1269h0M1567 1156h0M1623 1292h0M1560 1278h0M1610 1282h0M1555 1252h0M1696 1246h0M1631 1117h0M1524 1312h0M1712 1197h0M1648 1157h0M1571 1273h0" stroke="#d75530" stroke-width="5.2" stroke-linecap="round" fill="none" opacity="0.92"/>
<path d="M1512 1168h0M1679 1128h0M1718 1169h0M1576 1240h0M1515 1317h0M1586 1159h0M1569 1165h0M1477 1267h0M1606 1212h0M1620 1299h0M1542 1163h0M1611 1202h0M1517 1288h0M1534 1320h0M1623 1268h0M1635 1195h0M1544 1326h0M1643 1288h0M1515 1216h0M1479 1233h0M1669 1233h0M1645 1225h0M1610 1141h0M1560 1286h0M1543 1309h0" stroke="#c63b3d" stroke-width="5.2" stroke-linecap="round" fill="none" opacity="0.92"/>
<path d="M1510 1183h0M1605 1098h0M1731 1179h0M1588 1223h0M1555 1335h0M1586 1115h0M1664 1233h0M1689 1150h0M1512 1204h0M1511 1280h0M1584 1192h0M1652 1113h0M1562 1154h0M1678 1128h0M1501 1212h0M1583 1294h0M1695 1231h0M1561 1176h0M1639 1132h0M1557 1153h0M1572 1319h0M1708 1200h0M1629 1306h0M1555 1281h0M1607 1338h0M1554 1329h0M1659 1098h0M1566 1212h0M1560 1202h0M1526 1253h0M1529 1220h0M1614 1279h0M1715 1147h0M1518 1289h0M1623 1141h0M1559 1221h0M1578 1152h0M1608 1081h0M1647 1288h0M1550 1308h0M1643 1221h0M1651 1178h0M1536 1281h0M1530 1151h0M1619 1310h0M1561 1306h0M1620 1229h0M1699 1178h0M1546 1328h0M1515 1312h0M1579 1119h0M1618 1209h0M1529 1177h0M1643 1142h0M1517 1256h0M1522 1297h0M1552 1326h0M1534 1147h0" stroke="#6ad3ad" stroke-width="5.2" stroke-linecap="round" fill="none" opacity="0.92"/>
<path d="M1650 1265h0M1644 1225h0M1632 1327h0M1557 1327h0M1616 1114h0M1593 1301h0M1615 1111h0M1601 1172h0M1553 1199h0M1709 1168h0M1615 1158h0M1502 1303h0M1649 1236h0M1631 1178h0M1596 1110h0M1531 1218h0M1612 1308h0M1560 1254h0M1656 1192h0M1587 1342h0M1542 1293h0M1566 1190h0M1717 1162h0M1497 1199h0M1659 1245h0M1558 1343h0M1664 1278h0M1671 1141h0M1689 1120h0M1560 1144h0M1590 1320h0M1589 1112h0M1697 1159h0M1506 1305h0M1644 1247h0M1519 1304h0M1510 1227h0M1513 1182h0M1621 1211h0M1669 1247h0M1678 1128h0M1557 1174h0M1683 1260h0M1534 1174h0M1581 1115h0M1623 1293h0M1576 1301h0M1573 1198h0M1629 1191h0M1603 1342h0M1677 1228h0M1567 1299h0M1556 1230h0M1588 1149h0M1636 1230h0M1499 1185h0M1688 1168h0M1548 1288h0M1605 1223h0M1661 1175h0M1508 1300h0M1520 1220h0M1552 1169h0M1548 1328h0M1511 1203h0M1492 1207h0M1576 1345h0M1534 1216h0M1528 1195h0M1633 1243h0M1573 1345h0M1592 1172h0M1614 1266h0M1681 1124h0M1601 1303h0M1562 1251h0M1642 1232h0M1601 1308h0M1651 1178h0M1561 1298h0M1602 1111h0M1682 1149h0M1657 1188h0M1603 1292h0M1565 1327h0M1558 1209h0M1493 1255h0M1588 1314h0M1655 1124h0M1619 1309h0M1605 1311h0M1568 1298h0M1519 1285h0M1671 1262h0M1515 1322h0M1491 1258h0M1520 1208h0M1695 1137h0M1534 1247h0M1514 1173h0M1652 1186h0M1579 1119h0M1634 1260h0M1545 1333h0" stroke="#3dc4af" stroke-width="5.2" stroke-linecap="round" fill="none" opacity="0.92"/>
</g>
<defs><linearGradient id="cb" x1="0" y1="1" x2="0" y2="0"><stop offset="0%" stop-color="#5a4fa1"/><stop offset="8%" stop-color="#3a6fb0"/><stop offset="13%" stop-color="#1888b8"/><stop offset="20%" stop-color="#10a8b6"/><stop offset="26%" stop-color="#30c0b0"/><stop offset="31%" stop-color="#5ccfae"/><stop offset="38%" stop-color="#9fe3a8"/><stop offset="45%" stop-color="#d2f1a6"/><stop offset="50%" stop-color="#eaf5ab"/><stop offset="56%" stop-color="#fbe89b"/><stop offset="63%" stop-color="#fad078"/><stop offset="70%" stop-color="#f6b04c"/><stop offset="77%" stop-color="#f08c1f"/><stop offset="85%" stop-color="#e0622a"/><stop offset="92%" stop-color="#c83d3c"/><stop offset="100%" stop-color="#a0174c"/></linearGradient></defs>
<rect x="1841.2" y="1130.5" width="38.4" height="192" fill="url(#cb)"/>
<line x1="1841.2" y1="1274.5" x2="1848.9" y2="1274.5" stroke="#fff" stroke-width="1.4"/>
<line x1="1871.9" y1="1274.5" x2="1879.6" y2="1274.5" stroke="#fff" stroke-width="1.4"/>
<line x1="1841.2" y1="1226.5" x2="1848.9" y2="1226.5" stroke="#fff" stroke-width="1.4"/>
<line x1="1871.9" y1="1226.5" x2="1879.6" y2="1226.5" stroke="#fff" stroke-width="1.4"/>
<line x1="1841.2" y1="1178.5" x2="1848.9" y2="1178.5" stroke="#fff" stroke-width="1.4"/>
<line x1="1871.9" y1="1178.5" x2="1879.6" y2="1178.5" stroke="#fff" stroke-width="1.4"/>
<text x="1886.6" y="1140" font-size="25.2">1.00</text>
<text x="1886.6" y="1188" font-size="25.2">0.75</text>
<text x="1886.6" y="1236" font-size="25.2">0.50</text>
<text x="1886.6" y="1284" font-size="25.2">0.25</text>
<text x="1886.6" y="1332" font-size="25.2">0.00</text>
<text x="1747" y="1103.6" font-size="30.6">Scaled expression</text>
<text x="363.2" y="1538.3" font-size="35.5"><tspan>VOC neutralization after breakthrough infection and 4</tspan><tspan font-size="23.4" dy="-12.1">th</tspan><tspan dy="12.1"> vaccination</tspan></text>
<line x1="133.4" y1="1687.5" x2="133.4" y2="2103.5" stroke="#000" stroke-width="2.6"/>
<line x1="123.8" y1="2102.2" x2="133.4" y2="2102.2" stroke="#000" stroke-width="2.6"/>
<line x1="123.8" y1="1894.8" x2="133.4" y2="1894.8" stroke="#000" stroke-width="2.6"/>
<line x1="123.8" y1="1687.5" x2="133.4" y2="1687.5" stroke="#000" stroke-width="2.6"/>
<line x1="128.4" y1="1998.5" x2="133.4" y2="1998.5" stroke="#000" stroke-width="2.6"/>
<line x1="128.4" y1="1791.2" x2="133.4" y2="1791.2" stroke="#000" stroke-width="2.6"/>
<text x="109.5" y="1698.3" font-size="25.8" text-anchor="end">5000</text>
<text x="109.5" y="1905.1" font-size="25.8" text-anchor="end">2500</text>
<text x="108" y="2111.8" font-size="25.8" text-anchor="end">0</text>
<line x1="123.8" y1="2102.2" x2="479.7" y2="2102.2" stroke="#000" stroke-width="2.6"/>
<line x1="136.9" y1="2102.2" x2="136.9" y2="2109.2" stroke="#000" stroke-width="2.6"/>
<text transform="translate(152.3 2131.3) rotate(-45)" x="0" y="0" font-size="25.8" text-anchor="end">0</text>
<line x1="241.5" y1="2102.2" x2="241.5" y2="2109.2" stroke="#000" stroke-width="2.6"/>
<text transform="translate(256.9 2131.3) rotate(-45)" x="0" y="0" font-size="25.8" text-anchor="end">30</text>
<line x1="346.1" y1="2102.2" x2="346.1" y2="2109.2" stroke="#000" stroke-width="2.6"/>
<text transform="translate(361.5 2131.3) rotate(-45)" x="0" y="0" font-size="25.8" text-anchor="end">60</text>
<line x1="450.7" y1="2102.2" x2="450.7" y2="2109.2" stroke="#000" stroke-width="2.6"/>
<text transform="translate(466.1 2131.3) rotate(-45)" x="0" y="0" font-size="25.8" text-anchor="end">90</text>
<text x="309.9" y="1682" font-size="26.4" text-anchor="middle">B.1.1.529 infection</text>
<line x1="683.8" y1="1687.5" x2="683.8" y2="2104.1" stroke="#000" stroke-width="2.6"/>
<line x1="674.2" y1="2102.8" x2="683.8" y2="2102.8" stroke="#000" stroke-width="2.6"/>
<line x1="674.2" y1="1895.2" x2="683.8" y2="1895.2" stroke="#000" stroke-width="2.6"/>
<line x1="674.2" y1="1687.5" x2="683.8" y2="1687.5" stroke="#000" stroke-width="2.6"/>
<line x1="678.8" y1="1999" x2="683.8" y2="1999" stroke="#000" stroke-width="2.6"/>
<line x1="678.8" y1="1791.3" x2="683.8" y2="1791.3" stroke="#000" stroke-width="2.6"/>
<text x="661" y="1698.3" font-size="25.8" text-anchor="end">5000</text>
<text x="661" y="1905.5" font-size="25.8" text-anchor="end">2500</text>
<text x="659.5" y="2112.4" font-size="25.8" text-anchor="end">0</text>
<line x1="673.8" y1="2102.8" x2="1030.4" y2="2102.8" stroke="#000" stroke-width="2.6"/>
<line x1="685.2" y1="2102.8" x2="685.2" y2="2109.8" stroke="#000" stroke-width="2.6"/>
<text transform="translate(700.6 2131.9) rotate(-45)" x="0" y="0" font-size="25.8" text-anchor="end">0</text>
<line x1="789.8" y1="2102.8" x2="789.8" y2="2109.8" stroke="#000" stroke-width="2.6"/>
<text transform="translate(805.2 2131.9) rotate(-45)" x="0" y="0" font-size="25.8" text-anchor="end">30</text>
<line x1="894.4" y1="2102.8" x2="894.4" y2="2109.8" stroke="#000" stroke-width="2.6"/>
<text transform="translate(909.8 2131.9) rotate(-45)" x="0" y="0" font-size="25.8" text-anchor="end">60</text>
<line x1="999" y1="2102.8" x2="999" y2="2109.8" stroke="#000" stroke-width="2.6"/>
<text transform="translate(1014.4 2131.9) rotate(-45)" x="0" y="0" font-size="25.8" text-anchor="end">90</text>
<text x="858" y="1682" font-size="26.4" text-anchor="middle">B.1.617.2 infection</text>
<line x1="1238.7" y1="1687.5" x2="1238.7" y2="2104.5" stroke="#000" stroke-width="2.6"/>
<line x1="1229.1" y1="2103.2" x2="1238.7" y2="2103.2" stroke="#000" stroke-width="2.6"/>
<line x1="1229.1" y1="1895.3" x2="1238.7" y2="1895.3" stroke="#000" stroke-width="2.6"/>
<line x1="1229.1" y1="1687.5" x2="1238.7" y2="1687.5" stroke="#000" stroke-width="2.6"/>
<line x1="1233.7" y1="1999.3" x2="1238.7" y2="1999.3" stroke="#000" stroke-width="2.6"/>
<line x1="1233.7" y1="1791.4" x2="1238.7" y2="1791.4" stroke="#000" stroke-width="2.6"/>
<text x="1219.1" y="1698.3" font-size="25.8" text-anchor="end">5000</text>
<text x="1219.1" y="1905.6" font-size="25.8" text-anchor="end">2500</text>
<text x="1217.6" y="2112.8" font-size="25.8" text-anchor="end">0</text>
<line x1="1228.4" y1="2103.2" x2="1585.2" y2="2103.2" stroke="#000" stroke-width="2.6"/>
<line x1="1241.2" y1="2103.2" x2="1241.2" y2="2110.2" stroke="#000" stroke-width="2.6"/>
<text transform="translate(1256.6 2132.3) rotate(-45)" x="0" y="0" font-size="25.8" text-anchor="end">0</text>
<line x1="1345.8" y1="2103.2" x2="1345.8" y2="2110.2" stroke="#000" stroke-width="2.6"/>
<text transform="translate(1361.2 2132.3) rotate(-45)" x="0" y="0" font-size="25.8" text-anchor="end">30</text>
<line x1="1450.4" y1="2103.2" x2="1450.4" y2="2110.2" stroke="#000" stroke-width="2.6"/>
<text transform="translate(1465.8 2132.3) rotate(-45)" x="0" y="0" font-size="25.8" text-anchor="end">60</text>
<line x1="1555" y1="2103.2" x2="1555" y2="2110.2" stroke="#000" stroke-width="2.6"/>
<text transform="translate(1570.4 2132.3) rotate(-45)" x="0" y="0" font-size="25.8" text-anchor="end">90</text>
<text x="1390" y="1682" font-size="26.4" text-anchor="middle"></text>
<text x="1390" y="1682.6" font-size="26.4" text-anchor="middle"><tspan>4</tspan><tspan font-size="17.4" dy="-9">th</tspan><tspan dy="9"> vaccination</tspan></text>
<text transform="translate(20.5 1892) rotate(-90)" x="0" y="0" font-size="26" text-anchor="middle">PRNT50</text>
<text x="868.6" y="2192.5" font-size="26.7" text-anchor="middle"><tspan>days post symptom onset / 4</tspan><tspan font-size="17.6" dy="-9.1">th</tspan><tspan dy="9.1"> vaccination</tspan></text>
<text x="476.4" y="1803.8" font-size="23.2" text-anchor="end"><tspan>p</tspan><tspan font-size="15.8" dy="5.1">v</tspan><tspan dy="-5.1"> = 5.5 x 10</tspan><tspan font-size="15.3" dy="-7.9">-13</tspan></text>
<text x="477.8" y="1833.9" font-size="23.2" text-anchor="end"><tspan>p</tspan><tspan font-size="15.8" dy="5.1">t</tspan><tspan dy="-5.1"> = 1.3 x 10</tspan><tspan font-size="15.3" dy="-7.9">-14</tspan></text>
<text x="936.7" y="1823.4" font-size="23.2"><tspan>p</tspan><tspan font-size="15.8" dy="5.1">v</tspan><tspan dy="-5.1"> = 0.0040</tspan></text>
<text x="938.8" y="1852.3" font-size="23.2"><tspan>p</tspan><tspan font-size="15.8" dy="5.1">t</tspan><tspan dy="-5.1"> = 3.6 x 10</tspan><tspan font-size="15.3" dy="-7.9">-8</tspan></text>
<text x="1555.8" y="1812.5" font-size="23.2" text-anchor="end"><tspan>p</tspan><tspan font-size="15.8" dy="5.1">v</tspan><tspan dy="-5.1"> = 0.0001</tspan></text>
<text x="1555.8" y="1841" font-size="23.2" text-anchor="end"><tspan>p</tspan><tspan font-size="15.8" dy="5.1">t</tspan><tspan dy="-5.1"> = 0.0754</tspan></text>
<text x="1658.8" y="1707.6" font-size="26">Neutralization</text>
<text x="1658.8" y="1738" font-size="26">against</text>
<circle cx="1667.1" cy="1768.9" r="6.3" fill="#fff" stroke="#000" stroke-width="1.4"/>
<circle cx="1667.1" cy="1804.2" r="6.3" fill="#808080" stroke="#000" stroke-width="1.4"/>
<circle cx="1667.1" cy="1836.1" r="6.8" fill="#000"/>
<text x="1691.6" y="1774.8" font-size="26">B.1.1.529</text>
<text x="1694" y="1811.5" font-size="26">B.1.617.2</text>
<text x="1693" y="1843.4" font-size="26">B.1</text>
<path d="M138.3 2039.2L245.9 1820.2M152 2061.7L221.8 1763.2M152 2014.6L245.9 2059.8M148.7 2092.6L256 1763.2M156.1 2008.3L204 2087.2M141.8 2078.9L221.8 1906.4M148.7 2008.3L249.2 1763.2M152.5 2057.6L225.1 1914.1M152 2014.6L245.9 1941.2M152 2031.6L291.6 1988M152.5 2057.6L221.8 1763.2M176.6 2075.4L291.6 1763.2M176.6 2058.4L221.8 1964.5M148.7 2070.7L176.6 2063.9M156.1 2008.3L176.6 2049.4M179.9 2080.3L245.9 1820.2M156.1 2008.3L172.5 1909.7M148.7 2008.3L291.6 1988M138.3 2054.3L211.4 1833.9M148.7 2092.6L291.6 1763.2M179.9 2061.7L245.9 2059.8M166.2 2098.1L225.1 1864M179.9 1763.2L291.6 1763.2M172.5 1909.7L221.8 1897.7M172.5 1897.7L221.8 1957.1M211.4 1833.9L245.9 1941.2M245.9 1820.2L294.4 1931.1M249.7 1980.4L253.3 2008.3M221.8 2026.9L256 2026.9M221.8 2054.8L245.9 2059.8M245.9 2059.8L294.4 2072.9M204 2087.2L253.3 2085.8M201.3 1763.2L225.1 1864M256 1763.2L294.4 1975.7M249.2 1763.2L291.6 1988M239 1763.2L294.4 1931.1M221.8 1763.2L197.2 1953" stroke="#d2d2d2" stroke-width="1" fill="none"/>
<circle cx="172.5" cy="1938.8" r="3.9" fill="#fff" stroke="#000" stroke-width="1.3"/>
<circle cx="239" cy="1878.2" r="3.9" fill="#fff" stroke="#000" stroke-width="1.3"/>
<circle cx="221.8" cy="1964.5" r="3.9" fill="#fff" stroke="#000" stroke-width="1.3"/>
<circle cx="249.7" cy="1980.4" r="3.9" fill="#fff" stroke="#000" stroke-width="1.3"/>
<circle cx="211.4" cy="2012.4" r="3.9" fill="#fff" stroke="#000" stroke-width="1.3"/>
<circle cx="221.8" cy="2026.1" r="3.9" fill="#fff" stroke="#000" stroke-width="1.3"/>
<circle cx="225.1" cy="2026.9" r="3.9" fill="#fff" stroke="#000" stroke-width="1.3"/>
<circle cx="256" cy="2026.9" r="3.9" fill="#fff" stroke="#000" stroke-width="1.3"/>
<circle cx="291.1" cy="2001.5" r="3.9" fill="#fff" stroke="#000" stroke-width="1.3"/>
<circle cx="197.2" cy="2039.2" r="3.9" fill="#fff" stroke="#000" stroke-width="1.3"/>
<circle cx="201.3" cy="2039.8" r="3.9" fill="#fff" stroke="#000" stroke-width="1.3"/>
<circle cx="201.3" cy="2047.5" r="3.9" fill="#fff" stroke="#000" stroke-width="1.3"/>
<circle cx="211.4" cy="2041.2" r="3.9" fill="#fff" stroke="#000" stroke-width="1.3"/>
<circle cx="221.8" cy="2054.8" r="3.9" fill="#fff" stroke="#000" stroke-width="1.3"/>
<circle cx="245.9" cy="2059.8" r="3.9" fill="#fff" stroke="#000" stroke-width="1.3"/>
<circle cx="294.4" cy="2072.9" r="3.9" fill="#fff" stroke="#000" stroke-width="1.3"/>
<circle cx="179.9" cy="2061.7" r="3.9" fill="#fff" stroke="#000" stroke-width="1.3"/>
<circle cx="176.6" cy="2075.4" r="3.9" fill="#fff" stroke="#000" stroke-width="1.3"/>
<circle cx="179.9" cy="2080.3" r="3.9" fill="#fff" stroke="#000" stroke-width="1.3"/>
<circle cx="197.2" cy="2078.1" r="3.9" fill="#fff" stroke="#000" stroke-width="1.3"/>
<circle cx="204" cy="2087.2" r="3.9" fill="#fff" stroke="#000" stroke-width="1.3"/>
<circle cx="253.3" cy="2085.8" r="3.9" fill="#fff" stroke="#000" stroke-width="1.3"/>
<circle cx="162.9" cy="2085.8" r="3.9" fill="#fff" stroke="#000" stroke-width="1.3"/>
<circle cx="149.2" cy="2084.4" r="3.9" fill="#fff" stroke="#000" stroke-width="1.3"/>
<circle cx="148.7" cy="2070.7" r="3.9" fill="#fff" stroke="#000" stroke-width="1.3"/>
<circle cx="152" cy="2061.7" r="3.9" fill="#fff" stroke="#000" stroke-width="1.3"/>
<circle cx="156.1" cy="2096.7" r="3.9" fill="#fff" stroke="#000" stroke-width="1.3"/>
<circle cx="166.2" cy="2098.1" r="3.9" fill="#fff" stroke="#000" stroke-width="1.3"/>
<circle cx="176.6" cy="2094.8" r="3.9" fill="#fff" stroke="#000" stroke-width="1.3"/>
<circle cx="142.4" cy="2101.4" r="3.9" fill="#fff" stroke="#000" stroke-width="1.3"/>
<circle cx="147.9" cy="2101.4" r="3.9" fill="#fff" stroke="#000" stroke-width="1.3"/>
<circle cx="139" cy="2100" r="3.9" fill="#fff" stroke="#000" stroke-width="1.3"/>
<circle cx="152" cy="2099" r="3.9" fill="#fff" stroke="#000" stroke-width="1.3"/>
<circle cx="204" cy="1763.2" r="3.9" fill="#808080" stroke="#000" stroke-width="1.3"/>
<circle cx="197.2" cy="1816.9" r="3.9" fill="#808080" stroke="#000" stroke-width="1.3"/>
<circle cx="172.5" cy="1897.7" r="3.9" fill="#808080" stroke="#000" stroke-width="1.3"/>
<circle cx="179.9" cy="1947.5" r="3.9" fill="#808080" stroke="#000" stroke-width="1.3"/>
<circle cx="245.9" cy="1820.2" r="3.9" fill="#808080" stroke="#000" stroke-width="1.3"/>
<circle cx="225.1" cy="1914.1" r="3.9" fill="#808080" stroke="#000" stroke-width="1.3"/>
<circle cx="294.4" cy="1931.1" r="3.9" fill="#808080" stroke="#000" stroke-width="1.3"/>
<circle cx="221.8" cy="1957.1" r="3.9" fill="#808080" stroke="#000" stroke-width="1.3"/>
<circle cx="201.3" cy="1965.9" r="3.9" fill="#808080" stroke="#000" stroke-width="1.3"/>
<circle cx="201.3" cy="1974.9" r="3.9" fill="#808080" stroke="#000" stroke-width="1.3"/>
<circle cx="221.8" cy="1979.6" r="3.9" fill="#808080" stroke="#000" stroke-width="1.3"/>
<circle cx="197.2" cy="1988" r="3.9" fill="#808080" stroke="#000" stroke-width="1.3"/>
<circle cx="179.9" cy="1995.4" r="3.9" fill="#808080" stroke="#000" stroke-width="1.3"/>
<circle cx="152.5" cy="1988.6" r="3.9" fill="#808080" stroke="#000" stroke-width="1.3"/>
<circle cx="148.7" cy="1996.3" r="3.9" fill="#808080" stroke="#000" stroke-width="1.3"/>
<circle cx="162.9" cy="2018.7" r="3.9" fill="#808080" stroke="#000" stroke-width="1.3"/>
<circle cx="156.1" cy="2023.6" r="3.9" fill="#808080" stroke="#000" stroke-width="1.3"/>
<circle cx="148.7" cy="2031.6" r="3.9" fill="#808080" stroke="#000" stroke-width="1.3"/>
<circle cx="253.3" cy="2008.3" r="3.9" fill="#808080" stroke="#000" stroke-width="1.3"/>
<circle cx="291.6" cy="1988" r="3.9" fill="#808080" stroke="#000" stroke-width="1.3"/>
<circle cx="138.3" cy="2054.3" r="3.9" fill="#808080" stroke="#000" stroke-width="1.3"/>
<circle cx="152.5" cy="2057.6" r="3.9" fill="#808080" stroke="#000" stroke-width="1.3"/>
<circle cx="166.2" cy="2058.4" r="3.9" fill="#808080" stroke="#000" stroke-width="1.3"/>
<circle cx="176.6" cy="2049.4" r="3.9" fill="#808080" stroke="#000" stroke-width="1.3"/>
<circle cx="176.6" cy="2063.9" r="3.9" fill="#808080" stroke="#000" stroke-width="1.3"/>
<circle cx="138.3" cy="2080.3" r="3.9" fill="#808080" stroke="#000" stroke-width="1.3"/>
<circle cx="141.8" cy="2078.9" r="3.9" fill="#808080" stroke="#000" stroke-width="1.3"/>
<circle cx="138.3" cy="2087.2" r="3.9" fill="#808080" stroke="#000" stroke-width="1.3"/>
<circle cx="148.7" cy="2092.6" r="3.9" fill="#808080" stroke="#000" stroke-width="1.3"/>
<circle cx="179.9" cy="1763.2" r="4.3" fill="#000"/>
<circle cx="197.2" cy="1763.2" r="4.3" fill="#000"/>
<circle cx="210.8" cy="1763.2" r="4.3" fill="#000"/>
<circle cx="221.8" cy="1763.2" r="4.3" fill="#000"/>
<circle cx="239" cy="1763.2" r="4.3" fill="#000"/>
<circle cx="249.2" cy="1763.2" r="4.3" fill="#000"/>
<circle cx="256" cy="1763.2" r="4.3" fill="#000"/>
<circle cx="291.6" cy="1763.2" r="4.3" fill="#000"/>
<circle cx="201.3" cy="1817.7" r="4.3" fill="#000"/>
<circle cx="211.4" cy="1833.9" r="4.3" fill="#000"/>
<circle cx="201.3" cy="1848.9" r="4.3" fill="#000"/>
<circle cx="225.1" cy="1864" r="4.3" fill="#000"/>
<circle cx="221.8" cy="1897.7" r="4.3" fill="#000"/>
<circle cx="221.8" cy="1906.4" r="4.3" fill="#000"/>
<circle cx="172.5" cy="1909.7" r="4.3" fill="#000"/>
<circle cx="245.9" cy="1941.2" r="4.3" fill="#000"/>
<circle cx="197.2" cy="1953" r="4.3" fill="#000"/>
<circle cx="294.4" cy="1975.7" r="4.3" fill="#000"/>
<circle cx="138.8" cy="1992.7" r="4.3" fill="#000"/>
<circle cx="148.7" cy="1998.7" r="4.3" fill="#000"/>
<circle cx="148.7" cy="2008.3" r="4.3" fill="#000"/>
<circle cx="156.1" cy="2008.3" r="4.3" fill="#000"/>
<circle cx="152" cy="2014.6" r="4.3" fill="#000"/>
<circle cx="152" cy="2031.6" r="4.3" fill="#000"/>
<circle cx="166.2" cy="2010.5" r="4.3" fill="#000"/>
<circle cx="166.2" cy="2026.1" r="4.3" fill="#000"/>
<circle cx="176.6" cy="2027.7" r="4.3" fill="#000"/>
<circle cx="138.3" cy="2039.2" r="4.3" fill="#000"/>
<circle cx="138.3" cy="2044.7" r="4.3" fill="#000"/>
<circle cx="141.6" cy="2063.9" r="4.3" fill="#000"/>
<circle cx="156.1" cy="2066.6" r="4.3" fill="#000"/>
<circle cx="145.1" cy="2076.2" r="4.3" fill="#000"/>
<circle cx="176.6" cy="2058.4" r="4.3" fill="#000"/>
<circle cx="183.5" cy="2070.7" r="4.3" fill="#000"/>
<circle cx="138.3" cy="2095.4" r="4.3" fill="#000"/>
<circle cx="148.7" cy="2096.7" r="4.3" fill="#000"/>
<circle cx="137.5" cy="2088" r="4.3" fill="#000"/>
<circle cx="150" cy="2090" r="4.3" fill="#000"/>
<polyline points="684.4,2041 692.4,2076.3 716.6,2047.3 733.6,1763.1 910.2,1763.1 983.7,1763.1" fill="none" stroke="#000" stroke-width="1.2" stroke-linejoin="round"/>
<polyline points="684.4,2051.6 692.4,2051.6 716.6,2068.7 737,1763.1 902.5,1763.1 976.6,1763.1" fill="none" stroke="#000" stroke-width="1.2" stroke-linejoin="round"/>
<polyline points="684.4,2092.9 692.4,2094.9 716.6,2092.3 742.8,1763.1 812,1763.1 906.5,1911.2 980,1968.4" fill="none" stroke="#000" stroke-width="1.2" stroke-linejoin="round"/>
<circle cx="684.4" cy="2092.9" r="3.9" fill="#fff" stroke="#000" stroke-width="1.3"/>
<circle cx="692.4" cy="2094.9" r="3.9" fill="#fff" stroke="#000" stroke-width="1.3"/>
<circle cx="716.6" cy="2092.3" r="3.9" fill="#fff" stroke="#000" stroke-width="1.3"/>
<circle cx="742.8" cy="1763.1" r="3.9" fill="#fff" stroke="#000" stroke-width="1.3"/>
<circle cx="739.5" cy="1763.1" r="3.9" fill="#fff" stroke="#000" stroke-width="1.3"/>
<circle cx="812" cy="1763.1" r="3.9" fill="#fff" stroke="#000" stroke-width="1.3"/>
<circle cx="906.5" cy="1911.2" r="3.9" fill="#fff" stroke="#000" stroke-width="1.3"/>
<circle cx="980" cy="1968.4" r="3.9" fill="#fff" stroke="#000" stroke-width="1.3"/>
<circle cx="684.4" cy="2051.6" r="3.9" fill="#808080" stroke="#000" stroke-width="1.3"/>
<circle cx="692.4" cy="2051.6" r="3.9" fill="#808080" stroke="#000" stroke-width="1.3"/>
<circle cx="716.6" cy="2068.7" r="3.9" fill="#808080" stroke="#000" stroke-width="1.3"/>
<circle cx="737" cy="1763.1" r="3.9" fill="#808080" stroke="#000" stroke-width="1.3"/>
<circle cx="814.8" cy="1763.1" r="3.9" fill="#808080" stroke="#000" stroke-width="1.3"/>
<circle cx="902.5" cy="1763.1" r="3.9" fill="#808080" stroke="#000" stroke-width="1.3"/>
<circle cx="976.6" cy="1763.1" r="3.9" fill="#808080" stroke="#000" stroke-width="1.3"/>
<circle cx="684.4" cy="2041" r="4.3" fill="#000"/>
<circle cx="692.4" cy="2076.3" r="4.3" fill="#000"/>
<circle cx="716.6" cy="2047.3" r="4.3" fill="#000"/>
<circle cx="733.6" cy="1763.1" r="4.3" fill="#000"/>
<circle cx="819" cy="1763.1" r="4.3" fill="#000"/>
<circle cx="910.2" cy="1763.1" r="4.3" fill="#000"/>
<circle cx="983.7" cy="1763.1" r="4.3" fill="#000"/>
<polyline points="1265.7,2077.7 1272,2073.8 1289.7,2077.7 1313.7,2085 1338.2,2068.9" fill="none" stroke="#cfcfcf" stroke-width="2" stroke-linejoin="round"/>
<polyline points="1272,2073.8 1300,2092.4 1351.9,2085 1400.5,2083.6 1466.1,2098.3" fill="none" stroke="#cfcfcf" stroke-width="2" stroke-linejoin="round"/>
<polyline points="1362.2,2094.9 1431.3,2098.3" fill="none" stroke="#cfcfcf" stroke-width="2" stroke-linejoin="round"/>
<polyline points="1265.7,1997.8 1289.7,1984.6 1313.7,2001.2 1338.2,1972.3" fill="none" stroke="#808080" stroke-width="2" stroke-linejoin="round"/>
<polyline points="1272,2067.4 1300,2044.9 1351.9,2013.5 1362.2,2010.1 1431.3,2041.5 1466.1,2032.1" fill="none" stroke="#808080" stroke-width="2" stroke-linejoin="round"/>
<polyline points="1362.2,2010.1 1400.5,2010.1 1466.1,2032.1" fill="none" stroke="#808080" stroke-width="2" stroke-linejoin="round"/>
<polyline points="1265.7,1854.2 1289.7,1763.5 1313.7,1763.5 1338.2,1763.5" fill="none" stroke="#333" stroke-width="2" stroke-linejoin="round"/>
<polyline points="1362.2,1763.5 1431.3,2031.1 1466.1,2032.1" fill="none" stroke="#333" stroke-width="2" stroke-linejoin="round"/>
<polyline points="1272,2032.1 1300,2038 1351.9,2024.8 1400.5,2048.3 1466.1,2032.1" fill="none" stroke="#333" stroke-width="2" stroke-linejoin="round"/>
<circle cx="1265.7" cy="2077.7" r="4.6" fill="#fff" stroke="#000" stroke-width="1.3"/>
<circle cx="1272" cy="2073.8" r="4.6" fill="#fff" stroke="#000" stroke-width="1.3"/>
<circle cx="1289.7" cy="2077.7" r="4.6" fill="#fff" stroke="#000" stroke-width="1.3"/>
<circle cx="1313.7" cy="2085" r="4.6" fill="#fff" stroke="#000" stroke-width="1.3"/>
<circle cx="1338.2" cy="2068.9" r="4.6" fill="#fff" stroke="#000" stroke-width="1.3"/>
<circle cx="1300" cy="2092.4" r="4.6" fill="#fff" stroke="#000" stroke-width="1.3"/>
<circle cx="1351.9" cy="2085" r="4.6" fill="#fff" stroke="#000" stroke-width="1.3"/>
<circle cx="1400.5" cy="2083.6" r="4.6" fill="#fff" stroke="#000" stroke-width="1.3"/>
<circle cx="1466.1" cy="2098.3" r="4.6" fill="#fff" stroke="#000" stroke-width="1.3"/>
<circle cx="1362.2" cy="2094.9" r="4.6" fill="#fff" stroke="#000" stroke-width="1.3"/>
<circle cx="1431.3" cy="2098.3" r="4.6" fill="#fff" stroke="#000" stroke-width="1.3"/>
<circle cx="1265.7" cy="1997.8" r="4.6" fill="#808080" stroke="#000" stroke-width="1.3"/>
<circle cx="1289.7" cy="1984.6" r="4.6" fill="#808080" stroke="#000" stroke-width="1.3"/>
<circle cx="1313.7" cy="2001.2" r="4.6" fill="#808080" stroke="#000" stroke-width="1.3"/>
<circle cx="1338.2" cy="1972.3" r="4.6" fill="#808080" stroke="#000" stroke-width="1.3"/>
<circle cx="1272" cy="2067.4" r="4.6" fill="#808080" stroke="#000" stroke-width="1.3"/>
<circle cx="1300" cy="2044.9" r="4.6" fill="#808080" stroke="#000" stroke-width="1.3"/>
<circle cx="1351.9" cy="2013.5" r="4.6" fill="#808080" stroke="#000" stroke-width="1.3"/>
<circle cx="1362.2" cy="2010.1" r="4.6" fill="#808080" stroke="#000" stroke-width="1.3"/>
<circle cx="1400.5" cy="2010.1" r="4.6" fill="#808080" stroke="#000" stroke-width="1.3"/>
<circle cx="1431.3" cy="2041.5" r="4.6" fill="#808080" stroke="#000" stroke-width="1.3"/>
<circle cx="1466.1" cy="2032.1" r="4.6" fill="#808080" stroke="#000" stroke-width="1.3"/>
<circle cx="1265.7" cy="1854.2" r="5.1" fill="#000"/>
<circle cx="1289.7" cy="1763.5" r="5.1" fill="#000"/>
<circle cx="1313.7" cy="1763.5" r="5.1" fill="#000"/>
<circle cx="1338.2" cy="1763.5" r="5.1" fill="#000"/>
<circle cx="1362.2" cy="1763.5" r="5.1" fill="#000"/>
<circle cx="1431.3" cy="2031.1" r="5.1" fill="#000"/>
<circle cx="1466.1" cy="2032.1" r="5.1" fill="#000"/>
<circle cx="1272" cy="2032.1" r="5.1" fill="#000"/>
<circle cx="1300" cy="2038" r="5.1" fill="#000"/>
<circle cx="1351.9" cy="2024.8" r="5.1" fill="#000"/>
<circle cx="1400.5" cy="2048.3" r="5.1" fill="#000"/>
</svg>
</body></html>
